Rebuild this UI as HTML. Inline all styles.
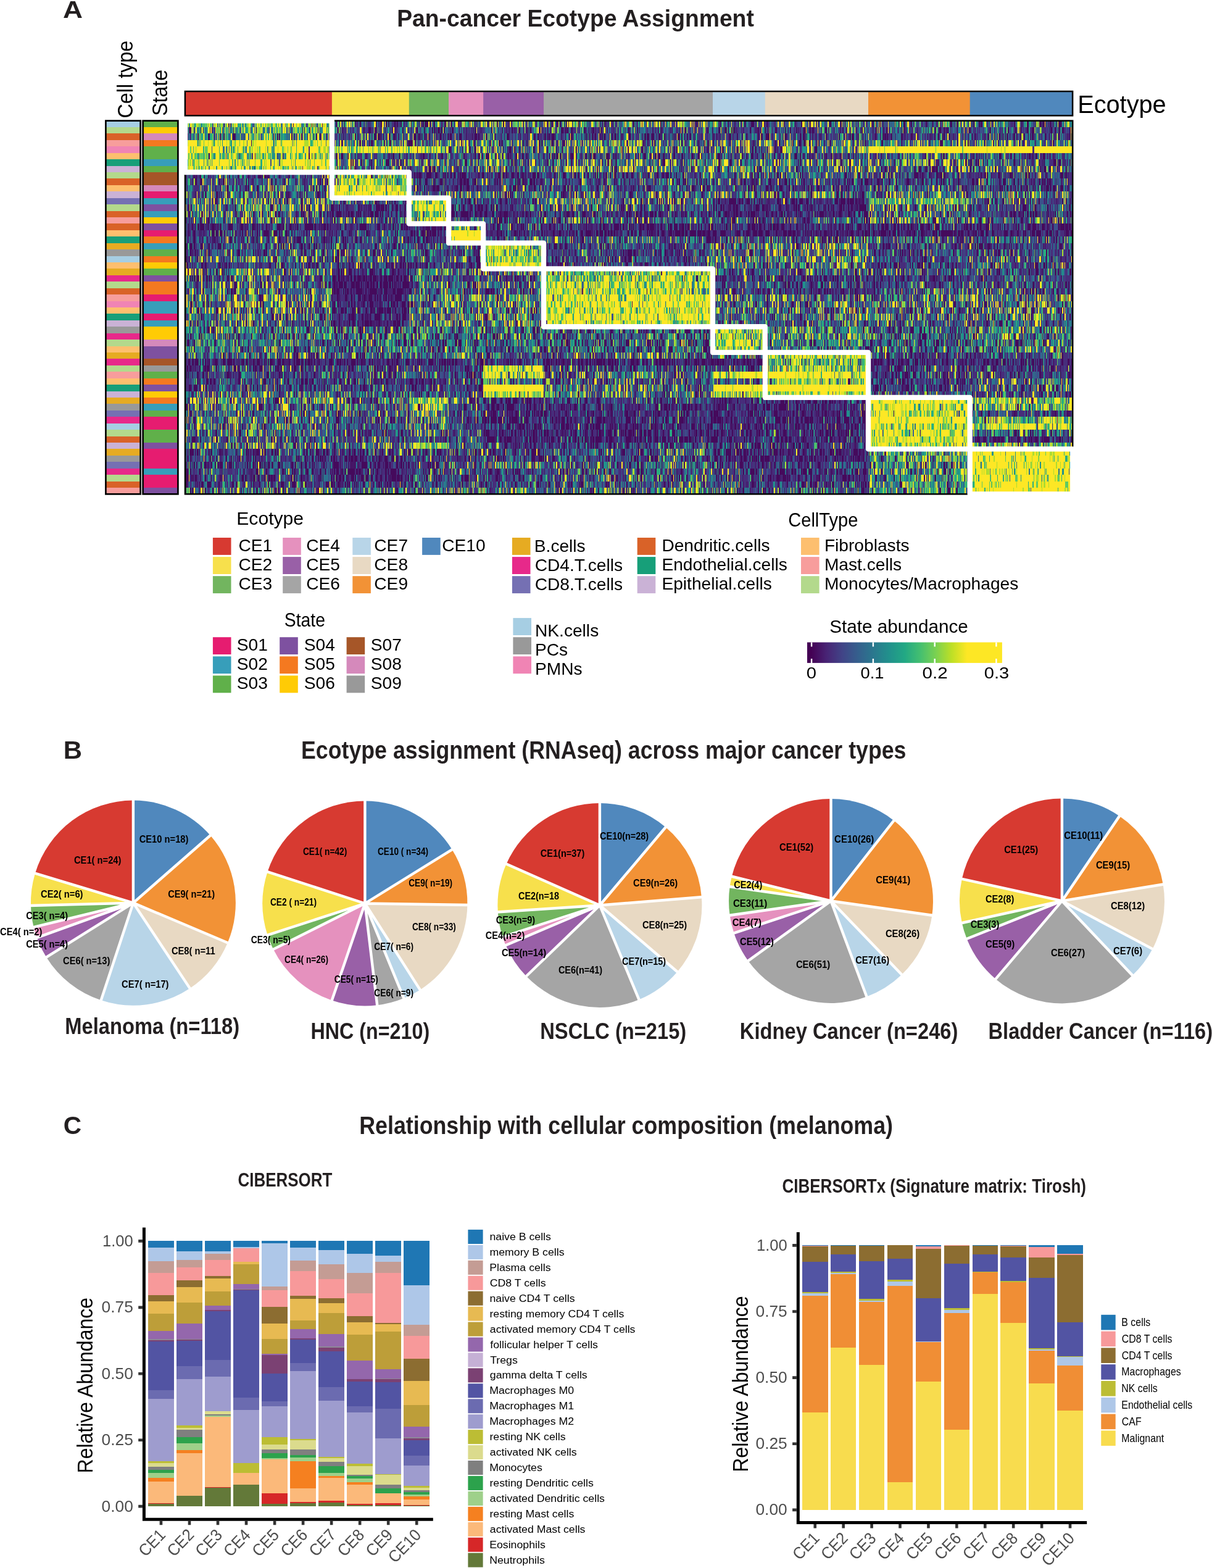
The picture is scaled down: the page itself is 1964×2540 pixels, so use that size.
<!DOCTYPE html>
<html lang="en"><head><meta charset="utf-8"><title>Pan-cancer Ecotype Assignment</title>
<style>html,body{margin:0;padding:0;background:#fff}svg{display:block}text{font-family:"Liberation Sans",sans-serif;white-space:pre}</style></head>
<body>
<svg width="1964" height="2540" viewBox="0 0 1964 2540">
<rect width="1964" height="2540" fill="#fff"/>
<defs><linearGradient id="vir" x1="0" x2="1" y1="0" y2="0"><stop offset="0.02" stop-color="#440154"/><stop offset="0.1" stop-color="#482475"/><stop offset="0.18" stop-color="#414487"/><stop offset="0.26" stop-color="#355F8D"/><stop offset="0.34" stop-color="#2A788E"/><stop offset="0.42" stop-color="#21918C"/><stop offset="0.5" stop-color="#22A884"/><stop offset="0.58" stop-color="#44BF70"/><stop offset="0.66" stop-color="#7AD151"/><stop offset="0.74" stop-color="#BDDF26"/><stop offset="0.82" stop-color="#FDE725"/></linearGradient></defs>
<text transform="translate(103.1 29) translate(-1.06 0) scale(1.1300 1)" font-size="39.24" font-weight="bold" fill="#231F20">A</text>
<text transform="translate(645.6 42.7) translate(-2.46 0) scale(0.9502 1)" font-size="39.24" font-weight="bold" fill="#231F20">Pan-cancer Ecotype Assignment</text>
<text transform="translate(215.4 190) rotate(-90) translate(-1.62 0) scale(0.9174 1)" font-size="35.32">Cell type</text>
<text transform="translate(271.3 186.4) rotate(-90) translate(-1.44 0) scale(0.9076 1)" font-size="35.32">State</text>
<text transform="translate(1749.4 182.7) translate(-3.26 0) scale(0.9595 1)" font-size="41.42">Ecotype</text>
<g shape-rendering="crispEdges">
<rect x="171.4" y="195.6" width="56.2" height="10.93" fill="#A6CEE3"/>
<rect x="171.4" y="206.03" width="56.2" height="10.93" fill="#B3D98C"/>
<rect x="171.4" y="216.45" width="56.2" height="10.93" fill="#D96228"/>
<rect x="171.4" y="226.88" width="56.2" height="10.93" fill="#F79D9C"/>
<rect x="171.4" y="237.31" width="56.2" height="10.93" fill="#F084B4"/>
<rect x="171.4" y="247.73" width="56.2" height="10.93" fill="#FDBF6F"/>
<rect x="171.4" y="258.16" width="56.2" height="10.93" fill="#179F79"/>
<rect x="171.4" y="268.59" width="56.2" height="10.93" fill="#CAB2D6"/>
<rect x="171.4" y="279.02" width="56.2" height="10.93" fill="#B3D98C"/>
<rect x="171.4" y="289.44" width="56.2" height="10.93" fill="#D96228"/>
<rect x="171.4" y="299.87" width="56.2" height="10.93" fill="#FDBF6F"/>
<rect x="171.4" y="310.3" width="56.2" height="10.93" fill="#CAB2D6"/>
<rect x="171.4" y="320.72" width="56.2" height="10.93" fill="#7570B3"/>
<rect x="171.4" y="331.15" width="56.2" height="10.93" fill="#B3D98C"/>
<rect x="171.4" y="341.58" width="56.2" height="10.93" fill="#D96228"/>
<rect x="171.4" y="352" width="56.2" height="10.93" fill="#F79D9C"/>
<rect x="171.4" y="362.43" width="56.2" height="10.93" fill="#D96228"/>
<rect x="171.4" y="372.86" width="56.2" height="10.93" fill="#FDBF6F"/>
<rect x="171.4" y="383.29" width="56.2" height="10.93" fill="#179F79"/>
<rect x="171.4" y="393.71" width="56.2" height="10.93" fill="#E6AB22"/>
<rect x="171.4" y="404.14" width="56.2" height="10.93" fill="#999999"/>
<rect x="171.4" y="414.57" width="56.2" height="10.93" fill="#A6CEE3"/>
<rect x="171.4" y="424.99" width="56.2" height="10.93" fill="#FDBF6F"/>
<rect x="171.4" y="435.42" width="56.2" height="10.93" fill="#E6AB22"/>
<rect x="171.4" y="445.85" width="56.2" height="10.93" fill="#E7298A"/>
<rect x="171.4" y="456.27" width="56.2" height="10.93" fill="#B3D98C"/>
<rect x="171.4" y="466.7" width="56.2" height="10.93" fill="#D96228"/>
<rect x="171.4" y="477.13" width="56.2" height="10.93" fill="#F79D9C"/>
<rect x="171.4" y="487.56" width="56.2" height="10.93" fill="#F084B4"/>
<rect x="171.4" y="497.98" width="56.2" height="10.93" fill="#FDBF6F"/>
<rect x="171.4" y="508.41" width="56.2" height="10.93" fill="#179F79"/>
<rect x="171.4" y="518.84" width="56.2" height="10.93" fill="#CAB2D6"/>
<rect x="171.4" y="529.26" width="56.2" height="10.93" fill="#999999"/>
<rect x="171.4" y="539.69" width="56.2" height="10.93" fill="#E7298A"/>
<rect x="171.4" y="550.12" width="56.2" height="10.93" fill="#B3D98C"/>
<rect x="171.4" y="560.54" width="56.2" height="10.93" fill="#FDBF6F"/>
<rect x="171.4" y="570.97" width="56.2" height="10.93" fill="#E6AB22"/>
<rect x="171.4" y="581.4" width="56.2" height="10.93" fill="#E7298A"/>
<rect x="171.4" y="591.83" width="56.2" height="10.93" fill="#B3D98C"/>
<rect x="171.4" y="602.25" width="56.2" height="10.93" fill="#F79D9C"/>
<rect x="171.4" y="612.68" width="56.2" height="10.93" fill="#FDBF6F"/>
<rect x="171.4" y="623.11" width="56.2" height="10.93" fill="#179F79"/>
<rect x="171.4" y="633.53" width="56.2" height="10.93" fill="#CAB2D6"/>
<rect x="171.4" y="643.96" width="56.2" height="10.93" fill="#E6AB22"/>
<rect x="171.4" y="654.39" width="56.2" height="10.93" fill="#999999"/>
<rect x="171.4" y="664.81" width="56.2" height="10.93" fill="#7570B3"/>
<rect x="171.4" y="675.24" width="56.2" height="10.93" fill="#E7298A"/>
<rect x="171.4" y="685.67" width="56.2" height="10.93" fill="#A6CEE3"/>
<rect x="171.4" y="696.1" width="56.2" height="10.93" fill="#B3D98C"/>
<rect x="171.4" y="706.52" width="56.2" height="10.93" fill="#D96228"/>
<rect x="171.4" y="716.95" width="56.2" height="10.93" fill="#CAB2D6"/>
<rect x="171.4" y="727.38" width="56.2" height="10.93" fill="#E6AB22"/>
<rect x="171.4" y="737.8" width="56.2" height="10.93" fill="#999999"/>
<rect x="171.4" y="748.23" width="56.2" height="10.93" fill="#7570B3"/>
<rect x="171.4" y="758.66" width="56.2" height="10.93" fill="#E7298A"/>
<rect x="171.4" y="769.09" width="56.2" height="10.93" fill="#B3D98C"/>
<rect x="171.4" y="779.51" width="56.2" height="10.93" fill="#D96228"/>
<rect x="171.4" y="789.94" width="56.2" height="10.93" fill="#F79D9C"/>
</g>
<rect x="171.4" y="195.6" width="56.2" height="604.77" fill="none" stroke="#000" stroke-width="2.7"/>
<g shape-rendering="crispEdges">
<rect x="231.6" y="195.6" width="56.8" height="10.93" fill="#60B04A"/>
<rect x="231.6" y="206.03" width="56.8" height="10.93" fill="#FFCB05"/>
<rect x="231.6" y="216.45" width="56.8" height="10.93" fill="#D589BB"/>
<rect x="231.6" y="226.88" width="56.8" height="10.93" fill="#F47920"/>
<rect x="231.6" y="237.31" width="56.8" height="21.35" fill="#60B04A"/>
<rect x="231.6" y="258.16" width="56.8" height="10.93" fill="#379EBA"/>
<rect x="231.6" y="268.59" width="56.8" height="10.93" fill="#60B04A"/>
<rect x="231.6" y="279.02" width="56.8" height="21.35" fill="#A65628"/>
<rect x="231.6" y="299.87" width="56.8" height="10.93" fill="#D589BB"/>
<rect x="231.6" y="310.3" width="56.8" height="10.93" fill="#E61C70"/>
<rect x="231.6" y="320.72" width="56.8" height="10.93" fill="#379EBA"/>
<rect x="231.6" y="331.15" width="56.8" height="10.93" fill="#7E51A0"/>
<rect x="231.6" y="341.58" width="56.8" height="10.93" fill="#379EBA"/>
<rect x="231.6" y="352" width="56.8" height="10.93" fill="#FFCB05"/>
<rect x="231.6" y="362.43" width="56.8" height="10.93" fill="#7E51A0"/>
<rect x="231.6" y="372.86" width="56.8" height="10.93" fill="#E61C70"/>
<rect x="231.6" y="383.29" width="56.8" height="10.93" fill="#F47920"/>
<rect x="231.6" y="393.71" width="56.8" height="10.93" fill="#379EBA"/>
<rect x="231.6" y="404.14" width="56.8" height="10.93" fill="#60B04A"/>
<rect x="231.6" y="414.57" width="56.8" height="10.93" fill="#F47920"/>
<rect x="231.6" y="424.99" width="56.8" height="10.93" fill="#FFCB05"/>
<rect x="231.6" y="435.42" width="56.8" height="10.93" fill="#60B04A"/>
<rect x="231.6" y="445.85" width="56.8" height="10.93" fill="#7E51A0"/>
<rect x="231.6" y="456.27" width="56.8" height="21.35" fill="#F47920"/>
<rect x="231.6" y="477.13" width="56.8" height="10.93" fill="#E61C70"/>
<rect x="231.6" y="487.56" width="56.8" height="21.35" fill="#379EBA"/>
<rect x="231.6" y="508.41" width="56.8" height="10.93" fill="#E61C70"/>
<rect x="231.6" y="518.84" width="56.8" height="10.93" fill="#379EBA"/>
<rect x="231.6" y="529.26" width="56.8" height="21.35" fill="#FFCB05"/>
<rect x="231.6" y="550.12" width="56.8" height="10.93" fill="#D589BB"/>
<rect x="231.6" y="560.54" width="56.8" height="21.35" fill="#7E51A0"/>
<rect x="231.6" y="581.4" width="56.8" height="10.93" fill="#A65628"/>
<rect x="231.6" y="591.83" width="56.8" height="10.93" fill="#999999"/>
<rect x="231.6" y="602.25" width="56.8" height="10.93" fill="#60B04A"/>
<rect x="231.6" y="612.68" width="56.8" height="10.93" fill="#F47920"/>
<rect x="231.6" y="623.11" width="56.8" height="10.93" fill="#7E51A0"/>
<rect x="231.6" y="633.53" width="56.8" height="10.93" fill="#FFCB05"/>
<rect x="231.6" y="643.96" width="56.8" height="10.93" fill="#F47920"/>
<rect x="231.6" y="654.39" width="56.8" height="10.93" fill="#379EBA"/>
<rect x="231.6" y="664.81" width="56.8" height="10.93" fill="#60B04A"/>
<rect x="231.6" y="675.24" width="56.8" height="21.35" fill="#E61C70"/>
<rect x="231.6" y="696.1" width="56.8" height="21.35" fill="#60B04A"/>
<rect x="231.6" y="716.95" width="56.8" height="10.93" fill="#7E51A0"/>
<rect x="231.6" y="727.38" width="56.8" height="31.78" fill="#E61C70"/>
<rect x="231.6" y="758.66" width="56.8" height="10.93" fill="#379EBA"/>
<rect x="231.6" y="769.09" width="56.8" height="21.35" fill="#E61C70"/>
<rect x="231.6" y="789.94" width="56.8" height="10.93" fill="#7E51A0"/>
</g>
<rect x="231.6" y="195.6" width="56.8" height="604.77" fill="none" stroke="#000" stroke-width="2.7"/>
<rect x="300" y="148" width="238.5" height="39.3" fill="#D73A31"/>
<rect x="537.9" y="148" width="125.5" height="39.3" fill="#F7E04C"/>
<rect x="662.8" y="148" width="64.8" height="39.3" fill="#72B55F"/>
<rect x="727" y="148" width="56.7" height="39.3" fill="#E591BE"/>
<rect x="783.1" y="148" width="98.5" height="39.3" fill="#9960A7"/>
<rect x="881" y="148" width="274.6" height="39.3" fill="#A5A5A5"/>
<rect x="1155" y="148" width="85.4" height="39.3" fill="#B8D5E8"/>
<rect x="1239.8" y="148" width="167.8" height="39.3" fill="#E8D9C3"/>
<rect x="1407" y="148" width="165.3" height="39.3" fill="#F29236"/>
<rect x="1571.7" y="148" width="167.1" height="39.3" fill="#5088BD"/>
<rect x="299.9" y="148" width="1438.2" height="39.3" fill="none" stroke="#000" stroke-width="2.5"/>
<g><g transform="translate(300 195.6) scale(1.20050 10.42700)" shape-rendering="crispEdges" fill="none" stroke-width="1">
<rect x="0" y="0" width="1198" height="58" fill="#450A5C" stroke="none"/>
<path stroke="#472D7B" d="M52 0.5h1m110 0h2m13 0h1m33 0h1m17 0h4m1 0h1m6 0h1m3 0h5m7 0h1m2 0h1m1 0h1m8 0h1m4 0h1m1 0h3m2 0h2m2 0h2m5 0h2m11 0h1m7 0h1m1 0h3m10 0h1m3 0h1m9 0h3m1 0h2m4 0h1m2 0h1m4 0h1m5 0h3m5 0h1m7 0h1m4 0h2m6 0h1m33 0h1m1 0h3m19 0h1m4 0h1m2 0h1m7 0h3m3 0h1m9 0h1m1 0h1m5 0h1m5 0h1m12 0h1m6 0h1m10 0h1m5 0h1m2 0h1m2 0h1m16 0h3m2 0h3m1 0h1m3 0h2m4 0h2m5 0h1m4 0h1m10 0h1m2 0h1m1 0h2m15 0h2m4 0h1m1 0h1m3 0h1m6 0h1m8 0h1m2 0h1m1 0h2m1 0h2m7 0h1m11 0h1m1 0h1m1 0h3m7 0h1m5 0h1m3 0h1m12 0h2m1 0h1m4 0h2m2 0h1m6 0h1m2 0h2m6 0h2m4 0h1m5 0h1m6 0h2m4 0h1m1 0h2m3 0h2m2 0h3m3 0h1m1 0h4m1 0h1m9 0h1m4 0h1m4 0h1m4 0h2m10 0h1m5 0h2m4 0h1m2 0h2m2 0h1m8 0h1m12 0h2m5 0h1m3 0h1m1 0h1m10 0h1m1 0h1m1 0h1m2 0h2m2 0h1m2 0h2m2 0h2m5 0h2m13 0h1m2 0h1m2 0h1m9 0h1m1 0h1m12 0h1m1 0h1m3 0h2m3 0h2m3 0h1m5 0h2m2 0h2m3 0h1m5 0h1m3 0h2m4 0h1m12 0h1m3 0h1m1 0h1m7 0h1m4 0h1m5 0h1m2 0h1m12 0h1m8 0h2m5 0h2m6 0h1m2 0h1m5 0h1m7 0h4m9 0h1m3 0h1m13 0h2m15 0h1m1 0h2m3 0h2m12 0h1m4 0h1M12 1.5h1m37 0h1m9 0h1m7 0h1m44 0h1m27 0h1m38 0h1m17 0h1m1 0h1m4 0h1m5 0h1m1 0h5m4 0h2m2 0h2m4 0h2m1 0h1m4 0h1m2 0h2m1 0h1m4 0h3m3 0h1m1 0h1m1 0h1m1 0h1m3 0h1m2 0h1m5 0h1m1 0h2m2 0h2m1 0h2m14 0h1m9 0h1m2 0h1m3 0h1m6 0h1m11 0h2m16 0h1m16 0h1m2 0h3m2 0h2m3 0h4m3 0h1m1 0h1m1 0h3m1 0h3m1 0h1m13 0h1m8 0h1m3 0h3m2 0h1m2 0h1m2 0h3m1 0h2m5 0h1m2 0h2m2 0h1m6 0h1m9 0h1m3 0h3m2 0h1m3 0h1m1 0h1m6 0h1m1 0h1m3 0h1m5 0h2m2 0h1m1 0h1m1 0h1m3 0h4m2 0h1m1 0h2m2 0h1m5 0h1m4 0h1m2 0h1m4 0h3m5 0h3m4 0h1m2 0h1m2 0h4m2 0h1m1 0h3m1 0h2m3 0h1m4 0h1m2 0h1m3 0h1m16 0h1m1 0h2m2 0h1m2 0h1m3 0h2m1 0h2m4 0h1m4 0h1m3 0h1m2 0h2m5 0h4m4 0h1m9 0h2m3 0h1m6 0h3m1 0h1m1 0h1m3 0h3m1 0h1m5 0h1m19 0h1m11 0h3m1 0h1m1 0h4m2 0h1m1 0h1m5 0h1m5 0h1m1 0h1m2 0h2m8 0h2m2 0h1m1 0h2m6 0h1m1 0h2m5 0h1m12 0h3m4 0h4m1 0h2m7 0h1m2 0h1m3 0h2m1 0h2m1 0h1m2 0h2m3 0h1m4 0h1m4 0h1m1 0h2m2 0h1m1 0h1m1 0h1m1 0h1m5 0h2m12 0h1m2 0h1m7 0h2m3 0h2m3 0h1m2 0h1m1 0h1m3 0h1m2 0h1m2 0h1m1 0h2m3 0h1m1 0h1m3 0h1m2 0h1m3 0h3m4 0h1m2 0h2m4 0h1m2 0h3m3 0h3m2 0h2m13 0h1m4 0h1m4 0h2m2 0h1m1 0h1m2 0h2m1 0h1m12 0h1m11 0h1m3 0h2m2 0h1m2 0h4m1 0h1m1 0h2m4 0h1m6 0h2m13 0h3m16 0h2m2 0h1m2 0h1m3 0h1m1 0h2m1 0h2m4 0h3m13 0h7m1 0h1m5 0h1m4 0h1m1 0h1m2 0h1m5 0h3m1 0h1m1 0h1m3 0h1M7 2.5h1m31 0h2m99 0h1m6 0h1m2 0h2m9 0h1m6 0h1m14 0h1m7 0h1m4 0h2m1 0h1m1 0h1m1 0h3m1 0h1m4 0h1m2 0h2m1 0h1m1 0h3m1 0h2m7 0h2m6 0h1m2 0h2m2 0h2m2 0h1m10 0h1m1 0h1m2 0h1m2 0h2m10 0h1m1 0h1m2 0h1m1 0h1m3 0h1m2 0h2m5 0h2m2 0h1m4 0h1m1 0h1m7 0h1m1 0h2m2 0h1m6 0h1m2 0h3m4 0h1m2 0h1m1 0h1m4 0h1m3 0h1m2 0h1m1 0h1m7 0h1m2 0h1m1 0h1m1 0h7m1 0h3m3 0h2m1 0h5m5 0h1m9 0h2m3 0h1m1 0h1m1 0h2m3 0h1m5 0h2m2 0h1m4 0h1m2 0h3m4 0h6m3 0h1m4 0h1m6 0h5m3 0h1m2 0h1m1 0h1m1 0h3m13 0h3m6 0h2m4 0h2m3 0h1m17 0h1m4 0h2m2 0h1m5 0h1m5 0h1m9 0h1m1 0h1m3 0h1m5 0h1m1 0h1m6 0h1m2 0h1m1 0h3m2 0h5m5 0h1m7 0h1m1 0h2m11 0h1m1 0h1m7 0h1m1 0h2m5 0h1m2 0h1m16 0h1m12 0h4m6 0h3m2 0h1m2 0h1m1 0h1m2 0h1m1 0h3m4 0h2m1 0h1m2 0h3m4 0h3m2 0h1m4 0h1m2 0h1m7 0h1m3 0h1m8 0h1m2 0h1m7 0h1m7 0h2m8 0h2m1 0h1m7 0h2m3 0h1m8 0h2m3 0h1m4 0h1m7 0h1m2 0h2m1 0h1m1 0h1m2 0h1m1 0h1m1 0h1m6 0h3m2 0h2m2 0h1m3 0h2m8 0h2m2 0h1m1 0h2m10 0h2m3 0h1m2 0h1m5 0h1m5 0h4m2 0h2m3 0h2m3 0h1m2 0h1m2 0h4m3 0h1m1 0h2m9 0h2m1 0h1m1 0h2m2 0h2m2 0h4m3 0h2m4 0h1m2 0h2m1 0h1m2 0h1m1 0h2m2 0h1m1 0h2m1 0h1m2 0h1m4 0h1m1 0h1m8 0h1m2 0h3m3 0h1m2 0h1m2 0h2m2 0h1m7 0h1m1 0h1m3 0h3m3 0h1m1 0h2m2 0h1m2 0h2m9 0h1m1 0h2m7 0h1m1 0h1m3 0h1m5 0h1m4 0h2m3 0h1m4 0h1m8 0h1m4 0h1m5 0h1m3 0h2m5 0h2m1 0h1m3 0h1m3 0h2m5 0h1m1 0h1m2 0h1m2 0h3m1 0h2M200 3.5h2m2 0h1m2 0h2m3 0h1m4 0h1m6 0h1m2 0h2m12 0h2m2 0h1m1 0h2m4 0h1m6 0h1m4 0h1m18 0h1m6 0h1m2 0h1m16 0h1m2 0h1m6 0h1m3 0h2m10 0h1m4 0h2m3 0h1m20 0h1m3 0h1m2 0h1m6 0h3m6 0h1m2 0h1m15 0h2m4 0h1m8 0h2m5 0h1m8 0h1m5 0h1m4 0h1m5 0h1m26 0h1m6 0h1m1 0h1m6 0h2m5 0h2m2 0h1m1 0h1m7 0h1m10 0h1m1 0h2m16 0h1m9 0h3m3 0h1m1 0h1m15 0h2m7 0h1m10 0h1m1 0h1m8 0h1m1 0h2m3 0h2m3 0h2m11 0h1m1 0h1m6 0h2m3 0h1m1 0h1m14 0h3m2 0h1m12 0h1m1 0h1m7 0h1m3 0h2m1 0h1m7 0h1m2 0h2m1 0h1m11 0h2m12 0h2m1 0h1m2 0h1m8 0h3m3 0h1m12 0h1m10 0h2m5 0h1m1 0h1m6 0h1m7 0h1m7 0h1m4 0h1m21 0h1m4 0h1m3 0h1m5 0h1m2 0h2m1 0h1m12 0h2m2 0h1m10 0h1m3 0h2m1 0h1m2 0h1m1 0h2m4 0h1m6 0h1m31 0h1m1 0h1m5 0h2m9 0h2m12 0h1m3 0h1m7 0h1m12 0h1m10 0h1m4 0h2m8 0h1m15 0h1m1 0h1m2 0h2m1 0h2m13 0h1m8 0h1m6 0h1m9 0h2m8 0h3m11 0h2m5 0h1m6 0h1m12 0h2m6 0h3m11 0h1m6 0h1m6 0h1M167 4.5h1m191 0h1m10 0h1m7 0h1m11 0h1m1 0h1m2 0h1m4 0h1m6 0h1m6 0h3m1 0h1m13 0h1m3 0h1m16 0h1m4 0h2m1 0h1m2 0h1m8 0h1m1 0h1m2 0h2m17 0h1m5 0h2m4 0h2m4 0h1m4 0h2m1 0h2m10 0h1m6 0h1m3 0h1m9 0h1m8 0h1m6 0h1m9 0h2m19 0h1m11 0h1m2 0h1m1 0h1m6 0h1m13 0h1m4 0h1m4 0h1m3 0h1m12 0h1m7 0h1m15 0h1m7 0h2m1 0h2m1 0h1m3 0h1m1 0h1m1 0h1m8 0h1m9 0h2m6 0h2m1 0h1m10 0h1m2 0h1m3 0h2m2 0h2m1 0h1m5 0h1m1 0h1m3 0h1m3 0h2m1 0h1m3 0h1m1 0h2m4 0h1m16 0h1m7 0h2m3 0h2m11 0h1m4 0h1m4 0h1m9 0h1m4 0h3m7 0h1m3 0h1m5 0h1m3 0h1m12 0h3m11 0h1m224 0h2M55 5.5h1m68 0h1m7 0h1m65 0h2m1 0h1m5 0h1m2 0h1m2 0h1m1 0h1m1 0h1m10 0h1m4 0h6m6 0h2m5 0h1m1 0h6m13 0h2m1 0h1m15 0h1m1 0h1m1 0h1m1 0h1m1 0h1m2 0h3m8 0h1m1 0h2m1 0h2m2 0h4m2 0h1m1 0h1m1 0h1m4 0h1m2 0h1m2 0h2m5 0h3m5 0h3m3 0h4m8 0h4m4 0h2m1 0h2m2 0h1m2 0h1m14 0h1m3 0h1m4 0h1m5 0h1m3 0h1m5 0h1m1 0h2m1 0h2m2 0h1m5 0h3m6 0h2m12 0h1m2 0h3m1 0h1m1 0h2m1 0h1m3 0h1m1 0h1m18 0h1m3 0h1m2 0h1m6 0h1m2 0h1m4 0h3m4 0h2m1 0h1m6 0h1m4 0h1m4 0h1m3 0h2m7 0h2m4 0h1m3 0h1m12 0h2m15 0h1m4 0h2m4 0h1m2 0h2m3 0h2m4 0h2m4 0h1m2 0h1m5 0h3m2 0h1m5 0h1m1 0h3m11 0h2m2 0h1m7 0h1m5 0h1m4 0h1m4 0h1m16 0h1m2 0h2m12 0h2m2 0h1m8 0h1m4 0h1m9 0h3m1 0h1m5 0h1m12 0h1m6 0h2m1 0h1m8 0h1m15 0h1m6 0h1m9 0h2m1 0h1m2 0h1m1 0h1m2 0h2m2 0h2m1 0h1m1 0h1m1 0h1m1 0h1m1 0h2m3 0h3m1 0h3m2 0h1m3 0h1m1 0h2m7 0h1m2 0h2m7 0h1m1 0h1m10 0h2m2 0h4m1 0h1m1 0h1m2 0h1m3 0h2m5 0h2m10 0h2m4 0h3m14 0h1m10 0h4m5 0h1m3 0h3m9 0h1m5 0h2m5 0h1m2 0h1m9 0h1m2 0h1m10 0h2m7 0h1m2 0h1m1 0h1m6 0h1m1 0h1m2 0h1m16 0h1m3 0h1m1 0h3m3 0h1m5 0h1m3 0h2m2 0h3m2 0h1m1 0h1m4 0h3m2 0h1m7 0h1m2 0h1m5 0h2m1 0h1m1 0h1m1 0h2m1 0h2m2 0h1m2 0h1m2 0h3m5 0h1m3 0h1m1 0h1M204 6.5h1m7 0h1m1 0h1m14 0h4m9 0h1m5 0h1m4 0h1m5 0h1m2 0h2m15 0h4m3 0h2m2 0h1m6 0h3m16 0h1m1 0h2m7 0h3m9 0h1m11 0h1m8 0h1m1 0h3m1 0h1m4 0h1m1 0h1m12 0h1m12 0h1m15 0h1m8 0h1m11 0h2m3 0h1m9 0h1m2 0h1m1 0h1m1 0h1m3 0h1m9 0h1m11 0h1m1 0h3m8 0h1m12 0h1m4 0h1m6 0h1m5 0h1m2 0h2m13 0h1m2 0h1m3 0h1m6 0h1m2 0h1m12 0h1m2 0h1m2 0h1m4 0h1m1 0h1m8 0h1m6 0h1m14 0h1m5 0h1m3 0h1m1 0h1m4 0h1m16 0h2m20 0h2m8 0h1m3 0h1m7 0h1m2 0h1m4 0h1m4 0h1m12 0h1m8 0h1m8 0h1m3 0h1m11 0h1m4 0h1m3 0h1m4 0h1m7 0h1m2 0h1m1 0h1m3 0h1m2 0h1m4 0h2m2 0h1m5 0h1m14 0h1m4 0h1m4 0h1m4 0h1m11 0h1m1 0h2m18 0h2m5 0h1m7 0h2m1 0h1m3 0h1m11 0h1m2 0h1m3 0h1m4 0h1m6 0h1m2 0h1m1 0h3m2 0h1m19 0h1m2 0h1m7 0h1m9 0h1m2 0h1m3 0h1m20 0h1m1 0h1m5 0h1m2 0h1m2 0h1m2 0h2m11 0h2m2 0h2m21 0h1m1 0h1m3 0h1m2 0h1m6 0h1m3 0h1m1 0h1m10 0h1m3 0h1m1 0h1m4 0h1m1 0h1m13 0h1m2 0h1m5 0h1m1 0h1m1 0h1m1 0h3m2 0h1m1 0h1m1 0h1m9 0h3m9 0h6m3 0h1m1 0h1m6 0h2m4 0h2m4 0h1M158 7.5h1m19 0h2m18 0h3m10 0h2m4 0h1m2 0h1m8 0h1m1 0h2m1 0h1m3 0h4m5 0h1m6 0h2m3 0h1m9 0h2m16 0h1m4 0h2m2 0h2m1 0h1m1 0h1m3 0h2m1 0h2m6 0h1m2 0h1m3 0h4m1 0h1m35 0h3m4 0h2m6 0h2m2 0h1m3 0h1m1 0h2m3 0h1m6 0h1m6 0h1m8 0h1m2 0h1m3 0h3m1 0h2m2 0h1m5 0h1m6 0h4m3 0h3m5 0h1m2 0h1m18 0h1m4 0h1m3 0h3m4 0h1m1 0h1m20 0h1m16 0h1m12 0h1m6 0h1m11 0h1m3 0h1m5 0h1m3 0h1m12 0h1m16 0h1m1 0h2m1 0h2m6 0h3m1 0h1m14 0h1m8 0h1m2 0h1m5 0h1m1 0h1m3 0h2m4 0h1m1 0h1m6 0h3m6 0h1m4 0h1m4 0h1m10 0h1m2 0h1m5 0h1m17 0h1m15 0h1m4 0h1m5 0h1m23 0h1m2 0h1m2 0h1m12 0h1m7 0h1m7 0h2m9 0h1m3 0h1m1 0h1m3 0h1m9 0h1m1 0h4m18 0h1m5 0h1m2 0h2m4 0h1m36 0h1m6 0h3m3 0h1m1 0h1m3 0h3m7 0h2m2 0h1m1 0h1m1 0h2m7 0h1m1 0h2m16 0h2m1 0h3m5 0h1m5 0h2m2 0h2m9 0h1m9 0h1m2 0h3m7 0h1m14 0h1m1 0h1m11 0h2m11 0h2m1 0h1m13 0h1m3 0h1m1 0h2m4 0h1m3 0h1m13 0h1m11 0h1m7 0h1m10 0h5m4 0h1m5 0h1m1 0h1m2 0h2M1 8.5h2m1 0h2m5 0h1m1 0h1m2 0h2m7 0h1m6 0h4m1 0h2m2 0h1m2 0h1m7 0h1m11 0h2m11 0h1m5 0h2m2 0h2m1 0h3m1 0h2m7 0h1m6 0h1m2 0h2m5 0h2m4 0h1m1 0h2m3 0h1m5 0h1m5 0h1m1 0h1m9 0h2m1 0h1m3 0h3m9 0h1m1 0h1m3 0h2m12 0h1m3 0h1m12 0h1m29 0h1m18 0h1m24 0h1m10 0h2m2 0h1m2 0h4m2 0h1m2 0h1m4 0h2m1 0h2m1 0h1m6 0h4m5 0h3m1 0h1m2 0h1m1 0h1m3 0h1m2 0h1m2 0h1m4 0h1m1 0h1m1 0h2m1 0h1m6 0h1m2 0h1m3 0h2m1 0h1m1 0h5m1 0h2m1 0h1m4 0h1m1 0h1m2 0h2m2 0h2m1 0h2m1 0h2m9 0h2m2 0h3m1 0h2m3 0h4m4 0h1m1 0h1m4 0h1m2 0h1m3 0h1m1 0h1m4 0h1m6 0h2m5 0h5m1 0h3m3 0h1m18 0h1m1 0h2m20 0h1m2 0h1m1 0h2m1 0h2m8 0h2m3 0h3m7 0h1m1 0h1m6 0h2m3 0h2m4 0h1m3 0h1m1 0h1m3 0h1m4 0h1m7 0h4m5 0h1m4 0h1m2 0h1m3 0h1m2 0h2m2 0h3m11 0h1m7 0h1m10 0h1m1 0h2m3 0h2m1 0h2m3 0h1m3 0h1m8 0h2m4 0h1m3 0h1m1 0h4m9 0h1m2 0h1m7 0h2m2 0h2m3 0h1m4 0h1m4 0h3m3 0h1m2 0h2m5 0h1m1 0h1m3 0h1m4 0h1m5 0h2m1 0h1m9 0h1m4 0h1m13 0h1m4 0h1m1 0h1m1 0h2m3 0h1m12 0h1m4 0h2m3 0h1m7 0h1m3 0h2m2 0h1m2 0h2m8 0h1m1 0h1m8 0h1m11 0h3m7 0h1m2 0h2m3 0h1m3 0h1m2 0h2m3 0h1m2 0h1m3 0h1m5 0h3m3 0h1m1 0h1m3 0h1m1 0h1m8 0h1m7 0h2m1 0h2m1 0h1m2 0h1m5 0h1m1 0h4m5 0h1m1 0h1m7 0h4m5 0h1m6 0h2m4 0h3m6 0h1m1 0h1m2 0h3m1 0h5m2 0h1m1 0h4m10 0h6m5 0h3m5 0h1m3 0h1m3 0h1m2 0h1m1 0h1m2 0h1m6 0h1m11 0h2m1 0h1m1 0h1m1 0h1m1 0h1m3 0h3m4 0h2m2 0h2m8 0h1m14 0h5M0 9.5h1m1 0h1m4 0h1m2 0h1m5 0h1m1 0h1m6 0h1m4 0h1m2 0h2m2 0h3m7 0h3m4 0h1m2 0h1m1 0h2m3 0h3m2 0h1m1 0h3m2 0h2m1 0h1m6 0h1m1 0h3m1 0h1m2 0h1m5 0h1m2 0h1m10 0h2m14 0h2m15 0h1m1 0h2m2 0h1m1 0h1m2 0h2m1 0h4m12 0h1m2 0h1m1 0h1m2 0h1m1 0h4m14 0h1m25 0h2m52 0h1m16 0h1m6 0h1m3 0h1m2 0h1m5 0h1m5 0h1m2 0h1m1 0h1m7 0h2m7 0h2m3 0h2m3 0h1m3 0h1m2 0h3m3 0h2m3 0h1m7 0h1m1 0h1m4 0h2m6 0h1m1 0h1m6 0h1m1 0h1m5 0h2m2 0h1m1 0h2m4 0h1m6 0h4m8 0h1m2 0h1m3 0h1m1 0h1m1 0h1m13 0h2m1 0h1m1 0h1m1 0h4m6 0h1m1 0h2m16 0h2m1 0h1m1 0h2m8 0h1m2 0h2m10 0h2m1 0h2m3 0h1m1 0h1m2 0h3m3 0h1m2 0h2m1 0h3m11 0h1m1 0h1m5 0h1m3 0h1m2 0h1m3 0h1m2 0h1m2 0h3m1 0h4m1 0h1m2 0h1m2 0h4m8 0h1m1 0h1m5 0h1m15 0h1m5 0h1m1 0h1m5 0h1m2 0h1m2 0h2m5 0h1m1 0h1m1 0h1m6 0h2m7 0h1m6 0h1m1 0h1m2 0h2m5 0h1m2 0h3m1 0h2m1 0h1m5 0h2m8 0h1m1 0h2m5 0h1m1 0h1m1 0h3m1 0h1m4 0h1m6 0h2m3 0h1m2 0h2m4 0h4m1 0h3m2 0h1m2 0h3m11 0h2m2 0h1m4 0h2m2 0h3m1 0h1m1 0h2m1 0h1m2 0h2m5 0h3m7 0h1m2 0h2m4 0h1m2 0h3m6 0h1m5 0h1m2 0h1m1 0h1m1 0h1m1 0h2m3 0h1m4 0h4m11 0h4m1 0h1m2 0h1m1 0h1m4 0h1m3 0h1m2 0h1m1 0h2m11 0h1m3 0h2m1 0h1m4 0h3m7 0h2m2 0h1m4 0h1m8 0h1m2 0h1m3 0h1m1 0h1m6 0h1m2 0h2m11 0h2m3 0h1m1 0h2m8 0h1m1 0h1m1 0h1m4 0h1m1 0h1m1 0h1m4 0h2m5 0h2m1 0h1m1 0h1m2 0h1m5 0h2m1 0h2m1 0h1m1 0h1m1 0h1m2 0h2m8 0h1m4 0h2m10 0h1m3 0h1m7 0h3m1 0h2m1 0h1m3 0h1m3 0h1m3 0h1m1 0h1m2 0h1m1 0h1m3 0h2m6 0h1m5 0h2m7 0h5M2 10.5h1m7 0h1m1 0h7m1 0h1m2 0h1m2 0h5m3 0h1m2 0h1m3 0h2m1 0h1m2 0h2m2 0h1m2 0h1m3 0h1m4 0h1m1 0h1m2 0h3m3 0h2m2 0h1m1 0h2m2 0h1m6 0h3m5 0h1m8 0h1m10 0h1m1 0h1m2 0h2m2 0h1m8 0h1m7 0h1m3 0h1m12 0h2m8 0h1m14 0h1m5 0h1m114 0h2m2 0h1m3 0h1m3 0h1m4 0h4m2 0h3m4 0h1m8 0h1m3 0h1m2 0h1m3 0h1m2 0h3m1 0h1m2 0h1m7 0h4m6 0h3m3 0h2m2 0h3m3 0h2m1 0h1m1 0h1m3 0h2m3 0h4m1 0h1m1 0h1m4 0h1m4 0h2m2 0h1m1 0h1m10 0h4m1 0h1m2 0h1m5 0h1m1 0h2m2 0h1m2 0h1m8 0h1m3 0h2m3 0h2m7 0h3m2 0h1m3 0h2m6 0h2m1 0h2m1 0h1m2 0h1m1 0h2m2 0h1m2 0h1m11 0h2m2 0h1m2 0h2m2 0h1m1 0h1m5 0h1m1 0h1m4 0h1m8 0h2m1 0h1m2 0h3m2 0h2m3 0h1m1 0h2m1 0h2m13 0h1m3 0h1m1 0h1m5 0h1m14 0h3m2 0h2m4 0h2m10 0h1m5 0h1m4 0h2m11 0h1m8 0h1m1 0h2m1 0h1m1 0h1m8 0h2m1 0h3m2 0h1m3 0h2m2 0h2m1 0h3m5 0h2m4 0h1m1 0h2m1 0h3m5 0h2m5 0h2m4 0h1m2 0h1m3 0h1m3 0h2m5 0h1m6 0h1m4 0h2m3 0h1m2 0h1m1 0h1m6 0h1m1 0h2m1 0h5m3 0h1m1 0h3m3 0h1m1 0h4m1 0h2m4 0h2m4 0h1m4 0h1m1 0h1m9 0h1m1 0h1m2 0h1m3 0h3m4 0h1m2 0h1m2 0h2m6 0h2m1 0h3m1 0h1m2 0h1m1 0h1m6 0h1m7 0h1m2 0h1m4 0h1m1 0h1m22 0h1m2 0h1m7 0h1m1 0h1m1 0h1m1 0h1m4 0h1m3 0h2m2 0h1m11 0h4m12 0h1m2 0h1m4 0h1m7 0h1m1 0h1m1 0h1m1 0h4m4 0h1m5 0h1m4 0h1m1 0h1m1 0h3m8 0h1m5 0h1m3 0h2m5 0h1m3 0h1m9 0h1m1 0h3m1 0h1m10 0h3m4 0h1m1 0h1m8 0h1m6 0h3m9 0h1m9 0h1m10 0h1m1 0h1M3 11.5h2m1 0h1m3 0h3m1 0h2m1 0h2m9 0h1m5 0h1m2 0h1m1 0h1m4 0h1m26 0h1m15 0h2m8 0h1m1 0h1m1 0h1m2 0h1m2 0h3m2 0h1m7 0h1m7 0h3m5 0h1m1 0h1m2 0h2m8 0h2m4 0h2m4 0h1m13 0h1m4 0h1m2 0h1m116 0h1m6 0h1m2 0h2m2 0h1m6 0h1m1 0h2m6 0h4m3 0h1m4 0h1m2 0h2m5 0h1m3 0h1m1 0h1m4 0h1m3 0h1m9 0h1m12 0h1m6 0h1m6 0h1m9 0h2m2 0h1m2 0h1m3 0h2m1 0h1m17 0h1m1 0h1m1 0h2m1 0h1m7 0h2m4 0h1m4 0h1m1 0h1m6 0h2m4 0h2m6 0h2m9 0h1m2 0h1m1 0h3m1 0h1m2 0h1m1 0h3m7 0h2m1 0h1m10 0h3m3 0h5m8 0h2m1 0h1m14 0h2m3 0h1m3 0h1m5 0h1m3 0h1m6 0h1m2 0h1m6 0h2m1 0h1m4 0h1m4 0h1m2 0h1m6 0h1m3 0h1m9 0h3m11 0h1m1 0h2m5 0h1m5 0h3m7 0h1m2 0h2m3 0h1m5 0h1m1 0h1m1 0h1m5 0h3m6 0h1m1 0h1m6 0h4m10 0h2m6 0h1m7 0h2m1 0h1m4 0h2m1 0h1m1 0h2m4 0h2m2 0h1m4 0h1m2 0h1m1 0h1m6 0h2m2 0h4m3 0h1m7 0h2m4 0h1m8 0h1m3 0h1m1 0h1m4 0h1m2 0h1m2 0h1m12 0h1m3 0h1m10 0h1m2 0h1m1 0h1m1 0h3m7 0h3m1 0h3m8 0h1m15 0h3m5 0h3m9 0h1m4 0h1m4 0h1m1 0h1m10 0h1m8 0h1m10 0h2m4 0h1m3 0h1m18 0h2m5 0h1m1 0h1m10 0h1m3 0h1m2 0h1m4 0h2m15 0h1m14 0h1m1 0h2m1 0h2m2 0h2m6 0h1m1 0h1m3 0h1m1 0h1m3 0h1m7 0h2m7 0h2m1 0h1m6 0h1m5 0h1m6 0h1m6 0h1m2 0h1m7 0h3m2 0h1m9 0h4M3 12.5h2m15 0h2m1 0h1m9 0h1m2 0h2m3 0h1m1 0h2m5 0h1m16 0h1m11 0h2m2 0h2m6 0h1m2 0h1m6 0h1m2 0h1m5 0h1m4 0h1m5 0h1m1 0h1m2 0h2m3 0h1m1 0h3m3 0h1m1 0h1m3 0h1m1 0h1m3 0h1m4 0h1m6 0h1m4 0h3m11 0h1m7 0h1m4 0h1m5 0h1m7 0h3m4 0h1m2 0h1m4 0h1m4 0h1m3 0h4m2 0h1m8 0h1m15 0h1m1 0h1m17 0h1m1 0h1m1 0h1m7 0h1m2 0h1m56 0h2m2 0h1m1 0h1m3 0h1m5 0h1m1 0h1m5 0h2m7 0h1m3 0h3m2 0h2m5 0h2m2 0h2m2 0h1m2 0h1m1 0h2m2 0h3m2 0h1m1 0h1m1 0h1m3 0h1m5 0h4m1 0h1m2 0h4m2 0h4m6 0h1m2 0h1m2 0h1m2 0h1m2 0h3m2 0h1m7 0h1m11 0h1m1 0h2m14 0h1m2 0h1m9 0h1m2 0h1m3 0h1m1 0h1m1 0h1m2 0h1m1 0h1m9 0h1m2 0h2m3 0h1m3 0h1m1 0h3m2 0h2m8 0h3m6 0h1m8 0h1m13 0h1m1 0h1m6 0h1m6 0h1m6 0h1m1 0h1m2 0h3m5 0h3m12 0h1m3 0h2m1 0h1m2 0h1m1 0h3m2 0h1m6 0h1m6 0h2m2 0h1m2 0h1m2 0h1m3 0h1m8 0h4m1 0h3m12 0h2m3 0h1m2 0h1m3 0h1m4 0h1m2 0h1m3 0h1m1 0h3m4 0h1m5 0h2m1 0h1m1 0h7m6 0h1m1 0h1m9 0h1m3 0h1m4 0h2m9 0h3m4 0h1m3 0h1m2 0h1m1 0h1m2 0h3m1 0h1m1 0h3m2 0h2m1 0h4m5 0h1m5 0h1m1 0h1m7 0h2m2 0h1m7 0h1m2 0h1m1 0h1m1 0h1m1 0h1m2 0h1m29 0h1m25 0h1m8 0h3m94 0h2m1 0h2m10 0h1m1 0h2m4 0h1m6 0h1m2 0h1m7 0h1m1 0h2m6 0h1m3 0h1m7 0h1m7 0h1m1 0h1m7 0h1m3 0h1m2 0h1m1 0h3m1 0h4m1 0h3m1 0h1m14 0h1M3 13.5h1m3 0h1m6 0h1m10 0h1m3 0h1m2 0h1m3 0h1m4 0h1m2 0h1m7 0h1m2 0h1m1 0h1m2 0h1m3 0h2m9 0h2m11 0h1m14 0h1m14 0h1m4 0h2m25 0h2m4 0h1m17 0h1m6 0h4m3 0h1m3 0h1m2 0h1m5 0h4m6 0h1m2 0h1m1 0h1m1 0h1m1 0h8m1 0h1m6 0h1m1 0h4m3 0h2m1 0h1m2 0h1m2 0h2m7 0h1m9 0h2m2 0h1m3 0h1m1 0h1m5 0h1m1 0h1m1 0h2m6 0h1m54 0h4m5 0h1m6 0h3m3 0h1m2 0h4m2 0h2m3 0h3m3 0h1m4 0h3m3 0h1m14 0h1m3 0h2m1 0h3m4 0h1m1 0h1m1 0h2m1 0h2m4 0h1m1 0h5m7 0h1m6 0h1m1 0h1m7 0h2m12 0h1m2 0h2m3 0h1m1 0h2m4 0h3m5 0h2m1 0h1m1 0h1m5 0h1m7 0h2m19 0h1m2 0h2m7 0h3m2 0h2m7 0h1m3 0h1m1 0h3m2 0h3m4 0h1m9 0h1m4 0h1m2 0h2m9 0h1m1 0h3m10 0h1m1 0h1m9 0h1m1 0h4m1 0h1m2 0h2m2 0h2m6 0h1m3 0h3m2 0h1m8 0h1m3 0h1m5 0h1m1 0h1m7 0h1m4 0h1m3 0h4m1 0h1m1 0h4m2 0h1m3 0h4m7 0h1m1 0h2m5 0h2m7 0h1m2 0h1m3 0h1m1 0h1m1 0h2m1 0h2m3 0h1m5 0h1m4 0h4m1 0h1m2 0h1m1 0h1m1 0h4m2 0h1m9 0h3m1 0h3m2 0h1m1 0h1m1 0h1m3 0h1m6 0h2m3 0h1m2 0h1m1 0h1m4 0h1m1 0h1m3 0h1m1 0h3m7 0h1m3 0h1m1 0h3m2 0h2m3 0h1m20 0h1m10 0h2m6 0h1m1 0h1m5 0h1m9 0h2m8 0h1m28 0h1m2 0h2m5 0h1m6 0h1m4 0h1m6 0h1m3 0h1m12 0h1m3 0h1m2 0h2m2 0h1m7 0h3m1 0h1m1 0h1m3 0h1m3 0h1m4 0h1m3 0h1m2 0h1m1 0h1m2 0h2m1 0h1m3 0h1m2 0h1m1 0h2m1 0h1m1 0h1m2 0h1m2 0h3m2 0h2m6 0h3m2 0h2m2 0h1m4 0h1m3 0h1m7 0h1m1 0h1m1 0h1m2 0h1m1 0h1m3 0h1m1 0h1m9 0h1m5 0h2M1 14.5h1m1 0h2m5 0h1m8 0h1m12 0h1m3 0h1m4 0h1m1 0h1m9 0h1m1 0h1m3 0h1m7 0h1m5 0h5m15 0h2m5 0h2m2 0h2m9 0h1m5 0h1m1 0h1m1 0h1m11 0h1m3 0h1m6 0h2m2 0h2m2 0h1m1 0h1m2 0h2m1 0h1m3 0h4m2 0h2m5 0h1m12 0h2m1 0h1m4 0h2m7 0h1m2 0h3m1 0h2m7 0h1m1 0h1m2 0h1m2 0h1m1 0h1m6 0h3m1 0h2m4 0h1m6 0h1m8 0h4m1 0h1m1 0h1m1 0h1m6 0h1m2 0h2m4 0h1m1 0h3m21 0h1m22 0h1m11 0h1m1 0h1m8 0h1m1 0h1m1 0h1m10 0h2m2 0h3m5 0h1m1 0h1m4 0h1m1 0h1m5 0h4m8 0h2m1 0h1m2 0h1m1 0h1m6 0h2m5 0h1m1 0h3m1 0h1m1 0h2m5 0h2m2 0h1m5 0h3m1 0h2m2 0h2m1 0h1m1 0h1m1 0h2m2 0h1m7 0h1m7 0h1m1 0h1m3 0h1m4 0h1m4 0h3m5 0h1m2 0h1m10 0h3m2 0h2m1 0h1m4 0h1m3 0h1m3 0h5m4 0h3m1 0h1m4 0h2m3 0h1m2 0h2m1 0h1m3 0h1m5 0h1m3 0h2m4 0h3m2 0h1m4 0h1m1 0h1m9 0h1m4 0h2m3 0h1m1 0h1m1 0h5m2 0h1m2 0h1m2 0h1m2 0h1m3 0h1m1 0h1m1 0h1m1 0h2m1 0h1m5 0h1m2 0h1m3 0h1m1 0h2m5 0h5m1 0h1m4 0h2m5 0h2m1 0h1m7 0h1m4 0h1m2 0h3m4 0h1m3 0h3m2 0h2m1 0h3m1 0h1m11 0h1m1 0h2m2 0h1m1 0h3m2 0h1m2 0h1m1 0h1m1 0h1m3 0h3m2 0h1m1 0h1m1 0h1m8 0h1m2 0h1m3 0h1m2 0h3m3 0h2m1 0h1m1 0h1m4 0h3m4 0h2m5 0h1m1 0h2m6 0h2m1 0h1m2 0h1m1 0h1m1 0h1m3 0h2m2 0h2m4 0h3m1 0h4m4 0h1m1 0h1m20 0h1m3 0h1m1 0h1m6 0h1m5 0h2m7 0h1m2 0h3m11 0h4m3 0h1m2 0h1m12 0h1m4 0h2m3 0h2m10 0h1m9 0h1m1 0h1m4 0h1m1 0h1m3 0h1m5 0h1m1 0h1m3 0h1m13 0h2m2 0h1m1 0h1m2 0h1m3 0h6m1 0h1m5 0h1m1 0h3m3 0h1m1 0h2m1 0h3m1 0h2m2 0h1m1 0h2m1 0h2m2 0h2m3 0h2m1 0h1m2 0h1m1 0h1m2 0h1m1 0h1m19 0h1m3 0h2m5 0h2m2 0h3m5 0h1m2 0h1m1 0h1m4 0h1m1 0h1m2 0h1m2 0h2M0 15.5h3m1 0h3m7 0h1m7 0h1m6 0h2m14 0h1m7 0h1m1 0h1m2 0h1m11 0h1m1 0h2m10 0h1m1 0h1m4 0h5m11 0h1m6 0h1m5 0h1m2 0h1m8 0h2m4 0h1m2 0h1m18 0h4m3 0h1m1 0h3m3 0h1m2 0h1m2 0h2m4 0h1m2 0h1m1 0h1m2 0h3m4 0h1m2 0h2m1 0h1m7 0h1m12 0h1m1 0h1m1 0h1m1 0h1m1 0h1m3 0h1m9 0h1m4 0h1m7 0h1m1 0h1m8 0h2m3 0h2m4 0h1m9 0h1m3 0h1m11 0h1m43 0h2m2 0h2m1 0h1m1 0h1m1 0h2m2 0h1m2 0h3m1 0h3m1 0h1m2 0h1m11 0h1m1 0h1m4 0h1m6 0h1m7 0h1m13 0h2m3 0h1m1 0h1m6 0h2m6 0h1m4 0h1m2 0h2m1 0h1m3 0h1m3 0h3m7 0h1m7 0h1m8 0h3m11 0h1m25 0h1m2 0h2m2 0h1m15 0h2m6 0h2m4 0h2m5 0h2m5 0h2m3 0h1m2 0h1m5 0h1m6 0h1m1 0h1m7 0h1m2 0h1m2 0h2m2 0h2m12 0h1m2 0h1m3 0h1m12 0h1m2 0h2m2 0h1m1 0h2m6 0h1m1 0h1m4 0h1m7 0h1m2 0h2m1 0h1m5 0h2m3 0h1m2 0h1m12 0h2m14 0h1m2 0h1m1 0h1m2 0h1m2 0h2m1 0h4m5 0h1m2 0h1m6 0h1m1 0h1m5 0h2m1 0h1m3 0h2m2 0h1m9 0h1m3 0h3m1 0h1m2 0h1m8 0h1m3 0h1m2 0h3m2 0h1m2 0h2m7 0h1m2 0h1m1 0h1m1 0h1m2 0h1m1 0h2m2 0h3m10 0h2m1 0h1m2 0h1m2 0h1m11 0h1m9 0h1m23 0h1m5 0h1m8 0h2m7 0h2m17 0h1m1 0h1m34 0h1m4 0h1m5 0h1m2 0h1m2 0h1m11 0h1m8 0h1m3 0h2m3 0h2m3 0h2m8 0h1m6 0h1m2 0h1m10 0h1m8 0h1m4 0h2m4 0h2m3 0h1m5 0h1m1 0h2m2 0h1m3 0h1m1 0h1m10 0h1m1 0h1m1 0h1m1 0h4m2 0h2m3 0h2m16 0h3m1 0h1m1 0h1M0 16.5h1m1 0h1m4 0h2m2 0h3m13 0h1m4 0h1m2 0h1m4 0h1m1 0h1m1 0h1m6 0h1m1 0h1m1 0h1m1 0h1m6 0h1m4 0h1m4 0h1m3 0h3m1 0h1m1 0h2m8 0h1m4 0h1m3 0h1m1 0h2m1 0h1m2 0h2m2 0h3m5 0h1m5 0h1m1 0h1m1 0h1m3 0h1m1 0h2m5 0h3m5 0h3m4 0h1m15 0h4m1 0h1m1 0h1m1 0h1m3 0h2m1 0h3m1 0h8m1 0h1m5 0h1m2 0h1m1 0h2m1 0h3m1 0h1m1 0h3m1 0h2m3 0h1m10 0h3m7 0h2m5 0h1m1 0h3m2 0h3m1 0h1m1 0h1m7 0h1m1 0h3m5 0h2m1 0h1m3 0h1m1 0h5m1 0h2m4 0h1m2 0h3m1 0h1m1 0h1m14 0h2m1 0h1m10 0h1m31 0h1m16 0h1m5 0h2m1 0h5m1 0h2m5 0h1m5 0h1m2 0h1m8 0h4m1 0h1m1 0h4m2 0h1m1 0h1m7 0h1m3 0h1m4 0h1m1 0h1m5 0h6m6 0h3m2 0h2m4 0h2m3 0h1m1 0h2m5 0h1m2 0h1m6 0h1m4 0h4m1 0h2m1 0h3m1 0h1m1 0h1m1 0h5m1 0h2m5 0h1m3 0h1m1 0h1m1 0h2m3 0h1m1 0h1m7 0h1m3 0h1m3 0h1m1 0h1m10 0h1m3 0h2m3 0h1m3 0h3m3 0h1m6 0h1m1 0h1m2 0h1m5 0h3m10 0h1m8 0h1m2 0h1m6 0h2m9 0h4m3 0h1m5 0h2m1 0h1m1 0h1m9 0h1m2 0h1m3 0h1m1 0h2m1 0h1m8 0h1m3 0h1m2 0h3m3 0h2m1 0h1m4 0h1m5 0h2m5 0h1m3 0h1m3 0h3m3 0h1m1 0h1m1 0h2m7 0h1m3 0h4m4 0h4m1 0h2m2 0h1m1 0h2m5 0h4m5 0h1m3 0h1m1 0h1m1 0h2m1 0h1m1 0h1m10 0h5m1 0h2m1 0h2m3 0h2m1 0h1m1 0h1m5 0h2m2 0h1m2 0h1m1 0h1m1 0h2m9 0h1m5 0h1m1 0h1m4 0h2m8 0h1m5 0h2m16 0h2m8 0h1m4 0h1m1 0h3m8 0h1m1 0h2m11 0h3m1 0h1m3 0h1m2 0h1m9 0h1m3 0h1m3 0h1m13 0h1m3 0h1m4 0h2m2 0h1m3 0h1m7 0h1m13 0h1m10 0h7m1 0h2m9 0h1m1 0h1m3 0h2m2 0h2m4 0h2m1 0h4m2 0h3m4 0h3m5 0h2m1 0h1m1 0h1m5 0h4m1 0h1m2 0h1m3 0h1m5 0h1m1 0h1m6 0h1m4 0h1m2 0h2M2 17.5h2m2 0h2m1 0h2m5 0h1m2 0h2m1 0h3m1 0h3m3 0h2m7 0h1m2 0h1m5 0h1m1 0h1m8 0h1m1 0h1m3 0h1m1 0h2m1 0h2m6 0h2m12 0h2m2 0h1m2 0h1m2 0h2m18 0h1m4 0h2m9 0h1m6 0h2m2 0h1m2 0h1m2 0h1m1 0h1m1 0h1m3 0h1m1 0h2m2 0h1m6 0h1m2 0h1m5 0h1m3 0h4m1 0h2m1 0h1m1 0h3m1 0h1m7 0h1m4 0h2m2 0h1m3 0h1m3 0h2m3 0h1m5 0h1m5 0h1m1 0h2m1 0h1m1 0h3m3 0h2m1 0h1m1 0h1m6 0h2m3 0h4m9 0h1m3 0h1m2 0h4m1 0h1m4 0h2m5 0h2m1 0h2m4 0h1m5 0h1m2 0h1m9 0h3m1 0h1m1 0h2m5 0h1m48 0h1m1 0h1m1 0h4m1 0h1m1 0h6m2 0h1m1 0h1m3 0h1m8 0h1m2 0h3m3 0h1m1 0h1m2 0h2m2 0h1m3 0h2m3 0h1m2 0h2m1 0h2m2 0h2m7 0h1m1 0h2m1 0h5m5 0h3m7 0h1m1 0h1m1 0h2m1 0h1m3 0h2m1 0h1m8 0h2m4 0h3m7 0h1m1 0h2m2 0h1m9 0h1m4 0h2m10 0h1m1 0h1m2 0h1m1 0h1m1 0h1m1 0h1m1 0h1m1 0h1m11 0h1m9 0h1m1 0h2m3 0h1m2 0h1m2 0h1m1 0h1m1 0h1m5 0h2m4 0h3m2 0h1m4 0h2m1 0h1m8 0h1m8 0h1m1 0h1m16 0h1m4 0h1m1 0h1m4 0h3m5 0h2m1 0h1m9 0h6m5 0h1m1 0h1m11 0h2m5 0h1m2 0h1m6 0h2m6 0h2m7 0h4m2 0h2m3 0h1m1 0h2m1 0h2m5 0h2m5 0h1m4 0h2m2 0h1m1 0h1m2 0h1m1 0h2m4 0h2m1 0h1m2 0h1m1 0h2m2 0h1m1 0h2m2 0h3m4 0h1m1 0h1m1 0h1m2 0h3m7 0h1m1 0h1m1 0h1m1 0h2m1 0h1m2 0h1m1 0h1m4 0h2m1 0h1m1 0h1m2 0h4m7 0h1m11 0h3m2 0h1m7 0h2m4 0h2m13 0h1m2 0h3m1 0h1m1 0h1m3 0h1m1 0h1m14 0h1m1 0h1m1 0h4m2 0h1m4 0h1m6 0h1m16 0h2m2 0h1m5 0h1m3 0h2m2 0h2m3 0h3m1 0h1m1 0h1m5 0h3m4 0h1m5 0h1m2 0h1m8 0h5m2 0h2m5 0h1m1 0h1m4 0h1m1 0h4m2 0h4m1 0h1m2 0h1m1 0h1m5 0h2m4 0h1m8 0h3m1 0h2m10 0h1m1 0h2m2 0h1m2 0h6m1 0h1m4 0h2M2 18.5h4m1 0h1m1 0h1m8 0h2m2 0h1m1 0h1m3 0h2m3 0h3m2 0h1m2 0h2m2 0h2m2 0h1m4 0h1m1 0h1m1 0h1m12 0h3m3 0h1m1 0h1m3 0h1m1 0h1m3 0h1m1 0h1m9 0h1m2 0h2m3 0h3m2 0h1m2 0h1m2 0h1m8 0h5m8 0h1m2 0h1m13 0h1m3 0h3m1 0h1m9 0h2m7 0h1m2 0h2m1 0h2m4 0h1m6 0h1m5 0h1m6 0h1m5 0h3m1 0h2m2 0h1m5 0h1m2 0h1m7 0h1m6 0h1m1 0h2m2 0h1m1 0h1m2 0h1m2 0h1m4 0h1m5 0h1m1 0h1m6 0h1m3 0h2m8 0h3m9 0h1m6 0h1m4 0h1m1 0h2m2 0h1m1 0h2m3 0h1m1 0h2m1 0h2m2 0h1m1 0h2m53 0h1m3 0h1m3 0h2m7 0h1m1 0h2m1 0h1m8 0h1m1 0h1m6 0h1m1 0h1m1 0h1m5 0h1m19 0h3m2 0h1m4 0h1m6 0h1m1 0h2m6 0h1m4 0h1m13 0h4m2 0h1m10 0h1m2 0h2m2 0h1m13 0h3m3 0h2m3 0h1m4 0h1m6 0h1m9 0h1m1 0h1m17 0h1m13 0h1m3 0h1m5 0h1m4 0h4m3 0h3m1 0h1m1 0h4m3 0h1m3 0h1m2 0h2m3 0h1m17 0h1m1 0h2m5 0h2m6 0h1m1 0h1m4 0h5m3 0h1m1 0h1m7 0h3m2 0h1m14 0h1m2 0h2m1 0h1m2 0h2m9 0h4m2 0h2m4 0h1m6 0h1m5 0h1m5 0h2m6 0h1m6 0h1m2 0h1m2 0h1m3 0h2m1 0h3m1 0h3m4 0h1m10 0h1m4 0h1m1 0h1m1 0h1m2 0h1m3 0h1m10 0h1m1 0h1m2 0h1m2 0h3m2 0h1m5 0h1m7 0h1m12 0h1m5 0h1m17 0h1m2 0h1m2 0h1m3 0h4m1 0h2m4 0h1m2 0h2m16 0h1m3 0h2m1 0h1m9 0h1m5 0h2m1 0h1m5 0h1m2 0h1m1 0h3m1 0h1m1 0h1m1 0h2m5 0h1m2 0h1m3 0h1m2 0h1m1 0h1m13 0h1m5 0h1m3 0h4m4 0h1m6 0h2m2 0h1m3 0h1m4 0h1m1 0h1m4 0h1m3 0h2m5 0h1m1 0h2m9 0h3m7 0h2m1 0h1m1 0h1m2 0h3m7 0h1m4 0h2m6 0h1m1 0h2m3 0h1m3 0h1M1 19.5h1m9 0h1m1 0h3m4 0h1m7 0h1m2 0h1m5 0h1m5 0h1m8 0h3m6 0h1m6 0h1m2 0h3m3 0h2m4 0h1m1 0h3m4 0h1m1 0h2m1 0h3m13 0h1m6 0h1m1 0h1m13 0h1m6 0h1m3 0h2m4 0h3m4 0h1m1 0h1m1 0h3m3 0h1m7 0h1m2 0h1m3 0h3m2 0h2m1 0h2m20 0h1m1 0h1m3 0h3m2 0h1m1 0h1m3 0h1m4 0h2m1 0h2m1 0h2m1 0h2m1 0h1m1 0h1m9 0h1m3 0h1m3 0h1m1 0h2m11 0h1m2 0h1m2 0h1m9 0h2m3 0h1m2 0h2m5 0h4m5 0h2m5 0h1m2 0h1m5 0h1m6 0h2m4 0h1m1 0h3m3 0h1m2 0h2m2 0h1m1 0h1m11 0h1m1 0h1m2 0h3m9 0h1m66 0h1m19 0h1m5 0h2m1 0h1m11 0h1m1 0h1m6 0h1m1 0h2m1 0h2m4 0h1m4 0h1m6 0h2m2 0h3m3 0h1m2 0h3m7 0h1m1 0h1m3 0h1m4 0h2m2 0h2m7 0h2m2 0h1m3 0h1m4 0h1m1 0h2m3 0h1m2 0h4m1 0h1m7 0h3m2 0h2m3 0h1m7 0h1m7 0h1m2 0h2m2 0h1m1 0h1m4 0h4m2 0h1m1 0h1m2 0h2m11 0h4m1 0h2m10 0h1m2 0h2m6 0h2m4 0h2m1 0h2m5 0h1m3 0h1m4 0h1m16 0h1m5 0h1m6 0h3m8 0h2m5 0h1m2 0h1m22 0h2m5 0h3m5 0h3m19 0h1m2 0h1m4 0h3m13 0h1m6 0h1m12 0h1m2 0h1m2 0h1m8 0h1m4 0h1m4 0h1m2 0h1m1 0h4m2 0h1m1 0h1m5 0h1m5 0h2m2 0h1m6 0h1m1 0h3m3 0h3m2 0h1m1 0h2m6 0h1m4 0h4m1 0h2m1 0h2m1 0h1m3 0h1m6 0h4m6 0h1m1 0h1m2 0h1m6 0h2m4 0h2m1 0h3m2 0h2m2 0h2m2 0h1m2 0h4m8 0h1m13 0h2m1 0h2m4 0h1m4 0h1m4 0h1m1 0h3m2 0h1m9 0h1m2 0h2m1 0h2m6 0h2m7 0h1m3 0h1m7 0h2m4 0h1m3 0h1m1 0h5m4 0h2m2 0h1m4 0h1m4 0h1m4 0h4m2 0h2M2 20.5h2m2 0h1m1 0h1m1 0h3m4 0h1m4 0h1m3 0h2m5 0h3m7 0h2m2 0h1m1 0h2m1 0h1m7 0h1m4 0h1m3 0h2m5 0h2m2 0h1m3 0h1m9 0h1m2 0h1m1 0h4m1 0h1m3 0h1m4 0h1m1 0h1m1 0h1m1 0h1m5 0h2m7 0h1m1 0h4m6 0h1m8 0h1m2 0h1m2 0h1m1 0h1m7 0h2m12 0h1m5 0h2m7 0h1m9 0h1m1 0h1m2 0h1m1 0h2m2 0h1m4 0h1m12 0h1m5 0h1m5 0h1m7 0h3m4 0h1m1 0h1m4 0h1m14 0h1m1 0h1m5 0h1m3 0h1m3 0h1m10 0h1m2 0h2m3 0h1m3 0h3m4 0h2m1 0h1m1 0h2m1 0h3m7 0h2m5 0h3m2 0h2m1 0h3m1 0h1m1 0h1m1 0h1m9 0h1m1 0h1m3 0h1m1 0h2m4 0h1m84 0h5m7 0h1m1 0h2m1 0h1m4 0h1m4 0h3m4 0h1m2 0h3m3 0h2m3 0h3m7 0h1m1 0h1m1 0h2m2 0h2m2 0h1m1 0h1m5 0h1m1 0h2m1 0h1m1 0h2m8 0h4m2 0h1m1 0h1m1 0h1m2 0h3m1 0h1m6 0h1m4 0h3m4 0h1m1 0h1m1 0h1m1 0h1m3 0h2m2 0h1m2 0h1m7 0h1m9 0h1m4 0h1m2 0h1m3 0h2m1 0h1m3 0h2m3 0h1m3 0h5m2 0h1m12 0h2m5 0h1m1 0h1m3 0h1m3 0h1m8 0h1m3 0h1m2 0h1m3 0h1m1 0h4m2 0h1m1 0h1m2 0h2m3 0h3m2 0h1m2 0h1m7 0h1m10 0h1m8 0h1m1 0h1m6 0h1m5 0h1m1 0h5m2 0h1m1 0h1m8 0h1m4 0h1m13 0h1m1 0h1m1 0h2m1 0h1m1 0h1m5 0h1m1 0h2m4 0h1m11 0h1m2 0h1m3 0h2m3 0h1m10 0h1m1 0h1m8 0h1m19 0h1m5 0h1m6 0h1m2 0h1m2 0h3m5 0h2m8 0h2m1 0h2m1 0h2m3 0h3m16 0h1m5 0h1m9 0h1m4 0h1m1 0h1m7 0h1m2 0h1m4 0h3m5 0h2m1 0h1m1 0h1m1 0h3m2 0h1m1 0h2m2 0h2m1 0h2m1 0h1m3 0h2m1 0h2m8 0h2m2 0h3m1 0h1m8 0h1m4 0h3m4 0h2m3 0h3m2 0h2m1 0h1m1 0h1m3 0h1m4 0h4m1 0h1m5 0h2m12 0h3m1 0h2m3 0h1m4 0h1m3 0h1m2 0h4M0 21.5h2m3 0h1m2 0h2m5 0h1m1 0h1m1 0h2m6 0h2m21 0h1m4 0h1m9 0h1m4 0h2m1 0h1m1 0h1m2 0h1m7 0h1m9 0h1m2 0h1m12 0h2m4 0h2m1 0h1m7 0h1m2 0h1m2 0h1m9 0h3m7 0h1m11 0h1m2 0h2m2 0h1m3 0h1m9 0h3m3 0h1m1 0h1m1 0h1m6 0h1m1 0h1m3 0h1m9 0h1m3 0h1m8 0h1m4 0h1m3 0h1m1 0h2m7 0h2m1 0h2m3 0h1m8 0h2m4 0h1m5 0h1m5 0h2m1 0h3m13 0h1m2 0h2m2 0h1m4 0h1m13 0h3m1 0h1m1 0h2m1 0h1m5 0h1m3 0h1m2 0h1m2 0h1m6 0h3m20 0h2m95 0h1m1 0h2m13 0h1m1 0h1m5 0h1m1 0h1m2 0h1m3 0h1m3 0h2m1 0h1m2 0h1m1 0h2m1 0h2m1 0h2m3 0h4m7 0h1m1 0h1m3 0h1m2 0h2m8 0h2m5 0h1m7 0h2m1 0h2m3 0h2m8 0h1m5 0h1m4 0h2m8 0h2m3 0h3m3 0h2m6 0h1m1 0h1m2 0h1m8 0h2m1 0h2m1 0h3m2 0h2m2 0h1m6 0h1m1 0h2m1 0h2m1 0h1m2 0h2m3 0h2m9 0h1m5 0h1m8 0h2m7 0h1m1 0h1m5 0h1m1 0h1m19 0h1m11 0h2m3 0h1m1 0h1m2 0h1m8 0h1m2 0h1m13 0h1m17 0h1m6 0h3m3 0h1m2 0h1m10 0h2m10 0h1m5 0h1m4 0h1m9 0h1m4 0h1m1 0h1m2 0h1m16 0h1m3 0h1m1 0h2m8 0h2m3 0h1m4 0h3m1 0h3m2 0h1m2 0h5m2 0h1m3 0h1m1 0h3m1 0h1m2 0h3m2 0h1m1 0h1m2 0h2m1 0h1m3 0h4m8 0h1m2 0h2m4 0h5m2 0h1m1 0h1m2 0h1m1 0h2m1 0h2m3 0h1m1 0h1m1 0h1m1 0h2m7 0h1m2 0h1m3 0h1m7 0h2m2 0h1m4 0h1m2 0h1m2 0h3m4 0h1m2 0h1m1 0h1m1 0h2m2 0h2m11 0h1m2 0h2m1 0h1m1 0h1m8 0h6m6 0h1m1 0h1m5 0h2m2 0h1m6 0h1m2 0h1m1 0h1m2 0h2m5 0h1m5 0h1m3 0h5m1 0h1m2 0h4m1 0h1M6 22.5h2m2 0h1m1 0h2m1 0h1m2 0h1m5 0h3m3 0h2m1 0h1m2 0h1m1 0h1m1 0h2m3 0h1m4 0h3m1 0h1m3 0h1m3 0h1m5 0h1m3 0h1m1 0h6m1 0h1m1 0h1m4 0h1m1 0h1m1 0h1m3 0h2m1 0h2m1 0h1m3 0h1m1 0h2m1 0h2m3 0h1m1 0h1m10 0h1m7 0h2m4 0h1m13 0h1m2 0h1m3 0h1m5 0h1m2 0h2m8 0h1m1 0h1m1 0h2m5 0h2m8 0h2m13 0h1m2 0h3m2 0h1m2 0h1m3 0h1m3 0h1m3 0h1m2 0h1m6 0h1m12 0h1m1 0h1m5 0h2m1 0h2m3 0h1m1 0h2m1 0h1m1 0h2m2 0h2m2 0h1m1 0h1m3 0h2m2 0h2m1 0h1m3 0h2m1 0h1m1 0h1m2 0h1m2 0h1m2 0h1m3 0h2m1 0h2m1 0h1m1 0h1m3 0h1m6 0h3m3 0h1m1 0h2m1 0h1m3 0h1m5 0h2m1 0h2m4 0h1m1 0h1m1 0h1m2 0h3m3 0h1m5 0h1m91 0h3m1 0h1m2 0h1m2 0h2m2 0h1m3 0h2m1 0h1m4 0h1m8 0h3m2 0h3m2 0h3m2 0h1m8 0h1m14 0h1m5 0h3m4 0h1m1 0h1m3 0h2m1 0h3m3 0h2m10 0h2m2 0h3m2 0h1m1 0h3m6 0h1m1 0h1m1 0h1m9 0h1m3 0h2m2 0h1m5 0h1m4 0h1m1 0h2m4 0h4m3 0h1m2 0h2m7 0h1m2 0h1m2 0h1m2 0h1m2 0h2m1 0h1m3 0h1m6 0h1m3 0h1m1 0h3m1 0h1m11 0h1m5 0h1m1 0h1m9 0h1m1 0h1m4 0h1m7 0h2m1 0h1m5 0h1m7 0h1m13 0h2m1 0h1m13 0h2m5 0h1m1 0h2m3 0h2m8 0h1m2 0h2m2 0h1m3 0h2m10 0h1m1 0h1m11 0h3m1 0h1m4 0h1m11 0h1m5 0h1m7 0h1m13 0h1m4 0h2m10 0h2m3 0h1m2 0h1m11 0h1m3 0h8m1 0h1m1 0h1m1 0h1m7 0h1m5 0h2m12 0h1m8 0h1m4 0h2m11 0h2m2 0h1m1 0h1m3 0h4m2 0h2m1 0h2m1 0h1m7 0h1m2 0h1m9 0h1m3 0h1m10 0h1m1 0h1m11 0h3m7 0h5m1 0h4m2 0h3m5 0h3m3 0h5m5 0h1m2 0h1m3 0h1m6 0h1m2 0h1m4 0h2m3 0h1m2 0h1m1 0h1m2 0h1m2 0h1m1 0h1m3 0h1M8 23.5h2m6 0h2m3 0h1m5 0h2m5 0h1m38 0h1m5 0h1m1 0h1m1 0h2m3 0h2m3 0h1m1 0h2m3 0h2m4 0h1m6 0h1m2 0h1m4 0h1m2 0h1m4 0h1m6 0h1m4 0h2m1 0h1m3 0h1m6 0h3m8 0h1m9 0h1m4 0h1m8 0h2m1 0h1m1 0h1m3 0h4m15 0h1m1 0h1m4 0h1m1 0h1m1 0h2m1 0h1m1 0h1m1 0h1m2 0h1m1 0h3m1 0h1m8 0h1m1 0h1m7 0h1m11 0h3m3 0h1m1 0h1m1 0h1m2 0h6m1 0h1m14 0h1m1 0h1m47 0h5m14 0h1m5 0h1m5 0h2m3 0h1m5 0h1m10 0h4m1 0h2m25 0h1m8 0h2m4 0h2m6 0h1m1 0h1m25 0h1m8 0h1m18 0h1m60 0h1m24 0h1m10 0h1m74 0h1m16 0h1m3 0h1m8 0h1m1 0h1m3 0h2m5 0h2m6 0h1m1 0h1m11 0h3m6 0h1m9 0h2m2 0h1m12 0h1m2 0h1m1 0h5m2 0h3m2 0h1m2 0h4m1 0h1m3 0h1m1 0h1m2 0h3m1 0h2m5 0h1m6 0h1m1 0h1m9 0h2m3 0h2m3 0h2m6 0h1m4 0h2m6 0h2m3 0h2m1 0h1m9 0h1m4 0h1m2 0h1m5 0h1m6 0h1m2 0h1m3 0h2m6 0h1m13 0h2m1 0h1m5 0h1m2 0h1m3 0h1m4 0h2m8 0h1m3 0h2m1 0h2m7 0h1m3 0h2m4 0h2m10 0h1m9 0h1m4 0h2m1 0h2m11 0h1m2 0h1m5 0h1m2 0h1m3 0h3m2 0h1m3 0h1m3 0h3m4 0h1m4 0h1m4 0h1m2 0h1m1 0h2m6 0h1m4 0h2m1 0h2m3 0h2m5 0h1m2 0h3m8 0h2m1 0h1m2 0h3m3 0h1m3 0h1m1 0h1m4 0h2m9 0h2m7 0h1M18 24.5h1m4 0h2m8 0h4m1 0h2m1 0h1m3 0h1m1 0h1m2 0h3m7 0h1m3 0h1m1 0h1m9 0h1m1 0h2m3 0h1m8 0h1m1 0h1m7 0h1m5 0h1m1 0h2m2 0h1m3 0h1m4 0h2m6 0h1m2 0h2m1 0h1m1 0h1m1 0h1m3 0h7m10 0h1m1 0h2m1 0h1m1 0h1m6 0h6m3 0h1m3 0h1m5 0h2m1 0h1m4 0h1m5 0h2m1 0h1m2 0h2m1 0h1m2 0h2m8 0h1m5 0h1m1 0h1m3 0h1m2 0h1m1 0h1m9 0h1m1 0h3m3 0h2m13 0h1m1 0h2m3 0h3m3 0h1m4 0h1m1 0h1m13 0h1m3 0h1m14 0h2m8 0h2m2 0h2m6 0h2m2 0h2m5 0h1m3 0h1m3 0h1m3 0h5m1 0h6m7 0h1m3 0h5m1 0h1m10 0h1m1 0h1m4 0h1m3 0h3m2 0h6m9 0h2m2 0h1m2 0h4m2 0h1m5 0h2m2 0h1m1 0h1m5 0h1m1 0h1m32 0h1m13 0h1m71 0h1m4 0h1m5 0h1m98 0h1m5 0h3m6 0h1m2 0h1m3 0h2m5 0h1m3 0h1m1 0h1m2 0h1m1 0h1m7 0h1m1 0h1m3 0h2m13 0h2m5 0h1m10 0h2m2 0h1m5 0h3m1 0h1m1 0h1m13 0h1m1 0h1m1 0h1m2 0h1m2 0h1m1 0h1m3 0h1m8 0h1m1 0h1m2 0h1m1 0h1m4 0h1m2 0h2m2 0h1m10 0h2m2 0h2m3 0h4m11 0h1m1 0h1m4 0h2m6 0h1m1 0h1m1 0h1m4 0h2m3 0h3m5 0h1m2 0h2m2 0h1m1 0h2m4 0h1m2 0h1m1 0h1m1 0h1m5 0h1m3 0h4m4 0h1m1 0h1m2 0h2m2 0h2m8 0h1m1 0h1m1 0h1m14 0h2m2 0h1m1 0h1m3 0h1m4 0h1m1 0h3m6 0h2m2 0h1m2 0h1m1 0h2m1 0h1m4 0h2m2 0h2m14 0h1m3 0h1m1 0h1m1 0h1m2 0h2m1 0h1m2 0h2m5 0h1m2 0h1m10 0h1m4 0h3m2 0h1m1 0h1m2 0h2m7 0h2m3 0h1m3 0h1m3 0h2m1 0h2m8 0h2m4 0h3m2 0h2m1 0h7M11 25.5h1m5 0h1m3 0h1m2 0h2m3 0h1m2 0h1m5 0h1m4 0h1m1 0h1m4 0h1m5 0h1m1 0h2m5 0h2m6 0h2m2 0h3m5 0h2m9 0h1m4 0h1m1 0h1m8 0h3m1 0h1m1 0h1m10 0h1m1 0h1m5 0h1m1 0h1m15 0h1m5 0h3m1 0h1m6 0h2m2 0h1m1 0h3m1 0h1m2 0h2m2 0h1m1 0h1m1 0h1m4 0h2m3 0h1m2 0h1m12 0h5m5 0h1m6 0h1m4 0h2m1 0h1m3 0h2m2 0h1m3 0h2m8 0h1m14 0h1m2 0h1m1 0h1m1 0h2m1 0h1m10 0h4m4 0h2m12 0h2m2 0h1m8 0h1m6 0h1m3 0h1m2 0h1m7 0h2m3 0h1m7 0h1m11 0h1m5 0h1m13 0h1m17 0h1m2 0h2m4 0h1m3 0h1m5 0h1m1 0h1m1 0h2m1 0h1m4 0h2m2 0h2m2 0h1m1 0h1m4 0h3m7 0h1m2 0h3m229 0h3m3 0h1m1 0h1m4 0h1m2 0h1m2 0h4m1 0h1m2 0h1m3 0h2m2 0h1m3 0h1m2 0h1m10 0h1m2 0h1m1 0h1m9 0h2m13 0h2m6 0h1m1 0h1m4 0h1m4 0h1m2 0h1m7 0h1m1 0h2m13 0h1m5 0h1m1 0h2m10 0h1m7 0h1m1 0h1m3 0h1m2 0h2m2 0h1m11 0h1m4 0h1m2 0h2m3 0h1m2 0h1m1 0h2m3 0h1m2 0h2m10 0h1m5 0h2m6 0h1m3 0h2m6 0h2m3 0h2m4 0h3m7 0h1m1 0h1m3 0h3m13 0h1m1 0h5m1 0h1m2 0h1m5 0h1m1 0h1m3 0h1m10 0h1m1 0h1m1 0h1m3 0h1m4 0h2m1 0h2m1 0h2m5 0h2m3 0h1m1 0h2m2 0h1m7 0h6m3 0h3m4 0h1m3 0h3m2 0h1m2 0h3m1 0h2m5 0h1m3 0h1m1 0h2m3 0h1m4 0h1m2 0h1m4 0h1m1 0h5m4 0h1m1 0h2m6 0h1m4 0h3m3 0h3m2 0h3m2 0h1m1 0h1M2 26.5h3m7 0h1m2 0h1m1 0h1m2 0h2m3 0h1m38 0h2m2 0h1m9 0h1m5 0h1m15 0h1m2 0h2m7 0h1m6 0h1m5 0h2m1 0h1m8 0h1m7 0h1m9 0h1m2 0h1m5 0h1m9 0h1m13 0h1m11 0h1m2 0h1m4 0h4m5 0h1m3 0h2m2 0h2m1 0h3m8 0h1m1 0h2m2 0h2m1 0h1m12 0h1m1 0h1m2 0h1m6 0h2m1 0h1m1 0h2m4 0h2m8 0h1m1 0h1m1 0h1m2 0h1m6 0h2m3 0h3m8 0h2m3 0h1m10 0h1m1 0h2m4 0h1m8 0h1m7 0h1m2 0h2m1 0h1m2 0h1m6 0h1m1 0h1m1 0h1m3 0h3m3 0h1m4 0h2m2 0h2m5 0h1m3 0h1m1 0h1m6 0h1m2 0h1m1 0h2m3 0h1m7 0h6m6 0h1m2 0h2m3 0h1m2 0h1m2 0h1m2 0h2m2 0h1m6 0h1m62 0h1m122 0h1m45 0h6m6 0h1m7 0h1m3 0h1m4 0h2m4 0h2m3 0h2m8 0h3m2 0h4m2 0h1m3 0h1m1 0h1m1 0h1m1 0h1m5 0h1m2 0h3m14 0h5m2 0h1m4 0h3m3 0h1m1 0h1m2 0h2m5 0h1m7 0h2m1 0h3m2 0h1m1 0h1m5 0h1m2 0h1m2 0h3m1 0h1m1 0h1m1 0h2m3 0h1m1 0h1m3 0h5m11 0h1m1 0h4m1 0h3m1 0h1m2 0h1m1 0h8m1 0h1m5 0h1m4 0h1m10 0h3m2 0h1m3 0h2m1 0h1m3 0h1m2 0h2m6 0h2m3 0h2m3 0h2m6 0h1m6 0h1m2 0h2m8 0h2m2 0h1m4 0h3m7 0h1m1 0h1m7 0h2m4 0h1m2 0h3m5 0h1m1 0h3m3 0h1m7 0h1m8 0h1m3 0h1m7 0h1m7 0h1m6 0h1m1 0h1m5 0h1m4 0h2m3 0h1m1 0h3m4 0h1m1 0h1m10 0h2m8 0h2m1 0h2m5 0h1m2 0h1m1 0h1m2 0h4m2 0h2M1 27.5h1m1 0h1m2 0h1m7 0h1m13 0h1m6 0h1m5 0h1m8 0h2m3 0h2m13 0h3m4 0h1m2 0h1m1 0h2m1 0h1m13 0h1m3 0h1m1 0h1m9 0h1m12 0h3m11 0h1m2 0h1m1 0h2m2 0h1m6 0h2m8 0h1m2 0h1m4 0h1m1 0h2m1 0h2m1 0h1m5 0h1m6 0h1m1 0h6m2 0h1m1 0h7m3 0h3m4 0h2m1 0h1m8 0h1m1 0h1m3 0h1m1 0h1m5 0h4m1 0h2m2 0h1m2 0h2m3 0h1m2 0h1m3 0h1m2 0h1m1 0h2m12 0h2m26 0h1m1 0h2m8 0h1m1 0h1m5 0h1m4 0h1m13 0h1m1 0h1m12 0h2m2 0h1m3 0h1m19 0h2m26 0h4m19 0h1m5 0h1m7 0h1m244 0h1m2 0h1m4 0h1m1 0h2m12 0h3m9 0h1m8 0h2m5 0h1m2 0h1m10 0h2m3 0h1m15 0h2m8 0h3m1 0h1m8 0h1m1 0h1m1 0h2m1 0h1m3 0h1m2 0h1m1 0h2m1 0h1m3 0h2m7 0h5m11 0h1m1 0h1m3 0h1m5 0h1m3 0h1m2 0h1m5 0h3m3 0h2m11 0h1m1 0h1m13 0h3m4 0h4m3 0h1m13 0h2m3 0h1m2 0h3m1 0h1m3 0h1m1 0h2m2 0h2m21 0h1m12 0h1m3 0h2m1 0h2m6 0h2m3 0h1m6 0h1m11 0h1m11 0h1m7 0h2m5 0h1m5 0h1m2 0h1m2 0h1m9 0h1m12 0h1m5 0h1m4 0h1m2 0h2m1 0h1m8 0h1m8 0h1m1 0h1m6 0h1m4 0h1m2 0h2m3 0h1m17 0h3M1 28.5h1m11 0h2m8 0h1m2 0h1m8 0h2m1 0h1m1 0h3m4 0h1m4 0h1m9 0h1m30 0h1m7 0h1m17 0h1m4 0h1m16 0h2m9 0h3m1 0h2m18 0h3m2 0h1m17 0h1m2 0h1m2 0h1m1 0h2m1 0h1m1 0h1m3 0h1m3 0h1m2 0h1m2 0h2m5 0h1m1 0h3m1 0h1m2 0h1m5 0h1m5 0h3m3 0h2m2 0h1m1 0h1m1 0h2m2 0h2m6 0h1m2 0h3m1 0h1m1 0h3m5 0h2m8 0h1m2 0h1m1 0h1m1 0h1m3 0h1m1 0h1m1 0h1m5 0h2m3 0h1m9 0h3m4 0h1m15 0h1m3 0h1m2 0h1m2 0h1m2 0h1m2 0h1m11 0h2m3 0h1m2 0h2m9 0h1m11 0h1m2 0h1m5 0h1m3 0h1m7 0h1m25 0h3m1 0h2m236 0h2m4 0h1m3 0h2m3 0h1m3 0h1m1 0h4m8 0h2m2 0h1m14 0h2m6 0h1m13 0h1m5 0h2m3 0h1m1 0h1m3 0h1m6 0h1m4 0h2m2 0h1m1 0h1m8 0h1m3 0h1m7 0h2m3 0h1m4 0h2m27 0h1m2 0h1m14 0h1m8 0h1m3 0h2m2 0h1m7 0h2m1 0h1m4 0h1m2 0h2m3 0h1m2 0h1m3 0h1m2 0h1m1 0h1m3 0h2m1 0h1m1 0h1m10 0h3m3 0h1m5 0h1m4 0h3m5 0h1m6 0h1m3 0h2m17 0h1m14 0h1m2 0h1m2 0h1m12 0h1m6 0h1m4 0h2m14 0h1m1 0h1m1 0h1m2 0h4m3 0h2m9 0h1m11 0h1m3 0h1m2 0h1m5 0h1m1 0h1m1 0h1m6 0h1m2 0h1m5 0h1m5 0h1m1 0h2m1 0h2m2 0h1m1 0h1m10 0h2M0 29.5h1m5 0h2m12 0h2m4 0h1m1 0h1m10 0h1m1 0h1m6 0h1m13 0h1m6 0h1m3 0h1m1 0h1m3 0h1m2 0h2m1 0h1m3 0h1m15 0h1m2 0h1m6 0h2m12 0h1m7 0h1m6 0h1m1 0h2m6 0h1m7 0h1m4 0h1m1 0h1m5 0h5m2 0h1m2 0h1m6 0h1m10 0h1m2 0h3m5 0h2m4 0h1m1 0h2m5 0h2m5 0h1m3 0h2m4 0h2m1 0h1m3 0h1m2 0h1m1 0h1m1 0h1m6 0h2m2 0h1m7 0h1m1 0h2m2 0h1m4 0h1m3 0h1m5 0h1m10 0h1m9 0h1m9 0h2m1 0h1m2 0h1m10 0h1m1 0h1m8 0h2m3 0h1m1 0h1m3 0h1m4 0h1m16 0h4m4 0h3m5 0h2m10 0h1m3 0h1m1 0h1m10 0h1m3 0h2m1 0h2m2 0h1m14 0h1m2 0h1m8 0h1m1 0h1m1 0h1m1 0h1m127 0h1m111 0h1m1 0h3m7 0h1m2 0h1m6 0h1m8 0h1m4 0h2m2 0h1m2 0h2m7 0h1m5 0h1m6 0h2m15 0h1m5 0h1m7 0h1m4 0h1m7 0h2m4 0h3m1 0h1m2 0h1m21 0h2m6 0h1m6 0h1m14 0h1m2 0h1m3 0h1m8 0h1m2 0h1m2 0h1m1 0h1m10 0h1m2 0h1m2 0h3m2 0h1m1 0h3m6 0h1m1 0h1m5 0h2m11 0h1m1 0h1m5 0h1m4 0h1m6 0h1m13 0h1m1 0h1m1 0h3m4 0h1m8 0h2m2 0h3m3 0h1m4 0h1m6 0h4m17 0h2m3 0h1m2 0h1m2 0h1m7 0h1m2 0h1m1 0h1m1 0h2m5 0h2m2 0h1m9 0h1m2 0h1m21 0h1m4 0h1m2 0h1m7 0h5m5 0h1m7 0h1m3 0h1m4 0h2m1 0h1m1 0h2m1 0h1m1 0h1M2 30.5h2m9 0h1m3 0h1m3 0h1m2 0h1m6 0h1m3 0h2m1 0h1m3 0h2m3 0h2m21 0h1m2 0h3m1 0h1m4 0h1m12 0h1m2 0h1m11 0h2m11 0h3m1 0h1m1 0h1m2 0h1m6 0h1m1 0h1m15 0h1m10 0h2m2 0h1m14 0h1m3 0h1m1 0h1m2 0h1m2 0h1m1 0h2m1 0h3m2 0h4m2 0h2m2 0h2m2 0h1m5 0h1m5 0h3m3 0h2m2 0h1m1 0h2m2 0h1m1 0h1m1 0h1m15 0h2m1 0h2m1 0h1m1 0h6m2 0h2m3 0h1m5 0h4m2 0h2m6 0h1m1 0h1m4 0h1m5 0h1m2 0h3m10 0h1m3 0h1m9 0h3m3 0h1m1 0h1m9 0h1m2 0h1m2 0h1m2 0h1m14 0h1m2 0h1m2 0h2m3 0h1m6 0h2m11 0h2m8 0h1m1 0h1m11 0h1m1 0h1m7 0h1m10 0h1m6 0h2m156 0h1m86 0h2m5 0h1m1 0h2m5 0h3m1 0h1m2 0h1m14 0h1m2 0h1m3 0h1m2 0h1m7 0h1m2 0h1m4 0h2m11 0h1m9 0h3m4 0h1m1 0h1m1 0h1m8 0h2m2 0h1m7 0h1m1 0h1m5 0h1m2 0h1m1 0h2m1 0h1m3 0h2m7 0h3m6 0h1m6 0h1m2 0h4m6 0h1m1 0h1m16 0h1m16 0h1m2 0h1m12 0h1m2 0h1m1 0h1m9 0h1m2 0h1m4 0h1m7 0h4m2 0h1m5 0h1m6 0h3m1 0h1m13 0h1m2 0h2m3 0h1m2 0h1m3 0h1m1 0h1m1 0h1m1 0h1m14 0h3m4 0h1m2 0h1m3 0h1m1 0h1m16 0h1m1 0h1m2 0h1m1 0h1m6 0h1m1 0h1m2 0h1m14 0h3m2 0h1m8 0h1m4 0h1m10 0h1m7 0h2m2 0h2m6 0h1m4 0h1m5 0h1m3 0h1M1 31.5h1m10 0h1m1 0h1m1 0h1m3 0h1m4 0h1m4 0h1m2 0h2m6 0h4m3 0h1m2 0h1m2 0h2m2 0h1m8 0h1m15 0h1m10 0h1m1 0h1m2 0h3m3 0h1m1 0h1m4 0h1m1 0h1m16 0h1m5 0h1m2 0h1m1 0h1m3 0h2m1 0h1m1 0h1m2 0h1m1 0h5m2 0h2m5 0h1m2 0h2m10 0h1m8 0h1m3 0h2m6 0h1m2 0h3m1 0h1m1 0h4m5 0h2m3 0h2m3 0h5m2 0h1m6 0h1m3 0h1m1 0h1m1 0h1m1 0h1m1 0h1m2 0h1m1 0h3m1 0h3m2 0h3m1 0h3m4 0h1m9 0h1m1 0h2m1 0h1m1 0h1m1 0h2m5 0h2m2 0h1m4 0h1m4 0h1m2 0h1m1 0h1m3 0h1m2 0h2m3 0h1m4 0h1m4 0h1m1 0h1m11 0h1m7 0h1m2 0h1m9 0h1m3 0h3m3 0h2m3 0h1m9 0h1m19 0h1m1 0h2m3 0h1m6 0h1m8 0h1m16 0h2m3 0h1m243 0h3m2 0h1m7 0h1m1 0h1m7 0h1m2 0h2m2 0h2m1 0h1m2 0h1m4 0h2m6 0h4m7 0h1m5 0h3m1 0h1m5 0h1m6 0h1m5 0h1m1 0h2m1 0h2m6 0h1m2 0h1m2 0h4m10 0h1m5 0h1m2 0h2m8 0h2m3 0h2m3 0h1m3 0h2m1 0h1m9 0h1m17 0h1m1 0h1m10 0h1m10 0h1m14 0h1m4 0h1m3 0h1m5 0h4m11 0h1m1 0h1m3 0h2m15 0h1m3 0h2m5 0h3m2 0h1m3 0h1m4 0h1m12 0h1m10 0h1m1 0h1m5 0h3m2 0h1m1 0h1m5 0h1m4 0h1m2 0h3m4 0h2m8 0h2m7 0h1m4 0h1m6 0h2m9 0h1m15 0h2m1 0h1m5 0h1m1 0h1m1 0h1m8 0h2m11 0h1M11 32.5h1m7 0h2m26 0h1m10 0h1m5 0h1m6 0h1m3 0h1m28 0h1m3 0h1m7 0h1m2 0h1m6 0h1m19 0h1m7 0h2m3 0h1m3 0h1m18 0h1m5 0h2m2 0h2m12 0h1m3 0h1m1 0h1m12 0h1m20 0h1m9 0h1m13 0h1m4 0h2m4 0h1m5 0h1m5 0h1m1 0h1m28 0h2m18 0h1m15 0h1m10 0h1m10 0h1m2 0h1m23 0h3m34 0h1m7 0h1m4 0h2m13 0h1m6 0h1m6 0h1m4 0h1m4 0h1m5 0h1m4 0h1m6 0h2m9 0h1m7 0h2m5 0h1m4 0h1m5 0h2m6 0h2m4 0h1m5 0h1m3 0h2m1 0h1m19 0h2m16 0h1m1 0h2m2 0h2m27 0h1m4 0h1m2 0h1m6 0h1m5 0h1m12 0h1m2 0h1m18 0h1m96 0h1m5 0h1m14 0h1m9 0h1m11 0h1m1 0h1m1 0h1m21 0h1m1 0h1m2 0h1m2 0h1m11 0h1m28 0h1m10 0h2m5 0h1m4 0h3m3 0h1m5 0h1m10 0h1m1 0h1m34 0h1m3 0h1m4 0h1m1 0h1m5 0h1m11 0h1m2 0h1m11 0h1m3 0h2m4 0h1m20 0h2m13 0h1m3 0h1m6 0h1m4 0h1m4 0h1m15 0h1m45 0h1m15 0h1M8 33.5h1m1 0h2m31 0h1m13 0h1m8 0h1m6 0h2m5 0h2m20 0h2m8 0h1m1 0h1m19 0h2m8 0h1m7 0h1m6 0h1m9 0h1m2 0h1m12 0h2m15 0h1m4 0h1m3 0h1m2 0h1m1 0h1m2 0h2m11 0h1m10 0h1m6 0h3m6 0h1m19 0h1m30 0h2m27 0h2m1 0h1m6 0h1m15 0h1m4 0h1m2 0h1m11 0h2m5 0h1m11 0h2m16 0h1m2 0h1m6 0h1m4 0h2m8 0h1m16 0h1m19 0h3m4 0h2m4 0h2m10 0h1m2 0h1m3 0h1m24 0h1m13 0h1m3 0h1m7 0h1m1 0h1m1 0h1m11 0h1m4 0h1m4 0h1m22 0h1m2 0h1m16 0h1m7 0h1m5 0h1m8 0h1m12 0h2m14 0h1m21 0h2m3 0h1m48 0h1m25 0h1m20 0h1m1 0h1m15 0h2m14 0h1m2 0h1m5 0h1m10 0h1m4 0h1m2 0h1m3 0h1m7 0h2m6 0h1m17 0h1m2 0h1m19 0h1m11 0h1m4 0h1m8 0h1m20 0h2m5 0h1m1 0h1m13 0h1m35 0h1m11 0h1m4 0h1m13 0h1m2 0h1m26 0h1m16 0h1m8 0h1m1 0h2m5 0h1m3 0h3m1 0h2m16 0h2m14 0h1m9 0h1M2 34.5h1m60 0h1m3 0h1m18 0h1m7 0h1m3 0h1m10 0h1m7 0h1m25 0h1m2 0h1m20 0h1m6 0h1m1 0h2m4 0h1m6 0h1m5 0h1m7 0h1m14 0h1m13 0h1m10 0h1m4 0h1m1 0h1m1 0h2m5 0h1m41 0h1m25 0h2m66 0h1m6 0h1m27 0h1m4 0h1m1 0h1m17 0h1m5 0h2m15 0h1m4 0h1m3 0h1m13 0h1m7 0h2m6 0h2m19 0h1m2 0h2m5 0h1m1 0h2m7 0h1m3 0h1m4 0h2m9 0h1m3 0h1m2 0h1m2 0h1m17 0h1m5 0h1m1 0h1m5 0h1m1 0h1m2 0h1m3 0h2m6 0h1m15 0h1m1 0h1m36 0h1m2 0h1m3 0h2m9 0h1m93 0h1m10 0h1m5 0h1m2 0h2m7 0h1m8 0h1m46 0h1m4 0h1m10 0h1m23 0h1m4 0h1m3 0h1m20 0h1m14 0h1m1 0h1m1 0h1m10 0h1m16 0h1m20 0h2m1 0h1m2 0h2m9 0h2m2 0h2m22 0h1m9 0h1m6 0h1m13 0h1m5 0h1m2 0h2m12 0h1m5 0h1m7 0h2m23 0h3m7 0h1m10 0h1M6 35.5h1m13 0h1m6 0h3m2 0h1m34 0h1m3 0h1m6 0h1m5 0h1m3 0h2m6 0h3m3 0h1m2 0h1m6 0h1m1 0h1m8 0h1m6 0h1m5 0h2m1 0h1m12 0h2m4 0h1m9 0h1m12 0h1m1 0h1m6 0h1m3 0h1m3 0h1m2 0h2m2 0h1m2 0h1m15 0h1m9 0h1m1 0h1m10 0h1m3 0h1m9 0h2m5 0h1m6 0h1m8 0h1m16 0h1m29 0h1m11 0h1m3 0h1m2 0h1m6 0h1m31 0h1m21 0h1m7 0h1m1 0h1m2 0h1m16 0h1m6 0h1m4 0h1m2 0h1m23 0h1m6 0h1m14 0h1m3 0h1m1 0h1m18 0h1m7 0h1m4 0h1m20 0h1m7 0h1m1 0h1m2 0h1m9 0h1m5 0h1m2 0h1m4 0h1m14 0h1m5 0h1m7 0h1m15 0h1m2 0h1m28 0h1m1 0h1m1 0h1m6 0h1m1 0h1m7 0h1m2 0h1m7 0h1m67 0h1m15 0h1m5 0h1m5 0h1m14 0h1m9 0h1m19 0h1m9 0h1m38 0h1m12 0h1m1 0h1m2 0h1m36 0h1m2 0h1m10 0h2m6 0h1m11 0h1m1 0h3m2 0h1m13 0h1m8 0h1m22 0h1m5 0h1m4 0h1m13 0h1m6 0h1m12 0h1m18 0h1m15 0h1m26 0h1m1 0h1m12 0h1m10 0h2m9 0h2m5 0h1M9 36.5h1m4 0h1m9 0h1m2 0h1m2 0h2m6 0h4m19 0h2m3 0h1m5 0h1m6 0h1m3 0h1m2 0h1m1 0h1m6 0h1m4 0h2m2 0h1m2 0h1m13 0h1m3 0h1m1 0h2m1 0h1m7 0h3m5 0h1m1 0h2m14 0h1m1 0h1m2 0h1m1 0h2m1 0h1m10 0h1m6 0h1m5 0h4m2 0h2m5 0h1m8 0h4m14 0h1m1 0h1m15 0h1m10 0h1m9 0h3m1 0h1m1 0h2m6 0h1m2 0h1m5 0h1m6 0h4m5 0h1m1 0h2m6 0h2m2 0h1m2 0h2m5 0h2m1 0h1m1 0h3m6 0h1m2 0h1m4 0h1m5 0h1m10 0h2m3 0h2m12 0h1m12 0h1m2 0h2m10 0h1m2 0h1m4 0h1m4 0h5m2 0h1m2 0h1m5 0h2m3 0h2m1 0h1m12 0h2m3 0h1m1 0h1m1 0h2m3 0h1m2 0h1m4 0h2m3 0h1m3 0h4m3 0h1m2 0h2m4 0h1m2 0h1m6 0h2m12 0h1m3 0h1m2 0h3m1 0h2m1 0h1m4 0h1m4 0h2m3 0h1m1 0h2m7 0h1m7 0h1m3 0h1m9 0h1m2 0h1m3 0h1m14 0h2m2 0h1m6 0h2m5 0h1m5 0h1m2 0h1m1 0h1m4 0h1m5 0h1m6 0h1m4 0h1m2 0h1m5 0h1m2 0h1m1 0h1m1 0h1m3 0h2m1 0h2m4 0h1m5 0h1m14 0h1m14 0h1m3 0h4m3 0h1m1 0h1m1 0h1m1 0h1m4 0h1m4 0h1m30 0h1m5 0h1m70 0h1m44 0h1m12 0h1m1 0h1m2 0h1m5 0h1m1 0h1m6 0h3m3 0h3m7 0h1m3 0h1m1 0h1m2 0h5m2 0h1m3 0h5m7 0h5m4 0h3m2 0h2m6 0h2m6 0h1m1 0h1m2 0h2m2 0h2m1 0h2m3 0h2m4 0h1m1 0h1m2 0h1m1 0h1m6 0h1m3 0h2m3 0h1m1 0h1m2 0h1m1 0h1m8 0h1m7 0h2m3 0h4m2 0h1m2 0h4m1 0h1m1 0h3m5 0h1m1 0h4m2 0h1m2 0h1m3 0h1m3 0h1m6 0h1m2 0h2m8 0h1m3 0h1m1 0h1m1 0h7m1 0h2m1 0h1M0 37.5h1m1 0h2m3 0h1m4 0h1m15 0h2m1 0h1m4 0h2m1 0h1m5 0h1m4 0h1m3 0h2m7 0h2m2 0h1m4 0h1m3 0h1m10 0h1m1 0h3m9 0h2m2 0h1m2 0h2m8 0h1m1 0h2m1 0h2m4 0h1m4 0h2m1 0h1m1 0h1m2 0h1m1 0h3m1 0h2m5 0h1m3 0h2m8 0h1m2 0h2m3 0h1m1 0h1m2 0h4m1 0h1m4 0h1m6 0h1m3 0h2m2 0h1m3 0h1m4 0h1m3 0h4m6 0h2m4 0h1m3 0h1m1 0h1m4 0h1m2 0h2m4 0h4m1 0h1m1 0h1m2 0h1m1 0h2m1 0h1m4 0h3m2 0h1m1 0h2m6 0h2m9 0h2m1 0h2m1 0h1m1 0h2m3 0h1m4 0h3m12 0h2m1 0h1m3 0h1m5 0h1m6 0h1m1 0h1m9 0h6m1 0h1m5 0h2m1 0h3m9 0h2m10 0h1m3 0h2m2 0h3m5 0h5m1 0h1m1 0h2m1 0h1m5 0h1m2 0h2m2 0h2m1 0h1m3 0h2m2 0h1m4 0h1m4 0h1m7 0h2m1 0h1m6 0h1m5 0h2m2 0h1m1 0h1m3 0h2m2 0h1m1 0h1m3 0h2m3 0h1m1 0h1m4 0h1m1 0h2m9 0h4m4 0h1m3 0h1m1 0h1m11 0h1m6 0h1m4 0h1m2 0h2m5 0h1m2 0h1m2 0h1m6 0h3m5 0h1m1 0h1m3 0h2m2 0h1m3 0h2m5 0h2m4 0h2m3 0h2m3 0h1m4 0h2m1 0h2m2 0h2m6 0h1m1 0h4m1 0h1m12 0h4m4 0h1m2 0h3m5 0h1m1 0h2m1 0h1m1 0h1m4 0h1m1 0h1m4 0h1m2 0h1m5 0h4m2 0h1m5 0h3m1 0h1m1 0h3m1 0h1m3 0h2m3 0h1m2 0h3m3 0h2m38 0h1m3 0h1m82 0h2m9 0h1m13 0h4m2 0h2m4 0h1m2 0h1m3 0h3m2 0h2m4 0h1m6 0h2m4 0h1m4 0h3m1 0h1m2 0h1m13 0h1m2 0h1m5 0h1m2 0h4m2 0h1m2 0h4m2 0h1m5 0h3m4 0h3m1 0h1m4 0h1m3 0h1m1 0h1m1 0h1m1 0h3m3 0h1m2 0h1m2 0h2m1 0h3m3 0h2m1 0h2m4 0h2m4 0h1m1 0h1m1 0h1m1 0h1m6 0h3m7 0h1m3 0h2m1 0h1m7 0h1m2 0h1m2 0h1m17 0h2m1 0h1m3 0h1m5 0h1m1 0h1m1 0h1m2 0h2m1 0h1m1 0h4m4 0h2m2 0h6m3 0h2M4 38.5h2m2 0h1m3 0h1m1 0h4m7 0h1m2 0h1m5 0h1m1 0h1m1 0h1m10 0h1m5 0h1m9 0h1m4 0h2m1 0h1m3 0h1m1 0h1m9 0h1m3 0h1m3 0h2m5 0h1m2 0h2m1 0h1m1 0h1m1 0h3m1 0h1m4 0h1m3 0h2m8 0h4m4 0h1m4 0h3m7 0h1m3 0h1m1 0h2m1 0h1m1 0h2m3 0h2m1 0h1m2 0h2m2 0h1m7 0h1m1 0h2m5 0h3m1 0h1m6 0h2m6 0h3m2 0h1m1 0h2m7 0h1m6 0h1m7 0h1m7 0h3m9 0h2m3 0h1m1 0h2m1 0h1m1 0h1m1 0h1m3 0h1m1 0h3m1 0h1m2 0h1m1 0h1m1 0h4m5 0h2m2 0h2m2 0h2m1 0h1m1 0h1m4 0h2m3 0h1m12 0h2m3 0h1m3 0h4m3 0h1m2 0h1m2 0h5m4 0h1m2 0h4m3 0h2m1 0h1m5 0h2m66 0h1m16 0h2m3 0h1m8 0h3m3 0h1m3 0h1m3 0h4m6 0h3m1 0h1m6 0h1m1 0h1m1 0h3m2 0h1m10 0h1m1 0h1m1 0h1m13 0h2m5 0h1m1 0h2m2 0h1m3 0h1m3 0h1m3 0h1m11 0h3m11 0h1m1 0h1m2 0h1m4 0h1m5 0h1m1 0h1m1 0h1m2 0h2m1 0h2m2 0h3m6 0h2m3 0h1m1 0h1m3 0h3m4 0h1m3 0h2m1 0h1m5 0h2m15 0h1m3 0h3m3 0h3m3 0h1m1 0h4m11 0h1m5 0h2m2 0h2m3 0h2m11 0h2m21 0h1m19 0h1m110 0h2m2 0h1m1 0h1m2 0h1m1 0h1m1 0h1m2 0h7m1 0h1m5 0h1m2 0h1m2 0h1m5 0h1m1 0h1m10 0h1m5 0h1m1 0h3m1 0h1m2 0h1m1 0h1m19 0h1m2 0h1m1 0h2m1 0h8m1 0h1m2 0h3m2 0h1m3 0h1m1 0h1m3 0h1m2 0h1m3 0h1m2 0h2m5 0h4m1 0h2m3 0h2m7 0h3m3 0h1m4 0h5m1 0h1m1 0h1m2 0h2m1 0h4m1 0h2m3 0h1m1 0h2m8 0h1m6 0h1m3 0h1m2 0h1m1 0h1m1 0h1m3 0h1m7 0h3m1 0h1m4 0h2m3 0h3m1 0h5m1 0h2m1 0h1m2 0h1m1 0h2M0 39.5h1m6 0h1m2 0h1m7 0h3m6 0h2m3 0h1m1 0h2m1 0h2m2 0h5m1 0h1m12 0h1m1 0h1m1 0h1m2 0h4m4 0h1m14 0h1m3 0h1m2 0h1m6 0h1m1 0h1m1 0h1m6 0h4m2 0h2m1 0h3m6 0h1m1 0h3m7 0h2m4 0h3m3 0h1m1 0h1m2 0h2m1 0h1m3 0h3m4 0h4m2 0h2m12 0h2m3 0h2m1 0h1m1 0h1m5 0h1m8 0h3m4 0h3m2 0h2m1 0h1m7 0h1m3 0h1m2 0h2m4 0h3m8 0h1m4 0h2m2 0h1m3 0h1m8 0h2m3 0h1m4 0h1m9 0h1m11 0h1m4 0h2m1 0h1m2 0h3m4 0h2m1 0h1m4 0h1m4 0h1m1 0h1m3 0h1m1 0h1m1 0h1m2 0h1m6 0h1m3 0h1m1 0h1m5 0h1m7 0h1m1 0h3m38 0h2m48 0h5m8 0h1m13 0h3m5 0h2m1 0h1m1 0h1m4 0h1m11 0h3m2 0h1m10 0h2m1 0h1m2 0h1m3 0h1m4 0h1m4 0h1m4 0h5m6 0h1m3 0h1m12 0h1m14 0h1m1 0h1m6 0h1m1 0h1m7 0h1m5 0h2m1 0h1m5 0h1m3 0h2m4 0h1m4 0h2m8 0h1m8 0h1m2 0h1m10 0h1m23 0h2m195 0h2m7 0h3m2 0h1m5 0h1m2 0h1m8 0h1m7 0h1m7 0h1m7 0h1m4 0h1m4 0h1m3 0h3m1 0h1m3 0h1m3 0h2m1 0h1m5 0h1m3 0h1m1 0h2m2 0h5m4 0h4m3 0h4m1 0h1m2 0h1m4 0h1m2 0h5m4 0h1m4 0h1m2 0h1m4 0h2m7 0h1m4 0h1m1 0h5m7 0h1m1 0h3m12 0h3m2 0h1m3 0h3m13 0h1m1 0h2m1 0h7m1 0h1m9 0h1m5 0h2m1 0h2m1 0h2m3 0h1M0 40.5h6m1 0h1m3 0h1m4 0h1m19 0h2m3 0h1m3 0h1m2 0h2m1 0h1m5 0h1m2 0h1m2 0h1m1 0h1m1 0h5m2 0h1m2 0h1m5 0h1m1 0h4m1 0h1m3 0h5m10 0h1m1 0h1m2 0h2m9 0h1m8 0h1m2 0h1m11 0h2m5 0h1m10 0h1m1 0h2m2 0h1m10 0h1m5 0h2m1 0h1m2 0h3m1 0h1m1 0h2m3 0h1m3 0h1m1 0h2m3 0h1m6 0h2m11 0h1m6 0h1m1 0h1m1 0h1m7 0h1m5 0h1m2 0h1m2 0h1m8 0h4m1 0h1m2 0h2m3 0h1m2 0h1m4 0h4m4 0h3m3 0h2m2 0h2m6 0h4m1 0h1m2 0h1m3 0h2m3 0h2m1 0h4m1 0h1m4 0h1m8 0h1m1 0h1m3 0h3m4 0h1m3 0h1m5 0h1m1 0h3m5 0h1m13 0h1m14 0h1m4 0h1m12 0h1m2 0h2m3 0h1m2 0h1m4 0h1m4 0h1m1 0h1m1 0h2m8 0h1m3 0h1m2 0h1m5 0h6m4 0h2m2 0h1m4 0h1m1 0h1m2 0h1m1 0h1m3 0h2m2 0h1m8 0h2m6 0h1m1 0h2m2 0h2m5 0h1m1 0h1m3 0h2m1 0h2m5 0h1m2 0h1m12 0h1m6 0h1m3 0h1m8 0h2m3 0h3m1 0h1m2 0h1m4 0h1m3 0h3m5 0h2m5 0h1m7 0h1m1 0h4m2 0h1m3 0h2m16 0h1m6 0h6m3 0h1m6 0h1m1 0h1m12 0h1m9 0h1m1 0h1m11 0h1m1 0h1m5 0h1m6 0h2m3 0h1m3 0h1m1 0h2m8 0h1m78 0h1m9 0h1m32 0h1m19 0h1m10 0h1m4 0h2m2 0h2m3 0h1m2 0h3m4 0h1m2 0h1m6 0h1m3 0h2m3 0h1m6 0h1m2 0h3m2 0h1m3 0h2m4 0h1m1 0h2m1 0h1m2 0h1m4 0h1m2 0h1m1 0h2m1 0h2m2 0h3m1 0h1m4 0h3m6 0h1m5 0h1m2 0h1m1 0h2m1 0h2m5 0h1m10 0h1m2 0h3m4 0h3m12 0h2m8 0h1m2 0h1m13 0h1m2 0h2m3 0h1m1 0h1m6 0h1m1 0h3m2 0h1m8 0h1m9 0h1m9 0h1m2 0h1m7 0h1m3 0h1M0 41.5h5m3 0h2m1 0h1m13 0h1m1 0h1m4 0h3m2 0h5m3 0h1m9 0h1m1 0h3m7 0h2m5 0h1m2 0h3m5 0h1m1 0h3m4 0h1m3 0h1m5 0h1m2 0h2m3 0h1m8 0h1m1 0h1m4 0h2m1 0h2m3 0h2m1 0h2m2 0h1m3 0h1m1 0h3m4 0h1m1 0h1m3 0h2m2 0h3m4 0h1m5 0h2m2 0h3m2 0h2m5 0h1m5 0h1m11 0h1m2 0h1m1 0h2m1 0h1m1 0h1m5 0h2m1 0h1m4 0h2m4 0h1m1 0h2m5 0h2m3 0h1m3 0h2m1 0h1m6 0h2m6 0h1m7 0h1m2 0h1m2 0h1m9 0h1m8 0h1m1 0h2m2 0h1m1 0h1m2 0h2m9 0h2m4 0h1m3 0h2m1 0h2m1 0h2m1 0h1m3 0h1m1 0h6m2 0h2m2 0h2m2 0h3m4 0h5m7 0h1m6 0h1m82 0h1m3 0h1m8 0h1m11 0h2m7 0h1m3 0h2m9 0h1m9 0h1m5 0h1m3 0h1m5 0h4m2 0h1m17 0h2m5 0h2m2 0h1m10 0h2m16 0h1m8 0h1m4 0h1m11 0h1m5 0h1m22 0h1m1 0h1m2 0h1m3 0h4m8 0h2m1 0h1m1 0h2m217 0h1m2 0h1m1 0h1m1 0h1m11 0h2m5 0h1m2 0h1m13 0h2m2 0h1m1 0h1m4 0h1m3 0h1m6 0h2m1 0h4m9 0h3m1 0h1m4 0h2m2 0h1m5 0h2m2 0h1m2 0h1m1 0h1m5 0h1m1 0h1m2 0h3m1 0h1m3 0h2m6 0h1m4 0h2m4 0h2m10 0h1m1 0h1m2 0h1m2 0h2m2 0h1m2 0h1m9 0h1m2 0h2m5 0h1m1 0h3m4 0h1m1 0h1m3 0h2m5 0h1m4 0h1m1 0h1m2 0h1m7 0h1m2 0h1m5 0h1m16 0h2m6 0h1m5 0h1M8 42.5h1m1 0h1m3 0h1m3 0h1m1 0h3m5 0h1m3 0h5m1 0h2m2 0h3m7 0h1m1 0h1m8 0h1m2 0h1m1 0h1m1 0h2m6 0h4m8 0h1m4 0h1m2 0h1m2 0h1m9 0h2m10 0h1m1 0h1m2 0h6m2 0h1m2 0h1m9 0h1m6 0h3m7 0h1m2 0h1m2 0h1m1 0h1m1 0h1m1 0h1m1 0h1m4 0h1m2 0h1m1 0h2m10 0h1m3 0h1m5 0h2m5 0h1m6 0h1m1 0h3m15 0h2m1 0h1m6 0h1m3 0h1m5 0h3m6 0h1m1 0h1m1 0h1m1 0h1m3 0h3m2 0h1m1 0h2m11 0h1m1 0h1m1 0h6m10 0h2m6 0h2m2 0h1m4 0h1m1 0h4m3 0h1m2 0h1m3 0h1m5 0h1m3 0h1m2 0h1m3 0h1m3 0h2m1 0h1m4 0h1m6 0h1m1 0h5m50 0h1m33 0h1m18 0h1m1 0h1m2 0h1m15 0h1m16 0h1m2 0h1m6 0h2m2 0h1m9 0h1m5 0h1m5 0h3m3 0h1m6 0h1m1 0h2m12 0h1m9 0h1m5 0h1m1 0h1m2 0h1m2 0h1m3 0h3m4 0h1m2 0h1m11 0h2m4 0h1m1 0h1m2 0h2m3 0h1m5 0h1m11 0h2m3 0h4m6 0h3m3 0h1m214 0h2m3 0h1m7 0h1m2 0h1m3 0h1m4 0h1m1 0h2m1 0h1m7 0h2m1 0h2m3 0h1m2 0h1m3 0h1m2 0h1m1 0h4m2 0h1m3 0h3m8 0h1m6 0h1m7 0h3m2 0h5m1 0h2m11 0h2m6 0h1m17 0h5m1 0h3m8 0h1m7 0h2m5 0h1m5 0h1m1 0h2m1 0h2m6 0h1m3 0h3m2 0h1m2 0h2m3 0h1m3 0h1m3 0h1m1 0h1m4 0h1m5 0h2m1 0h1m5 0h1m3 0h1m3 0h1m3 0h1m6 0h1m3 0h2M1 43.5h1m20 0h2m4 0h2m3 0h1m2 0h1m2 0h1m20 0h1m1 0h1m11 0h2m8 0h2m3 0h1m5 0h1m3 0h2m1 0h1m1 0h2m6 0h2m4 0h1m9 0h1m7 0h2m11 0h1m3 0h2m2 0h1m6 0h2m2 0h1m33 0h1m2 0h1m2 0h3m2 0h1m3 0h3m5 0h1m3 0h3m2 0h2m4 0h3m4 0h1m1 0h1m4 0h1m1 0h1m2 0h1m7 0h1m16 0h2m3 0h1m1 0h1m3 0h2m4 0h1m54 0h1m2 0h1m10 0h2m1 0h1m2 0h1m6 0h1m3 0h1m1 0h1m1 0h1m4 0h1m9 0h1m2 0h2m9 0h1m3 0h2m2 0h1m6 0h1m19 0h1m2 0h3m2 0h1m3 0h1m2 0h1m1 0h6m2 0h2m4 0h1m1 0h5m6 0h3m8 0h2m12 0h1m1 0h1m5 0h1m1 0h1m3 0h2m7 0h3m1 0h2m2 0h1m4 0h2m1 0h1m4 0h3m3 0h2m1 0h1m5 0h6m2 0h2m1 0h1m1 0h3m1 0h1m1 0h1m3 0h1m4 0h1m6 0h2m6 0h3m6 0h1m4 0h1m4 0h1m2 0h1m10 0h1m1 0h1m5 0h1m1 0h3m8 0h2m1 0h1m3 0h1m12 0h5m3 0h1m1 0h1m4 0h3m1 0h2m2 0h2m1 0h2m8 0h1m1 0h6m4 0h8m1 0h5m4 0h1m1 0h1m1 0h2m9 0h1m5 0h1m5 0h1m3 0h2m1 0h1m1 0h2m9 0h1m1 0h3m2 0h1m5 0h1m1 0h1m2 0h2m1 0h1m11 0h2m7 0h1m10 0h1m5 0h1m2 0h1m2 0h1m1 0h3m2 0h3m1 0h1m2 0h1m4 0h1m15 0h1m4 0h1m154 0h1m55 0h1m14 0h1m5 0h1M6 44.5h1m3 0h2m10 0h1m1 0h1m9 0h1m2 0h2m3 0h1m4 0h1m3 0h1m9 0h1m8 0h1m6 0h1m4 0h1m2 0h2m5 0h2m10 0h3m3 0h1m1 0h1m1 0h1m1 0h1m3 0h1m5 0h2m11 0h1m3 0h3m1 0h1m1 0h2m3 0h1m5 0h1m1 0h1m3 0h1m14 0h3m2 0h1m6 0h1m5 0h1m3 0h1m3 0h1m4 0h2m7 0h1m4 0h1m6 0h3m11 0h1m1 0h2m8 0h2m2 0h4m1 0h1m2 0h2m5 0h1m2 0h2m3 0h2m3 0h1m2 0h1m5 0h2m54 0h1m1 0h1m3 0h1m1 0h1m6 0h1m8 0h1m4 0h1m9 0h1m3 0h2m3 0h1m1 0h2m12 0h1m3 0h5m15 0h3m1 0h3m5 0h1m7 0h1m3 0h3m2 0h1m2 0h2m2 0h1m1 0h1m10 0h1m2 0h1m3 0h4m1 0h2m3 0h1m1 0h3m1 0h1m4 0h4m10 0h2m6 0h1m2 0h1m1 0h1m3 0h1m2 0h2m4 0h1m3 0h1m1 0h1m3 0h1m1 0h1m6 0h1m6 0h1m1 0h1m3 0h1m2 0h1m1 0h1m1 0h3m1 0h4m1 0h2m3 0h4m2 0h1m3 0h1m2 0h2m2 0h1m1 0h2m6 0h1m2 0h2m12 0h1m1 0h3m4 0h1m2 0h1m10 0h2m2 0h3m3 0h4m1 0h3m1 0h1m3 0h2m1 0h1m1 0h1m1 0h1m3 0h2m1 0h1m3 0h1m1 0h1m1 0h1m1 0h1m4 0h3m3 0h1m2 0h1m1 0h4m1 0h2m3 0h1m1 0h1m1 0h1m3 0h3m3 0h1m5 0h3m1 0h1m5 0h1m7 0h1m3 0h1m2 0h2m10 0h2m2 0h4m1 0h3m8 0h4m1 0h2m4 0h1m2 0h1m1 0h1m10 0h2m2 0h1m1 0h1m3 0h2m2 0h1m1 0h3m2 0h2m2 0h1m1 0h1m5 0h1m1 0h1m1 0h1m4 0h2m2 0h2m1 0h1m4 0h2m4 0h1m103 0h1m38 0h1m7 0h1m32 0h1m18 0h1m5 0h2m37 0h2m20 0h1M6 45.5h1m1 0h2m1 0h1m1 0h1m5 0h2m2 0h2m7 0h1m2 0h1m2 0h1m3 0h2m9 0h2m6 0h1m3 0h1m2 0h1m4 0h2m7 0h2m1 0h1m1 0h1m8 0h1m2 0h1m9 0h1m2 0h1m3 0h3m5 0h1m2 0h1m2 0h1m1 0h1m10 0h1m13 0h1m29 0h1m10 0h2m8 0h1m1 0h1m7 0h1m2 0h1m3 0h1m14 0h2m2 0h2m4 0h1m3 0h1m11 0h1m3 0h1m3 0h2m1 0h3m3 0h1m3 0h4m5 0h1m9 0h1m18 0h1m1 0h1m1 0h1m10 0h2m1 0h2m2 0h1m3 0h2m6 0h1m1 0h1m7 0h1m2 0h1m3 0h1m6 0h1m1 0h2m4 0h1m2 0h2m3 0h1m11 0h1m2 0h1m5 0h2m2 0h4m3 0h2m3 0h1m1 0h1m1 0h1m1 0h4m3 0h1m2 0h1m1 0h3m5 0h1m9 0h2m1 0h1m1 0h3m8 0h3m1 0h1m1 0h4m1 0h5m2 0h1m4 0h2m3 0h1m2 0h2m2 0h8m2 0h1m1 0h2m8 0h3m1 0h1m5 0h4m1 0h1m1 0h1m4 0h2m5 0h1m7 0h3m1 0h4m2 0h2m4 0h1m9 0h1m1 0h2m2 0h2m1 0h1m2 0h1m2 0h1m1 0h2m1 0h1m4 0h2m6 0h2m2 0h3m1 0h1m2 0h2m1 0h2m2 0h1m1 0h2m4 0h1m12 0h1m2 0h1m3 0h2m1 0h1m4 0h1m3 0h2m1 0h2m2 0h2m12 0h1m1 0h3m2 0h1m2 0h2m3 0h2m2 0h4m2 0h1m1 0h2m1 0h1m1 0h4m3 0h1m1 0h1m4 0h1m3 0h1m15 0h1m5 0h3m5 0h2m1 0h1m1 0h3m1 0h2m1 0h2m1 0h1m1 0h2m3 0h2m2 0h1m2 0h3m4 0h1m1 0h1m1 0h3m1 0h1m3 0h3m1 0h1m1 0h1m2 0h3m1 0h2m3 0h2m1 0h4m1 0h1m1 0h4m1 0h1m10 0h1m4 0h1m1 0h1m1 0h2m2 0h3m1 0h1m1 0h1m9 0h1m122 0h1m15 0h1m1 0h1m7 0h3m10 0h1m2 0h1m1 0h1m2 0h1m2 0h3m9 0h1m1 0h1m3 0h2m1 0h2m1 0h1m2 0h1m1 0h1m1 0h8m1 0h1m1 0h1m2 0h2m4 0h1m1 0h1m1 0h3m1 0h1m3 0h2m10 0h1m1 0h1m1 0h1m2 0h3m8 0h3m3 0h1m2 0h2M0 46.5h1m1 0h1m7 0h2m2 0h1m8 0h1m10 0h1m2 0h2m1 0h1m1 0h3m7 0h1m4 0h1m15 0h2m6 0h1m2 0h2m3 0h1m1 0h1m6 0h3m4 0h2m6 0h1m2 0h5m2 0h1m10 0h1m8 0h1m8 0h1m8 0h1m3 0h1m2 0h1m6 0h1m2 0h2m4 0h1m1 0h3m5 0h1m5 0h1m8 0h2m3 0h1m7 0h2m4 0h1m4 0h1m4 0h1m1 0h1m2 0h2m1 0h1m2 0h3m1 0h1m10 0h5m7 0h1m5 0h1m5 0h2m2 0h1m1 0h3m3 0h1m8 0h1m1 0h2m1 0h3m13 0h2m1 0h1m5 0h1m7 0h1m8 0h1m4 0h1m3 0h1m3 0h3m3 0h3m1 0h2m2 0h2m1 0h1m2 0h1m13 0h1m23 0h1m1 0h1m1 0h1m8 0h1m8 0h1m2 0h1m2 0h1m2 0h1m4 0h2m3 0h1m1 0h5m5 0h1m2 0h1m8 0h1m5 0h1m1 0h1m1 0h2m2 0h2m4 0h1m4 0h3m3 0h3m1 0h1m4 0h1m8 0h2m3 0h1m1 0h1m6 0h1m6 0h2m3 0h2m1 0h2m3 0h1m4 0h2m1 0h1m2 0h1m2 0h2m12 0h1m1 0h1m2 0h1m1 0h1m3 0h2m5 0h2m2 0h1m2 0h2m6 0h2m5 0h2m6 0h1m5 0h1m3 0h1m4 0h1m6 0h1m1 0h1m4 0h1m9 0h2m1 0h1m2 0h1m1 0h1m2 0h3m2 0h2m1 0h1m2 0h1m4 0h1m6 0h1m2 0h3m1 0h1m1 0h3m4 0h1m2 0h1m1 0h1m4 0h3m2 0h1m1 0h1m1 0h1m3 0h3m1 0h2m3 0h1m1 0h1m4 0h1m6 0h1m2 0h1m1 0h2m1 0h1m10 0h1m9 0h1m2 0h1m4 0h2m3 0h1m1 0h1m4 0h1m6 0h1m6 0h4m1 0h2m2 0h1m4 0h1m1 0h1m4 0h2m1 0h1m1 0h1m1 0h1m1 0h1m6 0h2m1 0h1m7 0h2m4 0h1m2 0h2m6 0h1m4 0h2m147 0h1m7 0h1m10 0h1m6 0h1m17 0h1M3 47.5h3m3 0h1m13 0h2m3 0h1m12 0h1m1 0h2m16 0h1m10 0h1m6 0h3m2 0h1m12 0h2m1 0h1m7 0h2m5 0h1m20 0h1m8 0h2m4 0h1m1 0h1m4 0h2m1 0h3m4 0h1m3 0h1m4 0h2m2 0h4m3 0h1m3 0h1m5 0h2m2 0h2m2 0h2m1 0h2m7 0h3m7 0h1m4 0h2m1 0h1m3 0h1m3 0h3m4 0h2m2 0h1m1 0h1m6 0h1m4 0h1m5 0h1m11 0h2m4 0h1m7 0h1m5 0h1m10 0h1m1 0h2m4 0h1m2 0h2m5 0h1m16 0h1m4 0h3m2 0h2m5 0h1m9 0h3m5 0h1m4 0h2m1 0h1m3 0h2m1 0h1m4 0h2m7 0h1m1 0h2m5 0h1m2 0h1m9 0h1m1 0h1m1 0h1m1 0h3m1 0h1m4 0h1m3 0h1m3 0h3m3 0h1m8 0h1m3 0h1m5 0h1m5 0h1m2 0h2m2 0h3m9 0h2m4 0h2m1 0h1m1 0h2m1 0h1m1 0h1m7 0h1m3 0h1m5 0h1m5 0h2m10 0h1m2 0h2m2 0h2m2 0h1m1 0h2m1 0h1m6 0h1m1 0h5m3 0h1m1 0h2m1 0h2m2 0h1m2 0h1m4 0h1m4 0h3m2 0h1m6 0h1m1 0h1m2 0h1m1 0h4m8 0h4m1 0h2m4 0h1m4 0h2m2 0h6m1 0h4m7 0h3m2 0h2m3 0h2m3 0h1m3 0h2m9 0h1m3 0h1m1 0h1m4 0h1m1 0h2m2 0h1m2 0h1m1 0h1m3 0h2m1 0h3m1 0h2m1 0h1m1 0h1m5 0h2m1 0h2m2 0h1m2 0h2m1 0h1m7 0h1m2 0h1m3 0h2m2 0h1m3 0h3m3 0h4m3 0h2m4 0h2m1 0h1m5 0h1m3 0h3m1 0h1m2 0h1m1 0h1m6 0h1m4 0h1m1 0h5m1 0h1m2 0h3m6 0h1m2 0h1m1 0h1m4 0h1m2 0h1m3 0h2m4 0h1m1 0h1m4 0h3m2 0h1m2 0h1m3 0h1m1 0h2m148 0h1m104 0h1M0 48.5h1m2 0h1m9 0h2m11 0h1m6 0h1m3 0h1m1 0h1m6 0h1m4 0h1m9 0h2m1 0h1m5 0h1m1 0h1m24 0h3m6 0h3m1 0h2m1 0h1m2 0h1m3 0h1m4 0h1m4 0h1m3 0h2m1 0h1m2 0h1m2 0h1m1 0h1m12 0h1m5 0h1m6 0h1m4 0h1m2 0h1m4 0h1m17 0h1m1 0h1m1 0h1m1 0h3m1 0h3m3 0h2m3 0h2m4 0h2m5 0h1m3 0h1m2 0h1m1 0h2m1 0h1m2 0h1m6 0h2m13 0h6m1 0h1m1 0h2m4 0h2m9 0h1m1 0h2m3 0h3m12 0h1m3 0h1m4 0h1m14 0h1m2 0h1m2 0h1m1 0h2m1 0h1m4 0h1m1 0h1m2 0h1m3 0h1m1 0h1m3 0h1m1 0h1m5 0h1m1 0h1m2 0h5m7 0h2m2 0h1m5 0h6m6 0h1m2 0h1m3 0h2m3 0h1m6 0h1m1 0h1m5 0h2m2 0h2m3 0h1m2 0h1m2 0h2m5 0h1m2 0h1m1 0h1m2 0h1m6 0h1m3 0h1m1 0h1m4 0h2m3 0h2m1 0h1m1 0h1m2 0h1m4 0h2m1 0h2m2 0h1m1 0h1m6 0h1m1 0h1m3 0h2m2 0h1m3 0h1m4 0h5m6 0h1m2 0h1m1 0h2m1 0h1m5 0h1m1 0h1m7 0h2m2 0h1m5 0h2m5 0h1m2 0h3m3 0h2m8 0h1m1 0h1m4 0h1m3 0h1m2 0h1m4 0h4m1 0h3m1 0h2m10 0h1m7 0h1m3 0h1m2 0h1m1 0h1m1 0h1m1 0h4m1 0h1m3 0h3m5 0h1m1 0h1m1 0h1m2 0h1m2 0h2m1 0h1m6 0h2m4 0h1m1 0h3m4 0h3m2 0h3m7 0h1m2 0h1m2 0h1m3 0h2m3 0h1m1 0h2m1 0h1m2 0h1m2 0h1m3 0h1m6 0h1m3 0h1m6 0h1m5 0h3m4 0h1m3 0h2m3 0h1m1 0h2m1 0h2m1 0h1m2 0h4m3 0h1m1 0h2m1 0h1m1 0h1m4 0h1m4 0h1m3 0h1m1 0h1m2 0h1m11 0h1m1 0h1m1 0h1m5 0h1m1 0h1m1 0h1m3 0h1m8 0h2m3 0h2m2 0h1m3 0h1m1 0h1m22 0h1m127 0h1m1 0h1m4 0h1m1 0h1m8 0h1m19 0h1m2 0h1m1 0h1m4 0h1m14 0h1m17 0h2m5 0h1m1 0h1m14 0h1m11 0h1M5 49.5h2m1 0h1m5 0h2m9 0h1m1 0h1m9 0h1m10 0h2m1 0h5m15 0h2m4 0h6m4 0h2m2 0h1m6 0h1m2 0h1m1 0h2m1 0h2m12 0h1m5 0h1m3 0h2m3 0h2m3 0h1m7 0h1m3 0h1m6 0h1m1 0h2m26 0h1m3 0h2m2 0h1m3 0h3m7 0h1m2 0h3m2 0h3m1 0h2m1 0h4m2 0h2m1 0h1m2 0h2m3 0h1m1 0h1m12 0h1m1 0h2m6 0h1m4 0h2m6 0h3m1 0h2m6 0h1m9 0h2m1 0h1m1 0h1m1 0h1m7 0h1m1 0h2m16 0h5m2 0h2m2 0h2m1 0h2m3 0h1m2 0h1m6 0h1m2 0h1m2 0h2m2 0h3m5 0h1m12 0h3m1 0h3m13 0h1m8 0h4m2 0h1m7 0h5m5 0h2m2 0h1m3 0h1m2 0h1m1 0h1m2 0h1m4 0h1m2 0h2m5 0h3m1 0h2m5 0h1m4 0h3m1 0h1m3 0h1m2 0h2m3 0h2m6 0h2m1 0h1m2 0h1m6 0h1m6 0h1m3 0h1m2 0h1m2 0h2m8 0h4m1 0h1m3 0h1m5 0h1m1 0h4m4 0h1m1 0h1m2 0h3m7 0h1m1 0h2m5 0h1m4 0h1m7 0h1m1 0h1m6 0h1m6 0h1m2 0h1m5 0h1m3 0h1m1 0h2m1 0h1m2 0h2m3 0h1m5 0h2m13 0h1m2 0h2m1 0h1m1 0h2m2 0h1m2 0h2m21 0h1m1 0h3m8 0h1m1 0h1m4 0h8m11 0h4m3 0h1m1 0h4m1 0h2m4 0h2m6 0h1m3 0h1m1 0h1m2 0h2m4 0h3m3 0h1m6 0h2m3 0h1m2 0h2m2 0h1m3 0h1m3 0h6m3 0h1m8 0h1m1 0h3m1 0h1m2 0h1m6 0h2m1 0h5m3 0h3m1 0h1m3 0h1m1 0h1m1 0h1m9 0h1m2 0h2m3 0h3m141 0h3m6 0h1m4 0h4m4 0h2m2 0h1m1 0h3m5 0h1m4 0h1m4 0h2m6 0h2m4 0h3m5 0h2m6 0h1m2 0h1m1 0h1m3 0h1m1 0h1m4 0h2m1 0h2m2 0h1m11 0h1m4 0h1m13 0h1M9 50.5h1m10 0h1m2 0h1m12 0h1m4 0h1m4 0h1m1 0h1m3 0h1m14 0h1m6 0h1m1 0h1m2 0h1m2 0h1m7 0h1m4 0h1m2 0h3m1 0h1m2 0h1m1 0h2m7 0h1m3 0h1m2 0h2m4 0h3m4 0h1m12 0h1m1 0h2m10 0h1m1 0h3m2 0h1m2 0h2m16 0h1m6 0h1m1 0h1m4 0h1m19 0h2m9 0h3m6 0h1m7 0h1m5 0h1m2 0h2m17 0h1m1 0h3m1 0h2m2 0h1m1 0h1m7 0h1m55 0h2m13 0h2m7 0h1m1 0h1m1 0h1m1 0h1m2 0h1m2 0h1m9 0h3m8 0h1m1 0h1m1 0h2m4 0h1m2 0h3m5 0h1m1 0h1m2 0h3m1 0h2m1 0h2m7 0h3m2 0h1m3 0h1m1 0h1m2 0h1m2 0h2m1 0h2m4 0h2m1 0h1m2 0h2m3 0h2m1 0h1m3 0h3m6 0h2m4 0h1m1 0h1m2 0h2m1 0h1m1 0h2m2 0h1m7 0h1m8 0h1m2 0h2m3 0h1m2 0h2m1 0h1m3 0h2m2 0h1m1 0h2m9 0h1m4 0h2m5 0h3m3 0h1m8 0h1m1 0h1m2 0h1m1 0h1m2 0h1m1 0h2m9 0h4m1 0h2m8 0h2m1 0h1m1 0h1m5 0h1m4 0h3m5 0h3m4 0h1m5 0h1m4 0h1m1 0h1m1 0h1m10 0h1m4 0h1m4 0h1m1 0h1m20 0h3m1 0h1m1 0h1m4 0h2m2 0h1m5 0h1m6 0h1m3 0h1m2 0h1m12 0h1m2 0h3m2 0h1m7 0h1m2 0h2m3 0h1m1 0h1m4 0h3m9 0h1m7 0h1m1 0h2m4 0h4m1 0h1m4 0h1m2 0h1m2 0h4m2 0h2m3 0h1m7 0h2m2 0h3m3 0h1m4 0h1m3 0h1m2 0h3m1 0h1m13 0h1m108 0h1m9 0h1m89 0h1m13 0h1m7 0h2m11 0h1M0 51.5h2m2 0h1m9 0h1m5 0h1m6 0h2m2 0h1m8 0h1m2 0h2m3 0h1m3 0h1m3 0h2m6 0h1m8 0h1m4 0h1m4 0h1m2 0h2m1 0h1m1 0h1m1 0h1m1 0h1m4 0h2m2 0h1m6 0h3m2 0h1m9 0h1m3 0h5m8 0h1m9 0h1m4 0h2m12 0h2m7 0h4m5 0h1m2 0h2m3 0h1m3 0h3m1 0h1m1 0h4m5 0h3m3 0h1m2 0h1m3 0h1m1 0h2m3 0h3m17 0h1m1 0h1m1 0h1m2 0h2m1 0h1m1 0h1m4 0h1m2 0h2m2 0h1m2 0h3m6 0h1m1 0h1m11 0h1m2 0h2m1 0h1m2 0h2m6 0h1m5 0h1m4 0h1m6 0h1m3 0h1m4 0h2m1 0h3m2 0h1m1 0h1m2 0h1m7 0h1m1 0h3m2 0h1m2 0h1m1 0h1m1 0h1m2 0h1m5 0h2m7 0h1m8 0h1m4 0h1m5 0h1m3 0h2m5 0h1m1 0h1m3 0h2m1 0h1m3 0h3m3 0h4m3 0h1m2 0h1m15 0h1m3 0h1m1 0h1m2 0h1m2 0h1m1 0h1m4 0h1m6 0h1m1 0h1m11 0h1m7 0h1m2 0h2m2 0h2m3 0h1m3 0h2m1 0h1m6 0h1m7 0h1m4 0h2m3 0h1m7 0h1m3 0h1m4 0h1m6 0h1m1 0h1m2 0h2m1 0h1m3 0h2m4 0h1m3 0h2m5 0h1m5 0h1m5 0h2m4 0h1m2 0h2m18 0h1m1 0h1m6 0h1m4 0h1m1 0h2m1 0h2m6 0h1m10 0h1m7 0h2m4 0h1m19 0h3m12 0h1m3 0h1m2 0h1m1 0h1m2 0h1m3 0h3m3 0h4m4 0h2m2 0h3m10 0h1m4 0h1m2 0h6m2 0h1m1 0h2m2 0h1m5 0h1m3 0h2m2 0h1m1 0h2m6 0h1m1 0h1m1 0h1m1 0h1m1 0h1m5 0h1m2 0h1m1 0h1m8 0h1m3 0h1m2 0h1m6 0h1m1 0h3m1 0h2m2 0h4m6 0h2m2 0h1m1 0h1m1 0h2m3 0h1m12 0h1m31 0h1m8 0h1m11 0h1m3 0h1m1 0h1m8 0h1m24 0h1m1 0h1m17 0h1M0 52.5h1m1 0h1m1 0h1m3 0h2m3 0h2m1 0h2m1 0h2m5 0h2m4 0h1m3 0h4m7 0h1m2 0h2m2 0h1m9 0h2m1 0h2m1 0h1m1 0h1m4 0h2m3 0h1m1 0h1m1 0h2m8 0h4m2 0h1m1 0h5m2 0h4m7 0h1m7 0h6m2 0h2m2 0h3m8 0h2m2 0h1m3 0h1m1 0h2m2 0h1m5 0h1m3 0h1m6 0h1m2 0h1m3 0h1m1 0h2m3 0h2m2 0h2m1 0h1m1 0h2m1 0h3m1 0h2m4 0h1m1 0h1m4 0h1m4 0h3m3 0h1m2 0h3m1 0h1m1 0h1m6 0h1m3 0h1m5 0h1m1 0h3m4 0h2m12 0h2m1 0h1m2 0h1m3 0h1m1 0h1m1 0h2m4 0h1m3 0h1m3 0h2m2 0h2m1 0h3m2 0h2m3 0h2m1 0h2m3 0h1m5 0h1m4 0h1m4 0h1m3 0h7m4 0h1m4 0h1m2 0h1m6 0h1m1 0h2m2 0h2m2 0h2m4 0h1m6 0h1m2 0h1m1 0h2m1 0h2m9 0h1m2 0h1m5 0h1m5 0h1m1 0h1m2 0h2m3 0h1m18 0h5m5 0h1m7 0h4m1 0h1m3 0h3m1 0h1m14 0h1m5 0h1m1 0h1m1 0h2m8 0h1m2 0h1m3 0h1m2 0h2m3 0h1m1 0h2m5 0h3m2 0h1m1 0h1m2 0h2m2 0h1m6 0h1m7 0h1m1 0h1m1 0h1m6 0h1m2 0h1m5 0h1m3 0h6m2 0h1m9 0h1m3 0h1m11 0h1m1 0h1m3 0h2m1 0h1m2 0h1m7 0h1m1 0h1m2 0h1m1 0h1m2 0h1m2 0h1m1 0h1m5 0h1m6 0h2m1 0h4m2 0h2m5 0h2m4 0h1m1 0h1m2 0h2m5 0h1m4 0h3m1 0h1m2 0h1m1 0h2m2 0h1m2 0h2m4 0h2m2 0h1m3 0h1m2 0h1m11 0h1m7 0h4m1 0h1m3 0h3m1 0h1m1 0h2m2 0h1m3 0h1m2 0h1m1 0h1m6 0h2m1 0h2m6 0h1m2 0h1m1 0h1m3 0h1m2 0h1m3 0h3m1 0h3m1 0h2m1 0h1m5 0h1m6 0h1m9 0h1m3 0h2m1 0h1m2 0h1m4 0h1m2 0h2m1 0h1m4 0h2m1 0h1m1 0h2m2 0h1m20 0h3m16 0h1m12 0h1m20 0h1m7 0h1m2 0h2m4 0h2m42 0h2M1 53.5h2m3 0h2m3 0h1m4 0h1m5 0h1m9 0h3m8 0h1m2 0h1m9 0h3m5 0h1m4 0h4m2 0h1m1 0h1m1 0h1m5 0h1m5 0h1m1 0h2m10 0h1m2 0h1m5 0h1m13 0h1m7 0h1m1 0h1m3 0h1m3 0h1m4 0h1m1 0h1m5 0h1m4 0h1m2 0h1m2 0h1m4 0h1m1 0h1m1 0h1m3 0h4m1 0h1m6 0h2m1 0h2m7 0h2m1 0h3m8 0h2m2 0h1m1 0h1m2 0h1m2 0h1m1 0h3m13 0h1m3 0h1m1 0h1m1 0h1m3 0h4m1 0h2m4 0h2m1 0h4m3 0h1m2 0h1m2 0h1m6 0h1m1 0h1m5 0h2m1 0h1m2 0h1m1 0h2m5 0h7m3 0h1m5 0h1m1 0h1m3 0h1m5 0h1m2 0h1m1 0h2m3 0h1m5 0h1m5 0h3m3 0h2m8 0h1m1 0h1m3 0h1m5 0h1m6 0h4m2 0h1m1 0h2m12 0h1m6 0h1m4 0h1m7 0h1m1 0h1m2 0h3m8 0h1m3 0h3m16 0h4m2 0h1m6 0h1m3 0h3m2 0h2m7 0h1m10 0h1m1 0h2m6 0h2m6 0h1m3 0h1m10 0h1m8 0h1m1 0h1m3 0h2m4 0h1m2 0h4m2 0h1m4 0h2m5 0h1m2 0h1m5 0h1m3 0h1m1 0h1m13 0h1m2 0h1m10 0h1m10 0h2m1 0h1m1 0h1m3 0h1m2 0h1m8 0h2m10 0h1m1 0h1m4 0h1m7 0h1m3 0h1m13 0h2m3 0h1m1 0h1m1 0h1m1 0h2m2 0h2m5 0h2m1 0h1m4 0h2m6 0h1m1 0h5m2 0h2m3 0h2m4 0h4m2 0h2m2 0h3m2 0h1m14 0h1m1 0h1m6 0h3m7 0h1m1 0h2m1 0h1m1 0h3m7 0h1m2 0h4m5 0h3m1 0h3m1 0h2m4 0h3m3 0h1m2 0h1m3 0h1m5 0h2m3 0h2m3 0h1m6 0h1m9 0h1m1 0h1m34 0h2m4 0h1m10 0h2m10 0h1m8 0h1m5 0h1m12 0h1M4 54.5h1m5 0h4m1 0h2m3 0h1m5 0h1m1 0h1m5 0h1m3 0h1m2 0h1m4 0h4m2 0h1m1 0h2m1 0h7m1 0h1m1 0h2m4 0h3m3 0h1m5 0h1m1 0h1m1 0h1m1 0h3m4 0h1m7 0h1m4 0h2m8 0h2m1 0h3m6 0h2m6 0h1m6 0h1m2 0h2m6 0h1m2 0h1m10 0h1m1 0h5m13 0h1m3 0h1m1 0h2m1 0h2m3 0h1m2 0h1m8 0h1m9 0h2m2 0h1m3 0h1m1 0h2m1 0h3m5 0h2m4 0h2m3 0h3m2 0h4m5 0h2m8 0h2m4 0h2m1 0h5m2 0h2m3 0h1m1 0h2m5 0h1m2 0h1m5 0h3m7 0h2m14 0h6m2 0h2m1 0h3m4 0h1m1 0h1m6 0h1m4 0h1m7 0h1m4 0h1m1 0h1m3 0h1m2 0h1m1 0h1m3 0h1m3 0h2m1 0h2m1 0h1m3 0h1m5 0h1m5 0h1m4 0h1m3 0h1m1 0h1m2 0h1m1 0h1m5 0h1m1 0h3m1 0h3m3 0h1m1 0h1m1 0h1m2 0h1m3 0h3m6 0h2m3 0h3m1 0h1m7 0h1m5 0h3m4 0h1m1 0h1m2 0h2m1 0h1m6 0h1m1 0h1m2 0h1m1 0h2m1 0h1m12 0h1m1 0h2m13 0h1m3 0h2m4 0h4m1 0h2m7 0h2m7 0h1m4 0h1m7 0h1m8 0h1m1 0h1m14 0h4m1 0h1m4 0h1m2 0h1m4 0h4m2 0h2m4 0h2m3 0h3m3 0h2m3 0h5m4 0h3m1 0h1m4 0h2m5 0h1m2 0h1m2 0h1m1 0h5m3 0h1m3 0h3m1 0h1m1 0h1m3 0h1m1 0h1m1 0h1m3 0h1m1 0h1m3 0h1m18 0h4m2 0h1m1 0h2m1 0h4m16 0h1m1 0h3m10 0h2m4 0h1m5 0h1m10 0h1m4 0h1m4 0h1m2 0h1m4 0h3m2 0h1m1 0h2m4 0h1m2 0h1m1 0h2m8 0h1m4 0h1m2 0h1m5 0h4m6 0h2m2 0h1m5 0h1m23 0h2m9 0h1m25 0h1m2 0h1m7 0h1m3 0h1m26 0h1M6 55.5h2m2 0h1m1 0h1m3 0h2m1 0h2m5 0h1m1 0h1m1 0h1m2 0h1m2 0h1m6 0h4m1 0h1m1 0h1m1 0h2m1 0h2m6 0h1m3 0h1m1 0h1m4 0h1m4 0h1m6 0h2m1 0h1m6 0h2m10 0h1m6 0h1m2 0h1m3 0h1m2 0h2m12 0h4m5 0h1m2 0h1m2 0h1m3 0h2m1 0h2m2 0h1m5 0h1m1 0h3m1 0h3m1 0h1m16 0h2m1 0h1m4 0h1m4 0h1m7 0h1m1 0h3m8 0h1m3 0h1m4 0h1m6 0h1m1 0h1m2 0h1m2 0h1m3 0h3m3 0h2m1 0h1m3 0h1m1 0h1m1 0h1m7 0h1m4 0h1m2 0h2m1 0h1m1 0h3m4 0h1m3 0h1m3 0h1m2 0h1m2 0h2m2 0h1m3 0h1m2 0h1m1 0h1m1 0h1m6 0h1m4 0h1m2 0h1m3 0h1m2 0h1m1 0h1m5 0h1m2 0h2m3 0h1m2 0h2m9 0h2m1 0h3m7 0h1m3 0h1m2 0h1m3 0h2m1 0h6m3 0h2m1 0h3m4 0h2m2 0h3m3 0h1m2 0h1m1 0h1m1 0h2m9 0h1m1 0h1m6 0h3m1 0h1m4 0h2m9 0h3m8 0h3m2 0h1m3 0h3m4 0h1m2 0h1m1 0h2m8 0h1m3 0h2m7 0h1m14 0h1m15 0h1m3 0h1m2 0h1m3 0h3m1 0h2m6 0h1m6 0h1m8 0h1m5 0h1m11 0h2m1 0h2m8 0h2m3 0h2m3 0h1m4 0h2m9 0h3m4 0h1m10 0h1m2 0h1m2 0h2m2 0h1m9 0h1m3 0h1m6 0h1m6 0h1m7 0h1m1 0h1m2 0h1m3 0h2m3 0h2m2 0h7m1 0h1m2 0h1m1 0h1m2 0h3m2 0h1m3 0h2m1 0h1m1 0h2m3 0h1m2 0h3m1 0h3m5 0h1m1 0h1m5 0h1m2 0h1m1 0h2m2 0h4m2 0h1m3 0h5m2 0h1m9 0h5m2 0h1m2 0h1m1 0h5m2 0h1m3 0h1m4 0h1m4 0h2m1 0h4m6 0h2m4 0h2m3 0h2m1 0h2m3 0h4m2 0h4m14 0h1m4 0h3m35 0h1m9 0h1m21 0h1m11 0h1m10 0h1M3 56.5h2m2 0h1m3 0h1m2 0h2m1 0h2m1 0h1m8 0h1m9 0h1m3 0h2m2 0h3m6 0h2m3 0h2m11 0h1m2 0h2m1 0h1m5 0h1m2 0h2m2 0h7m7 0h2m6 0h2m2 0h2m5 0h2m5 0h1m3 0h1m4 0h1m6 0h2m4 0h1m2 0h1m6 0h6m3 0h1m2 0h4m6 0h1m1 0h1m3 0h1m6 0h1m2 0h3m3 0h1m1 0h1m1 0h1m1 0h1m4 0h1m1 0h1m2 0h2m9 0h1m5 0h1m9 0h2m1 0h1m3 0h2m6 0h3m1 0h1m2 0h2m3 0h1m1 0h1m1 0h1m1 0h2m1 0h1m12 0h3m1 0h1m6 0h2m4 0h1m2 0h1m2 0h1m3 0h1m5 0h1m8 0h1m11 0h2m8 0h1m1 0h3m1 0h1m3 0h1m1 0h1m2 0h3m8 0h2m1 0h1m2 0h2m2 0h1m3 0h1m7 0h1m1 0h5m7 0h1m5 0h1m2 0h1m4 0h2m4 0h2m5 0h2m3 0h3m6 0h1m5 0h1m4 0h1m2 0h2m2 0h1m12 0h1m2 0h2m4 0h1m1 0h1m5 0h1m2 0h2m8 0h1m1 0h1m1 0h1m9 0h1m7 0h2m3 0h1m1 0h1m3 0h2m6 0h1m10 0h1m8 0h1m1 0h1m7 0h2m10 0h2m1 0h2m1 0h4m10 0h1m3 0h2m4 0h1m1 0h2m2 0h2m3 0h1m11 0h1m3 0h1m6 0h1m6 0h2m2 0h1m10 0h2m4 0h2m1 0h2m2 0h1m1 0h1m3 0h1m2 0h3m4 0h1m3 0h1m1 0h1m2 0h1m2 0h1m3 0h2m3 0h1m1 0h1m3 0h4m1 0h2m1 0h3m3 0h1m1 0h1m11 0h4m3 0h4m3 0h1m1 0h1m2 0h2m5 0h1m1 0h2m7 0h1m2 0h2m2 0h2m8 0h2m9 0h1m1 0h1m2 0h1m5 0h2m3 0h2m1 0h2m10 0h1m2 0h1m1 0h1m3 0h1m2 0h2m1 0h1m5 0h1m5 0h1m2 0h3m3 0h1m5 0h1m11 0h1m57 0h1m6 0h1m30 0h1m3 0h1m8 0h2m13 0h1M1 57.5h1m9 0h1m1 0h1m16 0h3m12 0h1m3 0h1m1 0h1m7 0h1m2 0h1m4 0h2m6 0h1m2 0h2m8 0h1m3 0h2m8 0h2m2 0h1m1 0h1m14 0h1m3 0h1m7 0h1m11 0h1m4 0h1m1 0h3m2 0h1m5 0h1m4 0h2m1 0h2m1 0h2m5 0h1m2 0h2m13 0h2m1 0h2m2 0h1m16 0h3m3 0h1m1 0h1m2 0h1m14 0h1m7 0h1m5 0h2m3 0h2m2 0h2m2 0h1m5 0h1m2 0h1m8 0h1m3 0h2m12 0h6m1 0h2m5 0h1m5 0h1m5 0h1m2 0h1m9 0h2m3 0h1m3 0h1m2 0h2m2 0h1m10 0h1m5 0h2m3 0h4m8 0h1m8 0h2m2 0h2m3 0h1m5 0h2m1 0h1m6 0h1m4 0h2m13 0h1m10 0h1m8 0h1m7 0h2m14 0h2m10 0h2m4 0h2m1 0h2m4 0h1m9 0h1m3 0h2m2 0h1m16 0h1m1 0h1m6 0h1m1 0h1m5 0h1m1 0h1m3 0h1m1 0h1m1 0h1m4 0h2m9 0h1m3 0h1m1 0h1m10 0h3m1 0h1m6 0h2m6 0h1m9 0h1m9 0h1m8 0h2m4 0h1m4 0h1m4 0h2m7 0h1m3 0h3m4 0h1m1 0h2m1 0h1m5 0h1m1 0h2m6 0h1m10 0h1m1 0h2m5 0h3m12 0h4m1 0h1m2 0h1m4 0h1m5 0h1m8 0h1m1 0h1m2 0h1m2 0h1m1 0h1m1 0h1m7 0h2m1 0h1m3 0h1m5 0h1m1 0h1m23 0h2m3 0h3m17 0h1m1 0h1m3 0h2m1 0h4m1 0h1m9 0h4m2 0h1m6 0h1m5 0h1m3 0h1m24 0h1m4 0h2m7 0h1m1 0h1m16 0h1m9 0h2"/>
<path stroke="#3B528B" d="M37 0.5h1m21 0h1m31 0h2m50 0h1m21 0h1m7 0h1m1 0h1m23 0h2m4 0h1m5 0h1m8 0h1m4 0h1m11 0h1m2 0h2m9 0h2m9 0h1m5 0h2m17 0h1m2 0h1m3 0h1m2 0h2m44 0h1m12 0h1m5 0h1m24 0h1m4 0h2m2 0h1m8 0h1m3 0h1m3 0h1m2 0h1m6 0h2m8 0h1m7 0h1m8 0h1m8 0h2m7 0h1m6 0h1m5 0h3m23 0h2m37 0h2m5 0h3m1 0h1m1 0h1m10 0h1m7 0h1m1 0h1m2 0h1m1 0h1m1 0h1m25 0h1m14 0h1m15 0h1m1 0h2m8 0h1m1 0h1m5 0h1m15 0h1m10 0h1m2 0h2m9 0h1m20 0h1m7 0h3m1 0h1m1 0h1m3 0h2m14 0h2m1 0h1m4 0h1m5 0h1m9 0h1m6 0h1m9 0h3m6 0h3m9 0h1m3 0h5m8 0h2m13 0h1m4 0h1m2 0h1m2 0h1m3 0h1m2 0h1m14 0h1m3 0h1m8 0h1m6 0h1m16 0h1m8 0h1m1 0h1m4 0h1m4 0h2m1 0h1m1 0h1m1 0h1m1 0h1m9 0h1m12 0h1m9 0h1m1 0h2m2 0h1m2 0h1m9 0h1m3 0h1m9 0h2m4 0h1m12 0h1m7 0h1m4 0h1m3 0h1m13 0h1m5 0h1m7 0h1m3 0h1m4 0h1m18 0h2m4 0h1m1 0h2m6 0h1m1 0h1m11 0h1m1 0h1m11 0h1m9 0h1m4 0h1M3 1.5h1m33 0h3m18 0h1m14 0h2m13 0h2m3 0h1m11 0h1m31 0h1m40 0h1m40 0h2m3 0h2m5 0h1m2 0h1m3 0h2m2 0h1m2 0h1m8 0h1m10 0h1m5 0h2m14 0h3m6 0h1m3 0h1m2 0h2m1 0h3m7 0h2m11 0h1m1 0h2m19 0h1m3 0h1m1 0h2m2 0h2m1 0h1m2 0h2m3 0h1m4 0h1m3 0h1m12 0h1m7 0h1m5 0h1m14 0h3m8 0h1m2 0h1m1 0h1m21 0h1m6 0h2m2 0h1m10 0h2m2 0h1m5 0h1m5 0h1m26 0h1m2 0h1m11 0h1m2 0h1m6 0h1m4 0h1m15 0h1m29 0h1m9 0h2m1 0h1m5 0h1m2 0h1m2 0h1m3 0h2m11 0h1m3 0h1m21 0h1m6 0h2m2 0h2m5 0h2m4 0h1m1 0h1m18 0h3m23 0h1m4 0h1m7 0h1m1 0h1m1 0h3m4 0h3m24 0h1m1 0h1m4 0h1m3 0h4m4 0h2m5 0h2m3 0h1m1 0h1m24 0h1m14 0h1m4 0h1m2 0h1m7 0h1m3 0h1m2 0h1m6 0h2m4 0h1m9 0h1m7 0h1m3 0h2m1 0h1m2 0h1m6 0h1m1 0h1m5 0h1m9 0h2m17 0h1m10 0h1m4 0h1m3 0h1m3 0h1m1 0h1m20 0h1m1 0h1m6 0h1m3 0h3m1 0h3m2 0h1m5 0h2m3 0h1m5 0h1m2 0h1m6 0h1m2 0h4m1 0h1m10 0h1m3 0h3m6 0h1m3 0h1m1 0h1m3 0h3m15 0h1m16 0h1m1 0h1m1 0h3m9 0h1m3 0h1m3 0h3m7 0h1m7 0h1m1 0h1m1 0h1M6 2.5h1m4 0h1m26 0h1m3 0h1m6 0h1m5 0h1m3 0h1m9 0h1m6 0h2m3 0h1m3 0h1m16 0h2m17 0h1m16 0h1m63 0h1m8 0h1m2 0h1m20 0h2m14 0h1m14 0h1m3 0h1m21 0h1m6 0h2m2 0h1m2 0h1m10 0h1m13 0h3m16 0h1m1 0h1m8 0h2m3 0h1m2 0h1m4 0h1m2 0h1m31 0h1m2 0h1m8 0h1m3 0h1m3 0h1m9 0h2m1 0h4m7 0h2m8 0h2m8 0h2m7 0h2m15 0h1m3 0h4m4 0h2m1 0h1m12 0h1m3 0h1m15 0h1m8 0h2m10 0h4m3 0h1m2 0h1m6 0h1m1 0h1m19 0h1m9 0h1m15 0h3m2 0h1m9 0h1m3 0h1m9 0h1m10 0h1m1 0h2m6 0h1m1 0h1m1 0h1m4 0h1m5 0h2m1 0h2m3 0h2m7 0h1m6 0h1m7 0h1m10 0h2m1 0h1m1 0h2m2 0h1m5 0h1m3 0h3m1 0h1m2 0h2m2 0h1m9 0h1m8 0h1m3 0h2m7 0h1m3 0h1m1 0h1m4 0h2m2 0h3m1 0h1m1 0h1m3 0h2m2 0h1m12 0h1m3 0h1m3 0h1m6 0h4m6 0h1m2 0h2m1 0h1m28 0h1m11 0h1m7 0h1m35 0h1m11 0h1m2 0h2m14 0h1m3 0h2m5 0h1m5 0h1m16 0h1m3 0h1m2 0h1m1 0h1m4 0h2m6 0h1m5 0h3m1 0h1m5 0h1m5 0h3m4 0h1m11 0h2m7 0h1m1 0h1m10 0h1m2 0h1m2 0h1m6 0h2m11 0h1m8 0h1m7 0h1m2 0h1m6 0h1m2 0h1m18 0h2M219 3.5h1m20 0h1m13 0h2m8 0h1m16 0h1m3 0h3m7 0h1m4 0h1m12 0h1m1 0h2m6 0h1m3 0h1m2 0h2m4 0h1m13 0h2m9 0h1m2 0h1m5 0h1m7 0h2m15 0h2m8 0h1m24 0h1m7 0h2m2 0h1m8 0h1m3 0h1m3 0h2m4 0h1m1 0h2m2 0h1m1 0h1m8 0h1m14 0h2m16 0h1m1 0h1m2 0h2m2 0h2m13 0h1m2 0h1m27 0h1m3 0h1m7 0h2m1 0h1m3 0h1m13 0h1m8 0h1m10 0h1m14 0h2m6 0h3m5 0h1m5 0h1m2 0h2m6 0h1m5 0h2m8 0h2m6 0h4m12 0h1m4 0h1m8 0h1m5 0h3m4 0h2m1 0h1m35 0h1m1 0h2m17 0h1m6 0h3m15 0h1m8 0h2m5 0h1m4 0h1m5 0h2m9 0h1m3 0h2m12 0h1m1 0h2m2 0h1m12 0h1m1 0h1m7 0h1m2 0h1m7 0h1m1 0h2m2 0h1m19 0h1m4 0h1m6 0h1m4 0h3m4 0h3m8 0h3m3 0h2m5 0h1m1 0h1m2 0h1m1 0h1m10 0h1m34 0h2m14 0h2m6 0h1m23 0h1m5 0h1m2 0h2m5 0h1m14 0h1m1 0h1m8 0h3m8 0h1m13 0h1m2 0h1m1 0h1m6 0h2m7 0h3M36 4.5h1m22 0h1m59 0h1m74 0h1m156 0h1m8 0h1m1 0h1m5 0h1m2 0h1m1 0h1m1 0h1m11 0h2m19 0h1m1 0h1m2 0h1m9 0h1m1 0h2m3 0h1m10 0h2m3 0h2m2 0h1m12 0h1m1 0h1m6 0h1m7 0h4m6 0h1m2 0h1m19 0h1m5 0h1m10 0h1m3 0h1m10 0h1m7 0h1m1 0h1m14 0h2m1 0h3m5 0h1m9 0h1m2 0h1m9 0h1m5 0h1m13 0h1m8 0h1m3 0h3m7 0h1m4 0h2m5 0h1m1 0h2m9 0h1m5 0h2m3 0h2m4 0h1m5 0h1m6 0h1m4 0h1m1 0h1m1 0h1m1 0h1m2 0h1m12 0h1m6 0h1m13 0h1m2 0h1m18 0h3m4 0h2m17 0h1m2 0h2m17 0h1m11 0h1m9 0h1m12 0h1m1 0h1m3 0h2m27 0h1m7 0h1m1 0h1m20 0h1M0 5.5h1m17 0h1m52 0h1m13 0h1m5 0h1m33 0h1m45 0h1m19 0h1m16 0h1m16 0h2m2 0h1m12 0h1m5 0h2m11 0h1m1 0h1m8 0h1m4 0h1m4 0h5m8 0h1m1 0h1m4 0h1m5 0h2m1 0h3m1 0h1m11 0h1m6 0h1m7 0h1m5 0h3m4 0h1m8 0h1m10 0h1m5 0h2m7 0h1m9 0h1m23 0h1m2 0h1m4 0h1m12 0h1m7 0h2m3 0h1m3 0h1m7 0h1m16 0h1m7 0h1m1 0h1m11 0h1m1 0h1m1 0h1m1 0h1m3 0h1m16 0h2m17 0h2m9 0h1m13 0h1m4 0h2m1 0h1m2 0h2m1 0h1m2 0h1m2 0h1m1 0h1m6 0h2m31 0h1m7 0h2m6 0h1m2 0h1m2 0h1m3 0h1m3 0h2m2 0h2m4 0h1m3 0h1m2 0h2m8 0h1m1 0h1m3 0h1m4 0h1m2 0h1m8 0h1m8 0h1m2 0h2m1 0h1m2 0h1m3 0h1m3 0h1m4 0h1m1 0h1m4 0h1m2 0h1m3 0h2m6 0h1m5 0h1m2 0h1m8 0h2m1 0h1m9 0h1m13 0h1m11 0h2m15 0h1m17 0h1m1 0h1m12 0h1m4 0h1m12 0h1m8 0h1m6 0h2m2 0h1m15 0h1m2 0h1m13 0h1m1 0h1m2 0h2m11 0h1m2 0h2m2 0h1m3 0h2m7 0h3m9 0h1m1 0h1m13 0h1m15 0h1m3 0h1m8 0h1m8 0h1m1 0h1m3 0h1m3 0h1m7 0h2m7 0h2m6 0h1m3 0h1m1 0h1m9 0h1m9 0h1m4 0h1m8 0h1m5 0h1m6 0h1m1 0h1m8 0h1m19 0h1m10 0h1m2 0h1M115 6.5h2m10 0h1m82 0h2m1 0h1m2 0h1m2 0h1m16 0h1m13 0h1m1 0h1m13 0h1m16 0h1m4 0h1m11 0h1m20 0h1m11 0h1m10 0h1m8 0h1m2 0h2m10 0h1m3 0h1m14 0h1m8 0h1m4 0h1m3 0h1m10 0h1m9 0h1m1 0h3m14 0h1m1 0h2m8 0h1m3 0h1m2 0h1m1 0h2m8 0h2m2 0h1m2 0h1m1 0h1m6 0h3m6 0h1m6 0h1m2 0h1m1 0h1m5 0h1m3 0h1m9 0h1m2 0h1m1 0h2m4 0h2m8 0h1m42 0h1m2 0h1m10 0h1m10 0h1m15 0h1m18 0h1m7 0h1m3 0h1m4 0h1m19 0h1m5 0h1m7 0h2m4 0h1m24 0h1m4 0h2m3 0h1m5 0h1m3 0h1m4 0h1m3 0h2m23 0h1m11 0h1m8 0h1m10 0h2m4 0h1m4 0h1m1 0h1m9 0h1m1 0h1m10 0h1m3 0h1m16 0h1m1 0h1m6 0h1m10 0h1m3 0h1m2 0h1m4 0h1m11 0h1m1 0h1m10 0h1m6 0h1m6 0h1m7 0h1m23 0h2m5 0h1m2 0h1m4 0h1m17 0h1m9 0h1m3 0h1m3 0h1m13 0h1m13 0h1m24 0h1m4 0h3m3 0h1m8 0h2m3 0h1m1 0h1m4 0h2m3 0h2m11 0h1m7 0h1m4 0h1m5 0h1m23 0h1m4 0h1m1 0h1m7 0h1M203 7.5h1m11 0h2m7 0h1m10 0h1m6 0h1m3 0h1m5 0h2m3 0h2m2 0h1m2 0h2m2 0h1m3 0h3m5 0h1m13 0h1m5 0h1m10 0h3m20 0h1m5 0h2m3 0h1m6 0h2m1 0h2m11 0h1m7 0h2m6 0h2m9 0h1m2 0h2m5 0h1m10 0h1m1 0h1m18 0h1m1 0h1m1 0h1m16 0h1m2 0h2m1 0h1m2 0h1m4 0h1m2 0h1m1 0h3m6 0h1m16 0h1m1 0h2m10 0h1m6 0h1m3 0h1m6 0h1m6 0h1m16 0h1m5 0h2m1 0h2m17 0h1m2 0h1m8 0h1m1 0h1m5 0h1m13 0h3m8 0h1m8 0h1m12 0h1m4 0h1m12 0h1m2 0h1m1 0h1m25 0h1m19 0h1m5 0h1m4 0h1m11 0h1m4 0h1m12 0h1m2 0h1m4 0h1m5 0h1m4 0h1m5 0h1m4 0h1m5 0h2m5 0h1m2 0h1m2 0h2m2 0h3m7 0h1m14 0h1m3 0h2m2 0h2m19 0h2m1 0h2m8 0h1m1 0h1m13 0h1m1 0h1m17 0h1m7 0h1m3 0h3m4 0h1m26 0h1m4 0h1m2 0h3m9 0h1m7 0h1m22 0h1m2 0h2m5 0h1m12 0h1m14 0h1m5 0h1m1 0h1m4 0h1m6 0h3m1 0h1m3 0h1m16 0h1m16 0h1m16 0h2m10 0h1m8 0h1m6 0h1m11 0h1m9 0h1m3 0h1m5 0h1M6 8.5h2m10 0h1m9 0h1m1 0h1m8 0h2m7 0h2m6 0h2m5 0h1m3 0h2m1 0h1m11 0h1m14 0h1m20 0h2m3 0h1m1 0h1m4 0h3m2 0h1m1 0h1m21 0h1m1 0h1m5 0h1m1 0h1m3 0h3m3 0h1m4 0h1m4 0h1m1 0h1m53 0h1m10 0h4m43 0h2m16 0h1m2 0h1m11 0h1m19 0h1m4 0h1m18 0h1m3 0h2m2 0h1m1 0h1m8 0h1m6 0h1m2 0h1m16 0h1m30 0h1m3 0h1m2 0h1m2 0h1m10 0h2m4 0h2m15 0h1m5 0h3m4 0h2m6 0h1m2 0h1m3 0h1m2 0h1m2 0h1m4 0h2m10 0h1m18 0h1m11 0h1m2 0h2m6 0h1m3 0h1m1 0h1m7 0h1m17 0h1m13 0h1m15 0h1m2 0h1m5 0h3m7 0h1m1 0h2m1 0h1m2 0h1m1 0h1m5 0h1m1 0h1m8 0h2m2 0h1m8 0h2m1 0h1m4 0h1m2 0h1m10 0h1m2 0h1m29 0h1m8 0h1m1 0h1m8 0h1m2 0h1m7 0h1m5 0h1m6 0h1m6 0h1m4 0h1m1 0h1m6 0h1m2 0h1m1 0h1m5 0h1m4 0h3m7 0h3m4 0h1m5 0h2m3 0h1m1 0h1m6 0h1m7 0h2m1 0h2m13 0h2m8 0h2m1 0h1m4 0h1m2 0h2m2 0h1m15 0h1m7 0h1m4 0h1m7 0h1m1 0h1m1 0h2m16 0h1m1 0h2m9 0h1m18 0h2m5 0h1m3 0h1m4 0h2m3 0h1m2 0h1m1 0h1m4 0h1m3 0h1m6 0h1m14 0h1m7 0h2m7 0h1m4 0h1m1 0h1m8 0h1m5 0h1m2 0h1m11 0h2m6 0h1m5 0h1m3 0h2m5 0h1m3 0h2m1 0h3m3 0h2m6 0h1m2 0h1M1 9.5h1m9 0h1m5 0h1m1 0h1m8 0h2m1 0h2m8 0h1m8 0h1m10 0h3m10 0h2m11 0h1m10 0h3m1 0h1m4 0h1m1 0h2m2 0h1m5 0h1m4 0h1m2 0h3m6 0h1m1 0h1m4 0h1m2 0h1m20 0h1m3 0h1m8 0h1m15 0h1m5 0h1m68 0h1m16 0h1m13 0h1m5 0h1m11 0h2m5 0h2m6 0h1m1 0h1m2 0h2m5 0h1m5 0h2m3 0h3m2 0h2m1 0h1m16 0h3m10 0h3m16 0h2m5 0h1m6 0h1m2 0h1m1 0h1m2 0h1m4 0h1m26 0h1m2 0h2m3 0h1m9 0h1m1 0h1m7 0h1m1 0h3m7 0h1m1 0h1m4 0h1m4 0h1m2 0h3m1 0h2m14 0h1m3 0h2m10 0h1m2 0h1m9 0h1m1 0h4m8 0h1m3 0h1m6 0h1m3 0h1m1 0h2m13 0h1m5 0h2m1 0h3m6 0h1m4 0h2m2 0h2m5 0h1m25 0h1m5 0h1m5 0h2m31 0h2m3 0h1m6 0h2m5 0h3m13 0h1m13 0h2m5 0h3m1 0h1m6 0h1m16 0h1m9 0h1m7 0h1m10 0h1m2 0h1m16 0h3m6 0h1m11 0h1m1 0h1m3 0h3m2 0h1m9 0h1m11 0h1m17 0h1m1 0h1m1 0h1m5 0h1m5 0h1m2 0h2m2 0h1m2 0h1m9 0h1m4 0h1m7 0h1m1 0h1m3 0h1m3 0h1m12 0h1m1 0h1m9 0h1m3 0h1m9 0h1m12 0h1m4 0h1m3 0h1m3 0h2m3 0h1m1 0h1m4 0h1m14 0h1m13 0h1m1 0h1m1 0h1m3 0h1m9 0h2m3 0h1m3 0h2m2 0h2m1 0h2m3 0h1m1 0h1m2 0h1m10 0h1m23 0h2m3 0h2m8 0h2M3 10.5h1m2 0h1m4 0h1m10 0h1m15 0h1m6 0h2m6 0h1m23 0h1m5 0h1m25 0h1m10 0h1m5 0h1m3 0h2m1 0h1m4 0h3m5 0h1m3 0h1m9 0h1m3 0h1m1 0h1m13 0h1m9 0h1m3 0h3m74 0h1m7 0h1m26 0h2m7 0h1m2 0h2m23 0h4m5 0h1m3 0h2m1 0h1m9 0h1m14 0h2m4 0h2m8 0h1m9 0h1m2 0h1m1 0h1m4 0h1m1 0h1m2 0h1m3 0h1m24 0h1m7 0h2m10 0h1m6 0h1m2 0h1m14 0h1m6 0h1m1 0h1m25 0h1m2 0h1m1 0h2m2 0h1m2 0h1m3 0h1m2 0h1m9 0h1m3 0h1m6 0h2m10 0h1m9 0h2m1 0h1m6 0h1m1 0h2m3 0h3m4 0h1m8 0h1m1 0h2m4 0h2m1 0h1m3 0h1m4 0h1m10 0h1m1 0h1m6 0h2m7 0h1m4 0h1m4 0h1m1 0h2m6 0h1m12 0h1m2 0h1m1 0h1m2 0h1m4 0h1m7 0h1m2 0h1m18 0h1m18 0h3m4 0h3m6 0h1m5 0h1m12 0h3m2 0h1m4 0h1m3 0h1m4 0h1m6 0h1m21 0h1m7 0h2m3 0h1m6 0h3m4 0h1m4 0h1m8 0h2m2 0h1m4 0h1m1 0h1m12 0h1m4 0h3m7 0h1m4 0h2m11 0h1m4 0h1m3 0h1m4 0h1m6 0h2m5 0h1m5 0h1m1 0h1m2 0h1m10 0h2m1 0h1m3 0h1m12 0h2m7 0h3m3 0h1m3 0h1m13 0h1m1 0h2m16 0h1m10 0h2m3 0h1m2 0h1m7 0h1m7 0h1m10 0h1m2 0h2m14 0h1m2 0h1m1 0h1m4 0h1m8 0h1m13 0h2m12 0h1M1 11.5h1m6 0h2m11 0h2m22 0h1m1 0h1m1 0h4m5 0h1m1 0h1m6 0h1m17 0h1m3 0h1m3 0h3m7 0h1m7 0h1m1 0h1m18 0h1m11 0h1m4 0h1m6 0h1m3 0h1m4 0h1m4 0h1m2 0h1m2 0h1m13 0h1m5 0h2m89 0h1m17 0h1m1 0h2m2 0h1m3 0h1m5 0h1m9 0h1m9 0h2m7 0h1m11 0h2m11 0h3m9 0h1m3 0h1m3 0h1m2 0h1m2 0h1m2 0h2m28 0h1m5 0h1m1 0h2m4 0h1m10 0h1m1 0h1m11 0h1m12 0h1m2 0h1m7 0h1m2 0h1m40 0h1m17 0h1m10 0h2m7 0h1m2 0h1m7 0h2m2 0h1m11 0h1m4 0h2m2 0h2m1 0h1m5 0h1m7 0h1m5 0h2m22 0h1m2 0h2m9 0h1m1 0h1m3 0h1m34 0h2m5 0h1m9 0h2m6 0h1m3 0h1m26 0h1m36 0h1m11 0h1m8 0h1m6 0h2m26 0h3m2 0h1m10 0h1m15 0h1m13 0h1m13 0h1m2 0h2m8 0h1m13 0h1m8 0h2m6 0h3m1 0h1m4 0h1m8 0h1m23 0h1m8 0h3m18 0h1m1 0h1m7 0h1m4 0h2m13 0h1m9 0h1m3 0h2m4 0h1m32 0h1m16 0h1m13 0h2m1 0h1m6 0h1m1 0h1m12 0h1m9 0h1M7 12.5h2m1 0h1m4 0h1m1 0h2m6 0h1m4 0h1m1 0h1m13 0h1m8 0h1m1 0h1m4 0h1m8 0h1m13 0h1m6 0h1m3 0h2m1 0h1m9 0h1m6 0h1m1 0h1m29 0h1m13 0h1m11 0h1m2 0h1m8 0h1m2 0h1m1 0h1m7 0h2m3 0h1m3 0h1m14 0h1m1 0h1m1 0h1m3 0h1m6 0h1m3 0h3m15 0h1m2 0h1m3 0h4m9 0h2m3 0h1m7 0h1m1 0h1m36 0h1m26 0h1m5 0h1m9 0h1m3 0h1m16 0h2m9 0h1m4 0h1m2 0h1m12 0h1m1 0h1m30 0h1m21 0h2m3 0h2m8 0h1m7 0h1m1 0h1m3 0h1m3 0h1m4 0h1m5 0h1m9 0h1m1 0h1m13 0h1m3 0h1m8 0h1m16 0h1m2 0h2m4 0h1m2 0h1m2 0h1m12 0h1m9 0h1m2 0h1m3 0h1m4 0h1m4 0h1m33 0h1m18 0h1m8 0h2m5 0h2m6 0h1m6 0h2m9 0h1m20 0h2m18 0h1m5 0h1m15 0h3m6 0h1m7 0h1m12 0h3m8 0h1m4 0h1m4 0h1m14 0h2m8 0h1m8 0h1m9 0h1m11 0h1m13 0h1m2 0h1m1 0h1m31 0h1m7 0h1m4 0h1m22 0h1m33 0h1m6 0h1m12 0h1m2 0h1m10 0h1m3 0h3m1 0h1m2 0h1m1 0h5m12 0h1m10 0h2m6 0h1m15 0h1m3 0h1m4 0h1m3 0h2m8 0h2m6 0h5m6 0h1m5 0h1m8 0h1m1 0h2m3 0h1m3 0h2m2 0h1m1 0h1M2 13.5h1m16 0h3m4 0h1m3 0h1m2 0h2m2 0h1m10 0h1m12 0h3m14 0h1m4 0h1m15 0h1m7 0h1m13 0h1m9 0h1m1 0h1m9 0h1m9 0h2m5 0h2m2 0h1m15 0h1m8 0h1m4 0h1m11 0h1m2 0h2m4 0h1m16 0h1m10 0h1m12 0h1m15 0h1m9 0h1m4 0h1m4 0h1m2 0h1m4 0h1m76 0h1m24 0h1m5 0h1m1 0h1m8 0h1m5 0h1m1 0h1m6 0h1m1 0h2m6 0h1m2 0h1m12 0h3m8 0h1m3 0h1m1 0h2m6 0h1m1 0h1m20 0h1m18 0h1m1 0h1m2 0h1m1 0h3m4 0h2m18 0h1m4 0h1m2 0h2m8 0h1m2 0h1m2 0h1m1 0h1m15 0h1m6 0h1m1 0h1m5 0h1m5 0h1m5 0h2m2 0h1m3 0h1m7 0h1m2 0h1m26 0h1m1 0h3m9 0h1m1 0h1m1 0h1m1 0h1m6 0h1m4 0h2m5 0h1m3 0h1m8 0h1m22 0h3m2 0h1m1 0h1m3 0h1m2 0h1m3 0h1m6 0h1m15 0h2m2 0h1m1 0h2m9 0h1m6 0h1m9 0h1m3 0h1m10 0h1m9 0h4m4 0h2m5 0h1m3 0h1m5 0h2m1 0h1m7 0h1m3 0h1m1 0h1m10 0h1m4 0h1m12 0h1m7 0h2m12 0h1m11 0h1m5 0h1m5 0h1m11 0h3m1 0h1m2 0h1m7 0h3m6 0h1m11 0h1m6 0h1m2 0h1m4 0h1m3 0h1m9 0h2m28 0h2m2 0h1m6 0h1m2 0h2m10 0h1m2 0h2m9 0h1m1 0h1m8 0h1m2 0h1m20 0h3m1 0h2m13 0h1m1 0h1m7 0h1m2 0h1m5 0h2m7 0h1M25 14.5h2m1 0h1m1 0h1m13 0h1m9 0h1m9 0h3m20 0h1m8 0h1m31 0h3m1 0h1m1 0h1m10 0h1m1 0h1m36 0h1m3 0h2m1 0h1m1 0h1m7 0h1m10 0h1m9 0h1m5 0h1m9 0h3m1 0h1m19 0h1m4 0h1m12 0h3m11 0h1m70 0h1m2 0h1m1 0h1m31 0h1m5 0h1m4 0h1m25 0h1m1 0h1m8 0h1m3 0h1m2 0h1m9 0h1m3 0h1m25 0h2m2 0h1m2 0h1m7 0h1m15 0h1m3 0h1m15 0h1m19 0h1m5 0h1m9 0h1m1 0h1m7 0h1m3 0h1m4 0h2m13 0h2m5 0h2m5 0h1m3 0h1m9 0h1m12 0h1m5 0h2m13 0h2m13 0h1m15 0h2m11 0h1m14 0h1m13 0h1m5 0h1m2 0h1m12 0h1m1 0h1m11 0h1m10 0h1m9 0h2m5 0h1m2 0h2m13 0h3m5 0h2m4 0h1m1 0h1m21 0h1m4 0h1m15 0h1m6 0h1m6 0h1m2 0h1m3 0h1m12 0h2m12 0h1m1 0h1m1 0h1m3 0h1m5 0h1m8 0h1m6 0h1m4 0h2m11 0h1m13 0h1m3 0h3m2 0h5m2 0h1m6 0h1m9 0h3m7 0h2m2 0h3m8 0h2m6 0h1m8 0h1m1 0h1m2 0h2m9 0h1m9 0h2m43 0h1m10 0h1m1 0h1m3 0h1m18 0h1m1 0h1M7 15.5h1m1 0h2m7 0h2m5 0h1m8 0h2m3 0h1m11 0h1m17 0h1m4 0h1m12 0h1m9 0h1m5 0h1m4 0h1m27 0h2m1 0h2m9 0h1m1 0h1m31 0h1m4 0h1m1 0h1m20 0h2m7 0h1m1 0h1m19 0h2m8 0h1m3 0h1m1 0h3m1 0h1m3 0h1m4 0h1m10 0h2m4 0h1m3 0h1m5 0h1m9 0h1m1 0h1m17 0h1m43 0h1m22 0h1m3 0h1m2 0h1m2 0h2m1 0h1m6 0h1m13 0h1m10 0h1m1 0h1m1 0h1m11 0h1m3 0h1m3 0h1m1 0h1m21 0h3m2 0h1m4 0h1m9 0h2m3 0h1m1 0h1m3 0h2m16 0h2m12 0h1m1 0h4m2 0h1m10 0h1m2 0h1m7 0h3m14 0h1m1 0h2m1 0h1m9 0h1m1 0h1m7 0h1m15 0h1m2 0h1m7 0h1m4 0h1m5 0h1m2 0h1m6 0h1m10 0h1m1 0h1m7 0h2m11 0h1m11 0h1m1 0h1m2 0h1m2 0h1m1 0h1m6 0h1m8 0h1m10 0h1m12 0h1m7 0h1m10 0h2m6 0h1m11 0h2m10 0h2m4 0h1m3 0h1m1 0h2m19 0h1m7 0h1m18 0h1m5 0h1m16 0h1m2 0h1m5 0h1m9 0h2m4 0h1m1 0h1m10 0h2m4 0h1m10 0h1m1 0h1m9 0h2m9 0h1m1 0h1m2 0h1m17 0h2m16 0h2m15 0h2m1 0h1m12 0h2m3 0h1m28 0h1m5 0h1m3 0h3m2 0h1m2 0h1m4 0h1m15 0h1m3 0h1m5 0h1m8 0h2m6 0h1m23 0h1m6 0h3m5 0h1M3 16.5h1m2 0h1m12 0h1m6 0h1m2 0h1m3 0h1m18 0h1m1 0h1m11 0h2m2 0h1m1 0h1m23 0h1m1 0h1m3 0h1m4 0h1m6 0h1m23 0h1m5 0h1m5 0h1m6 0h4m47 0h1m5 0h1m4 0h1m13 0h2m10 0h1m5 0h5m2 0h1m20 0h1m28 0h1m7 0h1m14 0h1m16 0h1m5 0h1m5 0h3m21 0h1m1 0h3m8 0h1m6 0h1m2 0h1m11 0h1m11 0h2m1 0h2m10 0h1m11 0h1m1 0h2m8 0h1m4 0h1m13 0h2m10 0h1m1 0h1m3 0h1m7 0h1m2 0h1m4 0h2m52 0h1m15 0h1m3 0h1m3 0h1m2 0h1m4 0h2m25 0h1m3 0h1m12 0h1m11 0h1m16 0h1m1 0h1m1 0h1m8 0h1m3 0h1m4 0h1m8 0h2m5 0h1m2 0h1m2 0h1m5 0h1m6 0h1m1 0h1m5 0h1m5 0h1m1 0h2m16 0h1m9 0h1m1 0h1m27 0h1m5 0h1m2 0h3m10 0h1m3 0h1m12 0h1m1 0h1m4 0h1m5 0h1m7 0h1m6 0h2m17 0h1m1 0h4m9 0h1m1 0h1m2 0h1m7 0h1m10 0h2m4 0h1m5 0h3m7 0h1m4 0h1m2 0h1m5 0h1m12 0h1m36 0h2m3 0h1m1 0h1m2 0h1m1 0h1m6 0h1m1 0h3m10 0h1m3 0h2m2 0h3m2 0h1m3 0h1m1 0h1m8 0h2m13 0h1m5 0h2m3 0h3m2 0h1m35 0h1m1 0h1m11 0h1m1 0h1m3 0h5M1 17.5h1m12 0h2m1 0h1m11 0h2m14 0h1m8 0h1m2 0h1m1 0h2m10 0h1m3 0h2m1 0h2m5 0h3m4 0h2m2 0h1m16 0h1m12 0h1m1 0h1m9 0h1m13 0h2m1 0h2m1 0h1m3 0h1m3 0h1m8 0h1m1 0h1m4 0h2m1 0h2m3 0h1m9 0h1m5 0h1m7 0h4m2 0h1m4 0h1m14 0h1m1 0h1m8 0h1m1 0h1m5 0h1m10 0h2m9 0h1m9 0h2m2 0h2m4 0h1m1 0h1m7 0h1m27 0h2m10 0h1m1 0h1m48 0h2m24 0h1m2 0h1m5 0h1m12 0h1m4 0h1m3 0h1m18 0h3m2 0h1m11 0h1m7 0h1m4 0h1m3 0h1m13 0h1m10 0h1m35 0h1m3 0h1m7 0h1m19 0h1m10 0h2m1 0h1m2 0h1m13 0h1m3 0h1m9 0h1m28 0h1m10 0h1m28 0h1m1 0h1m18 0h1m9 0h3m11 0h1m17 0h1m10 0h1m37 0h1m7 0h1m6 0h1m30 0h2m3 0h1m21 0h1m26 0h1m17 0h1m4 0h1m10 0h1m3 0h1m21 0h2m15 0h1m43 0h1m16 0h1m15 0h2m5 0h1m1 0h1m7 0h1m8 0h1m1 0h1m15 0h1m8 0h2m8 0h1m6 0h1m3 0h1m13 0h1m5 0h2M10 18.5h1m3 0h3m4 0h1m9 0h2m3 0h1m7 0h1m5 0h3m6 0h1m4 0h1m1 0h1m7 0h2m4 0h1m7 0h1m24 0h1m4 0h1m5 0h1m11 0h1m2 0h1m6 0h1m1 0h1m1 0h1m15 0h1m7 0h3m2 0h3m2 0h1m10 0h2m3 0h1m9 0h1m4 0h1m1 0h1m2 0h4m9 0h3m3 0h1m2 0h2m4 0h1m1 0h2m2 0h1m17 0h1m4 0h1m2 0h1m5 0h1m2 0h1m9 0h1m8 0h1m8 0h1m20 0h2m8 0h1m54 0h2m3 0h3m3 0h1m3 0h2m8 0h1m12 0h2m5 0h1m5 0h1m3 0h1m3 0h2m2 0h1m1 0h1m5 0h1m5 0h1m2 0h1m1 0h1m2 0h1m1 0h1m4 0h1m10 0h1m11 0h2m8 0h1m3 0h1m1 0h1m3 0h1m6 0h1m5 0h1m6 0h1m6 0h1m4 0h1m8 0h1m12 0h1m6 0h2m4 0h2m1 0h1m6 0h1m2 0h1m2 0h2m1 0h1m2 0h1m7 0h1m4 0h1m1 0h1m10 0h1m6 0h2m7 0h1m2 0h1m6 0h1m4 0h1m4 0h1m7 0h1m2 0h1m13 0h1m13 0h1m13 0h1m8 0h1m1 0h1m8 0h1m4 0h4m1 0h1m6 0h1m28 0h1m1 0h1m4 0h1m2 0h2m6 0h1m3 0h1m11 0h1m3 0h1m42 0h2m4 0h1m15 0h1m2 0h1m7 0h1m1 0h1m2 0h1m15 0h4m7 0h2m8 0h1m1 0h1m2 0h1m7 0h2m2 0h1m4 0h1m5 0h1m24 0h1m1 0h2m4 0h1m7 0h1m4 0h3m4 0h1m4 0h1m3 0h1m3 0h1m3 0h1m3 0h1m3 0h1m3 0h2m8 0h1m2 0h1m14 0h1m24 0h1m2 0h1m3 0h1m7 0h3m13 0h1m12 0h1m2 0h1m6 0h1m7 0h1m1 0h2M16 19.5h3m6 0h3m5 0h1m1 0h1m2 0h3m1 0h1m14 0h1m1 0h2m2 0h2m14 0h1m2 0h1m6 0h3m9 0h2m8 0h2m1 0h2m2 0h2m3 0h1m11 0h1m2 0h1m6 0h1m4 0h1m31 0h2m8 0h1m2 0h1m7 0h1m7 0h1m12 0h2m9 0h2m2 0h1m8 0h1m3 0h1m6 0h1m8 0h1m7 0h1m1 0h1m1 0h1m13 0h1m1 0h2m8 0h2m13 0h2m4 0h1m1 0h1m3 0h1m16 0h1m12 0h1m7 0h1m1 0h1m3 0h1m5 0h1m1 0h1m8 0h1m6 0h1m68 0h2m16 0h1m5 0h1m15 0h2m14 0h1m2 0h1m6 0h2m12 0h2m3 0h2m1 0h1m10 0h1m6 0h1m23 0h1m2 0h2m2 0h2m6 0h1m3 0h1m5 0h1m4 0h2m1 0h1m3 0h1m4 0h2m5 0h2m28 0h3m2 0h1m5 0h1m2 0h4m2 0h1m4 0h2m22 0h2m3 0h1m2 0h1m7 0h1m2 0h2m6 0h1m8 0h1m7 0h1m2 0h1m16 0h1m6 0h2m9 0h1m4 0h2m19 0h1m7 0h1m4 0h1m6 0h1m5 0h2m3 0h1m1 0h1m15 0h1m13 0h1m12 0h1m3 0h1m4 0h1m9 0h1m2 0h1m1 0h1m3 0h1m11 0h1m1 0h1m1 0h1m9 0h1m6 0h2m5 0h1m1 0h1m7 0h1m11 0h1m6 0h3m6 0h1m7 0h1m2 0h3m19 0h1m37 0h2m11 0h2m9 0h1m5 0h1m4 0h1m6 0h1m1 0h1m1 0h1m2 0h3m3 0h1m1 0h2m6 0h1m1 0h2m8 0h1m1 0h2m5 0h1m9 0h1M15 20.5h1m2 0h2m16 0h1m1 0h1m7 0h1m11 0h1m19 0h1m6 0h4m7 0h1m8 0h1m21 0h1m16 0h1m6 0h3m2 0h1m9 0h2m11 0h1m9 0h1m4 0h3m1 0h1m21 0h1m4 0h1m1 0h2m2 0h2m9 0h1m15 0h1m4 0h1m3 0h1m1 0h1m7 0h1m2 0h1m4 0h3m1 0h1m1 0h2m9 0h2m7 0h2m7 0h1m20 0h1m5 0h3m1 0h1m4 0h1m9 0h1m15 0h1m17 0h1m30 0h1m44 0h1m13 0h5m2 0h1m2 0h1m1 0h2m1 0h1m8 0h1m9 0h2m3 0h1m13 0h1m5 0h1m7 0h2m7 0h1m4 0h1m1 0h1m3 0h1m8 0h1m29 0h1m6 0h2m5 0h1m5 0h3m7 0h1m5 0h2m5 0h1m8 0h1m2 0h1m12 0h1m5 0h1m2 0h1m8 0h3m5 0h1m14 0h1m3 0h2m13 0h1m1 0h1m3 0h1m5 0h1m13 0h1m1 0h1m5 0h1m4 0h1m1 0h1m4 0h1m1 0h1m7 0h2m28 0h1m5 0h1m1 0h2m4 0h1m1 0h1m9 0h1m10 0h1m2 0h1m6 0h1m2 0h1m14 0h1m3 0h1m2 0h1m3 0h1m6 0h1m4 0h1m3 0h4m2 0h2m4 0h2m3 0h2m2 0h2m9 0h1m8 0h2m9 0h1m15 0h2m3 0h1m6 0h1m1 0h1m4 0h5m3 0h1m1 0h1m1 0h1m2 0h1m2 0h3m20 0h1m1 0h1m6 0h1m6 0h1m18 0h1m3 0h1m6 0h1m4 0h1m10 0h1m6 0h1m10 0h1m6 0h2m10 0h1m8 0h1m9 0h1m2 0h3m2 0h2m2 0h3m2 0h1m4 0h2m2 0h1M10 21.5h1m19 0h3m4 0h4m4 0h3m1 0h1m1 0h1m4 0h3m2 0h1m27 0h1m7 0h1m2 0h1m32 0h2m8 0h1m4 0h1m7 0h1m3 0h1m5 0h1m8 0h1m3 0h3m4 0h1m29 0h1m6 0h1m5 0h2m1 0h1m5 0h1m5 0h1m11 0h1m2 0h1m4 0h2m4 0h1m8 0h2m3 0h1m3 0h1m10 0h1m2 0h4m3 0h1m15 0h1m1 0h1m4 0h1m12 0h3m3 0h1m2 0h2m4 0h2m8 0h1m1 0h1m8 0h1m4 0h2m82 0h1m10 0h1m8 0h1m7 0h2m2 0h1m3 0h1m7 0h1m6 0h1m4 0h1m4 0h1m2 0h1m15 0h2m9 0h2m3 0h1m1 0h1m10 0h1m2 0h2m1 0h1m1 0h1m21 0h1m3 0h1m1 0h1m4 0h2m2 0h1m1 0h1m4 0h1m3 0h1m4 0h1m2 0h1m1 0h1m7 0h1m1 0h1m1 0h3m9 0h2m10 0h1m9 0h1m3 0h1m7 0h2m14 0h1m3 0h1m6 0h1m1 0h1m1 0h1m3 0h1m14 0h1m4 0h2m11 0h1m5 0h1m3 0h1m4 0h1m20 0h1m5 0h3m6 0h1m9 0h1m2 0h1m15 0h1m1 0h3m8 0h2m12 0h1m2 0h1m3 0h1m17 0h1m30 0h1m3 0h1m2 0h1m17 0h1m10 0h1m11 0h1m6 0h1m12 0h1m5 0h1m2 0h1m5 0h2m9 0h1m8 0h1m1 0h1m2 0h2m4 0h1m1 0h2m1 0h1m6 0h2m1 0h1m5 0h1m1 0h1m6 0h1m5 0h2m1 0h1m20 0h1m6 0h1m1 0h1m4 0h1m12 0h1m1 0h1m6 0h1m4 0h2m1 0h1m15 0h1m1 0h1m4 0h1m1 0h1m12 0h2M4 22.5h2m5 0h1m2 0h1m4 0h3m7 0h1m2 0h1m1 0h2m1 0h1m1 0h1m3 0h1m13 0h1m3 0h1m1 0h1m2 0h2m1 0h2m2 0h1m8 0h1m2 0h1m8 0h1m3 0h1m5 0h2m1 0h1m2 0h1m6 0h1m1 0h3m3 0h1m7 0h1m5 0h1m2 0h1m3 0h1m6 0h1m7 0h2m2 0h1m3 0h1m1 0h1m8 0h2m9 0h1m4 0h1m1 0h1m1 0h4m7 0h1m6 0h1m1 0h1m4 0h1m2 0h2m11 0h1m2 0h1m1 0h1m2 0h1m3 0h1m2 0h2m1 0h1m1 0h1m1 0h1m23 0h1m27 0h1m3 0h1m2 0h1m10 0h1m7 0h1m2 0h1m1 0h1m6 0h1m10 0h1m3 0h1m10 0h1m1 0h1m112 0h1m2 0h1m2 0h1m14 0h1m4 0h1m21 0h2m2 0h2m1 0h1m4 0h2m11 0h1m13 0h1m4 0h1m12 0h2m1 0h1m4 0h1m18 0h1m5 0h2m8 0h1m6 0h3m3 0h3m1 0h1m2 0h2m1 0h1m5 0h2m5 0h2m1 0h4m1 0h1m3 0h1m4 0h1m3 0h1m20 0h1m4 0h1m17 0h1m2 0h1m2 0h1m4 0h2m4 0h1m2 0h2m17 0h1m11 0h1m6 0h1m3 0h1m6 0h1m13 0h1m17 0h1m10 0h2m1 0h1m7 0h1m6 0h1m21 0h1m23 0h2m1 0h2m3 0h1m3 0h1m1 0h2m4 0h1m3 0h1m3 0h1m5 0h1m19 0h1m11 0h1m13 0h3m6 0h1m7 0h1m5 0h1m3 0h1m1 0h1m18 0h2m2 0h1m5 0h1m2 0h1m6 0h1m1 0h1m8 0h1m6 0h2m13 0h1m7 0h5m19 0h1m6 0h1m16 0h1m9 0h1m8 0h1m20 0h2M12 23.5h1m48 0h1m6 0h1m23 0h1m22 0h1m1 0h1m5 0h1m1 0h4m8 0h3m5 0h1m5 0h1m6 0h1m2 0h1m8 0h1m6 0h1m2 0h1m5 0h1m1 0h1m14 0h1m1 0h1m6 0h1m6 0h1m6 0h1m4 0h1m5 0h1m10 0h1m10 0h3m6 0h1m2 0h1m13 0h1m17 0h1m2 0h3m9 0h1m22 0h2m1 0h1m3 0h1m22 0h4m3 0h2m9 0h1m9 0h1m7 0h1m5 0h1m15 0h1m5 0h1m4 0h1m4 0h1m17 0h1m3 0h1m2 0h1m1 0h3m9 0h1m3 0h1m15 0h1m50 0h1m3 0h1m6 0h1m5 0h1m3 0h1m4 0h1m18 0h1m95 0h1m7 0h1m10 0h1m10 0h1m9 0h2m4 0h2m7 0h2m3 0h4m8 0h2m2 0h1m3 0h2m1 0h2m3 0h1m1 0h1m1 0h2m2 0h1m15 0h2m4 0h1m2 0h1m6 0h1m10 0h1m6 0h1m12 0h4m10 0h2m6 0h1m11 0h3m4 0h1m3 0h1m8 0h1m5 0h1m13 0h1m16 0h1m2 0h1m2 0h1m5 0h1m8 0h2m5 0h2m3 0h3m8 0h1m3 0h1m8 0h4m2 0h1m4 0h1m5 0h1m3 0h1m1 0h1m17 0h1m11 0h2m4 0h2m1 0h2m8 0h1m4 0h2m7 0h1m4 0h1m6 0h1m3 0h1m2 0h1m9 0h1m4 0h1m8 0h1m13 0h2m4 0h1m10 0h1m3 0h1m18 0h2m2 0h2m4 0h1M26 24.5h2m14 0h1m1 0h1m9 0h3m2 0h1m5 0h1m4 0h1m4 0h1m5 0h1m9 0h1m3 0h1m8 0h4m7 0h1m1 0h1m18 0h1m15 0h3m13 0h1m2 0h1m54 0h1m25 0h1m20 0h1m19 0h1m9 0h1m14 0h1m4 0h1m7 0h2m4 0h2m7 0h1m3 0h5m4 0h1m6 0h1m5 0h3m2 0h1m14 0h1m7 0h2m8 0h1m4 0h2m12 0h1m13 0h2m2 0h1m14 0h1m5 0h1m3 0h1m5 0h1m84 0h1m20 0h1m41 0h1m3 0h1m2 0h1m80 0h1m6 0h1m9 0h1m1 0h1m5 0h1m4 0h1m4 0h1m3 0h2m4 0h1m1 0h1m7 0h6m2 0h1m2 0h1m17 0h1m18 0h1m1 0h2m5 0h1m15 0h1m4 0h3m5 0h1m11 0h2m3 0h1m6 0h1m2 0h1m3 0h1m10 0h1m2 0h1m17 0h2m2 0h1m1 0h1m1 0h1m1 0h1m15 0h1m1 0h2m5 0h1m10 0h1m16 0h1m4 0h1m9 0h1m2 0h3m11 0h1m1 0h1m1 0h1m1 0h1m19 0h1m5 0h1m5 0h2m1 0h1m8 0h2m3 0h2m3 0h1m5 0h1m2 0h4m1 0h1m1 0h1m1 0h1m4 0h1m2 0h1m8 0h1m2 0h1m6 0h1m1 0h1m4 0h1m11 0h1m3 0h3m2 0h1m8 0h1m12 0h6m2 0h1m2 0h1m7 0h1m7 0h2M1 25.5h1m4 0h3m3 0h1m1 0h1m3 0h3m2 0h1m3 0h1m6 0h1m1 0h1m17 0h1m2 0h1m17 0h1m8 0h1m3 0h1m6 0h1m1 0h1m17 0h1m5 0h3m4 0h1m1 0h1m2 0h1m12 0h1m3 0h1m3 0h1m16 0h1m5 0h1m35 0h1m4 0h1m20 0h1m34 0h1m17 0h1m14 0h3m4 0h1m5 0h1m1 0h2m9 0h3m6 0h2m5 0h1m15 0h2m4 0h1m3 0h2m8 0h1m8 0h1m5 0h3m3 0h1m3 0h1m5 0h1m3 0h1m45 0h1m6 0h1m2 0h2m36 0h1m21 0h1m35 0h1m89 0h1m21 0h1m7 0h1m19 0h1m4 0h2m4 0h2m6 0h1m7 0h1m1 0h1m12 0h1m5 0h4m1 0h1m2 0h1m3 0h1m2 0h1m1 0h3m7 0h1m5 0h1m8 0h1m2 0h1m2 0h1m12 0h4m8 0h1m4 0h1m1 0h3m4 0h1m1 0h1m15 0h2m6 0h1m5 0h1m12 0h3m5 0h1m17 0h2m2 0h1m3 0h1m1 0h1m2 0h2m3 0h2m2 0h1m2 0h5m3 0h2m3 0h1m13 0h1m4 0h1m1 0h3m5 0h1m7 0h1m7 0h2m2 0h1m8 0h1m5 0h1m3 0h2m4 0h1m4 0h1m5 0h1m2 0h2m7 0h1m6 0h1m5 0h1m6 0h2m3 0h1m16 0h1m4 0h1m17 0h1m5 0h1m6 0h1m10 0h1m18 0h2m19 0h1m8 0h1m2 0h1M0 26.5h1m27 0h1m2 0h1m1 0h2m1 0h1m2 0h1m3 0h2m1 0h1m9 0h1m16 0h1m2 0h1m6 0h1m1 0h1m9 0h1m10 0h3m12 0h2m8 0h3m1 0h1m3 0h1m1 0h2m1 0h1m2 0h6m3 0h1m4 0h1m5 0h1m11 0h1m2 0h1m2 0h1m1 0h1m24 0h1m2 0h1m43 0h1m39 0h1m6 0h1m13 0h1m10 0h2m1 0h1m1 0h1m1 0h1m6 0h1m12 0h3m9 0h1m7 0h2m12 0h1m5 0h1m3 0h1m17 0h1m12 0h1m1 0h2m4 0h1m7 0h1m11 0h1m11 0h2m4 0h1m49 0h1m4 0h1m13 0h1m121 0h1m28 0h2m8 0h1m17 0h2m2 0h2m12 0h2m4 0h1m4 0h2m1 0h1m1 0h2m14 0h1m27 0h2m9 0h1m2 0h1m1 0h1m11 0h1m12 0h2m12 0h2m7 0h1m6 0h1m4 0h1m13 0h1m3 0h1m33 0h2m1 0h1m1 0h2m3 0h1m6 0h2m7 0h1m11 0h1m3 0h1m3 0h1m8 0h2m2 0h1m14 0h1m8 0h1m7 0h2m4 0h1m1 0h2m6 0h2m4 0h1m24 0h1m5 0h2m3 0h1m7 0h3m11 0h1m1 0h2m3 0h2m6 0h1m8 0h1m10 0h1m13 0h1m9 0h3m9 0h1m6 0h1m11 0h3M4 27.5h1m8 0h1m11 0h2m2 0h1m8 0h1m1 0h1m1 0h1m5 0h1m4 0h2m3 0h1m6 0h1m8 0h1m11 0h1m4 0h1m5 0h1m14 0h1m1 0h1m4 0h2m5 0h1m10 0h1m1 0h1m6 0h1m5 0h1m2 0h1m6 0h1m2 0h1m3 0h1m10 0h1m5 0h2m43 0h2m4 0h1m28 0h1m6 0h1m18 0h3m10 0h1m3 0h3m3 0h2m4 0h1m16 0h2m4 0h1m5 0h1m4 0h1m20 0h1m2 0h2m1 0h1m9 0h1m1 0h1m6 0h1m2 0h1m3 0h1m17 0h1m2 0h1m15 0h1m12 0h1m4 0h1m1 0h1m1 0h1m6 0h1m3 0h3m15 0h2m90 0h1m65 0h1m58 0h1m18 0h1m2 0h1m7 0h1m4 0h1m6 0h1m19 0h1m3 0h2m10 0h1m6 0h1m24 0h1m16 0h1m4 0h1m7 0h1m8 0h4m10 0h1m3 0h1m7 0h1m5 0h1m7 0h1m21 0h1m6 0h1m4 0h2m13 0h1m2 0h1m17 0h1m2 0h2m13 0h1m2 0h3m22 0h1m9 0h1m7 0h1m5 0h1m5 0h1m1 0h1m1 0h1m2 0h1m1 0h1m1 0h1m12 0h3m9 0h1m2 0h2m3 0h1m5 0h2m4 0h1m3 0h1m2 0h1m2 0h1m2 0h1m1 0h1m5 0h1m3 0h1m19 0h1m11 0h2m3 0h3m1 0h2m3 0h1m14 0h1M0 28.5h1m2 0h1m7 0h1m5 0h1m14 0h1m10 0h1m1 0h1m2 0h1m1 0h2m8 0h1m2 0h1m7 0h1m13 0h1m32 0h1m19 0h1m4 0h1m4 0h1m11 0h1m13 0h2m20 0h1m14 0h1m1 0h1m1 0h1m14 0h2m11 0h3m1 0h1m10 0h1m11 0h2m39 0h1m7 0h1m5 0h1m6 0h1m5 0h1m2 0h1m12 0h1m20 0h1m2 0h1m1 0h1m4 0h6m15 0h2m12 0h1m3 0h1m7 0h1m6 0h1m8 0h2m17 0h2m6 0h1m4 0h1m48 0h1m57 0h1m29 0h1m94 0h1m3 0h1m13 0h1m19 0h1m10 0h1m7 0h1m3 0h1m7 0h1m1 0h2m2 0h1m1 0h3m5 0h2m3 0h3m3 0h1m1 0h1m11 0h1m1 0h1m1 0h1m6 0h1m8 0h1m16 0h2m2 0h3m4 0h1m2 0h1m7 0h2m11 0h1m2 0h1m2 0h1m1 0h1m2 0h1m7 0h1m3 0h1m2 0h4m16 0h2m2 0h1m20 0h1m19 0h1m3 0h2m3 0h2m9 0h1m6 0h1m3 0h1m4 0h1m3 0h1m4 0h1m9 0h1m1 0h2m1 0h1m9 0h1m5 0h2m3 0h2m3 0h1m1 0h1m8 0h1m1 0h1m3 0h2m2 0h1m19 0h1m2 0h1m3 0h1m2 0h1m2 0h1m18 0h1m3 0h1m1 0h1m23 0h1M11 29.5h1m10 0h1m26 0h1m36 0h1m4 0h1m21 0h1m9 0h1m2 0h1m1 0h1m7 0h1m1 0h1m1 0h1m4 0h1m4 0h1m4 0h1m12 0h1m3 0h1m10 0h2m8 0h1m15 0h1m11 0h1m2 0h1m13 0h2m2 0h1m43 0h1m4 0h1m7 0h1m8 0h1m1 0h1m2 0h1m10 0h1m16 0h1m10 0h1m8 0h1m1 0h1m5 0h1m8 0h1m9 0h4m6 0h1m8 0h1m7 0h2m5 0h1m2 0h1m2 0h1m6 0h1m15 0h1m1 0h1m5 0h1m20 0h1m36 0h2m135 0h1m4 0h1m4 0h1m28 0h1m12 0h1m5 0h2m1 0h1m6 0h1m7 0h1m7 0h1m6 0h1m3 0h2m15 0h3m8 0h2m2 0h1m6 0h1m5 0h2m5 0h2m1 0h1m6 0h1m21 0h2m4 0h1m1 0h1m3 0h1m6 0h1m3 0h1m3 0h1m1 0h1m6 0h1m4 0h1m2 0h1m4 0h2m23 0h1m14 0h2m2 0h3m11 0h1m6 0h1m2 0h2m1 0h1m8 0h1m6 0h2m11 0h1m4 0h1m2 0h1m14 0h2m7 0h2m25 0h1m11 0h1m8 0h1m16 0h2m10 0h1m9 0h1m3 0h1m3 0h1m19 0h2m2 0h1m3 0h1m11 0h1m4 0h1m8 0h1m3 0h1m7 0h1m1 0h1m3 0h1m10 0h1m3 0h2M1 30.5h1m3 0h1m3 0h1m13 0h1m13 0h1m7 0h1m5 0h1m5 0h1m1 0h1m5 0h1m14 0h1m2 0h1m10 0h1m6 0h1m6 0h1m5 0h3m5 0h1m15 0h1m3 0h1m11 0h1m11 0h2m32 0h1m2 0h1m13 0h2m13 0h2m18 0h1m1 0h1m9 0h1m26 0h1m10 0h1m8 0h1m3 0h2m9 0h2m9 0h2m8 0h1m2 0h2m1 0h2m26 0h1m3 0h1m32 0h1m48 0h1m8 0h3m74 0h1m22 0h2m141 0h2m1 0h2m6 0h1m8 0h2m5 0h2m1 0h1m3 0h1m3 0h1m2 0h3m2 0h1m1 0h2m3 0h1m4 0h1m4 0h1m2 0h1m5 0h1m7 0h1m5 0h2m3 0h1m7 0h1m3 0h1m1 0h3m2 0h1m5 0h1m1 0h1m2 0h1m12 0h1m9 0h1m13 0h1m22 0h1m5 0h1m18 0h2m9 0h1m11 0h1m7 0h1m6 0h3m4 0h1m4 0h1m24 0h2m9 0h3m3 0h1m18 0h1m5 0h1m4 0h2m2 0h1m4 0h2m8 0h1m10 0h3m40 0h1m1 0h1m36 0h1m6 0h1m6 0h1m10 0h1m4 0h1m1 0h2m2 0h2M13 31.5h1m5 0h1m3 0h2m4 0h1m16 0h2m8 0h2m6 0h2m7 0h1m5 0h1m5 0h1m7 0h1m14 0h1m4 0h1m3 0h1m1 0h3m4 0h1m23 0h1m24 0h2m2 0h1m2 0h3m7 0h1m2 0h1m7 0h1m1 0h1m6 0h1m7 0h1m75 0h1m2 0h1m8 0h1m9 0h2m6 0h1m2 0h1m18 0h1m14 0h2m7 0h1m5 0h1m11 0h1m16 0h2m1 0h2m1 0h1m11 0h2m9 0h1m8 0h1m13 0h1m21 0h1m6 0h1m52 0h1m87 0h1m32 0h1m14 0h1m19 0h1m18 0h1m2 0h1m13 0h1m6 0h1m1 0h1m10 0h1m5 0h1m7 0h1m8 0h2m14 0h1m3 0h1m1 0h2m3 0h1m10 0h1m6 0h1m11 0h1m4 0h1m5 0h1m5 0h2m2 0h1m9 0h1m8 0h3m2 0h1m4 0h2m13 0h3m3 0h1m3 0h1m2 0h2m1 0h2m3 0h1m4 0h1m2 0h1m5 0h1m4 0h3m2 0h2m15 0h1m5 0h1m2 0h1m3 0h1m11 0h1m2 0h3m9 0h1m7 0h1m5 0h1m2 0h2m7 0h1m1 0h2m2 0h1m1 0h1m6 0h3m1 0h1m3 0h1m12 0h1m2 0h2m1 0h1m4 0h1m6 0h1m7 0h1m8 0h1m27 0h1m2 0h1m3 0h1m1 0h1m2 0h1m1 0h1m16 0h1m1 0h2m6 0h2m1 0h2m2 0h2m1 0h1m6 0h2m1 0h1m1 0h1m7 0h1M10 32.5h1m2 0h1m14 0h2m6 0h1m2 0h1m28 0h2m29 0h1m6 0h2m4 0h1m2 0h1m5 0h1m7 0h1m21 0h1m21 0h1m3 0h1m39 0h1m11 0h1m4 0h1m3 0h1m4 0h2m2 0h1m18 0h1m23 0h1m11 0h1m2 0h1m8 0h1m1 0h1m5 0h1m8 0h4m3 0h1m1 0h1m16 0h3m6 0h1m1 0h1m4 0h1m17 0h2m21 0h1m5 0h2m4 0h1m3 0h1m6 0h1m14 0h1m19 0h1m46 0h1m3 0h1m15 0h1m9 0h1m22 0h1m11 0h1m4 0h1m26 0h2m11 0h1m17 0h1m7 0h1m4 0h1m25 0h1m2 0h1m12 0h1m41 0h1m10 0h1m9 0h1m23 0h1m5 0h1m9 0h1m1 0h3m3 0h3m17 0h1m1 0h2m11 0h1m5 0h2m18 0h1m13 0h1m5 0h1m12 0h2m4 0h1m14 0h1m2 0h2m1 0h1m2 0h3m1 0h1m3 0h1m6 0h1m10 0h1m3 0h1m7 0h1m1 0h2m26 0h1m6 0h1m4 0h1m3 0h1m3 0h2m3 0h1m3 0h1m15 0h1m1 0h1m4 0h1m4 0h1m13 0h1m1 0h2m1 0h1m4 0h2m3 0h1m31 0h1m4 0h1m4 0h1m6 0h1m6 0h2m4 0h1m8 0h2m12 0h1m7 0h1M0 33.5h1m3 0h1m28 0h1m6 0h1m3 0h1m6 0h2m15 0h1m7 0h1m5 0h1m1 0h1m23 0h3m9 0h1m9 0h1m14 0h1m4 0h1m13 0h1m5 0h1m12 0h1m17 0h1m6 0h1m13 0h3m5 0h2m10 0h1m13 0h2m36 0h1m7 0h2m8 0h1m6 0h1m11 0h1m3 0h1m35 0h1m7 0h1m31 0h2m26 0h1m2 0h1m12 0h1m1 0h1m7 0h1m6 0h1m3 0h2m28 0h1m16 0h3m10 0h1m16 0h1m4 0h1m19 0h3m1 0h1m11 0h1m2 0h4m4 0h1m4 0h4m3 0h2m21 0h1m4 0h1m2 0h1m19 0h2m8 0h1m1 0h1m3 0h1m1 0h1m4 0h1m6 0h1m59 0h1m1 0h1m2 0h1m40 0h3m1 0h2m22 0h1m1 0h1m8 0h1m5 0h1m12 0h1m9 0h1m1 0h1m3 0h2m4 0h1m14 0h1m4 0h1m2 0h1m12 0h1m11 0h1m2 0h2m5 0h3m26 0h3m9 0h1m1 0h1m1 0h1m12 0h2m15 0h1m1 0h1m15 0h3m15 0h1m9 0h1m13 0h3m5 0h3m1 0h1m9 0h2m54 0h1m3 0h2m8 0h2m8 0h1m2 0h1m6 0h1m6 0h1M7 34.5h1m3 0h1m4 0h1m1 0h1m10 0h1m3 0h1m8 0h1m8 0h1m4 0h3m14 0h1m13 0h2m2 0h2m2 0h3m2 0h1m7 0h1m6 0h2m30 0h2m4 0h1m2 0h4m9 0h2m1 0h1m5 0h1m1 0h1m2 0h1m9 0h2m2 0h2m8 0h1m1 0h1m3 0h3m3 0h1m10 0h1m9 0h1m1 0h1m24 0h2m13 0h1m7 0h2m12 0h1m5 0h2m9 0h2m2 0h2m3 0h1m15 0h1m14 0h1m6 0h1m13 0h1m9 0h1m3 0h1m17 0h2m3 0h1m27 0h1m6 0h1m5 0h1m2 0h1m8 0h1m6 0h1m18 0h1m6 0h1m50 0h1m14 0h2m12 0h1m1 0h1m6 0h1m7 0h1m15 0h1m1 0h1m14 0h1m22 0h2m5 0h1m5 0h1m15 0h2m20 0h1m54 0h2m16 0h1m25 0h3m4 0h1m5 0h1m6 0h1m3 0h1m2 0h1m2 0h1m3 0h1m14 0h1m4 0h1m3 0h1m5 0h1m12 0h2m9 0h1m4 0h1m14 0h1m1 0h2m2 0h1m5 0h1m5 0h1m1 0h1m3 0h1m1 0h1m6 0h1m33 0h1m2 0h2m21 0h1m3 0h1m8 0h1m4 0h1m4 0h2m7 0h1m27 0h1m5 0h1m9 0h3m20 0h1m7 0h1m27 0h1m3 0h1m11 0h1m12 0h1m6 0h1m4 0h1m2 0h2M0 35.5h1m22 0h1m2 0h1m8 0h1m13 0h1m8 0h2m3 0h1m1 0h1m9 0h1m4 0h1m2 0h1m8 0h1m1 0h1m4 0h1m16 0h1m10 0h2m6 0h1m14 0h1m4 0h1m5 0h1m3 0h1m13 0h1m4 0h2m7 0h1m9 0h1m18 0h2m2 0h1m4 0h1m3 0h1m3 0h1m5 0h1m8 0h2m4 0h1m2 0h1m3 0h1m2 0h1m17 0h1m4 0h2m11 0h1m11 0h1m1 0h1m4 0h1m2 0h1m1 0h1m5 0h3m7 0h1m13 0h1m1 0h1m1 0h1m4 0h2m1 0h1m1 0h1m23 0h1m1 0h1m7 0h3m3 0h1m1 0h1m5 0h2m3 0h1m2 0h2m17 0h1m10 0h1m5 0h2m15 0h1m4 0h1m6 0h1m8 0h2m3 0h3m1 0h2m1 0h1m20 0h2m3 0h1m38 0h1m12 0h1m2 0h1m7 0h1m1 0h1m1 0h1m6 0h2m3 0h1m1 0h2m9 0h1m1 0h1m8 0h1m1 0h1m4 0h1m14 0h1m2 0h1m13 0h1m20 0h1m4 0h1m7 0h2m30 0h1m23 0h1m8 0h1m6 0h1m2 0h1m1 0h1m4 0h1m12 0h1m7 0h1m5 0h1m24 0h2m16 0h1m4 0h2m5 0h2m1 0h1m22 0h1m4 0h1m3 0h1m8 0h1m10 0h2m14 0h1m2 0h1m3 0h2m8 0h1m4 0h1m16 0h1m2 0h1m5 0h1m15 0h1m4 0h2m4 0h1m3 0h1m3 0h2m6 0h1m6 0h1m4 0h1m2 0h1m6 0h1m3 0h1m24 0h1m30 0h1m3 0h4m9 0h1m8 0h3m8 0h3m21 0h1m5 0h1M2 36.5h3m1 0h1m10 0h1m1 0h1m5 0h1m6 0h1m10 0h3m1 0h1m9 0h2m8 0h1m3 0h1m2 0h1m15 0h1m6 0h1m12 0h1m4 0h1m13 0h1m15 0h1m17 0h1m4 0h1m6 0h1m4 0h2m13 0h1m7 0h1m6 0h1m4 0h5m25 0h1m3 0h3m2 0h2m12 0h1m6 0h1m14 0h1m8 0h1m6 0h1m6 0h2m8 0h1m1 0h1m3 0h1m5 0h2m18 0h1m3 0h2m4 0h1m12 0h1m8 0h1m1 0h1m1 0h1m5 0h1m4 0h2m2 0h1m6 0h1m3 0h2m5 0h1m2 0h1m4 0h1m2 0h3m6 0h2m6 0h1m4 0h2m3 0h1m4 0h3m2 0h1m5 0h1m3 0h1m1 0h1m6 0h1m8 0h2m9 0h1m1 0h1m6 0h3m13 0h2m2 0h2m22 0h2m2 0h1m4 0h2m11 0h1m3 0h2m2 0h1m3 0h1m4 0h2m8 0h1m4 0h1m1 0h2m6 0h1m16 0h1m22 0h2m15 0h1m3 0h2m23 0h4m20 0h1m2 0h1m2 0h1m27 0h1m5 0h2m27 0h1m25 0h1m55 0h1m37 0h1m1 0h3m4 0h1m23 0h1m4 0h1m5 0h1m2 0h1m3 0h1m5 0h1m17 0h1m22 0h2m6 0h1m3 0h1m2 0h1m20 0h1m1 0h1m4 0h1m2 0h1m2 0h1m2 0h3m17 0h2m8 0h2m3 0h1m6 0h1m7 0h1m22 0h2m2 0h1m4 0h2m4 0h1m4 0h1m21 0h1m2 0h1m1 0h1M8 37.5h1m10 0h1m1 0h1m11 0h1m10 0h1m1 0h2m1 0h1m18 0h1m1 0h1m9 0h1m13 0h1m1 0h1m7 0h1m25 0h1m12 0h1m12 0h1m7 0h1m11 0h1m9 0h1m1 0h1m4 0h1m8 0h1m10 0h1m3 0h1m27 0h2m17 0h2m4 0h1m17 0h1m6 0h1m13 0h1m2 0h1m4 0h1m23 0h1m3 0h1m6 0h1m6 0h1m15 0h2m12 0h1m7 0h1m11 0h1m18 0h1m13 0h1m3 0h1m12 0h2m1 0h1m2 0h2m15 0h1m16 0h1m15 0h1m12 0h2m3 0h1m10 0h1m3 0h1m5 0h1m12 0h1m1 0h1m12 0h1m11 0h2m18 0h1m10 0h2m32 0h1m1 0h2m6 0h1m3 0h1m4 0h1m49 0h1m6 0h1m2 0h2m29 0h1m17 0h1m18 0h2m9 0h1m21 0h1m1 0h2m9 0h1m9 0h1m5 0h1m44 0h1m30 0h2m5 0h1m1 0h1m3 0h1m23 0h1m11 0h1m2 0h1m2 0h1m7 0h1m11 0h1m10 0h1m3 0h1m7 0h1m25 0h2m3 0h1m11 0h1m1 0h1m5 0h1m4 0h1m20 0h1m1 0h1m1 0h1m1 0h2m10 0h2m3 0h1m9 0h1m6 0h2m3 0h1m5 0h1m7 0h3M0 38.5h2m8 0h1m7 0h1m25 0h1m9 0h1m2 0h1m2 0h4m19 0h1m4 0h1m2 0h1m7 0h1m6 0h1m12 0h1m1 0h1m21 0h1m2 0h1m12 0h1m10 0h1m2 0h1m6 0h1m3 0h2m4 0h1m1 0h1m18 0h3m2 0h2m10 0h1m10 0h3m1 0h1m13 0h2m6 0h1m6 0h1m19 0h1m8 0h1m1 0h1m8 0h1m2 0h1m4 0h1m6 0h1m1 0h2m2 0h1m3 0h1m1 0h1m22 0h1m3 0h2m19 0h1m102 0h1m5 0h2m4 0h2m13 0h1m9 0h1m2 0h1m12 0h1m3 0h1m1 0h1m4 0h1m4 0h1m3 0h2m9 0h1m16 0h1m5 0h1m18 0h1m1 0h1m6 0h1m3 0h1m3 0h1m5 0h1m15 0h1m1 0h3m20 0h2m7 0h1m4 0h1m10 0h3m4 0h1m5 0h1m4 0h1m2 0h1m4 0h1m6 0h1m4 0h3m1 0h1m8 0h1m5 0h1m24 0h1m10 0h1m4 0h2m103 0h1m1 0h1m21 0h1m19 0h1m16 0h2m4 0h1m5 0h1m2 0h1m10 0h1m10 0h1m3 0h1m3 0h2m1 0h1m2 0h1m21 0h1m5 0h1m3 0h1m14 0h1m12 0h1m1 0h1m13 0h2m9 0h2m10 0h2m6 0h1m2 0h1m4 0h1m7 0h1m2 0h1m2 0h1m9 0h1m17 0h1m9 0h1M1 39.5h1m9 0h3m1 0h1m6 0h1m13 0h1m2 0h1m10 0h1m1 0h2m1 0h1m7 0h1m2 0h1m4 0h1m9 0h1m1 0h2m2 0h1m1 0h1m2 0h2m4 0h1m2 0h3m3 0h1m1 0h1m10 0h1m2 0h1m5 0h1m8 0h1m1 0h4m12 0h1m3 0h1m5 0h2m4 0h1m7 0h1m9 0h1m7 0h1m6 0h1m2 0h1m15 0h3m4 0h2m2 0h1m4 0h2m11 0h1m17 0h1m8 0h1m4 0h1m6 0h1m1 0h1m7 0h2m2 0h1m9 0h1m2 0h1m1 0h1m22 0h4m1 0h1m1 0h2m1 0h1m3 0h1m10 0h1m1 0h1m28 0h1m47 0h1m35 0h1m9 0h1m2 0h1m11 0h1m1 0h1m11 0h1m3 0h1m7 0h1m10 0h2m4 0h1m10 0h1m2 0h2m2 0h1m25 0h1m6 0h1m5 0h1m3 0h1m4 0h1m6 0h1m14 0h1m3 0h2m3 0h2m5 0h1m1 0h1m10 0h1m4 0h2m3 0h3m10 0h1m1 0h1m4 0h1m200 0h1m22 0h1m1 0h1m2 0h1m6 0h1m7 0h1m3 0h1m1 0h1m6 0h3m17 0h1m12 0h1m4 0h2m2 0h1m10 0h1m10 0h1m1 0h1m33 0h3m11 0h1m8 0h1m2 0h1m12 0h2m9 0h2m2 0h1m1 0h1m7 0h3m15 0h1m4 0h2m1 0h2m1 0h3m18 0h1m2 0h1m1 0h1m7 0h1m2 0h1M6 40.5h1m1 0h2m8 0h1m4 0h2m1 0h2m4 0h1m9 0h2m8 0h1m9 0h1m16 0h1m12 0h2m6 0h2m15 0h1m1 0h1m2 0h1m3 0h3m14 0h1m2 0h2m4 0h2m6 0h2m15 0h1m1 0h2m1 0h2m4 0h1m5 0h2m3 0h1m24 0h1m11 0h1m2 0h1m20 0h1m13 0h1m1 0h1m13 0h1m2 0h1m3 0h1m17 0h1m6 0h2m17 0h1m11 0h2m2 0h2m2 0h2m10 0h2m5 0h1m27 0h1m6 0h1m5 0h1m24 0h1m9 0h1m4 0h2m13 0h1m22 0h1m14 0h1m15 0h1m26 0h1m1 0h2m6 0h1m8 0h2m4 0h2m3 0h1m6 0h1m3 0h1m2 0h2m3 0h1m5 0h1m23 0h1m3 0h1m5 0h1m1 0h2m8 0h1m3 0h1m5 0h1m2 0h3m5 0h3m2 0h1m16 0h1m1 0h1m10 0h2m10 0h2m6 0h2m6 0h2m4 0h4m5 0h1m3 0h1m13 0h1m2 0h1m12 0h1m65 0h1m22 0h1m3 0h1m2 0h1m43 0h1m31 0h1m9 0h2m2 0h3m2 0h1m2 0h1m4 0h1m1 0h1m1 0h1m2 0h3m15 0h1m5 0h1m12 0h1m3 0h1m1 0h1m4 0h1m2 0h1m13 0h1m4 0h2m1 0h1m1 0h1m11 0h2m5 0h1m1 0h3m9 0h2m1 0h3m1 0h1m4 0h1m4 0h1m1 0h3m2 0h1m21 0h1m2 0h2m7 0h2m4 0h1m16 0h1m6 0h1m1 0h1M17 41.5h2m2 0h1m9 0h1m3 0h1m6 0h2m9 0h1m2 0h1m6 0h1m1 0h1m3 0h2m2 0h1m2 0h1m18 0h1m4 0h1m9 0h1m2 0h5m16 0h1m3 0h1m43 0h1m8 0h1m4 0h1m17 0h1m5 0h1m5 0h1m4 0h1m2 0h1m4 0h1m7 0h1m8 0h1m17 0h3m1 0h1m2 0h2m3 0h1m1 0h1m3 0h1m2 0h1m3 0h3m3 0h1m3 0h1m6 0h2m4 0h1m2 0h1m1 0h1m2 0h1m8 0h1m14 0h1m3 0h1m7 0h1m6 0h2m12 0h4m1 0h1m92 0h1m5 0h1m4 0h1m1 0h2m6 0h1m17 0h3m8 0h1m2 0h1m3 0h1m1 0h1m2 0h1m3 0h1m4 0h2m15 0h1m1 0h1m1 0h1m11 0h1m7 0h2m1 0h1m6 0h1m1 0h1m3 0h1m3 0h3m13 0h2m6 0h2m3 0h1m6 0h1m2 0h1m3 0h1m4 0h1m1 0h1m5 0h2m10 0h1m5 0h1m9 0h1m4 0h1m2 0h1m1 0h1m225 0h1m3 0h1m5 0h2m1 0h2m2 0h2m2 0h1m1 0h1m4 0h1m13 0h1m2 0h1m7 0h1m5 0h2m11 0h1m5 0h1m12 0h1m2 0h1m3 0h1m1 0h1m3 0h1m6 0h1m4 0h2m1 0h3m2 0h3m3 0h3m4 0h1m1 0h1m1 0h1m9 0h2m5 0h1m5 0h3m2 0h1m7 0h1m3 0h1m19 0h1m3 0h1m9 0h1m8 0h1m3 0h1m7 0h1m5 0h1m8 0h1M26 42.5h2m13 0h1m18 0h1m14 0h1m6 0h2m13 0h1m5 0h1m37 0h1m9 0h1m2 0h1m4 0h1m4 0h2m21 0h1m12 0h2m1 0h1m3 0h1m6 0h1m1 0h2m2 0h1m4 0h1m31 0h1m20 0h1m5 0h1m15 0h1m14 0h1m19 0h2m18 0h1m1 0h1m1 0h1m1 0h1m5 0h1m18 0h1m4 0h1m108 0h1m12 0h1m4 0h1m3 0h2m17 0h1m1 0h1m11 0h1m1 0h1m2 0h1m16 0h1m5 0h1m4 0h1m8 0h1m1 0h1m5 0h1m4 0h2m2 0h1m1 0h1m4 0h1m17 0h3m28 0h1m6 0h1m3 0h1m4 0h1m6 0h1m11 0h1m3 0h1m34 0h1m4 0h1m7 0h1m5 0h1m110 0h1m58 0h1m4 0h1m9 0h1m1 0h2m7 0h2m20 0h1m22 0h1m2 0h2m3 0h1m5 0h2m11 0h1m3 0h1m2 0h1m4 0h1m3 0h1m1 0h2m6 0h1m6 0h1m2 0h2m1 0h1m10 0h1m5 0h1m4 0h1m15 0h1m1 0h1m7 0h1m2 0h1m11 0h1m2 0h3m1 0h1m5 0h1m3 0h3m13 0h2m11 0h1m4 0h2m1 0h1m3 0h1M0 43.5h1m3 0h1m1 0h1m2 0h1m5 0h1m2 0h1m19 0h1m33 0h2m5 0h2m6 0h2m17 0h1m9 0h1m12 0h1m13 0h2m41 0h1m16 0h2m38 0h1m2 0h1m1 0h1m3 0h1m9 0h1m1 0h1m13 0h3m12 0h1m3 0h1m63 0h1m6 0h1m3 0h1m5 0h1m14 0h1m27 0h3m5 0h3m9 0h1m7 0h1m1 0h3m14 0h2m13 0h2m9 0h2m6 0h1m1 0h1m1 0h1m1 0h1m6 0h1m4 0h2m14 0h1m6 0h2m1 0h1m6 0h2m10 0h1m5 0h2m3 0h1m1 0h1m1 0h2m11 0h1m7 0h1m2 0h1m3 0h1m4 0h2m16 0h2m11 0h1m10 0h1m8 0h1m8 0h1m11 0h2m2 0h4m13 0h1m2 0h1m23 0h1m10 0h1m17 0h2m5 0h1m10 0h1m1 0h1m7 0h1m10 0h1m7 0h1m8 0h2m3 0h1m6 0h1m4 0h2m2 0h1m5 0h1m10 0h1m1 0h1m3 0h1m4 0h1m11 0h1m8 0h1m14 0h3m4 0h1m157 0h1m15 0h1m72 0h1m1 0h1m29 0h1M3 44.5h1m3 0h1m4 0h1m3 0h1m11 0h1m1 0h2m1 0h1m7 0h1m1 0h2m3 0h1m15 0h1m9 0h1m9 0h1m23 0h2m5 0h1m2 0h2m2 0h2m6 0h2m16 0h1m7 0h1m8 0h1m8 0h2m11 0h2m3 0h1m2 0h1m18 0h2m8 0h2m3 0h1m6 0h1m1 0h1m3 0h1m1 0h3m1 0h1m6 0h2m10 0h1m5 0h1m2 0h1m3 0h1m4 0h1m16 0h1m15 0h3m13 0h1m16 0h3m3 0h1m1 0h3m3 0h2m2 0h1m2 0h1m8 0h4m2 0h1m6 0h1m2 0h2m4 0h1m1 0h1m5 0h2m5 0h1m28 0h1m5 0h1m1 0h1m2 0h3m2 0h1m3 0h1m17 0h1m3 0h2m7 0h1m30 0h1m2 0h1m1 0h1m6 0h2m2 0h1m20 0h1m2 0h1m14 0h1m5 0h1m28 0h1m1 0h1m7 0h2m1 0h1m18 0h1m3 0h1m50 0h1m3 0h1m1 0h1m24 0h1m15 0h1m1 0h1m5 0h1m4 0h1m5 0h2m3 0h1m1 0h1m10 0h1m2 0h2m28 0h2m3 0h1m10 0h2m11 0h2m2 0h2m13 0h1m1 0h1m3 0h1m3 0h2m4 0h2m7 0h2m10 0h3m108 0h1m55 0h2m12 0h1m1 0h1m17 0h1m59 0h2M0 45.5h2m3 0h1m8 0h2m1 0h1m4 0h1m6 0h1m7 0h1m8 0h1m1 0h1m1 0h1m7 0h1m3 0h1m21 0h1m3 0h1m1 0h1m6 0h1m5 0h1m9 0h1m14 0h1m5 0h2m3 0h1m10 0h1m14 0h1m3 0h1m4 0h1m7 0h1m17 0h3m8 0h1m12 0h1m3 0h1m14 0h1m2 0h1m5 0h2m1 0h1m13 0h1m3 0h1m2 0h1m4 0h2m9 0h1m1 0h1m2 0h2m1 0h1m1 0h2m5 0h2m1 0h1m9 0h1m19 0h1m2 0h1m3 0h1m4 0h1m1 0h1m1 0h1m1 0h1m3 0h1m5 0h1m2 0h1m7 0h1m2 0h1m3 0h1m12 0h1m27 0h1m3 0h1m24 0h2m10 0h1m36 0h2m1 0h1m7 0h1m13 0h1m5 0h1m13 0h2m10 0h1m4 0h1m2 0h1m4 0h3m1 0h1m17 0h1m1 0h1m2 0h1m11 0h1m1 0h2m16 0h1m7 0h1m13 0h1m1 0h1m2 0h1m11 0h1m5 0h1m4 0h1m4 0h1m5 0h1m3 0h1m2 0h1m3 0h1m3 0h1m15 0h1m14 0h1m2 0h1m2 0h1m7 0h2m13 0h1m7 0h1m2 0h2m2 0h3m29 0h1m4 0h1m14 0h1m3 0h1m3 0h1m8 0h1m30 0h2m21 0h1m91 0h1m39 0h1m22 0h2m6 0h1m15 0h2m9 0h1m1 0h3m5 0h2m2 0h1m26 0h1m1 0h1m2 0h1m15 0h2m4 0h1m12 0h1m13 0h1M5 46.5h3m16 0h1m1 0h2m1 0h1m1 0h1m4 0h1m4 0h1m6 0h2m16 0h1m11 0h1m15 0h1m7 0h1m6 0h1m1 0h1m16 0h1m1 0h1m7 0h2m4 0h1m1 0h1m11 0h1m1 0h1m9 0h1m2 0h2m2 0h1m17 0h1m5 0h1m6 0h1m4 0h1m5 0h3m8 0h2m2 0h1m1 0h2m3 0h1m5 0h1m8 0h1m2 0h1m2 0h1m17 0h1m12 0h1m12 0h1m1 0h1m13 0h1m11 0h1m8 0h2m7 0h1m4 0h3m6 0h1m1 0h1m18 0h1m2 0h1m5 0h1m2 0h1m7 0h1m13 0h1m14 0h1m29 0h2m7 0h2m4 0h1m6 0h1m5 0h1m2 0h1m15 0h1m8 0h1m6 0h1m1 0h1m4 0h1m1 0h2m12 0h2m19 0h1m3 0h1m13 0h4m6 0h2m10 0h1m5 0h1m6 0h1m12 0h3m20 0h2m17 0h2m3 0h1m2 0h1m4 0h1m2 0h1m1 0h1m4 0h2m20 0h1m12 0h1m7 0h1m8 0h1m4 0h1m8 0h1m7 0h1m5 0h2m18 0h1m14 0h1m1 0h2m6 0h1m4 0h1m13 0h1m36 0h1m10 0h1m8 0h1m2 0h1m4 0h1m145 0h2m4 0h1m18 0h1m6 0h1m34 0h1m5 0h1m15 0h2m38 0h1m1 0h1m4 0h1M13 47.5h1m1 0h1m4 0h1m1 0h1m6 0h1m6 0h2m1 0h1m6 0h1m2 0h1m3 0h1m2 0h2m4 0h2m14 0h1m3 0h1m27 0h3m6 0h1m1 0h1m12 0h1m2 0h1m5 0h1m3 0h1m16 0h1m5 0h1m15 0h1m3 0h1m2 0h3m8 0h1m9 0h2m7 0h2m1 0h2m2 0h1m4 0h1m11 0h1m6 0h1m1 0h1m1 0h1m1 0h2m6 0h1m4 0h1m11 0h2m2 0h1m1 0h1m2 0h1m4 0h1m3 0h1m2 0h1m3 0h1m8 0h1m5 0h1m1 0h1m4 0h1m2 0h1m3 0h1m3 0h1m6 0h1m14 0h2m1 0h1m2 0h1m1 0h2m14 0h2m4 0h1m2 0h1m3 0h1m3 0h1m3 0h1m3 0h3m4 0h1m1 0h1m6 0h1m28 0h2m5 0h2m7 0h1m10 0h1m1 0h1m3 0h1m1 0h2m7 0h1m30 0h1m2 0h2m10 0h1m11 0h2m6 0h1m12 0h1m15 0h1m17 0h3m6 0h2m33 0h1m20 0h1m18 0h2m2 0h1m9 0h2m1 0h1m1 0h2m6 0h1m5 0h1m24 0h1m8 0h1m19 0h1m7 0h1m14 0h1m4 0h1m20 0h1m1 0h1m9 0h1m1 0h1m10 0h1m6 0h1m3 0h1m4 0h1m12 0h2m5 0h2m13 0h1m6 0h1m33 0h2m95 0h1m111 0h1m13 0h2M1 48.5h1m3 0h1m1 0h3m1 0h1m4 0h1m4 0h1m16 0h1m1 0h1m3 0h2m4 0h1m1 0h3m5 0h1m2 0h1m4 0h2m7 0h1m2 0h1m20 0h1m3 0h1m18 0h1m6 0h1m14 0h3m3 0h1m6 0h1m2 0h2m1 0h2m1 0h1m4 0h1m8 0h2m1 0h1m1 0h2m3 0h1m1 0h2m1 0h1m24 0h1m9 0h2m7 0h1m12 0h1m5 0h6m15 0h1m12 0h1m1 0h1m1 0h1m12 0h2m3 0h1m5 0h2m3 0h1m14 0h3m15 0h1m4 0h1m1 0h1m9 0h1m1 0h3m1 0h1m4 0h1m7 0h1m3 0h1m17 0h1m2 0h1m14 0h1m1 0h2m3 0h1m3 0h2m7 0h1m6 0h1m4 0h1m7 0h1m2 0h1m12 0h1m2 0h1m4 0h1m4 0h1m8 0h1m7 0h1m13 0h1m7 0h1m2 0h1m34 0h2m8 0h1m25 0h1m4 0h1m6 0h2m8 0h1m8 0h1m13 0h1m8 0h2m1 0h2m1 0h1m3 0h1m8 0h1m6 0h1m13 0h1m3 0h1m5 0h1m20 0h1m1 0h2m1 0h1m17 0h1m2 0h1m7 0h1m3 0h2m9 0h1m8 0h2m34 0h1m14 0h2m8 0h2m5 0h1m14 0h1m20 0h1m9 0h1m5 0h1m2 0h1m52 0h2m3 0h1m76 0h1m3 0h1m1 0h1m7 0h1m5 0h1m2 0h1m8 0h1m6 0h1m5 0h2m2 0h1m33 0h2m17 0h2m9 0h1m9 0h1m4 0h4M0 49.5h1m1 0h3m12 0h2m13 0h1m1 0h1m4 0h1m10 0h1m9 0h2m5 0h1m2 0h1m3 0h2m26 0h1m2 0h1m2 0h1m3 0h3m6 0h1m1 0h1m3 0h1m11 0h1m4 0h1m2 0h1m3 0h1m1 0h1m12 0h2m2 0h1m1 0h2m2 0h5m4 0h1m6 0h1m5 0h1m7 0h2m10 0h1m3 0h1m2 0h1m4 0h1m6 0h1m10 0h4m24 0h1m1 0h2m9 0h1m11 0h1m5 0h1m1 0h1m1 0h4m8 0h1m1 0h1m3 0h2m4 0h1m11 0h1m13 0h1m1 0h1m11 0h1m4 0h1m9 0h1m3 0h1m6 0h1m4 0h1m15 0h2m23 0h1m1 0h1m3 0h1m14 0h1m8 0h1m12 0h1m1 0h1m8 0h1m9 0h1m25 0h1m28 0h1m19 0h1m3 0h2m17 0h1m2 0h1m4 0h1m1 0h1m10 0h2m18 0h1m28 0h1m4 0h1m15 0h2m2 0h1m2 0h1m1 0h1m9 0h2m1 0h1m3 0h1m3 0h1m2 0h1m9 0h1m9 0h1m5 0h2m8 0h1m17 0h1m1 0h1m5 0h1m18 0h1m4 0h1m2 0h2m6 0h1m8 0h1m7 0h2m8 0h1m34 0h1m6 0h1m14 0h1m5 0h1m143 0h2m51 0h1m4 0h1m9 0h1m35 0h2m4 0h1m3 0h1m6 0h1m4 0h1m2 0h2M0 50.5h1m3 0h1m2 0h1m6 0h3m4 0h1m2 0h1m6 0h1m3 0h1m8 0h2m1 0h1m9 0h1m22 0h1m6 0h1m15 0h1m2 0h1m15 0h1m4 0h1m4 0h1m4 0h1m3 0h1m12 0h1m2 0h1m2 0h1m10 0h1m11 0h2m5 0h1m1 0h2m1 0h1m3 0h1m3 0h1m3 0h2m6 0h1m1 0h2m3 0h2m3 0h4m2 0h1m10 0h1m1 0h1m2 0h1m5 0h3m2 0h1m4 0h2m6 0h1m2 0h1m2 0h1m6 0h1m10 0h4m5 0h1m52 0h4m6 0h1m9 0h1m9 0h1m4 0h1m4 0h1m8 0h3m14 0h2m9 0h1m13 0h1m1 0h2m9 0h2m3 0h2m8 0h1m5 0h1m2 0h1m10 0h2m3 0h1m9 0h1m5 0h1m4 0h1m2 0h1m4 0h1m2 0h2m1 0h1m3 0h1m2 0h1m13 0h1m16 0h1m5 0h1m17 0h1m1 0h1m1 0h1m4 0h1m14 0h2m2 0h2m8 0h1m26 0h1m8 0h1m5 0h1m6 0h1m1 0h1m4 0h3m1 0h1m1 0h1m9 0h1m1 0h1m4 0h4m4 0h1m7 0h1m5 0h1m13 0h1m1 0h1m2 0h1m2 0h2m15 0h1m6 0h2m10 0h2m15 0h1m4 0h1m14 0h1m7 0h1m4 0h1m9 0h1m5 0h2m2 0h2m2 0h3m6 0h2m10 0h1m2 0h1m3 0h1m6 0h1m1 0h2m4 0h2m4 0h2m52 0h1m114 0h3m3 0h2m13 0h1m2 0h1m15 0h1m10 0h1m3 0h1m2 0h1m24 0h1m21 0h1M2 51.5h1m9 0h1m2 0h1m8 0h1m4 0h1m15 0h1m5 0h1m1 0h1m5 0h2m1 0h1m4 0h1m6 0h1m15 0h1m12 0h1m6 0h1m4 0h1m4 0h1m2 0h1m12 0h2m2 0h1m4 0h2m1 0h1m5 0h1m7 0h1m13 0h1m18 0h1m4 0h1m13 0h1m5 0h1m23 0h1m5 0h2m6 0h1m3 0h1m7 0h1m2 0h1m13 0h1m6 0h1m4 0h1m20 0h1m11 0h1m6 0h1m7 0h3m8 0h1m6 0h1m12 0h1m6 0h1m13 0h1m5 0h1m4 0h1m10 0h1m1 0h1m15 0h1m13 0h1m4 0h1m20 0h1m1 0h2m4 0h1m2 0h2m10 0h1m7 0h1m1 0h1m8 0h2m2 0h1m12 0h1m11 0h1m9 0h1m3 0h1m9 0h1m3 0h1m4 0h1m3 0h1m7 0h1m4 0h1m4 0h2m3 0h1m19 0h1m4 0h1m3 0h2m11 0h1m2 0h1m6 0h1m34 0h1m7 0h1m2 0h1m19 0h2m12 0h1m5 0h1m2 0h2m28 0h2m8 0h1m9 0h1m19 0h1m8 0h2m9 0h1m13 0h1m8 0h1m1 0h2m18 0h1m31 0h2m6 0h1m1 0h1m6 0h1m4 0h1m24 0h1m10 0h1m2 0h1m3 0h1m5 0h1m15 0h1m8 0h1m11 0h1m7 0h1m4 0h1m1 0h1M5 52.5h1m4 0h3m5 0h1m3 0h1m5 0h1m17 0h1m2 0h1m9 0h1m1 0h1m7 0h1m6 0h1m2 0h1m9 0h1m11 0h1m13 0h2m2 0h1m3 0h1m4 0h1m8 0h1m2 0h1m10 0h1m16 0h2m8 0h1m2 0h1m8 0h1m1 0h1m3 0h1m9 0h1m12 0h1m15 0h1m12 0h1m1 0h1m5 0h1m18 0h2m7 0h1m9 0h2m9 0h2m11 0h1m10 0h1m9 0h1m1 0h1m3 0h1m12 0h2m9 0h1m5 0h1m4 0h2m13 0h1m15 0h1m1 0h1m21 0h2m2 0h1m2 0h1m3 0h1m8 0h2m2 0h1m1 0h1m3 0h1m21 0h1m14 0h1m5 0h1m5 0h2m7 0h1m6 0h2m1 0h1m16 0h3m4 0h2m7 0h1m3 0h1m6 0h2m5 0h4m2 0h1m1 0h1m3 0h1m2 0h1m12 0h1m9 0h1m5 0h1m3 0h1m20 0h1m8 0h1m3 0h1m10 0h1m10 0h1m3 0h3m25 0h1m8 0h1m2 0h1m11 0h1m15 0h1m11 0h1m22 0h1m5 0h1m18 0h3m11 0h1m13 0h1m14 0h1m6 0h4m5 0h1m1 0h1m1 0h1m9 0h2m2 0h1m23 0h2m3 0h1m1 0h1m16 0h1m4 0h1m30 0h1m19 0h1m1 0h1m28 0h1m10 0h1m1 0h1m1 0h1m4 0h1M14 53.5h1m2 0h1m1 0h1m5 0h1m3 0h1m23 0h1m20 0h1m7 0h1m37 0h1m14 0h1m11 0h1m6 0h1m5 0h2m9 0h1m1 0h1m4 0h1m1 0h2m9 0h3m19 0h1m2 0h1m1 0h2m26 0h1m5 0h2m4 0h1m22 0h3m4 0h1m4 0h1m2 0h1m3 0h1m2 0h2m14 0h1m24 0h1m17 0h1m10 0h2m3 0h2m3 0h1m1 0h1m7 0h1m6 0h1m2 0h1m12 0h1m3 0h1m22 0h1m4 0h1m7 0h1m16 0h1m7 0h1m2 0h2m5 0h1m2 0h1m1 0h1m3 0h1m9 0h1m5 0h1m5 0h2m8 0h4m4 0h1m2 0h1m31 0h1m3 0h2m11 0h1m12 0h1m13 0h1m3 0h2m1 0h2m12 0h1m10 0h1m1 0h2m8 0h1m3 0h1m2 0h1m15 0h1m15 0h1m14 0h1m11 0h1m1 0h1m5 0h1m2 0h1m6 0h1m7 0h1m1 0h3m8 0h1m3 0h1m21 0h1m4 0h2m3 0h1m2 0h1m6 0h1m9 0h1m1 0h1m7 0h1m10 0h1m3 0h1m8 0h1m7 0h1m11 0h1m9 0h1m2 0h1m3 0h1m8 0h2m7 0h3m4 0h1m15 0h1m2 0h1m15 0h1m7 0h1m12 0h1m14 0h1m10 0h1m15 0h1m4 0h1m7 0h1m3 0h1m18 0h1M8 54.5h2m4 0h1m7 0h2m3 0h1m5 0h1m6 0h1m3 0h1m19 0h1m1 0h1m2 0h1m1 0h1m5 0h1m4 0h1m1 0h1m22 0h1m5 0h1m5 0h2m2 0h1m4 0h3m12 0h1m2 0h1m3 0h1m4 0h2m17 0h1m5 0h2m2 0h1m5 0h2m3 0h1m12 0h1m6 0h1m29 0h1m6 0h1m11 0h1m7 0h1m16 0h1m13 0h1m7 0h2m4 0h1m1 0h1m18 0h1m17 0h1m9 0h1m12 0h1m5 0h2m1 0h1m10 0h1m2 0h2m1 0h1m10 0h1m14 0h1m7 0h2m13 0h2m1 0h1m13 0h1m1 0h1m10 0h1m1 0h4m13 0h1m4 0h2m9 0h1m3 0h1m5 0h1m3 0h1m13 0h1m7 0h1m14 0h1m10 0h4m4 0h1m3 0h3m2 0h1m2 0h2m6 0h1m8 0h1m12 0h1m10 0h1m1 0h1m18 0h1m9 0h1m5 0h1m18 0h1m6 0h1m3 0h1m3 0h2m8 0h1m7 0h1m3 0h1m15 0h1m20 0h1m1 0h1m1 0h1m3 0h1m4 0h2m1 0h1m8 0h2m22 0h1m3 0h1m3 0h1m16 0h3m9 0h1m7 0h1m15 0h1m5 0h2m13 0h1m10 0h1m12 0h1m13 0h1m14 0h1m27 0h1m7 0h1m6 0h1m3 0h1m3 0h1m3 0h1m1 0h1m9 0h1m5 0h1m21 0h1m5 0h1m135 0h1M18 55.5h1m3 0h2m5 0h1m9 0h1m14 0h1m2 0h1m2 0h1m3 0h1m1 0h1m1 0h1m2 0h1m19 0h1m10 0h1m1 0h1m1 0h1m16 0h2m6 0h3m1 0h1m1 0h1m8 0h1m8 0h1m7 0h1m3 0h2m7 0h1m6 0h1m9 0h2m33 0h1m5 0h1m12 0h1m20 0h1m3 0h1m22 0h1m7 0h1m13 0h2m21 0h1m3 0h1m3 0h1m1 0h1m15 0h1m3 0h1m14 0h1m12 0h1m1 0h2m33 0h1m3 0h3m13 0h1m12 0h1m16 0h1m9 0h1m7 0h2m25 0h1m8 0h1m7 0h2m3 0h3m11 0h3m1 0h1m3 0h1m3 0h1m18 0h1m21 0h1m4 0h4m1 0h1m23 0h1m25 0h2m12 0h2m10 0h2m4 0h1m6 0h1m6 0h2m15 0h2m7 0h1m8 0h1m7 0h1m3 0h1m9 0h1m2 0h1m32 0h2m5 0h1m14 0h2m1 0h1m38 0h1m15 0h1m10 0h1m1 0h1m12 0h1m13 0h1m15 0h1m19 0h1m40 0h1m9 0h1m3 0h1m16 0h1m66 0h1m82 0h1M6 56.5h1m1 0h2m2 0h1m8 0h1m4 0h1m8 0h2m1 0h1m1 0h1m1 0h1m16 0h2m5 0h1m8 0h2m4 0h1m2 0h1m17 0h3m1 0h1m11 0h1m2 0h2m5 0h1m5 0h1m8 0h1m20 0h1m8 0h1m2 0h1m5 0h3m1 0h1m40 0h1m4 0h1m1 0h1m3 0h2m7 0h1m3 0h1m5 0h1m5 0h1m14 0h1m3 0h1m4 0h1m6 0h2m3 0h1m4 0h1m2 0h1m7 0h1m7 0h1m1 0h2m9 0h2m3 0h1m5 0h2m9 0h2m6 0h1m18 0h2m9 0h1m7 0h1m6 0h1m8 0h1m8 0h1m7 0h1m13 0h1m13 0h1m1 0h1m5 0h1m11 0h1m1 0h1m7 0h1m4 0h1m5 0h2m7 0h1m12 0h1m1 0h1m8 0h1m8 0h2m10 0h1m4 0h2m5 0h2m2 0h1m5 0h2m3 0h2m4 0h1m1 0h1m1 0h2m3 0h1m2 0h1m4 0h2m11 0h5m1 0h1m5 0h1m2 0h1m1 0h1m2 0h1m6 0h1m3 0h2m3 0h2m2 0h2m2 0h1m5 0h1m1 0h1m2 0h2m2 0h1m5 0h2m3 0h1m7 0h1m1 0h1m2 0h1m8 0h1m7 0h1m1 0h1m9 0h1m16 0h1m25 0h1m1 0h1m7 0h1m4 0h1m3 0h1m1 0h1m7 0h1m1 0h1m4 0h4m2 0h2m2 0h1m6 0h1m8 0h2m4 0h1m8 0h2m3 0h1m8 0h1m1 0h1m7 0h1m2 0h1m3 0h1m29 0h1m4 0h1m6 0h1m1 0h2m7 0h3m7 0h1m3 0h1m6 0h1m3 0h1m11 0h1m7 0h1m11 0h1m18 0h1m14 0h2m11 0h2m5 0h1m6 0h1M15 57.5h1m3 0h1m4 0h1m13 0h1m8 0h1m6 0h1m2 0h2m4 0h2m4 0h1m13 0h1m2 0h2m13 0h1m3 0h1m4 0h1m3 0h1m24 0h1m1 0h2m1 0h1m1 0h1m1 0h1m1 0h1m6 0h2m5 0h1m1 0h4m20 0h1m7 0h3m8 0h2m6 0h1m3 0h1m6 0h3m1 0h1m4 0h4m3 0h1m1 0h1m3 0h1m2 0h2m6 0h1m40 0h1m2 0h4m16 0h3m9 0h1m9 0h1m1 0h1m1 0h1m3 0h2m10 0h1m3 0h2m11 0h1m5 0h1m4 0h1m2 0h1m9 0h2m5 0h1m2 0h1m12 0h2m14 0h1m19 0h1m1 0h2m4 0h2m1 0h2m1 0h1m5 0h1m2 0h1m8 0h1m4 0h1m3 0h1m7 0h1m1 0h1m7 0h1m17 0h1m4 0h1m19 0h2m33 0h1m2 0h2m4 0h4m2 0h3m6 0h1m25 0h1m2 0h1m1 0h1m7 0h1m13 0h1m31 0h1m21 0h1m23 0h1m7 0h1m1 0h2m1 0h1m4 0h1m9 0h1m2 0h1m6 0h2m6 0h3m2 0h1m9 0h1m6 0h1m14 0h1m2 0h1m17 0h1m4 0h1m1 0h1m12 0h1m4 0h1m5 0h2m7 0h1m13 0h1m2 0h1m12 0h1m1 0h2m11 0h2m5 0h1m6 0h1m10 0h2m10 0h1m3 0h1m7 0h1m18 0h1m8 0h1m10 0h1m8 0h1m95 0h1"/>
<path stroke="#2C728E" d="M0 0.5h1m5 0h1m36 0h2m1 0h1m6 0h1m8 0h1m15 0h1m2 0h1m8 0h1m2 0h1m35 0h3m3 0h1m21 0h2m18 0h1m14 0h1m8 0h2m11 0h1m8 0h1m14 0h1m15 0h1m4 0h2m15 0h1m1 0h1m30 0h1m2 0h2m19 0h2m3 0h2m24 0h1m17 0h1m14 0h1m9 0h1m6 0h1m11 0h1m39 0h2m9 0h1m65 0h2m16 0h1m24 0h1m2 0h2m5 0h1m6 0h1m10 0h1m5 0h2m8 0h2m45 0h3m26 0h1m20 0h1m3 0h1m15 0h1m9 0h2m12 0h1m4 0h1m12 0h2m2 0h1m10 0h1m1 0h1m6 0h1m3 0h2m19 0h1m24 0h1m2 0h1m8 0h1m3 0h2m12 0h2m18 0h2m6 0h3m27 0h1m1 0h1m1 0h2m12 0h1m11 0h2m3 0h1m10 0h1m4 0h1m1 0h2m5 0h1m38 0h1m10 0h1m1 0h1m1 0h1m3 0h1m26 0h1m5 0h1m6 0h1m12 0h1m9 0h1m10 0h1m3 0h1m26 0h2m9 0h2m7 0h1M17 1.5h1m9 0h2m23 0h1m9 0h1m12 0h1m30 0h1m5 0h1m4 0h1m12 0h2m7 0h1m4 0h2m21 0h1m14 0h1m2 0h1m17 0h1m17 0h1m6 0h3m31 0h1m10 0h1m3 0h1m14 0h1m2 0h1m6 0h1m17 0h2m18 0h1m3 0h1m6 0h1m1 0h2m9 0h1m2 0h1m3 0h1m12 0h1m5 0h1m14 0h4m1 0h3m3 0h1m6 0h1m6 0h1m17 0h1m3 0h1m2 0h1m3 0h1m8 0h1m18 0h1m3 0h1m5 0h1m8 0h1m40 0h1m20 0h1m2 0h1m2 0h1m5 0h1m10 0h1m4 0h1m4 0h1m6 0h2m5 0h1m1 0h3m6 0h1m2 0h1m6 0h1m9 0h1m3 0h2m1 0h1m4 0h1m1 0h2m10 0h1m3 0h1m31 0h1m1 0h1m2 0h2m4 0h1m2 0h1m2 0h1m1 0h1m21 0h1m15 0h1m18 0h1m9 0h1m20 0h1m2 0h1m38 0h1m19 0h1m12 0h1m10 0h1m5 0h1m1 0h1m9 0h1m31 0h1m6 0h2m5 0h1m13 0h1m19 0h1m1 0h1m5 0h1m23 0h1m15 0h1m31 0h1m2 0h2m13 0h1m7 0h1m10 0h1m6 0h1m9 0h1m16 0h1m14 0h1m10 0h1m6 0h1M4 2.5h2m4 0h1m1 0h1m2 0h1m11 0h2m16 0h1m12 0h1m1 0h2m1 0h1m6 0h1m1 0h2m1 0h1m10 0h1m7 0h1m4 0h1m5 0h1m12 0h1m11 0h1m5 0h2m8 0h1m1 0h1m4 0h1m4 0h1m22 0h1m5 0h1m4 0h1m13 0h1m10 0h1m1 0h1m3 0h1m16 0h1m6 0h1m10 0h1m19 0h2m6 0h1m2 0h1m6 0h1m22 0h1m14 0h1m7 0h1m4 0h1m20 0h1m6 0h1m27 0h1m7 0h1m3 0h1m7 0h1m6 0h1m17 0h1m6 0h1m19 0h1m11 0h1m45 0h1m2 0h2m2 0h1m1 0h1m5 0h1m43 0h2m20 0h2m6 0h1m14 0h1m6 0h1m5 0h1m4 0h2m22 0h1m30 0h1m16 0h1m41 0h1m10 0h1m1 0h1m15 0h3m32 0h1m20 0h1m14 0h1m8 0h1m9 0h1m5 0h1m8 0h1m15 0h2m5 0h1m8 0h1m1 0h1m17 0h1m4 0h1m1 0h4m25 0h1m1 0h1m6 0h1m20 0h1m5 0h1m19 0h1m64 0h1m2 0h1m18 0h3m5 0h1m9 0h1m5 0h2m8 0h1m9 0h1m4 0h2M83 3.5h1m35 0h2m24 0h1m44 0h1m24 0h2m4 0h2m23 0h1m11 0h2m1 0h3m7 0h1m16 0h2m42 0h2m12 0h1m1 0h1m3 0h2m5 0h2m2 0h1m3 0h1m29 0h2m4 0h2m2 0h1m23 0h1m5 0h1m5 0h1m18 0h1m23 0h1m2 0h2m9 0h1m5 0h1m21 0h1m12 0h1m14 0h2m17 0h1m24 0h1m3 0h1m3 0h1m26 0h1m6 0h1m12 0h1m5 0h2m4 0h1m16 0h1m5 0h1m23 0h2m3 0h1m20 0h1m28 0h1m4 0h1m16 0h3m21 0h1m1 0h1m9 0h1m36 0h1m11 0h1m1 0h1m1 0h1m2 0h1m19 0h1m25 0h3m10 0h1m1 0h1m58 0h1m3 0h3m2 0h2m11 0h1m1 0h1m4 0h1m4 0h3m1 0h1m6 0h2m25 0h1m2 0h1m2 0h1m2 0h1m3 0h1m10 0h1m23 0h1m5 0h1m20 0h1m2 0h1m4 0h1m16 0h1m11 0h1m8 0h1M51 4.5h2m2 0h2m25 0h1m28 0h1m107 0h1m43 0h1m67 0h1m54 0h1m24 0h1m9 0h1m6 0h1m2 0h1m17 0h1m37 0h1m14 0h1m3 0h1m10 0h2m12 0h1m1 0h1m2 0h1m1 0h2m20 0h1m19 0h1m40 0h1m10 0h1m1 0h1m7 0h3m37 0h1m14 0h2m18 0h1m10 0h1m3 0h1m5 0h1m1 0h1m11 0h1m18 0h1m39 0h1m7 0h1m3 0h1m3 0h1m1 0h1m8 0h2m9 0h1m6 0h1m1 0h1m6 0h3m3 0h1m3 0h2m7 0h1m6 0h1m1 0h1m7 0h1m7 0h1m2 0h1M38 5.5h1m44 0h1m4 0h1m30 0h1m6 0h3m5 0h2m105 0h1m5 0h1m2 0h1m13 0h1m3 0h1m1 0h2m7 0h1m21 0h1m4 0h1m21 0h1m3 0h1m2 0h2m26 0h1m5 0h2m12 0h2m2 0h1m5 0h2m28 0h1m9 0h1m8 0h1m14 0h1m6 0h2m1 0h2m2 0h2m1 0h1m6 0h1m4 0h1m7 0h1m23 0h1m38 0h2m1 0h1m14 0h2m6 0h1m19 0h2m28 0h1m7 0h1m2 0h1m17 0h1m6 0h1m5 0h1m2 0h1m19 0h1m1 0h1m3 0h1m20 0h1m6 0h1m13 0h1m27 0h1m1 0h1m12 0h1m1 0h1m12 0h2m2 0h1m1 0h1m2 0h2m3 0h1m9 0h2m6 0h3m14 0h2m2 0h1m31 0h1m4 0h1m2 0h1m8 0h2m4 0h1m6 0h1m1 0h1m4 0h2m9 0h1m6 0h2m1 0h1m3 0h2m3 0h2m2 0h1m11 0h1m4 0h1m16 0h1m21 0h1m17 0h1m2 0h1m27 0h2m3 0h1m2 0h1m5 0h1m10 0h2m10 0h1m9 0h2m2 0h1m18 0h1m14 0h3m8 0h2m2 0h1m3 0h1m11 0h1m7 0h1m3 0h1m2 0h1M10 6.5h1m19 0h1m164 0h1m7 0h1m11 0h1m1 0h1m23 0h1m5 0h1m12 0h1m16 0h1m16 0h1m12 0h2m26 0h3m7 0h2m12 0h1m1 0h1m26 0h1m1 0h2m11 0h1m5 0h2m23 0h2m13 0h1m10 0h1m13 0h1m6 0h1m24 0h1m2 0h1m7 0h1m6 0h1m31 0h2m1 0h1m4 0h3m10 0h2m7 0h1m3 0h2m20 0h1m4 0h1m6 0h2m2 0h1m6 0h2m6 0h1m19 0h1m2 0h2m3 0h1m3 0h1m4 0h2m14 0h1m8 0h1m10 0h1m17 0h1m3 0h1m12 0h1m5 0h1m8 0h1m3 0h1m4 0h1m12 0h1m28 0h1m5 0h2m21 0h2m15 0h1m11 0h1m16 0h1m18 0h1m4 0h1m1 0h3m12 0h1m6 0h2m7 0h1m5 0h1m8 0h1m9 0h1m4 0h1m14 0h1m48 0h1m14 0h1m20 0h1m8 0h1m1 0h1m7 0h1m13 0h2m1 0h1m8 0h1m5 0h1m7 0h1m2 0h1m4 0h1m13 0h3m1 0h1m13 0h1m13 0h1M32 7.5h1m28 0h2m24 0h1m3 0h1m52 0h1m4 0h1m83 0h1m11 0h1m14 0h1m1 0h2m11 0h1m1 0h1m8 0h1m15 0h1m4 0h1m9 0h2m38 0h1m5 0h1m9 0h1m4 0h1m3 0h1m3 0h1m5 0h2m42 0h1m5 0h1m25 0h1m1 0h2m1 0h2m5 0h1m7 0h3m6 0h1m9 0h1m3 0h1m19 0h1m8 0h1m5 0h1m6 0h2m7 0h1m1 0h1m2 0h1m17 0h1m24 0h3m2 0h1m23 0h2m3 0h2m4 0h3m7 0h2m6 0h1m11 0h1m10 0h1m1 0h1m2 0h1m1 0h1m6 0h1m8 0h1m1 0h1m18 0h2m2 0h1m1 0h1m3 0h1m38 0h2m1 0h2m13 0h1m1 0h2m5 0h1m9 0h2m7 0h3m4 0h2m13 0h1m12 0h1m1 0h1m1 0h2m2 0h1m4 0h1m2 0h1m8 0h1m16 0h1m4 0h1m16 0h1m6 0h2m3 0h1m5 0h1m14 0h2m15 0h1m15 0h2m1 0h1m38 0h1m1 0h1m14 0h1m15 0h1m3 0h1m14 0h2m6 0h1m6 0h4m8 0h1m1 0h1m1 0h1m19 0h1m3 0h1m13 0h1m13 0h1M8 8.5h1m27 0h1m21 0h1m10 0h1m9 0h1m9 0h1m27 0h1m6 0h1m17 0h2m7 0h1m4 0h1m20 0h1m3 0h1m15 0h1m18 0h2m3 0h1m2 0h1m39 0h1m19 0h1m61 0h1m19 0h1m14 0h1m22 0h1m7 0h1m38 0h1m34 0h1m9 0h1m22 0h1m42 0h2m29 0h1m12 0h2m1 0h1m20 0h1m2 0h1m7 0h1m11 0h1m3 0h1m6 0h1m5 0h1m21 0h1m3 0h2m3 0h1m10 0h1m11 0h2m1 0h1m6 0h1m1 0h1m24 0h1m14 0h1m25 0h1m3 0h1m2 0h1m5 0h2m7 0h1m18 0h3m1 0h1m7 0h2m13 0h2m10 0h1m19 0h1m16 0h2m37 0h1m3 0h1m7 0h1m3 0h1m8 0h1m28 0h2m18 0h3m17 0h2m52 0h1m15 0h2m8 0h1m7 0h1m35 0h1M8 9.5h1m18 0h1m8 0h1m7 0h1m25 0h1m22 0h2m1 0h1m11 0h1m11 0h2m1 0h1m2 0h1m8 0h1m8 0h2m1 0h1m4 0h1m4 0h1m8 0h1m17 0h1m13 0h2m9 0h1m10 0h1m47 0h1m7 0h1m30 0h1m3 0h1m10 0h1m7 0h2m23 0h1m30 0h1m12 0h1m3 0h1m8 0h1m23 0h1m15 0h1m35 0h1m1 0h2m12 0h3m1 0h1m14 0h1m11 0h1m2 0h1m14 0h1m30 0h2m15 0h1m7 0h1m7 0h1m9 0h1m8 0h1m1 0h1m9 0h1m12 0h2m6 0h2m9 0h2m23 0h2m3 0h1m10 0h1m10 0h1m20 0h1m7 0h1m7 0h1m6 0h1m19 0h1m7 0h1m9 0h1m6 0h1m25 0h1m1 0h1m10 0h1m2 0h1m4 0h1m7 0h1m38 0h2m11 0h1m40 0h1m17 0h1m3 0h1m1 0h1m10 0h1m4 0h4m12 0h1m8 0h2m6 0h1m4 0h1m7 0h1m14 0h1m37 0h2m13 0h1m27 0h1m3 0h1m6 0h1m9 0h1m7 0h2m3 0h2m10 0h1M1 10.5h1m34 0h1m6 0h1m17 0h1m9 0h1m4 0h1m2 0h1m14 0h3m14 0h1m29 0h4m2 0h1m9 0h2m19 0h1m3 0h1m3 0h1m44 0h1m98 0h1m19 0h1m19 0h1m30 0h1m2 0h1m1 0h1m29 0h1m32 0h1m5 0h3m10 0h2m6 0h2m5 0h1m3 0h1m6 0h1m10 0h1m19 0h1m15 0h1m18 0h2m9 0h1m18 0h1m23 0h3m4 0h2m15 0h2m12 0h1m8 0h1m11 0h1m15 0h1m13 0h1m22 0h1m1 0h2m12 0h1m29 0h1m3 0h1m3 0h1m59 0h1m5 0h2m26 0h1m21 0h1m6 0h2m8 0h1m10 0h1m5 0h1m7 0h1m3 0h1m4 0h1m1 0h1m2 0h1m16 0h1m5 0h1m5 0h1m6 0h1m12 0h1m4 0h1m2 0h1m25 0h1m6 0h1m5 0h1m11 0h3m9 0h1m18 0h1m4 0h1m23 0h1m25 0h1m3 0h1m7 0h1m1 0h1m4 0h2m7 0h4M32 11.5h1m7 0h2m12 0h1m13 0h2m2 0h1m13 0h1m4 0h1m8 0h1m1 0h1m21 0h1m10 0h1m7 0h1m6 0h1m15 0h4m2 0h1m10 0h2m2 0h1m5 0h1m78 0h1m30 0h2m13 0h1m5 0h1m2 0h1m4 0h1m5 0h1m19 0h1m14 0h1m8 0h1m3 0h1m2 0h2m8 0h1m2 0h1m6 0h1m1 0h2m1 0h2m10 0h1m33 0h1m1 0h1m3 0h2m11 0h1m1 0h1m1 0h1m20 0h2m25 0h2m10 0h2m5 0h1m13 0h1m8 0h1m2 0h1m3 0h2m1 0h1m2 0h1m8 0h1m1 0h2m6 0h1m39 0h1m15 0h1m1 0h2m3 0h1m16 0h1m5 0h5m5 0h3m7 0h1m25 0h1m6 0h2m8 0h1m2 0h1m4 0h1m12 0h1m7 0h1m5 0h1m15 0h1m12 0h1m10 0h1m47 0h1m40 0h1m2 0h1m5 0h1m64 0h3m1 0h2m2 0h1m6 0h1m1 0h1m1 0h1m14 0h1m2 0h3m8 0h1m22 0h2m5 0h1m13 0h1m14 0h1m2 0h1m1 0h1m22 0h1m8 0h1m9 0h1m8 0h1m8 0h1m4 0h1m1 0h1m2 0h1m7 0h1m2 0h1m1 0h1m1 0h1M1 12.5h2m2 0h1m28 0h1m13 0h2m8 0h1m13 0h3m31 0h1m15 0h1m1 0h1m4 0h1m13 0h1m2 0h1m2 0h1m11 0h1m4 0h1m4 0h3m6 0h1m16 0h1m5 0h1m13 0h1m8 0h1m10 0h1m12 0h2m2 0h1m7 0h1m11 0h2m24 0h1m25 0h1m2 0h2m30 0h1m1 0h2m3 0h4m4 0h1m9 0h1m13 0h1m3 0h1m31 0h1m1 0h2m8 0h1m5 0h1m5 0h1m19 0h2m3 0h2m16 0h1m11 0h1m22 0h1m37 0h1m3 0h3m2 0h1m10 0h1m3 0h1m1 0h1m9 0h1m1 0h1m20 0h1m17 0h1m12 0h1m10 0h1m1 0h2m30 0h1m6 0h1m25 0h1m25 0h1m5 0h1m38 0h2m26 0h1m7 0h1m22 0h2m48 0h1m12 0h1m2 0h1m1 0h3m39 0h2m28 0h1m2 0h1m5 0h1m1 0h1m19 0h1m13 0h2m6 0h1m24 0h1m4 0h1m4 0h1m2 0h1m4 0h1m9 0h1m18 0h1m10 0h1m10 0h1m2 0h1m2 0h1m17 0h1m7 0h1M9 13.5h1m5 0h2m11 0h1m20 0h3m1 0h1m16 0h2m32 0h1m9 0h1m4 0h1m16 0h5m6 0h1m18 0h1m5 0h2m1 0h1m36 0h1m15 0h1m1 0h2m37 0h1m8 0h1m9 0h1m13 0h1m3 0h1m60 0h1m3 0h1m7 0h2m9 0h1m20 0h1m3 0h1m6 0h2m6 0h1m53 0h1m10 0h1m14 0h2m16 0h1m9 0h1m7 0h1m5 0h1m9 0h1m4 0h1m12 0h1m21 0h1m4 0h1m1 0h1m3 0h1m3 0h1m3 0h1m7 0h1m9 0h1m3 0h2m21 0h1m16 0h3m15 0h1m5 0h1m10 0h1m2 0h1m28 0h1m3 0h1m22 0h1m17 0h1m52 0h1m7 0h1m63 0h1m14 0h3m2 0h1m6 0h1m5 0h1m9 0h1m6 0h1m8 0h1m38 0h1m3 0h1m4 0h1m30 0h1m4 0h1m2 0h2m9 0h1m3 0h1m6 0h1m3 0h1m14 0h1m2 0h1m2 0h1m7 0h1m20 0h1m14 0h4m5 0h1m5 0h2m1 0h1m7 0h1m11 0h2M12 14.5h1m2 0h2m1 0h1m19 0h2m5 0h3m9 0h1m21 0h1m4 0h1m10 0h1m3 0h1m7 0h1m2 0h1m3 0h1m18 0h1m2 0h1m6 0h2m1 0h1m19 0h1m10 0h1m2 0h1m5 0h1m3 0h1m39 0h1m34 0h1m2 0h2m6 0h1m6 0h1m8 0h1m16 0h3m10 0h1m2 0h1m19 0h1m5 0h2m11 0h1m24 0h1m29 0h1m44 0h1m9 0h2m12 0h1m1 0h2m2 0h1m1 0h1m5 0h1m30 0h1m1 0h1m9 0h1m21 0h1m25 0h1m23 0h1m35 0h1m14 0h1m25 0h1m10 0h1m12 0h1m6 0h1m100 0h1m7 0h1m32 0h1m21 0h1m15 0h1m16 0h1m7 0h1m1 0h1m3 0h4m22 0h1m18 0h1m5 0h1m3 0h1m26 0h1m30 0h1m17 0h2m2 0h1m10 0h1m15 0h1m24 0h1m15 0h1m3 0h1m2 0h1m5 0h1m4 0h1m2 0h1m12 0h1m1 0h1m8 0h1M26 15.5h1m10 0h2m1 0h1m6 0h2m8 0h1m2 0h2m26 0h1m15 0h1m5 0h1m4 0h1m18 0h1m16 0h1m20 0h1m3 0h2m10 0h1m4 0h2m4 0h1m14 0h2m3 0h1m4 0h2m6 0h1m19 0h1m2 0h1m23 0h1m8 0h1m1 0h1m4 0h1m6 0h1m4 0h1m13 0h1m40 0h1m21 0h1m6 0h4m3 0h1m6 0h1m2 0h1m3 0h1m1 0h1m5 0h1m7 0h2m9 0h1m13 0h2m1 0h1m1 0h1m10 0h1m37 0h1m10 0h1m4 0h1m10 0h1m12 0h1m19 0h1m13 0h1m23 0h1m22 0h1m3 0h1m4 0h2m2 0h1m6 0h1m15 0h1m3 0h2m9 0h2m15 0h2m9 0h1m5 0h1m1 0h1m6 0h1m6 0h2m15 0h2m25 0h1m10 0h2m12 0h1m3 0h1m44 0h2m1 0h1m5 0h1m1 0h1m4 0h1m5 0h1m4 0h2m20 0h3m8 0h3m26 0h1m12 0h2m15 0h1m23 0h1m5 0h1m20 0h1m7 0h3m9 0h1m14 0h1m39 0h1m2 0h1m1 0h1m4 0h1m15 0h1m1 0h1m2 0h3m7 0h1m43 0h1m19 0h1M16 16.5h1m29 0h1m18 0h1m2 0h1m17 0h2m13 0h1m19 0h2m50 0h1m37 0h1m17 0h1m43 0h1m11 0h1m28 0h1m32 0h1m10 0h1m6 0h1m10 0h1m2 0h1m9 0h1m3 0h1m6 0h1m28 0h1m81 0h1m5 0h1m8 0h1m1 0h1m3 0h1m25 0h1m47 0h1m51 0h2m14 0h1m54 0h1m16 0h1m7 0h1m3 0h1m73 0h1m10 0h1m6 0h1m6 0h1m32 0h1m34 0h1m5 0h1m2 0h1m71 0h1m21 0h1m4 0h1m4 0h1m3 0h1m59 0h1m1 0h1M58 17.5h1m40 0h1m3 0h1m21 0h1m15 0h1m3 0h2m61 0h3m16 0h2m7 0h2m1 0h1m18 0h1m10 0h1m19 0h1m3 0h1m53 0h1m84 0h1m37 0h1m46 0h1m12 0h2m21 0h1m4 0h1m32 0h1m1 0h1m1 0h1m4 0h1m9 0h1m63 0h1m62 0h2m93 0h1m83 0h1m8 0h1m1 0h1m58 0h1m19 0h1m8 0h1m26 0h1m36 0h1m8 0h1m47 0h1m28 0h1M63 18.5h1m4 0h3m16 0h1m5 0h1m12 0h2m11 0h1m5 0h1m8 0h1m9 0h1m12 0h2m40 0h1m1 0h2m3 0h2m1 0h1m43 0h1m1 0h1m13 0h1m1 0h1m19 0h1m5 0h1m4 0h1m4 0h1m3 0h2m11 0h1m8 0h1m8 0h1m63 0h1m18 0h1m10 0h1m6 0h1m8 0h2m1 0h1m5 0h1m8 0h1m43 0h1m12 0h1m3 0h1m9 0h1m4 0h1m2 0h1m3 0h1m1 0h1m8 0h1m4 0h1m5 0h1m4 0h1m2 0h1m4 0h1m13 0h1m4 0h1m8 0h1m2 0h1m5 0h1m5 0h1m4 0h1m12 0h1m27 0h2m2 0h1m4 0h2m35 0h2m7 0h1m12 0h1m25 0h1m14 0h1m6 0h1m3 0h2m6 0h1m6 0h1m15 0h2m7 0h1m11 0h1m17 0h1m3 0h1m1 0h1m8 0h1m3 0h1m18 0h1m2 0h1m3 0h1m17 0h2m8 0h1m7 0h1m26 0h1m3 0h1m17 0h1m3 0h2m54 0h1m10 0h1m14 0h1m2 0h1m21 0h2m3 0h1m10 0h1m4 0h1m15 0h1m20 0h3m13 0h2m2 0h1M29 19.5h1m4 0h1m21 0h1m36 0h1m13 0h1m19 0h2m8 0h1m11 0h1m1 0h1m11 0h1m7 0h2m3 0h1m7 0h1m11 0h1m2 0h1m10 0h1m7 0h2m9 0h1m3 0h1m8 0h1m2 0h1m4 0h1m3 0h2m4 0h1m5 0h2m2 0h1m2 0h1m17 0h2m2 0h1m8 0h1m8 0h1m12 0h1m3 0h1m4 0h1m15 0h2m1 0h1m4 0h1m12 0h1m3 0h1m15 0h2m11 0h1m24 0h1m44 0h2m6 0h2m11 0h1m20 0h1m2 0h1m2 0h1m9 0h1m7 0h1m6 0h1m23 0h1m6 0h1m3 0h1m7 0h1m29 0h1m22 0h1m1 0h1m12 0h1m7 0h1m3 0h1m4 0h1m8 0h1m45 0h1m3 0h1m4 0h1m2 0h1m9 0h2m3 0h1m7 0h1m12 0h1m2 0h1m10 0h1m9 0h2m1 0h3m24 0h1m23 0h1m10 0h1m20 0h1m6 0h1m1 0h1m7 0h1m8 0h1m12 0h1m8 0h1m15 0h1m7 0h1m7 0h1m17 0h1m15 0h1m8 0h1m3 0h1m6 0h1m26 0h1m12 0h1m1 0h1m28 0h1m13 0h1m16 0h1m8 0h1m17 0h1m19 0h2m3 0h1m9 0h2M4 20.5h1m16 0h1m2 0h2m5 0h1m5 0h1m1 0h4m18 0h1m4 0h3m10 0h1m10 0h1m21 0h1m5 0h1m2 0h1m6 0h5m2 0h1m18 0h1m9 0h2m2 0h1m6 0h1m2 0h1m1 0h1m12 0h1m8 0h1m1 0h1m4 0h1m13 0h2m11 0h1m1 0h1m11 0h1m1 0h1m21 0h1m22 0h1m3 0h1m8 0h1m3 0h1m1 0h1m13 0h1m32 0h1m17 0h1m15 0h1m39 0h1m8 0h2m22 0h1m8 0h1m3 0h1m23 0h1m8 0h1m3 0h1m16 0h1m1 0h1m8 0h1m3 0h1m21 0h1m1 0h1m6 0h2m5 0h1m13 0h1m15 0h1m6 0h1m32 0h1m15 0h2m18 0h1m9 0h1m6 0h1m7 0h2m24 0h1m4 0h1m14 0h1m3 0h1m1 0h3m27 0h1m8 0h1m9 0h2m3 0h2m33 0h1m2 0h1m5 0h1m4 0h1m10 0h1m1 0h1m8 0h1m5 0h1m4 0h1m6 0h2m15 0h1m16 0h1m15 0h1m18 0h1m17 0h1m14 0h1m6 0h2m5 0h1m8 0h1m6 0h1m13 0h2m17 0h1m18 0h1m31 0h1m11 0h1m3 0h1m1 0h1m2 0h2m2 0h1M3 21.5h1m7 0h1m2 0h1m18 0h1m7 0h1m12 0h1m4 0h1m4 0h1m7 0h1m3 0h1m11 0h1m13 0h1m1 0h1m10 0h1m14 0h2m5 0h3m1 0h2m16 0h1m4 0h1m8 0h1m21 0h1m1 0h1m11 0h2m3 0h1m2 0h1m4 0h1m24 0h4m1 0h1m16 0h1m6 0h1m8 0h1m1 0h1m10 0h1m2 0h1m14 0h1m5 0h1m10 0h1m5 0h1m2 0h1m26 0h1m1 0h1m2 0h1m16 0h1m9 0h1m60 0h1m2 0h1m25 0h2m1 0h1m2 0h1m10 0h1m13 0h1m14 0h1m19 0h1m20 0h1m32 0h1m7 0h1m3 0h1m1 0h1m4 0h1m6 0h1m11 0h1m4 0h1m7 0h1m20 0h1m8 0h1m7 0h1m10 0h3m7 0h1m4 0h1m42 0h1m2 0h1m20 0h1m1 0h1m2 0h1m25 0h2m4 0h1m2 0h2m32 0h1m1 0h1m23 0h1m19 0h2m6 0h1m3 0h2m2 0h2m8 0h2m12 0h1m6 0h1m1 0h2m8 0h1m7 0h1m5 0h1m3 0h1m34 0h1m9 0h1m9 0h1m8 0h1m11 0h1m8 0h1m16 0h1m3 0h1m14 0h1m9 0h1m11 0h1m4 0h1m3 0h2m2 0h1m9 0h2m16 0h1m3 0h1m1 0h1M80 22.5h1m59 0h1m3 0h1m2 0h1m2 0h3m31 0h1m4 0h2m1 0h2m5 0h1m10 0h1m3 0h1m1 0h1m23 0h1m9 0h1m15 0h1m1 0h2m40 0h1m27 0h1m1 0h1m16 0h1m18 0h1m14 0h1m8 0h1m117 0h1m11 0h1m4 0h1m3 0h2m4 0h1m13 0h2m15 0h1m5 0h1m8 0h2m5 0h1m13 0h1m32 0h1m47 0h1m12 0h1m1 0h1m22 0h2m1 0h2m23 0h1m1 0h1m9 0h1m1 0h2m9 0h1m4 0h2m1 0h1m2 0h1m7 0h2m12 0h1m7 0h1m27 0h1m3 0h1m2 0h1m1 0h1m2 0h1m1 0h2m3 0h1m12 0h1m15 0h1m7 0h1m1 0h1m1 0h1m11 0h1m22 0h1m1 0h1m3 0h2m19 0h1m1 0h1m2 0h1m26 0h1m1 0h1m4 0h1m8 0h1m7 0h2m5 0h1m3 0h1m21 0h2m8 0h2m5 0h1m2 0h1m10 0h1m30 0h1m4 0h1m20 0h2m1 0h1m5 0h1m7 0h1m9 0h1m13 0h1M0 23.5h1m24 0h1m5 0h2m2 0h1m1 0h1m3 0h1m9 0h1m4 0h2m2 0h1m5 0h1m8 0h1m18 0h1m23 0h1m50 0h1m5 0h1m6 0h2m1 0h1m8 0h1m40 0h1m11 0h1m9 0h1m14 0h1m25 0h2m5 0h1m3 0h1m11 0h2m6 0h1m13 0h1m12 0h1m9 0h1m9 0h1m7 0h1m33 0h1m3 0h1m2 0h3m9 0h3m4 0h1m33 0h3m4 0h1m17 0h1m7 0h1m11 0h1m13 0h1m13 0h1m38 0h2m9 0h1m1 0h1m5 0h1m4 0h1m19 0h1m1 0h1m12 0h1m25 0h2m6 0h1m14 0h1m24 0h1m21 0h1m1 0h1m5 0h1m16 0h1m2 0h1m16 0h2m1 0h5m50 0h2m31 0h1m15 0h1m4 0h1m4 0h2m11 0h1m10 0h1m16 0h1m5 0h2m1 0h1m14 0h1m3 0h1m9 0h3m12 0h1m5 0h1m3 0h1m16 0h2m11 0h2m17 0h1m10 0h1m16 0h1m4 0h1m6 0h1m5 0h1m17 0h1m5 0h1m4 0h1m5 0h1m11 0h1m5 0h1m11 0h1m10 0h2m8 0h2M0 24.5h1m4 0h1m2 0h1m31 0h1m8 0h1m30 0h1m16 0h4m12 0h1m14 0h1m1 0h1m2 0h1m4 0h1m3 0h1m15 0h1m15 0h1m17 0h3m10 0h1m106 0h1m1 0h1m9 0h1m1 0h1m31 0h1m6 0h1m27 0h2m12 0h1m47 0h1m9 0h1m8 0h1m2 0h1m2 0h1m19 0h1m3 0h1m6 0h1m9 0h2m1 0h1m17 0h1m92 0h1m1 0h1m23 0h1m4 0h1m19 0h1m19 0h1m17 0h1m12 0h1m5 0h1m19 0h1m60 0h2m4 0h1m20 0h1m8 0h1m15 0h1m6 0h1m28 0h2m3 0h1m16 0h1m16 0h1m9 0h1m9 0h2m1 0h1m7 0h3m4 0h1m13 0h1m24 0h1m6 0h1m8 0h1m15 0h1m1 0h1m39 0h1m9 0h1m13 0h1m11 0h1m5 0h2m12 0h2m17 0h2m5 0h1M2 25.5h1m30 0h1m5 0h1m4 0h1m15 0h1m21 0h2m7 0h2m1 0h1m4 0h2m5 0h1m1 0h1m15 0h3m22 0h1m3 0h1m3 0h1m8 0h1m2 0h2m26 0h1m63 0h1m16 0h1m39 0h1m10 0h1m8 0h2m1 0h1m16 0h1m3 0h1m4 0h1m1 0h2m15 0h1m12 0h1m11 0h4m2 0h1m9 0h2m9 0h1m3 0h1m4 0h1m8 0h1m3 0h1m6 0h1m4 0h1m2 0h1m34 0h1m16 0h1m9 0h1m5 0h2m8 0h1m3 0h1m49 0h1m2 0h1m60 0h1m14 0h1m29 0h1m3 0h1m1 0h1m13 0h1m14 0h1m5 0h3m4 0h1m5 0h1m9 0h1m2 0h1m8 0h1m1 0h1m3 0h1m4 0h1m13 0h1m19 0h1m16 0h1m13 0h1m2 0h1m3 0h1m1 0h1m5 0h1m4 0h2m6 0h1m24 0h1m3 0h1m29 0h1m1 0h2m6 0h1m17 0h1m7 0h1m24 0h1m9 0h1m1 0h2m9 0h1m16 0h1m6 0h1m12 0h1m5 0h1m23 0h2m9 0h1m1 0h1m3 0h1m15 0h2m2 0h1m3 0h1m10 0h1m5 0h2m9 0h1m1 0h1M18 26.5h2m9 0h2m1 0h1m16 0h1m3 0h2m3 0h1m1 0h2m12 0h2m1 0h1m2 0h1m12 0h1m2 0h1m4 0h2m8 0h1m1 0h1m15 0h2m22 0h2m2 0h1m1 0h1m10 0h1m5 0h3m1 0h1m3 0h1m1 0h1m3 0h1m3 0h1m72 0h1m58 0h2m9 0h1m6 0h1m2 0h1m1 0h1m12 0h1m19 0h1m16 0h1m3 0h1m14 0h1m3 0h2m1 0h1m2 0h1m9 0h1m25 0h1m15 0h2m1 0h1m40 0h1m55 0h1m47 0h1m48 0h1m2 0h1m4 0h2m6 0h2m6 0h2m9 0h2m8 0h1m14 0h1m9 0h1m10 0h1m1 0h1m2 0h1m14 0h1m5 0h1m5 0h1m18 0h1m10 0h1m16 0h1m2 0h1m2 0h1m39 0h1m17 0h1m1 0h1m8 0h1m33 0h2m13 0h1m8 0h1m11 0h2m10 0h1m26 0h1m4 0h1m7 0h1m1 0h1m13 0h2m2 0h1m5 0h1m13 0h1m19 0h1m10 0h1m11 0h1m2 0h1m5 0h1m19 0h1m4 0h1m3 0h1m6 0h1M0 27.5h1m10 0h1m5 0h2m3 0h1m20 0h2m4 0h1m23 0h1m10 0h1m13 0h1m11 0h1m14 0h1m30 0h1m28 0h1m9 0h1m26 0h1m7 0h1m68 0h1m1 0h1m4 0h1m7 0h1m4 0h1m11 0h4m5 0h2m3 0h1m13 0h1m37 0h1m11 0h1m13 0h1m4 0h1m24 0h1m12 0h1m2 0h1m1 0h1m3 0h2m29 0h1m47 0h2m12 0h1m3 0h1m20 0h2m25 0h1m101 0h1m11 0h1m11 0h1m3 0h1m5 0h1m5 0h1m5 0h2m8 0h1m8 0h1m4 0h1m8 0h1m33 0h1m10 0h1m19 0h1m5 0h1m4 0h1m5 0h2m1 0h1m35 0h2m15 0h1m4 0h1m23 0h1m16 0h1m1 0h1m17 0h1m2 0h3m18 0h2m12 0h1m9 0h1m7 0h1m19 0h2m7 0h1m10 0h1m3 0h2m32 0h3m2 0h1m11 0h1m2 0h1M5 28.5h1m31 0h1m1 0h1m4 0h1m1 0h1m6 0h1m19 0h2m12 0h1m8 0h1m11 0h3m1 0h3m31 0h1m2 0h1m9 0h1m13 0h1m17 0h1m1 0h1m3 0h1m24 0h1m65 0h1m10 0h1m16 0h1m6 0h1m2 0h1m4 0h1m14 0h2m10 0h1m34 0h1m17 0h2m18 0h1m3 0h1m16 0h2m1 0h1m1 0h2m10 0h1m11 0h1m65 0h1m64 0h1m26 0h1m8 0h1m49 0h1m19 0h1m2 0h1m9 0h1m11 0h3m7 0h1m4 0h2m2 0h1m5 0h1m9 0h1m1 0h1m26 0h1m7 0h2m14 0h1m2 0h2m30 0h2m16 0h1m10 0h2m9 0h1m4 0h2m6 0h1m28 0h1m15 0h1m7 0h2m3 0h1m22 0h1m6 0h1m6 0h1m12 0h2m7 0h1m4 0h1m14 0h1m21 0h1m30 0h1m7 0h2m46 0h1m13 0h1m7 0h1m4 0h1m1 0h2m1 0h1M4 29.5h1m20 0h1m3 0h2m2 0h1m22 0h1m13 0h1m6 0h1m2 0h2m11 0h3m2 0h1m2 0h1m5 0h1m12 0h1m20 0h1m17 0h1m3 0h1m25 0h2m27 0h2m28 0h1m39 0h1m15 0h4m1 0h1m5 0h1m4 0h1m1 0h1m5 0h1m1 0h1m2 0h1m1 0h1m4 0h1m1 0h1m1 0h2m1 0h1m14 0h1m19 0h1m14 0h1m20 0h2m26 0h1m11 0h1m3 0h1m1 0h1m67 0h1m6 0h1m10 0h1m5 0h1m170 0h2m6 0h1m38 0h2m6 0h1m8 0h1m16 0h1m1 0h1m8 0h1m7 0h1m18 0h1m11 0h1m11 0h1m7 0h1m6 0h1m22 0h1m3 0h1m5 0h1m10 0h1m9 0h1m9 0h1m6 0h2m1 0h1m31 0h1m4 0h2m26 0h1m4 0h1m13 0h1m3 0h1m9 0h1m24 0h2m16 0h1m11 0h1m5 0h1m2 0h2m2 0h2m19 0h1m6 0h1M14 30.5h2m13 0h2m19 0h1m2 0h1m4 0h1m19 0h2m5 0h1m4 0h2m4 0h2m1 0h1m5 0h3m4 0h2m19 0h1m1 0h1m9 0h1m5 0h2m2 0h2m1 0h1m18 0h1m2 0h2m31 0h2m16 0h1m34 0h3m4 0h1m36 0h1m7 0h1m3 0h1m1 0h1m7 0h1m10 0h1m22 0h3m11 0h1m7 0h2m29 0h1m5 0h1m1 0h1m5 0h1m2 0h1m2 0h1m1 0h1m3 0h1m5 0h1m13 0h2m4 0h2m1 0h2m57 0h1m13 0h1m20 0h1m18 0h1m127 0h1m12 0h1m15 0h1m5 0h1m7 0h1m12 0h1m3 0h1m3 0h1m6 0h1m1 0h1m5 0h1m3 0h1m29 0h1m18 0h1m2 0h2m16 0h1m10 0h1m8 0h1m1 0h1m6 0h2m8 0h1m6 0h1m2 0h1m15 0h1m3 0h1m4 0h1m1 0h2m5 0h1m10 0h1m10 0h1m10 0h1m14 0h1m3 0h1m6 0h1m8 0h1m1 0h1m2 0h1m2 0h1m4 0h1m5 0h1m7 0h1m16 0h1m9 0h1m2 0h1m8 0h1m11 0h1m8 0h1m9 0h1m7 0h1m16 0h1m16 0h1m1 0h1m1 0h1m2 0h1m10 0h4m13 0h1m3 0h1M8 31.5h1m30 0h1m19 0h1m6 0h1m5 0h1m2 0h1m19 0h1m6 0h1m3 0h1m2 0h1m6 0h1m1 0h1m4 0h1m8 0h1m19 0h1m15 0h1m2 0h1m5 0h2m8 0h1m35 0h1m67 0h1m9 0h1m8 0h1m5 0h1m6 0h1m12 0h1m21 0h2m2 0h1m18 0h1m4 0h1m1 0h2m4 0h2m7 0h1m5 0h1m12 0h2m3 0h1m33 0h1m4 0h1m3 0h2m3 0h2m37 0h1m32 0h1m11 0h1m31 0h1m117 0h2m1 0h3m16 0h2m8 0h1m4 0h1m17 0h3m8 0h1m2 0h3m1 0h1m7 0h1m4 0h1m4 0h2m3 0h2m17 0h2m2 0h1m10 0h1m8 0h1m7 0h1m1 0h2m9 0h1m10 0h1m5 0h1m7 0h1m18 0h1m8 0h1m7 0h1m3 0h1m32 0h1m9 0h1m1 0h1m7 0h1m6 0h2m24 0h3m10 0h1m1 0h1m3 0h1m4 0h1m6 0h1m3 0h1m14 0h1m1 0h1m13 0h1m2 0h1m6 0h1m1 0h1m6 0h1m8 0h1m3 0h3m2 0h1m3 0h1m2 0h1m4 0h1m4 0h1m3 0h1m15 0h1m7 0h1m6 0h1m4 0h1m4 0h1m4 0h1m1 0h3M0 32.5h1m11 0h1m47 0h2m20 0h1m7 0h2m1 0h1m4 0h1m11 0h2m10 0h1m7 0h1m2 0h2m2 0h1m6 0h1m8 0h1m4 0h1m13 0h1m26 0h1m48 0h1m2 0h2m4 0h1m2 0h1m6 0h1m5 0h1m9 0h1m13 0h2m2 0h1m5 0h1m13 0h1m6 0h2m7 0h1m5 0h1m11 0h1m18 0h1m9 0h1m1 0h1m1 0h1m1 0h1m31 0h1m4 0h2m13 0h1m4 0h1m1 0h2m15 0h3m8 0h1m7 0h1m1 0h1m2 0h1m1 0h1m4 0h1m1 0h1m3 0h1m1 0h1m8 0h1m22 0h1m10 0h1m1 0h1m7 0h1m5 0h1m4 0h3m22 0h3m2 0h1m3 0h1m23 0h1m9 0h2m9 0h4m15 0h1m23 0h2m6 0h1m20 0h2m16 0h1m12 0h1m4 0h1m3 0h1m23 0h1m5 0h2m24 0h1m26 0h2m19 0h1m1 0h2m16 0h2m5 0h1m10 0h1m6 0h2m1 0h1m9 0h2m3 0h1m18 0h1m7 0h1m6 0h1m7 0h1m1 0h1m15 0h2m31 0h1m2 0h1m4 0h2m7 0h1m10 0h2m14 0h2m5 0h1m5 0h1m10 0h1m7 0h1m17 0h1m21 0h1m6 0h1m5 0h2m16 0h1m26 0h1M5 33.5h1m3 0h1m5 0h1m14 0h1m1 0h1m2 0h1m1 0h1m9 0h1m13 0h2m14 0h2m6 0h3m8 0h2m1 0h1m4 0h2m18 0h3m2 0h1m2 0h1m3 0h1m20 0h2m4 0h1m14 0h1m3 0h1m1 0h1m14 0h1m12 0h1m12 0h2m8 0h1m32 0h1m3 0h2m4 0h1m4 0h1m46 0h1m20 0h1m1 0h1m1 0h1m1 0h1m1 0h3m10 0h1m2 0h1m1 0h2m2 0h1m15 0h2m2 0h1m26 0h1m1 0h1m4 0h1m33 0h1m8 0h2m7 0h1m15 0h1m13 0h1m1 0h1m1 0h1m12 0h2m7 0h1m2 0h1m7 0h1m6 0h1m2 0h1m3 0h1m1 0h1m10 0h1m5 0h1m2 0h3m3 0h1m7 0h1m1 0h1m13 0h1m10 0h1m6 0h1m18 0h1m4 0h1m8 0h1m7 0h1m16 0h1m46 0h1m27 0h1m1 0h1m15 0h1m10 0h1m6 0h1m14 0h1m2 0h1m1 0h1m24 0h1m5 0h1m4 0h1m7 0h1m9 0h1m18 0h2m11 0h1m1 0h1m33 0h2m10 0h1m7 0h1m23 0h1m12 0h4m2 0h1m2 0h1m5 0h2m4 0h1m4 0h2m26 0h1m29 0h1m3 0h1m1 0h1m29 0h1m7 0h2m25 0h1m4 0h3m4 0h1m2 0h1m4 0h1m1 0h1m6 0h1M6 34.5h1m2 0h1m3 0h1m8 0h1m4 0h2m14 0h1m3 0h1m6 0h2m5 0h1m4 0h1m7 0h3m3 0h1m3 0h1m8 0h1m10 0h1m2 0h1m4 0h2m19 0h1m6 0h1m4 0h1m5 0h1m10 0h4m2 0h1m15 0h1m6 0h1m10 0h1m8 0h2m3 0h1m8 0h1m28 0h1m2 0h1m7 0h1m20 0h1m22 0h1m4 0h1m9 0h1m6 0h1m3 0h2m2 0h1m1 0h2m11 0h1m26 0h1m4 0h2m13 0h1m1 0h3m4 0h1m10 0h5m12 0h1m1 0h1m9 0h2m14 0h2m3 0h1m3 0h1m8 0h1m1 0h1m1 0h3m37 0h1m6 0h1m8 0h3m33 0h1m10 0h1m9 0h1m3 0h1m8 0h1m1 0h1m2 0h1m26 0h1m8 0h1m1 0h1m5 0h1m17 0h1m4 0h1m11 0h1m76 0h2m21 0h2m2 0h2m13 0h1m5 0h1m13 0h1m13 0h3m1 0h1m4 0h1m4 0h1m9 0h1m4 0h1m18 0h1m2 0h1m2 0h1m15 0h1m2 0h1m4 0h1m2 0h1m10 0h1m2 0h2m5 0h1m3 0h2m5 0h1m15 0h1m1 0h1m12 0h3m8 0h1m12 0h1m44 0h4m10 0h1m12 0h1m8 0h1m6 0h1m11 0h1m18 0h2m16 0h1m13 0h1m3 0h1m19 0h1M16 35.5h3m11 0h1m9 0h2m1 0h2m1 0h2m8 0h2m24 0h1m10 0h1m1 0h1m5 0h1m1 0h1m5 0h1m16 0h1m14 0h1m12 0h1m8 0h2m9 0h1m13 0h1m2 0h1m4 0h1m7 0h1m8 0h2m17 0h2m6 0h1m30 0h3m11 0h2m2 0h1m5 0h3m1 0h1m16 0h1m22 0h1m19 0h1m3 0h1m11 0h1m5 0h1m1 0h3m1 0h1m2 0h1m8 0h1m2 0h1m10 0h1m6 0h1m4 0h1m3 0h1m16 0h2m3 0h2m2 0h1m2 0h2m4 0h1m7 0h1m5 0h1m54 0h1m19 0h1m2 0h1m15 0h1m2 0h2m2 0h1m2 0h1m39 0h1m3 0h1m4 0h1m16 0h1m15 0h1m9 0h1m1 0h1m12 0h1m7 0h1m36 0h1m5 0h1m45 0h3m10 0h1m1 0h2m11 0h1m2 0h1m2 0h1m2 0h3m10 0h1m8 0h1m4 0h1m5 0h1m6 0h2m21 0h1m3 0h1m1 0h1m5 0h1m1 0h1m23 0h1m43 0h1m7 0h1m10 0h1m8 0h3m3 0h3m15 0h2m4 0h1m4 0h1m6 0h1m9 0h1m11 0h2m21 0h1m1 0h1m6 0h1m1 0h1m9 0h1m4 0h1m2 0h1m16 0h1m7 0h1m18 0h3m3 0h1m17 0h1m4 0h1m8 0h1M7 36.5h1m2 0h2m4 0h1m3 0h2m20 0h1m10 0h2m10 0h1m2 0h1m6 0h1m8 0h1m14 0h1m3 0h1m10 0h1m1 0h1m6 0h1m7 0h1m4 0h1m7 0h1m12 0h2m34 0h2m12 0h1m1 0h1m3 0h2m19 0h2m1 0h1m10 0h1m4 0h1m3 0h2m2 0h1m18 0h1m14 0h1m2 0h1m2 0h1m3 0h1m14 0h1m7 0h1m15 0h1m3 0h3m5 0h1m1 0h1m11 0h1m17 0h1m44 0h1m13 0h1m6 0h1m9 0h1m10 0h1m16 0h1m1 0h1m10 0h1m29 0h1m24 0h1m24 0h1m2 0h1m7 0h1m13 0h1m8 0h1m14 0h1m13 0h1m3 0h1m1 0h1m20 0h2m4 0h1m6 0h1m20 0h1m3 0h1m17 0h2m7 0h1m16 0h1m44 0h1m2 0h1m2 0h1m13 0h1m23 0h1m5 0h1m7 0h1m5 0h1m14 0h1m41 0h1m70 0h1m12 0h1m13 0h1m12 0h2m10 0h1m6 0h1m29 0h2m28 0h1m19 0h2m2 0h1m6 0h2m9 0h2m14 0h1M25 37.5h2m7 0h2m20 0h1m17 0h1m6 0h1m24 0h1m15 0h1m68 0h1m42 0h1m9 0h1m9 0h1m35 0h1m5 0h1m27 0h1m1 0h2m35 0h1m22 0h1m18 0h1m4 0h1m11 0h1m14 0h1m18 0h1m14 0h1m1 0h2m5 0h2m107 0h1m6 0h1m74 0h1m119 0h2m2 0h1m5 0h1m35 0h1m10 0h1m6 0h1m23 0h2m7 0h2m19 0h2m47 0h1m19 0h3m9 0h1m29 0h1m17 0h1m16 0h1m1 0h1m18 0h1m26 0h1m11 0h1m17 0h1m12 0h1M23 38.5h1m9 0h1m1 0h1m7 0h1m3 0h2m7 0h1m19 0h1m1 0h1m1 0h1m5 0h1m22 0h1m1 0h1m22 0h3m16 0h2m34 0h1m10 0h2m4 0h1m3 0h1m23 0h1m7 0h1m1 0h1m2 0h2m3 0h1m14 0h2m19 0h1m20 0h1m15 0h1m15 0h1m5 0h2m14 0h1m5 0h2m5 0h1m18 0h1m54 0h1m5 0h2m24 0h1m18 0h1m3 0h1m23 0h1m20 0h2m34 0h1m3 0h1m2 0h3m7 0h1m8 0h4m1 0h1m3 0h1m6 0h1m5 0h1m21 0h1m21 0h1m31 0h1m61 0h1m2 0h1m19 0h1m46 0h1m4 0h2m28 0h2m6 0h1m9 0h1m3 0h2m22 0h1m7 0h1m4 0h1m1 0h2m16 0h1m33 0h1m12 0h1m42 0h1m18 0h2m28 0h1m7 0h1m17 0h1m33 0h1m4 0h1m2 0h1m29 0h1M3 39.5h1m10 0h1m6 0h1m4 0h1m6 0h1m12 0h1m35 0h1m2 0h2m12 0h1m44 0h1m3 0h1m12 0h1m6 0h1m12 0h1m2 0h1m4 0h1m25 0h2m26 0h1m2 0h1m15 0h1m25 0h2m9 0h1m5 0h1m1 0h2m2 0h1m1 0h2m17 0h1m24 0h1m10 0h1m3 0h1m2 0h1m2 0h1m3 0h1m9 0h1m33 0h1m6 0h1m15 0h1m43 0h1m4 0h1m1 0h1m1 0h3m35 0h1m9 0h1m2 0h1m1 0h1m20 0h1m5 0h2m16 0h2m6 0h1m17 0h1m7 0h1m2 0h1m9 0h1m6 0h1m4 0h1m18 0h1m3 0h2m20 0h2m2 0h1m12 0h1m154 0h1m5 0h1m53 0h1m14 0h2m8 0h1m25 0h1m74 0h1m12 0h1m11 0h1m10 0h1m10 0h1m1 0h1m17 0h1m18 0h1m3 0h1m19 0h1m1 0h1m2 0h1m1 0h1M10 40.5h1m33 0h1m67 0h1m3 0h1m25 0h1m32 0h2m35 0h1m30 0h2m9 0h1m7 0h1m7 0h1m14 0h1m2 0h1m7 0h1m13 0h1m41 0h1m35 0h1m9 0h1m18 0h1m20 0h1m2 0h1m8 0h1m3 0h1m4 0h1m3 0h2m7 0h1m35 0h2m5 0h1m12 0h2m9 0h2m6 0h2m22 0h1m12 0h1m5 0h2m11 0h1m17 0h1m12 0h1m15 0h2m11 0h1m2 0h1m7 0h1m8 0h1m2 0h1m9 0h1m2 0h1m8 0h4m5 0h1m19 0h1m1 0h3m5 0h1m38 0h1m8 0h1m6 0h1m19 0h1m47 0h1m10 0h1m17 0h1m20 0h1m4 0h1m3 0h1m5 0h2m4 0h1m3 0h2m9 0h1m45 0h1m8 0h1m1 0h1m2 0h1m1 0h1m45 0h1m13 0h1m10 0h1m17 0h1m5 0h1m16 0h1m6 0h1m2 0h1m2 0h1m23 0h1m5 0h1m4 0h2m17 0h1M61 41.5h2m8 0h2m7 0h1m10 0h1m4 0h1m2 0h1m22 0h1m10 0h1m19 0h1m7 0h1m9 0h2m4 0h2m7 0h1m10 0h2m5 0h3m3 0h1m1 0h1m9 0h1m10 0h1m31 0h1m11 0h1m5 0h2m4 0h1m6 0h1m7 0h1m8 0h1m14 0h1m8 0h1m11 0h1m6 0h1m22 0h1m106 0h1m14 0h2m9 0h1m4 0h1m13 0h1m8 0h2m12 0h2m7 0h1m2 0h1m4 0h1m31 0h1m22 0h3m6 0h2m15 0h1m13 0h1m17 0h1m1 0h1m21 0h1m1 0h1m1 0h1m214 0h1m12 0h1m12 0h1m3 0h1m5 0h1m39 0h1m8 0h1m3 0h1m5 0h1m27 0h1m32 0h1m9 0h1m14 0h1m15 0h1m2 0h1m8 0h2m9 0h1m32 0h2m8 0h1m2 0h3M3 42.5h1m3 0h1m5 0h1m9 0h1m6 0h1m22 0h1m4 0h1m3 0h1m2 0h1m33 0h1m4 0h1m12 0h1m2 0h3m3 0h1m11 0h1m7 0h1m5 0h1m15 0h1m4 0h1m22 0h2m1 0h1m23 0h1m3 0h1m3 0h2m1 0h1m8 0h2m10 0h1m2 0h1m5 0h1m6 0h1m1 0h1m6 0h1m7 0h1m17 0h1m13 0h3m9 0h1m5 0h1m2 0h1m20 0h1m10 0h2m1 0h1m4 0h1m13 0h1m95 0h1m19 0h2m6 0h1m16 0h1m9 0h1m2 0h1m1 0h1m7 0h1m13 0h1m13 0h1m12 0h1m2 0h2m4 0h1m5 0h1m8 0h1m13 0h1m4 0h1m10 0h1m7 0h1m8 0h2m108 0h1m11 0h1m60 0h1m66 0h1m13 0h1m25 0h1m2 0h1m5 0h1m1 0h1m11 0h1m18 0h1m16 0h1m13 0h1m1 0h1m3 0h2m13 0h1m3 0h2m24 0h1m37 0h2m5 0h1m11 0h1m29 0h1m2 0h1m10 0h1M19 43.5h1m11 0h1m25 0h1m19 0h2m29 0h1m6 0h1m4 0h1m19 0h1m4 0h1m14 0h1m5 0h1m4 0h2m20 0h2m5 0h2m22 0h1m38 0h1m1 0h1m2 0h1m31 0h1m5 0h1m19 0h1m14 0h1m4 0h1m8 0h1m2 0h1m18 0h1m1 0h2m17 0h4m10 0h1m27 0h1m71 0h2m8 0h1m5 0h1m6 0h1m1 0h1m7 0h1m18 0h1m17 0h1m7 0h1m4 0h1m14 0h1m4 0h2m3 0h1m15 0h1m9 0h1m2 0h1m1 0h2m3 0h1m9 0h1m5 0h1m1 0h2m3 0h1m13 0h1m1 0h1m1 0h1m9 0h1m4 0h1m18 0h1m15 0h1m35 0h1m2 0h1m1 0h1m6 0h1m26 0h1m36 0h1m8 0h1m25 0h2m15 0h2m46 0h1m104 0h1m6 0h1m9 0h1m34 0h1m14 0h1m28 0h1m7 0h1m12 0h1m9 0h3M0 44.5h1m17 0h1m4 0h1m22 0h1m10 0h3m8 0h1m2 0h1m8 0h1m10 0h1m19 0h1m13 0h1m26 0h1m6 0h1m7 0h1m9 0h1m2 0h1m16 0h1m12 0h1m29 0h1m11 0h1m35 0h1m6 0h2m8 0h1m25 0h1m69 0h1m29 0h1m1 0h1m41 0h1m3 0h1m6 0h1m8 0h1m3 0h1m18 0h1m30 0h3m25 0h1m3 0h2m3 0h1m5 0h1m30 0h1m1 0h1m42 0h2m7 0h1m65 0h1m7 0h1m31 0h1m45 0h1m48 0h1m49 0h1m17 0h1m44 0h1m64 0h1m36 0h1m3 0h1m48 0h2m2 0h1m3 0h1m3 0h1m17 0h1M12 45.5h1m13 0h1m3 0h1m2 0h1m5 0h1m1 0h1m5 0h1m1 0h1m6 0h2m5 0h1m2 0h2m7 0h1m4 0h2m11 0h3m8 0h2m1 0h1m3 0h1m17 0h1m10 0h1m3 0h1m2 0h1m18 0h1m1 0h1m1 0h1m1 0h2m1 0h1m38 0h1m11 0h1m3 0h2m7 0h1m8 0h2m1 0h1m13 0h1m19 0h1m9 0h1m8 0h1m11 0h3m4 0h1m6 0h3m33 0h1m11 0h1m1 0h1m12 0h1m2 0h1m11 0h1m57 0h2m23 0h1m39 0h1m31 0h1m21 0h1m5 0h1m17 0h1m20 0h1m17 0h1m5 0h1m29 0h1m20 0h1m19 0h2m17 0h1m30 0h1m1 0h1m7 0h1m4 0h1m113 0h1m20 0h1m5 0h1m106 0h1m2 0h1m10 0h1m8 0h1m14 0h2m1 0h1m1 0h2m4 0h1m4 0h2m5 0h1m1 0h1m5 0h1m16 0h1m8 0h1m20 0h1M28 46.5h1m16 0h1m13 0h1m12 0h1m2 0h1m4 0h1m1 0h2m13 0h1m5 0h2m10 0h1m11 0h1m3 0h2m20 0h1m2 0h1m6 0h1m2 0h1m14 0h1m3 0h1m10 0h2m4 0h1m12 0h2m12 0h1m2 0h1m36 0h1m4 0h1m10 0h2m10 0h1m4 0h3m12 0h1m2 0h1m5 0h2m8 0h1m4 0h2m2 0h1m18 0h1m23 0h1m9 0h1m12 0h1m20 0h2m17 0h1m13 0h1m19 0h1m3 0h3m22 0h1m19 0h1m16 0h1m30 0h1m4 0h1m23 0h2m10 0h1m6 0h1m11 0h1m4 0h1m7 0h1m22 0h2m4 0h1m23 0h1m37 0h1m6 0h1m15 0h1m12 0h1m5 0h1m4 0h1m17 0h1m56 0h1m3 0h1m27 0h1m11 0h1m144 0h1m3 0h1m2 0h1m1 0h1m29 0h1m4 0h1m12 0h1m3 0h1m2 0h1m9 0h1m9 0h1m5 0h1m4 0h1M2 47.5h1m5 0h1m1 0h1m23 0h1m7 0h1m17 0h1m12 0h1m1 0h2m13 0h1m10 0h2m10 0h1m6 0h1m9 0h1m11 0h1m1 0h1m3 0h3m4 0h2m10 0h1m3 0h1m17 0h1m21 0h3m17 0h2m6 0h1m8 0h3m15 0h2m10 0h1m4 0h2m7 0h1m12 0h1m16 0h1m10 0h2m2 0h2m5 0h1m7 0h1m3 0h1m5 0h1m6 0h1m14 0h1m7 0h1m4 0h1m9 0h1m20 0h1m4 0h1m48 0h1m1 0h1m5 0h2m14 0h1m18 0h1m9 0h1m48 0h1m27 0h1m34 0h2m33 0h1m29 0h2m20 0h1m29 0h1m17 0h1m18 0h1m40 0h3m13 0h1m27 0h1m76 0h1m10 0h1m7 0h1m2 0h1m10 0h1m25 0h1m51 0h1m4 0h2m68 0h1M12 48.5h1m6 0h1m2 0h1m2 0h1m1 0h1m2 0h1m50 0h1m10 0h1m2 0h1m8 0h1m7 0h1m6 0h1m6 0h1m1 0h1m7 0h1m2 0h1m14 0h2m5 0h1m5 0h1m2 0h1m6 0h2m7 0h1m2 0h1m13 0h1m1 0h1m11 0h1m8 0h1m29 0h1m10 0h1m11 0h1m15 0h1m13 0h1m5 0h1m3 0h2m12 0h1m4 0h4m15 0h1m1 0h1m9 0h1m3 0h3m11 0h1m6 0h1m4 0h1m22 0h1m10 0h1m48 0h2m45 0h2m4 0h1m9 0h1m11 0h1m53 0h1m49 0h1m46 0h1m22 0h2m22 0h1m33 0h1m4 0h1m18 0h2m3 0h1m10 0h1m12 0h1m5 0h1m28 0h1m1 0h1m22 0h1m10 0h1m69 0h1m49 0h1m15 0h1m16 0h1m10 0h1m6 0h2m15 0h1m1 0h1m5 0h1m15 0h2m10 0h1m11 0h1m2 0h1m18 0h1m12 0h1M7 49.5h1m14 0h3m5 0h2m14 0h2m14 0h3m1 0h1m19 0h1m5 0h1m17 0h1m14 0h1m8 0h1m7 0h1m14 0h1m7 0h1m29 0h2m44 0h2m4 0h1m9 0h1m7 0h2m3 0h3m11 0h1m6 0h1m7 0h1m15 0h1m11 0h1m5 0h1m9 0h1m15 0h1m2 0h1m1 0h2m15 0h1m5 0h3m1 0h1m4 0h2m58 0h2m21 0h2m27 0h1m20 0h1m54 0h2m53 0h1m2 0h1m16 0h1m26 0h1m5 0h1m46 0h1m16 0h1m20 0h1m3 0h1m4 0h1m16 0h1m46 0h1m3 0h1m45 0h1m1 0h1m3 0h1m54 0h1m74 0h1m46 0h2m25 0h1m18 0h2m5 0h1m30 0h1m5 0h1m9 0h1m2 0h1m1 0h1M2 50.5h2m9 0h1m28 0h1m8 0h1m7 0h1m12 0h2m15 0h1m1 0h1m42 0h1m3 0h2m13 0h1m2 0h1m4 0h1m16 0h1m18 0h1m13 0h2m37 0h2m18 0h1m21 0h1m1 0h2m7 0h1m13 0h1m10 0h1m5 0h2m17 0h1m2 0h1m6 0h2m2 0h2m9 0h1m1 0h1m1 0h1m1 0h1m6 0h1m4 0h2m2 0h2m10 0h2m16 0h1m59 0h1m6 0h1m8 0h2m14 0h1m10 0h1m27 0h3m13 0h1m6 0h1m4 0h1m15 0h1m24 0h1m4 0h1m6 0h1m33 0h1m1 0h1m2 0h1m2 0h1m12 0h1m11 0h1m46 0h1m10 0h1m11 0h1m1 0h2m23 0h1m2 0h1m13 0h1m2 0h1m60 0h1m22 0h1m45 0h1m83 0h1m8 0h1m9 0h1m7 0h1m2 0h1m12 0h2m43 0h1m13 0h1m9 0h1m8 0h1m12 0h1m8 0h2m5 0h2M18 51.5h1m4 0h1m6 0h1m2 0h1m4 0h2m2 0h1m15 0h1m2 0h1m1 0h1m1 0h1m4 0h1m1 0h1m36 0h1m4 0h1m4 0h1m8 0h1m9 0h1m3 0h1m6 0h1m1 0h2m14 0h1m2 0h1m3 0h1m14 0h1m7 0h1m33 0h1m3 0h1m7 0h1m4 0h1m5 0h1m13 0h1m14 0h1m4 0h1m8 0h1m14 0h1m9 0h1m4 0h1m43 0h1m1 0h1m32 0h1m7 0h1m5 0h1m5 0h2m24 0h1m12 0h2m21 0h1m6 0h1m5 0h1m3 0h1m3 0h1m3 0h2m1 0h2m8 0h1m7 0h1m2 0h1m1 0h1m1 0h2m9 0h1m4 0h1m5 0h1m7 0h1m5 0h1m3 0h2m2 0h2m7 0h1m2 0h1m1 0h1m22 0h1m19 0h1m2 0h1m7 0h1m4 0h2m1 0h1m5 0h1m2 0h1m3 0h1m2 0h1m3 0h1m2 0h1m7 0h1m10 0h1m3 0h1m2 0h2m5 0h1m19 0h1m23 0h1m10 0h1m12 0h2m37 0h1m15 0h1m2 0h2m24 0h1m59 0h1m7 0h3m19 0h2m29 0h1m1 0h1m27 0h1m10 0h1m17 0h1m5 0h1m51 0h1M15 52.5h1m7 0h1m7 0h1m8 0h1m2 0h2m7 0h2m4 0h1m7 0h1m13 0h2m8 0h1m30 0h1m23 0h1m1 0h1m12 0h1m5 0h1m3 0h1m4 0h1m70 0h1m4 0h1m8 0h1m16 0h1m11 0h1m8 0h1m4 0h1m5 0h2m6 0h1m19 0h1m9 0h1m2 0h1m3 0h1m18 0h1m13 0h1m10 0h2m1 0h1m4 0h1m18 0h1m1 0h1m5 0h2m15 0h2m10 0h1m1 0h1m1 0h1m27 0h1m15 0h3m14 0h1m7 0h2m5 0h1m11 0h1m10 0h1m9 0h1m5 0h1m6 0h1m5 0h1m2 0h1m11 0h1m3 0h1m26 0h2m10 0h1m14 0h2m3 0h2m6 0h1m29 0h1m15 0h1m20 0h1m27 0h1m33 0h2m30 0h1m25 0h1m65 0h1m1 0h1m31 0h1m11 0h1m2 0h1m8 0h1m18 0h1m7 0h1m9 0h1m5 0h2m6 0h1m7 0h2m18 0h1m47 0h1M10 53.5h1m9 0h1m30 0h1m11 0h1m3 0h1m5 0h1m2 0h1m1 0h1m1 0h1m7 0h1m20 0h1m1 0h1m3 0h2m4 0h4m4 0h1m2 0h3m2 0h1m1 0h3m13 0h1m2 0h1m6 0h2m2 0h1m6 0h1m5 0h1m6 0h1m4 0h1m36 0h1m77 0h1m8 0h1m24 0h1m2 0h1m19 0h2m1 0h1m12 0h1m1 0h1m9 0h3m5 0h1m20 0h2m10 0h1m1 0h2m5 0h1m5 0h1m9 0h1m52 0h2m11 0h1m14 0h1m7 0h1m1 0h1m8 0h1m1 0h1m44 0h1m12 0h2m6 0h1m1 0h1m14 0h1m2 0h1m15 0h2m11 0h1m2 0h1m12 0h1m1 0h2m1 0h1m7 0h2m2 0h1m9 0h1m5 0h1m35 0h1m14 0h1m8 0h1m31 0h1m4 0h1m1 0h1m16 0h2m4 0h1m13 0h1m6 0h2m12 0h1m1 0h1m3 0h2m12 0h1m2 0h1m3 0h2m12 0h1m4 0h1m1 0h1m5 0h1m6 0h1m1 0h1m20 0h1m15 0h1m2 0h2m4 0h1m14 0h1m1 0h1m6 0h1m5 0h1m6 0h1m10 0h1m5 0h1m1 0h1m25 0h1m47 0h1M17 54.5h1m14 0h1m6 0h1m2 0h2m9 0h1m2 0h1m24 0h1m12 0h1m7 0h1m11 0h1m27 0h1m15 0h1m8 0h1m2 0h1m14 0h1m1 0h1m4 0h1m1 0h1m18 0h1m27 0h1m48 0h1m9 0h1m4 0h1m7 0h2m5 0h1m1 0h1m10 0h1m6 0h2m3 0h2m26 0h1m1 0h2m3 0h2m10 0h2m2 0h1m11 0h1m17 0h2m9 0h1m21 0h1m7 0h1m7 0h2m1 0h1m13 0h2m4 0h1m1 0h2m19 0h1m2 0h1m2 0h1m16 0h1m14 0h1m11 0h1m5 0h1m14 0h1m10 0h1m2 0h2m15 0h3m7 0h1m20 0h1m4 0h1m14 0h2m4 0h2m3 0h2m4 0h2m15 0h1m7 0h1m20 0h1m7 0h1m9 0h1m13 0h1m5 0h1m1 0h1m18 0h1m13 0h1m6 0h1m12 0h1m18 0h1m2 0h3m6 0h1m15 0h1m16 0h2m3 0h1m22 0h1m2 0h1m9 0h1m8 0h3m1 0h4m10 0h2m4 0h1m2 0h2m10 0h1m2 0h1m3 0h1m4 0h2m3 0h1m7 0h1m32 0h1m44 0h1m21 0h1m30 0h1m39 0h1M34 55.5h1m2 0h1m4 0h1m16 0h1m10 0h1m4 0h1m4 0h1m2 0h1m1 0h1m43 0h1m22 0h2m15 0h1m17 0h6m2 0h1m19 0h2m14 0h1m22 0h2m59 0h1m5 0h1m13 0h1m11 0h1m3 0h1m2 0h1m6 0h1m26 0h1m41 0h2m14 0h1m6 0h1m7 0h1m2 0h1m2 0h1m7 0h1m1 0h1m4 0h3m7 0h2m2 0h1m1 0h1m21 0h1m2 0h1m2 0h2m13 0h1m1 0h1m1 0h1m4 0h1m4 0h3m27 0h1m3 0h1m3 0h1m8 0h1m9 0h1m10 0h1m15 0h1m2 0h1m4 0h1m17 0h1m18 0h1m2 0h2m18 0h1m6 0h2m5 0h2m8 0h1m4 0h1m10 0h1m87 0h1m6 0h1m22 0h1m1 0h2m4 0h2m2 0h2m24 0h1m19 0h1m4 0h1m5 0h1m5 0h1m19 0h1m14 0h1m10 0h1m19 0h1m2 0h1m7 0h3m11 0h1m1 0h1m1 0h2m119 0h1M25 56.5h1m1 0h1m22 0h1m4 0h1m11 0h1m17 0h1m1 0h1m22 0h1m25 0h1m1 0h2m14 0h1m1 0h1m15 0h1m15 0h1m25 0h1m2 0h1m12 0h1m6 0h1m5 0h1m22 0h1m25 0h1m24 0h1m9 0h1m1 0h4m9 0h1m2 0h2m3 0h2m2 0h1m2 0h1m3 0h3m12 0h1m1 0h1m9 0h1m25 0h1m6 0h1m8 0h2m2 0h2m2 0h2m3 0h2m4 0h2m5 0h1m1 0h1m10 0h1m8 0h1m2 0h1m2 0h1m8 0h2m1 0h2m14 0h2m10 0h1m1 0h1m19 0h1m6 0h2m2 0h1m3 0h1m2 0h1m10 0h1m15 0h1m14 0h1m23 0h2m45 0h1m19 0h1m11 0h1m6 0h1m1 0h1m5 0h1m5 0h1m7 0h1m2 0h1m9 0h1m19 0h2m2 0h2m28 0h1m23 0h1m27 0h1m19 0h1m2 0h1m8 0h1m7 0h2m7 0h1m28 0h2m1 0h1m5 0h2m4 0h1m4 0h1m2 0h2m1 0h2m9 0h1m1 0h1m20 0h1m5 0h1m1 0h1m1 0h2m3 0h1m7 0h1m1 0h1m3 0h1m8 0h2m12 0h2m2 0h1m6 0h1M8 57.5h1m7 0h2m8 0h1m1 0h2m3 0h2m1 0h1m11 0h1m11 0h1m5 0h1m7 0h1m25 0h1m15 0h2m2 0h1m7 0h1m14 0h1m1 0h1m14 0h1m28 0h1m3 0h1m12 0h1m4 0h1m3 0h1m7 0h1m10 0h1m20 0h1m6 0h1m1 0h1m8 0h1m2 0h1m2 0h2m43 0h1m4 0h2m1 0h2m5 0h1m4 0h1m5 0h1m10 0h1m16 0h1m4 0h1m38 0h2m12 0h1m11 0h1m1 0h1m10 0h3m2 0h1m13 0h1m1 0h2m7 0h1m1 0h1m2 0h2m13 0h2m8 0h1m14 0h2m18 0h1m19 0h1m4 0h1m3 0h1m1 0h1m5 0h1m7 0h1m9 0h1m21 0h1m2 0h1m11 0h2m1 0h1m1 0h1m4 0h1m4 0h1m1 0h1m12 0h1m14 0h1m21 0h1m7 0h1m1 0h2m19 0h1m4 0h1m3 0h4m1 0h2m13 0h1m18 0h1m13 0h1m6 0h2m2 0h1m14 0h1m2 0h1m2 0h1m11 0h1m1 0h1m23 0h1m11 0h1m19 0h1m12 0h1m1 0h1m8 0h1m4 0h1m17 0h1m6 0h3m2 0h1m8 0h1m16 0h1m21 0h1m36 0h1"/>
<path stroke="#21918C" d="M1 0.5h2m18 0h2m48 0h1m5 0h1m17 0h1m18 0h1m27 0h1m16 0h2m8 0h1m9 0h1m54 0h1m4 0h1m5 0h1m7 0h1m46 0h2m1 0h1m2 0h2m7 0h1m37 0h1m48 0h2m21 0h1m17 0h1m9 0h1m9 0h1m1 0h1m13 0h1m19 0h2m4 0h1m5 0h1m11 0h1m5 0h1m22 0h1m38 0h1m16 0h1m10 0h1m30 0h2m23 0h2m21 0h1m3 0h1m5 0h1m1 0h1m3 0h1m4 0h1m4 0h1m5 0h1m22 0h2m18 0h1m75 0h1m10 0h1m12 0h2m27 0h1m3 0h1m23 0h1m3 0h1m8 0h1m23 0h2m38 0h1m4 0h1m18 0h1m3 0h1m1 0h1m10 0h1m6 0h1m25 0h1m12 0h1m3 0h2m1 0h1m1 0h1m3 0h2m25 0h1m4 0h1m1 0h1m9 0h1m11 0h1m13 0h1m6 0h1m10 0h2M0 1.5h1m15 0h1m1 0h1m10 0h1m21 0h1m4 0h1m6 0h1m6 0h2m6 0h1m3 0h1m7 0h1m16 0h1m2 0h2m4 0h1m1 0h1m4 0h1m18 0h1m10 0h1m17 0h1m11 0h2m6 0h1m1 0h1m3 0h1m4 0h1m87 0h2m32 0h1m2 0h2m6 0h1m11 0h1m18 0h1m7 0h1m42 0h1m2 0h2m7 0h1m24 0h1m9 0h1m55 0h1m16 0h1m5 0h1m42 0h1m18 0h1m5 0h1m8 0h1m26 0h1m11 0h1m6 0h1m42 0h1m5 0h1m18 0h1m44 0h3m50 0h1m7 0h1m31 0h1m7 0h1m29 0h1m29 0h1m19 0h1m3 0h1m2 0h1m7 0h1m17 0h1m16 0h1m26 0h1m6 0h3m15 0h1m5 0h1m11 0h1m9 0h2m6 0h1m16 0h1M1 2.5h1m12 0h1m4 0h1m1 0h1m1 0h1m9 0h1m16 0h1m17 0h1m2 0h1m6 0h1m1 0h1m9 0h1m1 0h1m7 0h1m21 0h1m8 0h1m1 0h3m5 0h1m13 0h1m6 0h2m63 0h1m3 0h1m6 0h1m41 0h1m10 0h1m29 0h1m31 0h1m50 0h1m8 0h1m6 0h1m7 0h1m3 0h2m13 0h1m20 0h2m31 0h2m12 0h2m12 0h2m1 0h1m1 0h1m3 0h1m25 0h1m9 0h1m7 0h1m3 0h1m7 0h2m6 0h1m16 0h1m7 0h1m30 0h1m9 0h2m19 0h1m19 0h1m27 0h1m15 0h1m1 0h1m9 0h1m4 0h1m67 0h1m2 0h2m41 0h2m30 0h1m6 0h1m12 0h1m20 0h1m61 0h1m39 0h2m13 0h1m10 0h1m2 0h1m5 0h1m7 0h1m36 0h1m8 0h2M17 3.5h1m1 0h1m18 0h2m10 0h1m11 0h1m66 0h1m20 0h1m46 0h1m1 0h1m3 0h1m1 0h2m18 0h2m6 0h1m4 0h1m11 0h1m24 0h1m3 0h1m2 0h1m35 0h1m35 0h1m30 0h2m5 0h1m6 0h1m9 0h1m10 0h2m7 0h1m3 0h1m23 0h1m16 0h2m12 0h1m2 0h1m46 0h1m10 0h2m15 0h2m22 0h2m30 0h1m4 0h2m8 0h1m6 0h1m5 0h1m53 0h1m25 0h1m32 0h1m14 0h1m8 0h1m1 0h1m14 0h1m16 0h2m11 0h1m12 0h2m7 0h1m2 0h2m23 0h1m9 0h1m31 0h1m11 0h2m6 0h1m1 0h2m1 0h1m13 0h1m9 0h1m23 0h1m26 0h1m2 0h3m4 0h1m23 0h1m10 0h1m11 0h1m1 0h2m35 0h1m19 0h3m4 0h1m1 0h2m25 0h3m4 0h1m3 0h1M62 4.5h1m2 0h2m11 0h2m37 0h1m42 0h1m46 0h1m16 0h2m5 0h1m38 0h1m31 0h1m21 0h1m4 0h1m9 0h1m6 0h1m14 0h1m10 0h1m25 0h1m2 0h1m20 0h1m10 0h2m17 0h1m3 0h1m5 0h1m3 0h2m1 0h1m25 0h1m16 0h1m9 0h1m20 0h2m21 0h1m1 0h1m10 0h1m12 0h1m2 0h1m11 0h1m3 0h2m10 0h1m1 0h1m2 0h2m15 0h1m11 0h1m12 0h2m49 0h1m9 0h1m3 0h1m28 0h1m17 0h1m38 0h2m1 0h1m8 0h5m8 0h1m12 0h1m21 0h1m1 0h1M1 5.5h2m22 0h1m13 0h2m6 0h1m3 0h1m5 0h1m46 0h2m2 0h1m6 0h1m2 0h1m2 0h1m28 0h1m2 0h1m8 0h1m19 0h1m1 0h1m4 0h1m24 0h1m1 0h1m6 0h1m7 0h1m21 0h1m8 0h1m2 0h2m20 0h1m69 0h1m4 0h1m8 0h1m27 0h1m2 0h3m8 0h1m29 0h1m22 0h1m23 0h1m9 0h1m28 0h3m13 0h1m2 0h1m13 0h1m38 0h1m3 0h1m9 0h2m5 0h1m1 0h1m23 0h1m7 0h1m46 0h1m26 0h1m25 0h1m20 0h1m7 0h1m11 0h1m21 0h1m1 0h1m4 0h1m14 0h1m16 0h1m33 0h1m5 0h1m11 0h1m4 0h1m25 0h1m23 0h1m14 0h2m8 0h1m20 0h1m5 0h2m10 0h1m13 0h1m1 0h1m4 0h1m2 0h1m1 0h2m21 0h1m15 0h1m25 0h1m3 0h1m2 0h2m46 0h1m2 0h2m8 0h1m3 0h1m1 0h1M25 6.5h1m10 0h1m30 0h1m3 0h1m7 0h1m6 0h1m33 0h1m27 0h1m19 0h1m49 0h1m27 0h1m7 0h1m3 0h1m2 0h1m2 0h1m11 0h1m15 0h1m13 0h1m7 0h1m8 0h1m23 0h2m16 0h1m8 0h1m6 0h3m14 0h1m26 0h1m7 0h1m5 0h1m10 0h1m24 0h1m3 0h1m15 0h1m3 0h2m19 0h1m9 0h1m3 0h1m6 0h1m26 0h1m23 0h1m1 0h1m4 0h1m4 0h1m18 0h1m10 0h1m17 0h1m31 0h1m25 0h1m15 0h1m13 0h1m12 0h1m6 0h3m2 0h1m13 0h1m4 0h1m1 0h2m2 0h1m13 0h1m4 0h4m6 0h3m11 0h1m1 0h1m6 0h1m12 0h2m46 0h2m2 0h1m35 0h1m15 0h1m20 0h2m8 0h1m19 0h1m8 0h1m22 0h1m3 0h1m9 0h1m8 0h1m7 0h2m3 0h1m2 0h1m5 0h1m29 0h1m47 0h1m27 0h1M18 7.5h1m23 0h1m7 0h1m28 0h3m20 0h1m3 0h1m13 0h1m12 0h1m22 0h1m17 0h1m19 0h1m2 0h1m11 0h2m15 0h1m22 0h1m17 0h1m3 0h1m10 0h1m56 0h1m6 0h1m23 0h1m4 0h1m24 0h1m2 0h2m17 0h1m12 0h1m20 0h2m44 0h1m7 0h1m39 0h1m20 0h1m20 0h1m16 0h1m47 0h1m4 0h2m18 0h1m12 0h1m1 0h1m29 0h1m2 0h2m6 0h1m9 0h1m7 0h2m8 0h1m7 0h1m5 0h1m1 0h1m9 0h1m16 0h1m14 0h1m10 0h1m4 0h1m3 0h1m3 0h1m4 0h2m5 0h1m34 0h1m5 0h1m6 0h1m6 0h1m9 0h1m1 0h1m30 0h1m18 0h1m9 0h2m80 0h1m32 0h1m29 0h1m9 0h1m7 0h1m22 0h1m13 0h1m7 0h1M9 8.5h1m17 0h1m15 0h1m6 0h1m2 0h2m6 0h2m18 0h1m14 0h1m18 0h2m31 0h1m1 0h1m1 0h1m45 0h1m10 0h1m5 0h1m4 0h1m12 0h1m3 0h2m2 0h1m2 0h1m9 0h1m13 0h1m6 0h1m3 0h1m3 0h1m5 0h2m4 0h1m5 0h1m50 0h1m63 0h1m21 0h1m43 0h2m19 0h1m2 0h1m9 0h2m10 0h1m4 0h2m41 0h1m5 0h1m32 0h2m6 0h1m30 0h1m3 0h1m2 0h1m43 0h1m22 0h1m1 0h2m13 0h1m21 0h1m17 0h2m25 0h1m4 0h2m1 0h1m29 0h1m16 0h1m10 0h1m6 0h2m2 0h1m16 0h2m40 0h1m53 0h2m19 0h1m60 0h3m38 0h1m19 0h1m19 0h1m6 0h1m5 0h1m6 0h1m11 0h1M40 9.5h1m37 0h1m1 0h1m3 0h1m12 0h1m7 0h2m18 0h1m43 0h1m5 0h2m37 0h1m14 0h1m25 0h1m4 0h1m4 0h1m13 0h1m2 0h1m4 0h1m1 0h2m1 0h1m6 0h1m4 0h1m7 0h1m2 0h1m84 0h1m13 0h1m20 0h1m7 0h3m16 0h2m56 0h1m19 0h2m9 0h1m38 0h1m53 0h1m4 0h1m2 0h1m1 0h1m13 0h1m13 0h1m4 0h1m10 0h2m8 0h1m6 0h1m18 0h1m22 0h1m58 0h2m4 0h1m7 0h1m11 0h1m28 0h2m14 0h1m17 0h2m46 0h1m8 0h1m34 0h1m18 0h1m5 0h1m5 0h1m22 0h1m34 0h1m2 0h1m13 0h1m10 0h1m5 0h1m11 0h1m15 0h1m22 0h1m4 0h1M4 10.5h2m1 0h3m9 0h1m12 0h2m5 0h1m22 0h1m24 0h1m12 0h2m3 0h1m1 0h1m5 0h1m22 0h1m15 0h1m21 0h2m7 0h2m6 0h1m15 0h1m13 0h2m16 0h1m22 0h1m58 0h1m2 0h1m49 0h1m60 0h1m5 0h1m48 0h1m40 0h1m4 0h1m15 0h1m6 0h1m9 0h1m7 0h2m37 0h1m22 0h1m3 0h1m9 0h1m7 0h1m2 0h1m1 0h1m8 0h1m18 0h1m17 0h1m2 0h1m10 0h1m1 0h1m10 0h1m57 0h1m21 0h1m17 0h1m33 0h1m28 0h1m4 0h1m3 0h1m8 0h1m45 0h2m5 0h1m6 0h2m11 0h1m6 0h2m20 0h1m46 0h1m30 0h1m8 0h2m4 0h1m8 0h1m7 0h1m12 0h1m5 0h1m37 0h1M61 11.5h1m14 0h2m5 0h1m8 0h1m25 0h2m2 0h1m22 0h3m23 0h1m3 0h1m91 0h1m3 0h1m34 0h1m7 0h1m15 0h1m23 0h1m12 0h3m8 0h1m65 0h2m4 0h1m12 0h1m4 0h1m26 0h2m4 0h1m4 0h1m10 0h1m4 0h1m6 0h1m48 0h1m28 0h2m5 0h1m12 0h1m16 0h1m4 0h1m3 0h1m51 0h2m2 0h1m17 0h2m32 0h1m1 0h2m7 0h1m1 0h1m45 0h1m3 0h1m11 0h1m3 0h1m16 0h2m6 0h1m12 0h1m4 0h1m5 0h1m3 0h1m6 0h1m16 0h1m4 0h2m1 0h1m15 0h2m11 0h1m20 0h1m4 0h2m3 0h1m19 0h2m6 0h1m6 0h1m3 0h2m6 0h1m4 0h2m7 0h1m15 0h1m2 0h1m2 0h2m3 0h1m15 0h1m17 0h1m22 0h1m2 0h1m16 0h3m8 0h1M24 12.5h1m3 0h1m25 0h1m10 0h1m4 0h1m16 0h3m40 0h1m13 0h1m5 0h1m1 0h1m28 0h1m14 0h1m8 0h2m5 0h1m33 0h1m18 0h1m21 0h1m3 0h1m39 0h1m69 0h1m9 0h1m5 0h1m2 0h2m42 0h1m1 0h1m8 0h1m15 0h1m4 0h2m13 0h1m5 0h1m11 0h1m5 0h1m9 0h2m3 0h2m4 0h1m7 0h1m3 0h1m25 0h1m14 0h1m21 0h1m14 0h1m15 0h1m19 0h1m4 0h1m6 0h1m68 0h1m18 0h1m135 0h1m8 0h1m2 0h2m2 0h1m3 0h1m8 0h2m11 0h1m5 0h1m2 0h1m1 0h1m1 0h1m1 0h1m2 0h1m7 0h1m5 0h1m3 0h2m2 0h1m4 0h1m3 0h2m5 0h1m4 0h1m6 0h1m23 0h1m37 0h1m99 0h1M11 13.5h2m5 0h1m3 0h1m15 0h1m19 0h2m24 0h2m1 0h1m13 0h1m9 0h1m14 0h1m8 0h1m12 0h2m21 0h1m24 0h1m55 0h2m22 0h1m21 0h1m10 0h1m38 0h2m13 0h1m25 0h1m27 0h1m30 0h1m1 0h1m1 0h1m10 0h1m12 0h1m12 0h3m25 0h1m36 0h1m4 0h1m65 0h1m6 0h1m39 0h1m4 0h1m17 0h1m95 0h1m39 0h2m91 0h1m16 0h1m47 0h1m4 0h1m17 0h1m16 0h1m3 0h1m21 0h1m6 0h1m30 0h1m49 0h1m34 0h1M7 14.5h1m3 0h1m1 0h1m20 0h2m24 0h2m24 0h1m10 0h1m10 0h2m14 0h1m30 0h1m99 0h1m31 0h2m18 0h1m27 0h2m18 0h1m34 0h1m26 0h2m74 0h1m13 0h2m1 0h1m15 0h1m28 0h1m21 0h1m1 0h1m107 0h2m1 0h1m32 0h1m58 0h1m123 0h2m4 0h2m44 0h2m11 0h1m7 0h1m6 0h1m14 0h1m5 0h1m17 0h2m4 0h1m11 0h2m20 0h1m6 0h1m62 0h1m57 0h1M3 15.5h1m12 0h2m24 0h3m4 0h2m3 0h1m13 0h1m27 0h1m1 0h1m2 0h1m7 0h1m14 0h1m18 0h2m13 0h1m7 0h1m12 0h2m61 0h1m25 0h2m3 0h1m24 0h1m2 0h1m30 0h1m16 0h1m20 0h1m16 0h1m22 0h1m4 0h1m52 0h1m2 0h3m3 0h2m9 0h1m19 0h1m26 0h1m13 0h1m9 0h1m6 0h1m1 0h2m21 0h1m3 0h1m23 0h1m15 0h1m9 0h1m9 0h1m1 0h1m1 0h1m6 0h1m6 0h1m1 0h1m14 0h1m10 0h1m41 0h1m5 0h2m1 0h1m1 0h1m2 0h1m20 0h1m26 0h1m21 0h1m16 0h1m4 0h1m30 0h3m4 0h2m1 0h2m9 0h1m8 0h1m4 0h1m19 0h1m22 0h1m16 0h1m3 0h1m6 0h1m7 0h1m2 0h1m2 0h1m5 0h3m19 0h1m16 0h1m23 0h1m12 0h1m8 0h1m4 0h1m11 0h2m4 0h1m24 0h1m3 0h1m16 0h1M1 16.5h1m47 0h2m5 0h1m61 0h2m33 0h1m95 0h1m14 0h1m13 0h1m3 0h1m28 0h1m45 0h1m9 0h1m4 0h1m7 0h1m17 0h1m21 0h1m6 0h1m38 0h1m11 0h1m51 0h1m31 0h1m26 0h1m58 0h1m42 0h1m6 0h1m18 0h1m16 0h1m57 0h1m65 0h1m46 0h1m27 0h1m44 0h1m11 0h2m17 0h1m78 0h1m34 0h1m3 0h1m5 0h1M8 17.5h1m22 0h1m3 0h1m29 0h1m49 0h1m18 0h1m7 0h1m6 0h2m22 0h2m58 0h1m30 0h1m9 0h3m5 0h1m2 0h1m149 0h2m2 0h1m24 0h1m1 0h1m98 0h1m394 0h1m27 0h2m26 0h1m153 0h1M6 18.5h1m1 0h1m8 0h1m7 0h3m19 0h1m47 0h1m2 0h1m1 0h1m68 0h1m12 0h1m63 0h1m13 0h1m4 0h1m2 0h1m7 0h1m10 0h1m30 0h3m92 0h1m6 0h1m14 0h1m3 0h1m5 0h2m9 0h1m29 0h1m4 0h1m11 0h1m1 0h1m5 0h1m30 0h1m17 0h1m17 0h1m6 0h1m24 0h1m2 0h1m6 0h1m16 0h1m26 0h2m8 0h1m17 0h1m8 0h1m27 0h1m11 0h1m12 0h1m30 0h1m9 0h1m8 0h1m38 0h1m11 0h1m51 0h1m1 0h1m23 0h1m1 0h1m15 0h1m13 0h1m19 0h1m1 0h2m18 0h1m23 0h1m33 0h1m5 0h2m9 0h1m6 0h3m9 0h1m2 0h1m5 0h1m7 0h1m1 0h1m27 0h1m10 0h1M3 19.5h1m6 0h1m8 0h1m30 0h1m4 0h1m6 0h1m4 0h1m2 0h1m3 0h2m12 0h1m7 0h1m55 0h1m6 0h1m38 0h1m13 0h1m17 0h2m2 0h1m18 0h1m23 0h1m24 0h2m37 0h3m30 0h1m28 0h1m30 0h1m8 0h1m4 0h1m6 0h1m6 0h1m9 0h3m7 0h1m7 0h1m11 0h1m21 0h1m3 0h1m13 0h1m16 0h1m25 0h1m6 0h2m1 0h1m9 0h1m11 0h2m17 0h1m2 0h1m5 0h1m36 0h2m13 0h1m4 0h1m6 0h1m3 0h1m37 0h2m4 0h1m16 0h1m1 0h1m18 0h1m16 0h1m67 0h1m5 0h2m22 0h1m6 0h2m53 0h1m6 0h1m16 0h2m34 0h1m10 0h1m54 0h1m17 0h1m9 0h1m5 0h1m20 0h1m39 0h2M48 20.5h1m2 0h1m22 0h2m6 0h2m7 0h1m1 0h1m9 0h1m7 0h1m4 0h1m5 0h1m17 0h1m8 0h1m31 0h1m1 0h1m13 0h1m5 0h1m26 0h1m10 0h1m34 0h1m4 0h2m15 0h1m9 0h1m29 0h1m7 0h1m15 0h1m11 0h1m2 0h1m6 0h1m3 0h1m14 0h1m2 0h1m9 0h1m15 0h1m7 0h1m2 0h2m15 0h1m20 0h1m48 0h2m3 0h1m17 0h1m1 0h1m77 0h1m9 0h3m45 0h2m8 0h1m14 0h1m6 0h1m18 0h1m23 0h1m15 0h1m42 0h1m9 0h1m6 0h1m29 0h1m21 0h1m10 0h1m1 0h2m10 0h1m29 0h1m37 0h1m46 0h1m8 0h1m12 0h2m24 0h1m23 0h2m17 0h1m10 0h1M12 21.5h1m13 0h1m26 0h1m13 0h1m1 0h1m9 0h1m15 0h1m7 0h1m3 0h2m2 0h1m2 0h1m10 0h1m18 0h1m7 0h1m30 0h1m7 0h1m1 0h1m18 0h1m18 0h1m4 0h1m14 0h1m26 0h1m27 0h1m23 0h1m6 0h1m19 0h1m30 0h1m10 0h2m6 0h1m8 0h1m9 0h1m6 0h1m6 0h1m22 0h1m8 0h1m4 0h1m1 0h1m67 0h1m27 0h1m28 0h2m4 0h1m5 0h1m79 0h1m11 0h1m5 0h1m5 0h1m10 0h1m15 0h3m7 0h1m15 0h1m5 0h1m10 0h1m9 0h1m3 0h1m3 0h1m12 0h1m113 0h1m9 0h1m4 0h1m45 0h1m4 0h1m2 0h1m27 0h2m12 0h2m7 0h1m16 0h1m26 0h1m3 0h1m55 0h2M8 22.5h1m8 0h1m24 0h1m5 0h1m15 0h1m24 0h1m1 0h1m43 0h2m18 0h2m19 0h1m87 0h1m5 0h1m71 0h1m5 0h1m14 0h1m28 0h1m14 0h2m3 0h1m32 0h1m9 0h1m6 0h1m71 0h1m13 0h1m8 0h1m11 0h2m4 0h1m3 0h1m3 0h1m17 0h1m28 0h2m4 0h3m7 0h1m23 0h1m16 0h1m13 0h1m21 0h1m13 0h2m3 0h1m29 0h1m5 0h1m27 0h1m28 0h2m14 0h1m34 0h1m51 0h1m44 0h2m2 0h1m24 0h1m41 0h1m3 0h1m12 0h2m31 0h1m9 0h1m10 0h1m31 0h1m6 0h1m29 0h1M36 23.5h1m2 0h1m4 0h2m7 0h2m4 0h1m5 0h1m1 0h1m8 0h2m19 0h1m6 0h2m16 0h1m7 0h2m14 0h2m2 0h1m1 0h1m31 0h1m7 0h1m16 0h1m92 0h1m21 0h1m7 0h6m12 0h1m1 0h1m6 0h1m7 0h2m26 0h1m8 0h1m7 0h1m41 0h1m5 0h1m20 0h1m1 0h1m6 0h1m8 0h1m2 0h1m23 0h2m19 0h1m2 0h1m22 0h1m23 0h1m41 0h1m10 0h1m51 0h1m10 0h1m8 0h1m1 0h2m4 0h1m30 0h1m37 0h2m38 0h1m13 0h1m10 0h3m7 0h2m12 0h1m39 0h1m4 0h1m2 0h1m6 0h1m6 0h2m69 0h2m2 0h1m6 0h2m4 0h1m4 0h1m3 0h1m2 0h1m4 0h1m2 0h1m8 0h1m35 0h2m6 0h1m3 0h1m5 0h1m46 0h1m4 0h1m10 0h2M2 24.5h1m3 0h1m4 0h1m19 0h1m36 0h1m3 0h1m1 0h1m14 0h1m29 0h1m36 0h1m16 0h1m16 0h1m6 0h1m109 0h2m20 0h2m31 0h3m46 0h1m2 0h1m38 0h1m34 0h1m9 0h1m3 0h1m2 0h1m19 0h1m2 0h1m8 0h3m3 0h1m2 0h1m4 0h2m3 0h2m16 0h2m12 0h2m8 0h1m20 0h1m20 0h1m8 0h1m35 0h1m3 0h1m2 0h1m2 0h1m36 0h1m79 0h1m15 0h1m62 0h1m12 0h1m31 0h1m5 0h1m13 0h1m31 0h1m31 0h1m27 0h1m58 0h1m1 0h1m5 0h1m1 0h1m9 0h2m3 0h1m2 0h1m14 0h2m8 0h1M4 25.5h2m3 0h1m16 0h1m15 0h1m5 0h1m86 0h2m7 0h2m2 0h1m18 0h2m6 0h1m140 0h1m9 0h1m3 0h2m20 0h1m8 0h1m11 0h1m3 0h3m25 0h1m13 0h1m1 0h1m1 0h2m5 0h1m9 0h1m33 0h1m25 0h1m25 0h1m3 0h1m16 0h1m11 0h1m29 0h1m30 0h3m7 0h1m42 0h1m11 0h1m5 0h1m46 0h1m4 0h1m2 0h1m2 0h1m40 0h1m27 0h1m15 0h3m2 0h1m16 0h2m4 0h1m27 0h2m9 0h1m9 0h1m36 0h1m15 0h1m4 0h1m6 0h1m10 0h1m8 0h1m37 0h1m14 0h1m17 0h1m13 0h1m38 0h1m6 0h1m7 0h1M1 26.5h1m5 0h2m4 0h1m13 0h1m12 0h1m1 0h1m38 0h1m23 0h1m3 0h1m4 0h1m1 0h1m21 0h1m4 0h1m2 0h1m15 0h1m144 0h1m4 0h1m3 0h1m6 0h1m9 0h1m16 0h1m4 0h1m5 0h1m1 0h2m7 0h1m13 0h2m31 0h1m17 0h1m13 0h1m7 0h1m37 0h1m48 0h1m6 0h1m9 0h1m8 0h3m10 0h1m5 0h1m8 0h1m10 0h3m13 0h1m6 0h1m3 0h1m50 0h1m7 0h2m6 0h2m22 0h1m67 0h2m1 0h1m7 0h1m23 0h1m86 0h1m12 0h1m7 0h1m36 0h2m34 0h1m21 0h1m25 0h1m3 0h1m9 0h2m9 0h1m9 0h1m16 0h2m35 0h1m10 0h1m6 0h1m4 0h1m6 0h1m8 0h1M7 27.5h1m24 0h2m23 0h1m17 0h1m12 0h1m27 0h1m21 0h1m2 0h1m15 0h1m31 0h1m1 0h1m157 0h1m2 0h1m3 0h1m12 0h1m2 0h2m28 0h1m4 0h1m8 0h2m23 0h1m4 0h1m5 0h1m15 0h1m14 0h1m19 0h1m57 0h1m23 0h1m9 0h1m68 0h1m2 0h1m46 0h1m21 0h1m17 0h1m2 0h1m1 0h1m6 0h1m4 0h2m1 0h1m14 0h1m6 0h1m18 0h1m1 0h1m3 0h2m5 0h1m8 0h1m9 0h1m4 0h1m15 0h1m1 0h1m30 0h1m43 0h1m3 0h1m14 0h1m9 0h1m24 0h2m15 0h1m16 0h1m7 0h1m2 0h1m21 0h1m9 0h2m17 0h1m14 0h1m4 0h2m7 0h1m7 0h1m9 0h1m2 0h1M12 28.5h1m5 0h3m8 0h1m51 0h1m25 0h1m3 0h1m16 0h1m18 0h1m36 0h1m1 0h1m31 0h1m48 0h1m8 0h1m36 0h1m26 0h1m11 0h1m3 0h1m6 0h1m7 0h1m11 0h2m19 0h1m9 0h1m1 0h2m9 0h1m16 0h1m14 0h1m2 0h1m7 0h1m91 0h1m113 0h1m45 0h1m23 0h1m5 0h1m26 0h1m31 0h1m2 0h1m12 0h1m18 0h3m2 0h1m19 0h2m2 0h1m13 0h1m18 0h1m15 0h2m24 0h1m2 0h1m28 0h1m20 0h1m5 0h1m7 0h1m2 0h1m25 0h1m27 0h1m33 0h1m4 0h1m6 0h2m17 0h1m23 0h1m7 0h1m3 0h1m1 0h1m2 0h3M2 29.5h1m31 0h3m1 0h1m16 0h1m2 0h1m6 0h1m8 0h1m27 0h1m9 0h1m14 0h1m25 0h1m12 0h1m6 0h1m23 0h1m39 0h1m40 0h1m46 0h1m3 0h1m19 0h1m6 0h2m13 0h1m5 0h1m2 0h2m17 0h1m3 0h3m11 0h1m11 0h2m8 0h1m9 0h1m4 0h1m21 0h1m7 0h1m28 0h2m23 0h1m50 0h1m29 0h1m6 0h1m39 0h1m16 0h1m4 0h1m8 0h1m16 0h1m1 0h1m9 0h1m13 0h2m5 0h1m12 0h1m10 0h2m39 0h2m34 0h1m2 0h1m1 0h1m32 0h3m35 0h2m29 0h1m8 0h1m12 0h1m23 0h1m15 0h1m12 0h1m9 0h1m13 0h1m6 0h1m10 0h2m11 0h3m2 0h1m50 0h1m14 0h1m12 0h1m3 0h1m15 0h1M4 30.5h1m3 0h1m1 0h3m13 0h3m3 0h3m14 0h1m11 0h2m96 0h1m1 0h1m1 0h1m9 0h3m10 0h1m126 0h1m6 0h1m12 0h4m34 0h1m23 0h1m25 0h2m1 0h1m32 0h1m66 0h1m75 0h1m20 0h1m38 0h1m51 0h1m11 0h1m2 0h1m26 0h1m25 0h1m6 0h1m12 0h2m13 0h1m1 0h1m23 0h3m1 0h1m3 0h1m12 0h1m7 0h1m12 0h1m3 0h1m15 0h1m5 0h1m5 0h1m6 0h1m6 0h2m8 0h1m34 0h1m1 0h1m6 0h1m25 0h1m8 0h1m15 0h1m14 0h1m11 0h1m13 0h1m7 0h1m6 0h1m9 0h2m1 0h2m4 0h1m4 0h2m5 0h1m6 0h1m4 0h1m22 0h1m26 0h1M5 31.5h2m4 0h1m10 0h1m5 0h1m6 0h1m26 0h1m34 0h1m35 0h1m5 0h1m1 0h1m6 0h1m6 0h1m9 0h2m23 0h1m40 0h1m74 0h1m17 0h1m21 0h1m20 0h1m5 0h1m11 0h1m13 0h2m4 0h1m13 0h3m6 0h2m10 0h1m13 0h1m28 0h1m23 0h1m40 0h1m1 0h2m15 0h1m53 0h1m17 0h2m19 0h1m28 0h1m8 0h1m3 0h1m12 0h1m2 0h1m5 0h1m35 0h2m21 0h1m9 0h1m23 0h1m16 0h1m30 0h2m26 0h1m31 0h1m2 0h1m25 0h1m1 0h1m15 0h1m11 0h1m11 0h1m10 0h1m5 0h1m2 0h1m59 0h1m16 0h1m13 0h1m5 0h1m10 0h1m4 0h1m27 0h1m31 0h1m5 0h1M1 32.5h2m6 0h1m7 0h2m3 0h3m2 0h1m13 0h1m13 0h1m14 0h1m5 0h1m2 0h2m3 0h2m2 0h1m8 0h1m15 0h1m10 0h1m11 0h1m2 0h2m6 0h2m3 0h1m7 0h2m8 0h2m6 0h1m2 0h1m2 0h1m2 0h1m3 0h1m6 0h1m22 0h2m8 0h1m13 0h1m7 0h1m8 0h3m41 0h1m11 0h1m11 0h1m5 0h1m14 0h1m2 0h1m1 0h1m5 0h1m24 0h1m6 0h2m6 0h1m2 0h1m2 0h1m15 0h1m18 0h2m6 0h1m5 0h1m7 0h1m16 0h3m6 0h1m3 0h1m17 0h1m14 0h1m1 0h1m10 0h1m13 0h1m1 0h1m5 0h1m1 0h1m2 0h1m10 0h1m5 0h1m11 0h2m15 0h1m11 0h1m1 0h1m10 0h2m11 0h1m29 0h3m13 0h1m4 0h1m3 0h1m2 0h1m1 0h2m20 0h1m2 0h1m16 0h1m18 0h1m11 0h2m13 0h1m17 0h2m6 0h1m2 0h1m8 0h1m7 0h2m8 0h2m21 0h1m10 0h1m2 0h1m5 0h1m5 0h1m79 0h2m3 0h1m10 0h1m4 0h1m2 0h1m17 0h1m3 0h1m13 0h2m12 0h1m24 0h1m7 0h1m1 0h1m3 0h1m1 0h1m5 0h1m3 0h2m7 0h4m1 0h1m20 0h1m5 0h2m3 0h3m2 0h1m8 0h2m1 0h1m12 0h1m2 0h2m2 0h1M2 33.5h1m10 0h2m12 0h1m8 0h1m2 0h1m5 0h1m18 0h1m18 0h1m4 0h1m6 0h1m4 0h1m10 0h1m3 0h2m10 0h1m5 0h1m15 0h1m4 0h1m22 0h1m1 0h1m9 0h3m1 0h1m12 0h1m2 0h1m11 0h1m5 0h2m10 0h3m18 0h1m5 0h2m7 0h1m4 0h3m2 0h1m18 0h1m22 0h1m4 0h1m10 0h2m1 0h1m7 0h1m7 0h1m13 0h1m6 0h1m5 0h2m18 0h2m2 0h1m26 0h2m1 0h1m10 0h1m1 0h1m17 0h1m7 0h1m13 0h1m7 0h1m2 0h2m17 0h1m2 0h2m11 0h1m2 0h1m14 0h1m23 0h2m53 0h1m6 0h1m2 0h1m6 0h1m13 0h1m3 0h1m6 0h1m3 0h1m7 0h1m5 0h1m7 0h1m1 0h1m14 0h1m17 0h1m10 0h1m13 0h1m1 0h1m6 0h2m10 0h1m2 0h1m1 0h1m4 0h1m4 0h1m13 0h1m2 0h2m2 0h1m6 0h1m8 0h1m9 0h2m9 0h1m4 0h1m20 0h1m2 0h2m14 0h1m1 0h2m6 0h2m1 0h1m7 0h1m3 0h1m15 0h2m8 0h1m6 0h1m2 0h2m6 0h1m3 0h1m4 0h1m17 0h1m10 0h2m15 0h1m7 0h1m4 0h1m1 0h1m2 0h3m3 0h1m4 0h1m1 0h1m10 0h1m3 0h1m3 0h1m1 0h3m6 0h1m1 0h1m21 0h1m12 0h1m10 0h1m3 0h1m4 0h1m2 0h1m28 0h1m5 0h1m5 0h1m1 0h1M0 34.5h1m7 0h1m6 0h1m8 0h1m9 0h1m13 0h2m3 0h1m6 0h1m10 0h1m10 0h1m19 0h2m10 0h1m11 0h1m4 0h1m5 0h2m2 0h1m12 0h2m4 0h1m14 0h1m5 0h1m6 0h1m16 0h1m20 0h1m6 0h1m24 0h1m7 0h1m3 0h1m1 0h1m2 0h4m4 0h1m8 0h1m1 0h1m4 0h1m20 0h1m12 0h2m2 0h1m7 0h1m4 0h1m4 0h2m1 0h3m1 0h2m9 0h3m1 0h1m5 0h2m14 0h1m13 0h1m2 0h1m10 0h1m3 0h2m3 0h1m4 0h1m2 0h1m11 0h1m8 0h1m3 0h2m9 0h3m12 0h1m6 0h3m16 0h3m5 0h2m2 0h1m5 0h1m7 0h1m1 0h1m11 0h1m8 0h1m10 0h1m8 0h1m2 0h1m10 0h1m6 0h2m20 0h1m9 0h1m9 0h1m10 0h1m1 0h1m8 0h1m15 0h1m3 0h1m19 0h1m11 0h1m40 0h2m11 0h1m5 0h1m3 0h1m2 0h2m4 0h2m62 0h1m3 0h1m8 0h3m27 0h1m23 0h1m1 0h1m10 0h2m13 0h1m1 0h1m4 0h1m1 0h2m11 0h1m42 0h1m11 0h1m2 0h1m7 0h1m3 0h1m4 0h1m14 0h2m1 0h1m4 0h1m4 0h1m3 0h1m3 0h2m3 0h1m17 0h1m9 0h1m8 0h1m19 0h1m14 0h1m5 0h1m1 0h1m4 0h2m2 0h1m3 0h2M2 35.5h4m8 0h2m38 0h1m13 0h1m10 0h1m24 0h1m24 0h1m2 0h1m5 0h1m6 0h1m11 0h1m1 0h1m9 0h1m2 0h1m13 0h2m7 0h1m1 0h1m1 0h2m5 0h1m3 0h1m6 0h1m11 0h2m7 0h1m10 0h2m18 0h1m7 0h1m1 0h2m2 0h1m6 0h1m22 0h1m1 0h1m1 0h1m6 0h1m30 0h1m11 0h1m5 0h1m2 0h1m16 0h3m7 0h3m9 0h1m17 0h1m1 0h1m3 0h2m4 0h1m17 0h1m10 0h1m7 0h1m9 0h2m21 0h1m4 0h1m7 0h1m7 0h1m2 0h1m1 0h1m4 0h1m17 0h2m7 0h1m11 0h1m2 0h1m6 0h2m2 0h2m2 0h2m9 0h1m23 0h1m5 0h1m13 0h1m6 0h1m2 0h2m11 0h1m3 0h1m5 0h1m3 0h1m36 0h1m13 0h1m24 0h1m4 0h1m12 0h1m6 0h1m1 0h1m7 0h1m1 0h2m20 0h2m15 0h1m13 0h1m3 0h1m12 0h4m13 0h1m7 0h2m4 0h1m4 0h1m13 0h1m12 0h1m5 0h1m2 0h1m11 0h1m2 0h1m11 0h1m7 0h1m20 0h1m3 0h1m8 0h1m14 0h1m5 0h3m9 0h2m9 0h1m14 0h1m3 0h1m7 0h2m1 0h1m41 0h1m9 0h1m1 0h1m2 0h2m23 0h2m4 0h1m10 0h1M18 36.5h1m4 0h1m4 0h1m5 0h4m25 0h1m9 0h1m2 0h2m11 0h1m6 0h1m8 0h2m10 0h1m1 0h1m63 0h2m5 0h1m5 0h1m9 0h1m23 0h1m13 0h1m20 0h1m3 0h1m1 0h2m1 0h1m21 0h2m4 0h2m17 0h2m28 0h1m1 0h1m12 0h1m19 0h1m17 0h1m17 0h1m7 0h1m34 0h2m20 0h1m24 0h1m2 0h1m3 0h1m18 0h1m18 0h1m12 0h1m6 0h1m5 0h1m9 0h1m12 0h1m10 0h1m4 0h2m9 0h1m25 0h1m2 0h1m7 0h1m11 0h1m11 0h1m24 0h2m6 0h1m11 0h1m3 0h1m6 0h1m36 0h1m40 0h1m10 0h1m23 0h1m23 0h1m3 0h1m30 0h1m2 0h1m7 0h1m5 0h1m2 0h1m10 0h1m28 0h1m22 0h1m24 0h1m5 0h1m45 0h1m12 0h2m7 0h2m12 0h1m29 0h1m14 0h1m10 0h2M22 37.5h1m62 0h1m75 0h1m39 0h1m91 0h1m10 0h1m73 0h2m8 0h1m29 0h3m51 0h1m5 0h1m107 0h1m94 0h1m101 0h1m9 0h2m3 0h1m54 0h1m3 0h2m8 0h1m1 0h1m2 0h2m87 0h1m22 0h1m31 0h1m24 0h1m66 0h1m3 0h1m27 0h1M39 38.5h1m6 0h1m5 0h1m21 0h1m10 0h1m4 0h1m29 0h1m42 0h1m17 0h1m49 0h1m3 0h2m59 0h1m22 0h1m3 0h1m10 0h1m21 0h1m39 0h1m52 0h1m84 0h1m25 0h1m1 0h1m6 0h1m29 0h1m4 0h1m25 0h2m12 0h1m22 0h1m8 0h2m7 0h1m2 0h1m28 0h1m19 0h1m21 0h1m9 0h1m11 0h1m9 0h1m22 0h1m10 0h1m9 0h1m23 0h1m5 0h1m8 0h1m4 0h1m8 0h3m6 0h2m8 0h1m12 0h1m57 0h1m13 0h1m16 0h1m13 0h1m8 0h1m20 0h1m6 0h1m44 0h1m26 0h1m4 0h2M6 39.5h1m1 0h1m67 0h1m11 0h1m61 0h1m41 0h2m17 0h1m5 0h1m19 0h1m11 0h1m15 0h1m6 0h1m25 0h1m2 0h1m2 0h1m26 0h1m38 0h1m5 0h1m17 0h1m9 0h1m22 0h1m14 0h2m7 0h1m9 0h1m8 0h1m4 0h1m1 0h1m34 0h1m16 0h2m6 0h1m11 0h1m6 0h1m20 0h2m1 0h2m7 0h3m5 0h2m5 0h1m10 0h1m4 0h1m14 0h1m48 0h2m14 0h2m8 0h1m215 0h1m11 0h1m26 0h3m11 0h2m7 0h1m10 0h1m6 0h1m30 0h2m7 0h1m24 0h1m46 0h1m8 0h1m17 0h1m13 0h1m37 0h1M21 40.5h2m27 0h1m2 0h2m4 0h1m4 0h1m1 0h1m11 0h1m5 0h1m14 0h1m10 0h1m20 0h2m3 0h1m11 0h1m6 0h1m10 0h1m25 0h1m12 0h2m24 0h1m3 0h1m1 0h1m2 0h1m7 0h1m19 0h1m100 0h1m13 0h2m28 0h1m4 0h1m4 0h1m3 0h1m9 0h1m28 0h1m6 0h1m1 0h1m5 0h1m38 0h1m3 0h2m63 0h1m14 0h1m18 0h1m4 0h1m59 0h1m13 0h1m19 0h4m2 0h1m2 0h1m23 0h1m13 0h1m19 0h1m8 0h1m25 0h1m15 0h1m1 0h1m13 0h1m48 0h1m1 0h1m4 0h2m16 0h1m1 0h1m16 0h1m8 0h2m50 0h1m43 0h1m11 0h1m23 0h1m1 0h1m34 0h1m18 0h1m10 0h1m1 0h1m14 0h2m1 0h1m7 0h1m2 0h1m5 0h1M10 41.5h1m35 0h3m5 0h1m35 0h1m2 0h1m12 0h1m23 0h1m13 0h3m1 0h1m3 0h1m12 0h1m27 0h1m6 0h1m1 0h1m24 0h1m7 0h1m12 0h2m9 0h1m3 0h1m88 0h1m12 0h1m3 0h1m8 0h1m124 0h1m46 0h1m13 0h1m16 0h2m21 0h1m7 0h1m35 0h1m2 0h1m5 0h2m10 0h2m1 0h1m4 0h1m25 0h1m218 0h1m1 0h2m10 0h1m24 0h1m16 0h1m19 0h1m34 0h1m41 0h1m36 0h2m2 0h1m8 0h1m8 0h1m50 0h3M1 42.5h2m1 0h1m1 0h1m5 0h1m11 0h1m25 0h1m16 0h1m21 0h1m2 0h3m5 0h1m4 0h1m18 0h1m9 0h2m26 0h2m7 0h1m5 0h1m33 0h1m24 0h1m1 0h1m1 0h2m11 0h1m7 0h2m33 0h1m34 0h1m37 0h2m6 0h1m27 0h1m7 0h1m3 0h3m76 0h2m3 0h2m12 0h2m10 0h1m5 0h2m27 0h2m6 0h1m14 0h1m26 0h2m15 0h2m1 0h2m17 0h1m7 0h2m5 0h2m6 0h2m2 0h1m24 0h1m21 0h1m2 0h2m3 0h1m1 0h1m2 0h1m2 0h1m34 0h1m23 0h1m1 0h1m75 0h1m20 0h1m14 0h1m7 0h1m52 0h1m13 0h1m3 0h1m15 0h1m1 0h1m27 0h1m16 0h1m1 0h1m2 0h1m18 0h1m8 0h2m2 0h1m4 0h1m21 0h1m37 0h2m2 0h1m15 0h1m17 0h1M2 43.5h1m17 0h2m25 0h1m3 0h4m3 0h1m11 0h2m18 0h1m10 0h1m7 0h2m3 0h1m18 0h1m1 0h1m6 0h1m5 0h1m9 0h1m23 0h1m31 0h1m7 0h1m21 0h1m26 0h1m10 0h2m3 0h1m22 0h1m1 0h2m9 0h2m23 0h1m18 0h1m7 0h1m31 0h1m85 0h1m11 0h1m21 0h1m38 0h1m62 0h1m23 0h1m14 0h1m30 0h1m5 0h1m196 0h1m151 0h1m7 0h1m2 0h1m21 0h1m8 0h2m12 0h1m3 0h1m9 0h1m9 0h1m3 0h1m12 0h3M8 44.5h2m11 0h1m4 0h1m26 0h1m8 0h2m8 0h2m5 0h1m1 0h1m1 0h1m3 0h1m6 0h2m21 0h1m22 0h2m11 0h1m14 0h1m7 0h1m2 0h1m10 0h2m12 0h1m6 0h1m5 0h1m14 0h1m4 0h1m3 0h1m15 0h1m11 0h1m4 0h2m17 0h1m9 0h1m2 0h1m21 0h1m8 0h1m10 0h1m1 0h1m12 0h1m10 0h2m14 0h1m11 0h1m48 0h1m101 0h1m25 0h1m11 0h1m73 0h1m33 0h1m1 0h1m117 0h1m23 0h1m5 0h1m16 0h1m117 0h1m5 0h1m46 0h1m1 0h1m9 0h1m13 0h1m4 0h1m1 0h2m12 0h4m2 0h1m1 0h1m14 0h1m4 0h1m2 0h1m18 0h2m4 0h1m3 0h1m8 0h1m3 0h1m19 0h1m1 0h1M2 45.5h1m15 0h1m17 0h1m27 0h1m33 0h1m1 0h1m13 0h1m33 0h1m2 0h1m1 0h1m10 0h1m6 0h1m9 0h1m1 0h1m6 0h2m2 0h2m1 0h1m17 0h1m1 0h1m38 0h1m23 0h1m30 0h1m22 0h1m1 0h1m16 0h1m21 0h1m11 0h1m1 0h2m7 0h1m23 0h2m117 0h1m140 0h1m11 0h1m190 0h1m7 0h4m40 0h1m39 0h1m5 0h1m33 0h2m6 0h1m25 0h1m12 0h1m3 0h2m8 0h1m26 0h1m38 0h1m16 0h1m3 0h3m15 0h3M8 46.5h1m6 0h1m4 0h1m11 0h1m6 0h1m6 0h2m29 0h1m23 0h1m12 0h1m14 0h1m24 0h2m6 0h1m17 0h1m2 0h1m14 0h2m48 0h1m23 0h1m17 0h1m47 0h1m15 0h1m23 0h1m18 0h1m186 0h1m48 0h1m12 0h1m6 0h2m1 0h1m35 0h1m56 0h1m40 0h1m4 0h1m65 0h1m16 0h1m9 0h1m145 0h1m36 0h1m36 0h1m10 0h1m10 0h1m2 0h1m9 0h1m2 0h1m8 0h2m1 0h1m11 0h1m4 0h1m10 0h2M32 47.5h1m17 0h1m17 0h2m15 0h2m7 0h1m19 0h1m2 0h1m14 0h2m7 0h1m15 0h1m8 0h1m13 0h1m27 0h1m13 0h1m2 0h1m50 0h1m3 0h3m7 0h1m4 0h1m15 0h2m2 0h2m34 0h1m9 0h1m13 0h1m1 0h1m8 0h1m24 0h1m19 0h1m38 0h1m151 0h1m74 0h1m18 0h1m9 0h1m3 0h1m91 0h1m87 0h1m31 0h1m87 0h1m8 0h2m10 0h1m23 0h1m10 0h1m24 0h1m13 0h1m35 0h1m28 0h1M34 48.5h1m1 0h1m6 0h1m3 0h1m28 0h1m1 0h2m14 0h1m1 0h1m17 0h1m12 0h1m4 0h1m63 0h1m1 0h3m10 0h1m40 0h1m32 0h2m17 0h1m21 0h1m8 0h1m1 0h1m30 0h1m91 0h1m36 0h1m20 0h1m12 0h1m34 0h1m50 0h1m21 0h1m14 0h1m10 0h1m1 0h2m32 0h1m88 0h1m119 0h1m19 0h1m5 0h1m19 0h1m17 0h1m85 0h2m5 0h2m5 0h2m12 0h1m10 0h1m15 0h1m2 0h1m4 0h1m15 0h1m23 0h1m2 0h2m5 0h1m2 0h2m1 0h1m17 0h1M28 49.5h1m40 0h1m19 0h1m5 0h1m62 0h1m22 0h3m4 0h1m21 0h1m43 0h1m35 0h1m11 0h1m2 0h1m13 0h1m4 0h1m43 0h1m3 0h1m148 0h1m12 0h1m10 0h1m76 0h2m144 0h1m11 0h1m2 0h1m72 0h1m80 0h1m57 0h1m28 0h1m26 0h1m6 0h1m48 0h2M22 50.5h1m5 0h1m8 0h2m1 0h1m8 0h1m27 0h2m34 0h1m12 0h1m45 0h1m8 0h2m13 0h1m7 0h1m9 0h1m16 0h1m2 0h1m8 0h1m20 0h1m17 0h1m49 0h1m3 0h1m1 0h1m32 0h1m14 0h1m51 0h1m36 0h1m4 0h1m5 0h1m29 0h1m17 0h1m17 0h1m13 0h1m24 0h1m22 0h1m4 0h1m21 0h1m10 0h1m20 0h1m19 0h1m32 0h2m2 0h2m2 0h1m25 0h1m35 0h1m27 0h1m6 0h2m44 0h1m13 0h1m19 0h2m51 0h2m39 0h1m25 0h1m21 0h1m11 0h1m2 0h1m2 0h1m2 0h1m11 0h1m1 0h1m28 0h1m4 0h1m14 0h1m21 0h1m4 0h2m5 0h1m7 0h1m5 0h1M37 51.5h1m3 0h1m24 0h1m13 0h2m47 0h1m17 0h1m9 0h1m27 0h1m30 0h1m7 0h1m17 0h1m39 0h1m9 0h1m25 0h1m10 0h1m3 0h1m36 0h1m23 0h1m41 0h1m1 0h1m8 0h1m49 0h1m5 0h1m19 0h2m5 0h1m15 0h1m1 0h2m5 0h2m64 0h1m1 0h1m9 0h1m31 0h1m13 0h1m10 0h1m3 0h1m30 0h2m39 0h1m110 0h1m75 0h2m1 0h1m10 0h1m10 0h1m7 0h1m7 0h4m3 0h1m13 0h1m1 0h1m7 0h1m4 0h1m4 0h1m15 0h1m1 0h1m35 0h2m29 0h1m7 0h1m65 0h1M1 52.5h1m4 0h1m22 0h2m10 0h1m15 0h1m33 0h1m1 0h1m16 0h1m6 0h2m27 0h1m9 0h1m2 0h1m14 0h1m38 0h1m86 0h1m11 0h1m31 0h1m12 0h1m32 0h1m3 0h1m46 0h1m5 0h1m61 0h1m9 0h1m1 0h1m10 0h1m1 0h1m12 0h1m13 0h1m20 0h1m17 0h1m13 0h1m27 0h1m7 0h1m3 0h1m2 0h1m7 0h1m29 0h2m15 0h1m94 0h1m110 0h1m5 0h2m10 0h1m7 0h1m1 0h1m6 0h1m1 0h1m1 0h1m20 0h1m6 0h1m3 0h1m3 0h1m13 0h1m5 0h1m9 0h1m1 0h1m20 0h1m73 0h1M0 53.5h1m7 0h1m4 0h1m23 0h3m12 0h1m33 0h1m2 0h2m5 0h1m6 0h1m2 0h1m12 0h1m32 0h1m44 0h1m16 0h1m32 0h2m63 0h1m19 0h1m12 0h1m69 0h1m5 0h1m6 0h2m6 0h1m4 0h1m19 0h1m14 0h1m2 0h1m2 0h2m27 0h1m12 0h1m22 0h1m17 0h5m24 0h2m6 0h1m1 0h1m3 0h1m16 0h1m5 0h1m5 0h2m4 0h1m24 0h1m14 0h1m4 0h1m25 0h2m82 0h1m2 0h1m7 0h1m5 0h1m1 0h1m54 0h1m11 0h1m37 0h1m17 0h1m4 0h1m4 0h1m2 0h2m5 0h1m3 0h3m1 0h1m1 0h1m11 0h1m1 0h1m18 0h1m8 0h1m4 0h1m1 0h1m1 0h1m4 0h1m6 0h1m15 0h3m1 0h1m1 0h1m1 0h2m56 0h1m38 0h1m40 0h1M24 54.5h1m12 0h1m7 0h1m26 0h1m3 0h1m24 0h1m13 0h4m17 0h1m16 0h1m6 0h1m7 0h2m85 0h1m60 0h1m10 0h1m66 0h1m34 0h1m14 0h1m8 0h1m2 0h1m23 0h1m53 0h1m16 0h1m10 0h3m11 0h1m49 0h1m18 0h1m12 0h1m2 0h1m45 0h1m41 0h1m10 0h2m39 0h1m24 0h1m51 0h1m13 0h1m4 0h2m3 0h1m33 0h1m27 0h1m10 0h1m2 0h1m2 0h2m18 0h1m19 0h2m4 0h1m15 0h2m11 0h1m62 0h1m25 0h1m5 0h1m8 0h1m23 0h2M24 55.5h1m6 0h2m68 0h1m26 0h1m5 0h1m14 0h1m22 0h1m12 0h1m10 0h1m113 0h1m13 0h1m8 0h1m3 0h1m14 0h1m10 0h1m5 0h1m1 0h1m24 0h1m15 0h1m45 0h2m3 0h1m10 0h1m11 0h1m20 0h1m7 0h1m1 0h1m14 0h1m7 0h1m20 0h2m1 0h1m31 0h1m12 0h1m8 0h1m3 0h1m5 0h1m25 0h1m26 0h1m26 0h1m1 0h1m17 0h2m45 0h1m70 0h1m75 0h1m4 0h1m2 0h1m4 0h1m1 0h1m8 0h2m1 0h5m1 0h1m7 0h1m3 0h2m1 0h4m6 0h2m1 0h1m8 0h1m9 0h1m7 0h1m5 0h1m34 0h1m18 0h2m56 0h1m35 0h1M5 56.5h1m4 0h1m26 0h1m15 0h1m37 0h1m17 0h1m75 0h1m16 0h1m32 0h1m8 0h3m9 0h1m41 0h1m9 0h1m5 0h1m4 0h1m29 0h1m2 0h1m36 0h1m13 0h1m4 0h1m1 0h1m14 0h2m43 0h1m43 0h1m8 0h1m3 0h1m12 0h2m13 0h1m3 0h1m18 0h1m15 0h1m4 0h1m3 0h2m17 0h1m18 0h1m19 0h1m48 0h1m1 0h1m21 0h1m5 0h1m4 0h1m35 0h1m12 0h2m7 0h2m25 0h1m53 0h1m7 0h1m8 0h2m8 0h1m15 0h1m18 0h1m1 0h1m2 0h1m4 0h2m19 0h1m3 0h1m4 0h1m2 0h1m3 0h1m14 0h2m1 0h1m1 0h1m2 0h1m4 0h1m4 0h1m8 0h1m13 0h1m11 0h1M4 57.5h1m9 0h1m26 0h2m12 0h2m20 0h1m3 0h2m11 0h2m3 0h1m34 0h1m28 0h1m8 0h1m15 0h1m6 0h2m15 0h3m4 0h1m15 0h1m6 0h1m13 0h3m10 0h1m18 0h5m1 0h1m4 0h1m35 0h2m5 0h1m3 0h1m42 0h1m20 0h1m8 0h1m6 0h1m6 0h1m11 0h1m10 0h1m7 0h1m6 0h1m55 0h1m13 0h1m3 0h1m8 0h2m6 0h1m15 0h1m20 0h1m18 0h1m10 0h4m7 0h1m2 0h2m19 0h1m3 0h1m10 0h1m5 0h1m9 0h1m7 0h2m3 0h1m15 0h1m8 0h1m10 0h1m33 0h1m6 0h1m37 0h1m12 0h1m1 0h1m26 0h1m31 0h1m6 0h1m6 0h1m39 0h1m6 0h1m8 0h1m18 0h2m12 0h1m2 0h1m2 0h2m1 0h2m16 0h1m5 0h1m1 0h1m11 0h3m1 0h1"/>
<path stroke="#28AE80" d="M5 0.5h1m4 0h1m1 0h3m10 0h1m5 0h1m19 0h1m3 0h1m16 0h4m6 0h1m1 0h1m3 0h2m12 0h1m5 0h1m7 0h2m5 0h1m2 0h1m10 0h1m53 0h1m1 0h1m3 0h1m9 0h1m8 0h1m9 0h1m1 0h1m44 0h1m18 0h2m28 0h1m14 0h1m2 0h1m3 0h1m3 0h1m12 0h1m13 0h1m4 0h2m6 0h1m29 0h1m29 0h2m43 0h1m15 0h1m16 0h2m4 0h1m3 0h1m4 0h1m30 0h1m24 0h3m6 0h1m4 0h2m26 0h1m3 0h1m23 0h1m41 0h1m1 0h1m37 0h1m9 0h1m38 0h1m21 0h2m34 0h1m4 0h1m55 0h1m42 0h3m10 0h1m43 0h1m6 0h1m3 0h2m37 0h2m8 0h2m6 0h1m24 0h1m22 0h1m6 0h1m32 0h1m15 0h1M4 1.5h1m14 0h2m5 0h1m17 0h1m2 0h1m6 0h1m6 0h1m7 0h1m13 0h2m6 0h1m3 0h1m24 0h1m3 0h1m27 0h1m2 0h1m1 0h1m6 0h2m6 0h1m3 0h1m24 0h1m6 0h1m59 0h1m5 0h2m21 0h1m17 0h1m3 0h1m6 0h1m144 0h2m2 0h1m42 0h1m14 0h2m55 0h1m2 0h1m1 0h1m44 0h1m43 0h1m22 0h1m27 0h1m54 0h1m12 0h1m5 0h1m1 0h1m44 0h1m5 0h1m15 0h1m24 0h1m14 0h1m4 0h1m28 0h1m42 0h1m6 0h1m1 0h2m9 0h1m16 0h1m55 0h1m15 0h1m12 0h1m21 0h1m38 0h1m3 0h1M8 2.5h2m12 0h1m6 0h2m3 0h3m7 0h1m6 0h1m5 0h1m30 0h1m2 0h1m4 0h1m7 0h1m4 0h1m2 0h1m4 0h1m11 0h1m2 0h1m6 0h1m14 0h1m9 0h1m7 0h1m3 0h1m21 0h1m1 0h1m8 0h1m33 0h1m6 0h1m2 0h2m14 0h1m32 0h1m9 0h1m212 0h2m17 0h1m61 0h1m64 0h2m11 0h1m5 0h1m33 0h1m24 0h1m16 0h1m38 0h1m19 0h1m14 0h1m58 0h1m4 0h1m8 0h1m26 0h1m53 0h1m19 0h1m66 0h1m23 0h1m2 0h1m11 0h1m60 0h1M60 3.5h1m61 0h1m46 0h3m48 0h1m10 0h1m35 0h1m25 0h1m3 0h1m10 0h1m8 0h1m6 0h1m3 0h1m27 0h1m20 0h1m9 0h1m20 0h1m5 0h2m30 0h1m33 0h1m2 0h1m46 0h3m11 0h1m6 0h1m2 0h1m4 0h2m7 0h1m11 0h1m21 0h1m66 0h1m10 0h1m2 0h1m1 0h1m13 0h1m45 0h1m7 0h1m32 0h1m27 0h1m58 0h1m18 0h2m5 0h1m23 0h2m10 0h1m1 0h1m5 0h1m10 0h3m16 0h1m32 0h1m7 0h3m57 0h1m40 0h1m24 0h2m3 0h1m10 0h1m8 0h1m24 0h1M11 4.5h1m12 0h2m20 0h1m24 0h1m9 0h1m5 0h1m32 0h1m29 0h1m8 0h1m21 0h1m18 0h1m20 0h1m18 0h1m11 0h1m8 0h1m16 0h1m15 0h1m3 0h1m2 0h1m17 0h1m15 0h1m9 0h1m20 0h1m81 0h1m25 0h1m16 0h2m7 0h1m6 0h1m29 0h1m10 0h1m27 0h2m8 0h1m43 0h1m17 0h1m18 0h1m6 0h2m1 0h1m13 0h1m28 0h1m6 0h1m40 0h1m7 0h1m35 0h1m41 0h1m17 0h1m7 0h1m4 0h1m8 0h1m2 0h1m61 0h1M8 5.5h2m3 0h1m2 0h2m10 0h1m23 0h1m19 0h1m1 0h3m7 0h1m2 0h1m11 0h1m6 0h1m10 0h1m2 0h1m15 0h1m5 0h1m11 0h3m37 0h1m14 0h1m12 0h1m4 0h1m11 0h2m19 0h1m32 0h1m45 0h1m34 0h1m37 0h1m62 0h1m3 0h1m63 0h1m137 0h1m6 0h1m19 0h2m2 0h1m4 0h1m44 0h1m35 0h1m32 0h1m7 0h1m64 0h1m61 0h1m19 0h1m1 0h1m55 0h1m6 0h1m37 0h1m7 0h1m6 0h1m12 0h1m4 0h1m59 0h1M3 6.5h1m29 0h1m30 0h1m12 0h1m5 0h1m18 0h2m85 0h1m11 0h2m30 0h1m31 0h1m2 0h3m60 0h1m20 0h1m22 0h1m24 0h1m1 0h1m4 0h1m6 0h1m4 0h1m11 0h1m66 0h1m4 0h2m13 0h1m28 0h1m25 0h1m6 0h1m2 0h3m22 0h1m10 0h1m9 0h1m11 0h1m36 0h2m15 0h1m3 0h1m4 0h1m2 0h1m44 0h1m1 0h1m18 0h1m7 0h1m24 0h1m22 0h1m27 0h2m1 0h1m5 0h1m48 0h1m28 0h1m5 0h1m16 0h2m19 0h1m59 0h2m34 0h3m5 0h1m9 0h1m29 0h1m30 0h1M15 7.5h1m6 0h1m26 0h1m6 0h1m2 0h1m7 0h2m7 0h1m13 0h1m1 0h1m1 0h2m4 0h1m2 0h1m11 0h1m3 0h1m12 0h1m2 0h1m2 0h2m10 0h1m21 0h1m17 0h1m10 0h1m4 0h1m6 0h2m3 0h2m16 0h2m6 0h1m5 0h1m15 0h1m16 0h2m10 0h1m14 0h1m4 0h1m4 0h1m23 0h1m4 0h3m55 0h1m4 0h1m10 0h1m27 0h1m33 0h1m8 0h1m18 0h1m63 0h1m5 0h1m14 0h1m14 0h1m4 0h1m46 0h1m45 0h1m5 0h1m4 0h1m24 0h1m17 0h1m25 0h1m11 0h1m2 0h1m50 0h2m35 0h1m22 0h1m34 0h1m16 0h1m12 0h1m33 0h1m8 0h2m4 0h1m19 0h1m15 0h1m55 0h1m6 0h1m20 0h1m12 0h1m21 0h1M0 8.5h1m2 0h1m18 0h3m4 0h1m12 0h1m23 0h1m6 0h3m4 0h1m24 0h1m16 0h1m11 0h1m19 0h1m8 0h1m37 0h1m8 0h1m14 0h3m25 0h1m11 0h2m11 0h1m6 0h1m2 0h1m55 0h1m129 0h1m62 0h1m8 0h1m2 0h1m7 0h2m29 0h1m23 0h1m56 0h1m34 0h1m24 0h1m9 0h1m9 0h1m8 0h1m16 0h1m16 0h1m1 0h1m28 0h1m7 0h1m16 0h2m7 0h1m29 0h1m6 0h1m16 0h2m32 0h1m20 0h1m10 0h1m1 0h1m59 0h2M3 9.5h3m37 0h1m14 0h1m24 0h1m34 0h1m11 0h1m9 0h3m12 0h1m17 0h2m19 0h1m2 0h1m2 0h1m7 0h1m9 0h1m8 0h2m5 0h1m5 0h1m1 0h1m19 0h1m11 0h1m9 0h2m5 0h1m27 0h1m19 0h1m69 0h1m20 0h1m2 0h1m13 0h1m16 0h1m42 0h1m63 0h1m14 0h1m8 0h1m1 0h1m47 0h1m14 0h1m32 0h1m7 0h1m17 0h1m65 0h1m27 0h1m78 0h1m49 0h2m12 0h2m3 0h1m5 0h1m30 0h1m6 0h1m23 0h1m49 0h1m4 0h2m6 0h1m44 0h1M24 10.5h1m25 0h1m1 0h1m6 0h2m5 0h2m4 0h1m30 0h1m23 0h1m28 0h1m2 0h1m40 0h1m4 0h1m18 0h2m19 0h1m11 0h1m2 0h1m30 0h1m1 0h1m1 0h1m1 0h2m162 0h1m23 0h1m38 0h1m13 0h1m2 0h2m111 0h2m17 0h1m28 0h1m37 0h1m18 0h1m12 0h1m5 0h1m71 0h1m81 0h1m22 0h1m28 0h1m38 0h1m18 0h1m27 0h1m14 0h1m39 0h1m28 0h1M7 11.5h1m17 0h2m2 0h2m2 0h1m30 0h3m3 0h1m4 0h1m4 0h1m33 0h1m19 0h1m13 0h1m4 0h1m64 0h1m32 0h1m65 0h1m29 0h1m46 0h1m8 0h1m4 0h1m13 0h2m23 0h1m10 0h1m12 0h1m4 0h1m15 0h3m50 0h1m19 0h1m51 0h1m4 0h1m2 0h1m29 0h2m12 0h2m12 0h1m6 0h1m22 0h1m34 0h4m41 0h1m8 0h3m20 0h2m16 0h1m8 0h1m17 0h1m3 0h1m13 0h1m14 0h1m69 0h1m71 0h1m15 0h1m17 0h3m13 0h1m13 0h1m9 0h1m4 0h1m6 0h1m17 0h1m8 0h1m6 0h1m31 0h1M19 12.5h1m2 0h1m22 0h1m7 0h1m7 0h1m24 0h1m13 0h1m10 0h1m24 0h1m47 0h1m9 0h1m7 0h1m17 0h2m25 0h1m29 0h1m11 0h2m1 0h1m14 0h4m2 0h1m4 0h1m6 0h1m18 0h1m1 0h2m7 0h1m11 0h1m19 0h2m64 0h1m13 0h1m46 0h1m9 0h2m87 0h1m5 0h1m6 0h1m7 0h1m29 0h1m27 0h2m16 0h1m55 0h1m79 0h1m85 0h1m18 0h2m2 0h3m3 0h1m15 0h1m1 0h2m18 0h1m1 0h2m1 0h1m25 0h1m2 0h1m4 0h1m1 0h1m9 0h1m5 0h1m20 0h1m8 0h1m4 0h1m6 0h1m43 0h2M24 13.5h1m17 0h1m3 0h1m19 0h1m2 0h1m3 0h1m3 0h1m4 0h1m10 0h1m2 0h1m9 0h1m5 0h1m12 0h1m1 0h1m24 0h1m173 0h1m16 0h1m22 0h1m119 0h1m29 0h1m33 0h2m3 0h1m9 0h1m9 0h1m65 0h1m12 0h1m6 0h1m19 0h1m7 0h1m7 0h2m12 0h1m220 0h1m1 0h1m26 0h1m28 0h1m17 0h1m8 0h1m3 0h1m6 0h1m12 0h1m6 0h1m1 0h1m14 0h1m73 0h1m16 0h1m5 0h1m17 0h2m5 0h1m3 0h1M51 14.5h1m20 0h1m17 0h2m14 0h1m11 0h1m16 0h1m2 0h1m15 0h1m24 0h1m122 0h1m3 0h1m5 0h1m2 0h2m6 0h1m2 0h1m1 0h2m9 0h3m215 0h1m3 0h1m75 0h1m17 0h1m22 0h2m35 0h1m91 0h1m125 0h1m36 0h1m3 0h2m7 0h3m36 0h1m31 0h1m32 0h1m3 0h1m1 0h1m39 0h1m42 0h1m4 0h1m1 0h1M15 15.5h1m7 0h1m9 0h1m12 0h1m12 0h1m5 0h1m60 0h4m27 0h1m46 0h1m2 0h1m26 0h1m1 0h1m1 0h1m1 0h1m7 0h1m38 0h1m22 0h1m5 0h1m7 0h1m12 0h1m28 0h1m21 0h2m11 0h1m34 0h1m44 0h1m5 0h1m5 0h1m34 0h1m1 0h1m6 0h1m12 0h1m7 0h1m31 0h1m7 0h1m37 0h1m16 0h1m7 0h1m1 0h1m14 0h1m16 0h1m12 0h1m8 0h1m43 0h1m29 0h1m61 0h1m58 0h1m21 0h1m12 0h1m19 0h1m10 0h1m40 0h1m13 0h1m14 0h3m16 0h2m6 0h2m16 0h1m64 0h1m24 0h1m5 0h1M15 16.5h1m73 0h1m30 0h1m92 0h1m75 0h2m72 0h1m2 0h1m1 0h1m4 0h1m25 0h1m10 0h1m15 0h1m37 0h1m14 0h1m24 0h1m9 0h1m58 0h1m76 0h1m368 0h2M62 17.5h1m109 0h1m70 0h1m13 0h1m29 0h2m27 0h1m156 0h1m137 0h1M1 18.5h1m79 0h2m25 0h1m6 0h2m24 0h1m19 0h1m6 0h1m76 0h1m20 0h1m12 0h1m83 0h1m48 0h1m56 0h1m11 0h1m25 0h2m7 0h2m53 0h1m9 0h1m7 0h1m1 0h1m5 0h1m6 0h1m25 0h1m2 0h1m32 0h1m6 0h1m8 0h2m1 0h1m4 0h1m8 0h1m26 0h1m30 0h1m25 0h1m4 0h1m28 0h1m5 0h1m52 0h1m20 0h1m27 0h2m64 0h1m7 0h1m4 0h1m31 0h1m66 0h1m7 0h1m3 0h1m3 0h1m15 0h1m4 0h1m16 0h1m20 0h1m14 0h4M5 19.5h1m43 0h1m8 0h1m7 0h1m2 0h1m34 0h3m37 0h1m56 0h1m61 0h1m22 0h1m11 0h2m49 0h1m52 0h1m5 0h1m48 0h1m46 0h1m76 0h1m14 0h1m1 0h1m36 0h1m2 0h1m69 0h1m23 0h1m12 0h2m18 0h1m22 0h2m11 0h1m9 0h1m22 0h1m2 0h1m4 0h2m17 0h1m17 0h1m8 0h1m106 0h1m74 0h1m6 0h1m32 0h1m32 0h1m34 0h1M5 20.5h1m39 0h1m8 0h2m7 0h1m25 0h1m86 0h1m11 0h1m51 0h1m5 0h1m24 0h1m11 0h2m10 0h1m10 0h2m14 0h1m8 0h2m3 0h1m42 0h2m5 0h1m14 0h2m26 0h1m8 0h1m3 0h1m5 0h2m3 0h1m3 0h2m2 0h1m2 0h3m6 0h1m3 0h1m85 0h1m50 0h1m71 0h1m21 0h2m22 0h1m83 0h1m9 0h1m84 0h1m2 0h1m11 0h1m20 0h1m13 0h1m52 0h1m8 0h1m11 0h1m8 0h1m26 0h3m12 0h1m21 0h1m25 0h1m24 0h3m2 0h1m30 0h1M83 21.5h1m25 0h1m16 0h1m22 0h1m26 0h1m50 0h1m12 0h1m56 0h1m9 0h1m11 0h1m11 0h1m16 0h1m55 0h1m1 0h1m10 0h1m1 0h1m1 0h1m13 0h1m5 0h1m5 0h1m4 0h1m6 0h2m10 0h1m2 0h1m8 0h2m33 0h2m39 0h1m5 0h1m3 0h1m44 0h1m29 0h1m33 0h1m18 0h1m39 0h1m4 0h1m3 0h1m13 0h1m17 0h1m4 0h1m33 0h1m23 0h1m17 0h2m5 0h1m9 0h2m12 0h1m1 0h1m2 0h1m2 0h1m2 0h1m6 0h3m4 0h1m33 0h1m23 0h1m57 0h1m58 0h1m4 0h1m16 0h1m7 0h1m43 0h2M16 22.5h1m69 0h2m36 0h1m16 0h1m66 0h1m53 0h1m65 0h2m72 0h1m1 0h1m15 0h1m22 0h1m14 0h1m62 0h1m30 0h1m66 0h1m72 0h1m20 0h2m7 0h1m5 0h1m16 0h1m4 0h1m11 0h1m2 0h1m11 0h1m1 0h1m16 0h1m10 0h3m21 0h2m1 0h1m11 0h2m4 0h1m40 0h1m9 0h1m1 0h1m8 0h1m87 0h1m8 0h1m5 0h2m5 0h1m45 0h1m8 0h1m2 0h1m7 0h1m10 0h1m32 0h1M62 23.5h3m49 0h1m57 0h1m73 0h1m19 0h2m5 0h3m47 0h1m2 0h1m4 0h1m26 0h1m31 0h1m56 0h2m2 0h1m25 0h1m8 0h1m4 0h1m3 0h1m18 0h3m4 0h2m7 0h1m1 0h3m1 0h1m9 0h1m2 0h1m3 0h1m6 0h1m3 0h1m4 0h1m34 0h1m13 0h3m16 0h2m24 0h4m11 0h1m7 0h1m22 0h1m10 0h2m10 0h1m42 0h1m65 0h1m5 0h1m13 0h1m17 0h1m32 0h1m4 0h2m66 0h1m67 0h2m59 0h1m4 0h1m17 0h1m26 0h1m11 0h1m3 0h1M20 24.5h1m27 0h1m4 0h1m15 0h1m3 0h1m11 0h2m35 0h1m37 0h2m148 0h2m8 0h3m46 0h1m21 0h1m3 0h1m22 0h1m57 0h1m7 0h1m4 0h1m11 0h1m1 0h1m30 0h2m11 0h2m12 0h1m2 0h1m7 0h1m6 0h1m1 0h1m12 0h2m3 0h1m1 0h1m9 0h2m2 0h1m8 0h1m6 0h1m38 0h1m5 0h2m9 0h1m17 0h1m58 0h1m30 0h1m94 0h1m40 0h1m191 0h1m42 0h1M31 25.5h1m8 0h1m5 0h1m23 0h1m9 0h2m60 0h1m31 0h1m17 0h1m152 0h1m4 0h1m17 0h1m49 0h1m30 0h2m4 0h1m23 0h2m8 0h1m2 0h2m1 0h1m54 0h1m22 0h1m1 0h2m1 0h1m7 0h1m5 0h1m2 0h1m16 0h1m29 0h2m1 0h1m11 0h1m18 0h1m2 0h1m19 0h2m5 0h1m23 0h1m54 0h2m1 0h2m10 0h2m26 0h1m26 0h1m5 0h1m25 0h1m143 0h1m29 0h1m6 0h1m33 0h1m33 0h2m18 0h1m6 0h1m4 0h2m16 0h1m8 0h1M14 26.5h1m36 0h1m3 0h1m14 0h1m8 0h1m54 0h1m54 0h1m6 0h1m124 0h1m13 0h1m20 0h1m9 0h2m5 0h1m76 0h1m25 0h2m7 0h2m3 0h1m19 0h2m5 0h1m13 0h1m11 0h1m20 0h1m2 0h1m15 0h2m1 0h1m3 0h1m18 0h1m4 0h1m32 0h3m5 0h1m55 0h1m12 0h1m43 0h1m59 0h1m9 0h1m157 0h1m2 0h1m44 0h1m70 0h1m9 0h1m48 0h1m13 0h1m8 0h1M37 27.5h1m1 0h1m19 0h3m1 0h1m15 0h1m9 0h1m3 0h1m1 0h2m16 0h1m4 0h1m25 0h1m8 0h1m13 0h1m6 0h2m1 0h1m126 0h1m7 0h1m11 0h1m85 0h1m1 0h2m16 0h1m7 0h3m2 0h1m4 0h1m5 0h1m18 0h1m7 0h1m20 0h1m5 0h1m35 0h1m4 0h1m36 0h1m2 0h1m23 0h1m8 0h1m2 0h1m10 0h1m31 0h1m48 0h1m47 0h1m10 0h2m5 0h1m15 0h1m4 0h1m13 0h1m48 0h1m23 0h1m3 0h1m15 0h1m1 0h1m6 0h1m8 0h1m20 0h1m5 0h3m1 0h1m40 0h1m5 0h1m9 0h1m22 0h1m10 0h1m23 0h1m10 0h1m13 0h1m11 0h2m60 0h1M4 28.5h1m17 0h1m55 0h1m3 0h1m1 0h1m30 0h1m5 0h1m1 0h1m38 0h1m40 0h2m110 0h1m33 0h1m15 0h1m1 0h1m13 0h1m9 0h1m59 0h1m14 0h1m11 0h2m14 0h2m2 0h2m7 0h1m5 0h1m7 0h1m4 0h1m5 0h1m3 0h1m27 0h1m14 0h1m100 0h1m11 0h1m20 0h1m5 0h1m6 0h2m11 0h1m15 0h1m8 0h1m10 0h2m91 0h2m34 0h1m4 0h1m20 0h1m88 0h1m31 0h2m5 0h1m27 0h1m17 0h1m6 0h1m2 0h1m11 0h1m10 0h1m16 0h1m28 0h1m7 0h1M3 29.5h1m10 0h2m7 0h2m15 0h1m47 0h1m25 0h1m10 0h1m9 0h1m45 0h1m6 0h1m7 0h1m8 0h1m51 0h1m44 0h1m11 0h1m11 0h1m16 0h1m11 0h1m27 0h2m55 0h1m20 0h1m23 0h1m4 0h3m22 0h2m23 0h1m8 0h1m10 0h1m1 0h2m8 0h1m14 0h1m2 0h2m9 0h2m7 0h1m2 0h2m31 0h1m2 0h2m5 0h2m16 0h1m59 0h1m4 0h1m15 0h1m41 0h1m8 0h2m13 0h1m13 0h1m58 0h1m18 0h1m17 0h1m16 0h1m39 0h1m21 0h1m14 0h2m12 0h1m27 0h1m30 0h1m11 0h1m16 0h1m27 0h1m38 0h1M18 30.5h1m25 0h1m21 0h3m33 0h1m6 0h1m37 0h1m17 0h1m26 0h1m4 0h1m111 0h1m54 0h1m12 0h1m5 0h1m2 0h1m3 0h1m21 0h1m19 0h1m9 0h1m12 0h1m5 0h1m17 0h1m12 0h1m6 0h1m8 0h1m14 0h1m61 0h1m37 0h1m8 0h1m4 0h1m17 0h1m7 0h1m28 0h2m3 0h2m11 0h1m6 0h1m3 0h1m11 0h1m25 0h1m48 0h1m11 0h1m13 0h1m19 0h1m25 0h1m35 0h1m6 0h1m3 0h1m6 0h1m14 0h1m8 0h1m22 0h1m12 0h1m12 0h1m37 0h1m4 0h1m2 0h1m33 0h1m6 0h1m4 0h1m70 0h1M21 31.5h1m5 0h1m4 0h1m16 0h2m1 0h1m33 0h1m74 0h1m19 0h1m11 0h1m119 0h1m21 0h1m8 0h1m5 0h1m18 0h1m45 0h1m2 0h1m38 0h1m7 0h1m2 0h1m15 0h1m11 0h1m7 0h1m1 0h1m17 0h1m32 0h1m52 0h1m2 0h2m1 0h2m19 0h2m19 0h2m4 0h2m4 0h2m9 0h2m13 0h1m3 0h1m27 0h1m27 0h1m12 0h1m15 0h1m22 0h1m51 0h2m8 0h1m11 0h1m18 0h1m8 0h1m30 0h2m2 0h1m46 0h1m5 0h1m26 0h1m21 0h1m27 0h1m28 0h1m5 0h3m8 0h2m13 0h1m15 0h1m34 0h1M3 32.5h3m1 0h1m6 0h2m29 0h1m6 0h3m4 0h1m2 0h1m2 0h1m8 0h1m3 0h1m4 0h1m8 0h1m9 0h1m11 0h1m12 0h1m13 0h1m15 0h1m4 0h1m17 0h1m5 0h1m7 0h1m1 0h1m8 0h1m3 0h1m8 0h1m4 0h1m25 0h2m14 0h1m22 0h2m10 0h1m49 0h1m16 0h1m8 0h2m3 0h1m1 0h1m14 0h1m14 0h1m2 0h2m13 0h1m2 0h1m26 0h3m15 0h1m16 0h1m3 0h1m21 0h1m3 0h1m29 0h1m2 0h2m20 0h3m18 0h1m4 0h2m26 0h1m6 0h2m26 0h2m25 0h1m16 0h1m28 0h1m18 0h1m6 0h1m18 0h1m22 0h1m10 0h1m27 0h1m11 0h1m15 0h1m2 0h1m4 0h2m1 0h1m2 0h1m7 0h1m2 0h2m6 0h1m6 0h2m23 0h2m13 0h1m14 0h1m10 0h1m4 0h1m5 0h2m2 0h1m2 0h2m37 0h3m9 0h1m14 0h1m26 0h1m3 0h1m4 0h2m29 0h1m5 0h1m30 0h1m6 0h1m12 0h1M6 33.5h1m5 0h1m4 0h1m8 0h1m4 0h1m17 0h1m3 0h1m16 0h1m4 0h1m16 0h3m11 0h1m35 0h1m8 0h1m8 0h1m10 0h1m8 0h2m10 0h1m1 0h1m2 0h1m2 0h1m9 0h1m78 0h1m1 0h1m6 0h1m2 0h1m7 0h1m7 0h2m9 0h2m6 0h1m13 0h1m18 0h1m4 0h1m13 0h1m13 0h1m4 0h2m18 0h1m1 0h1m20 0h1m9 0h1m2 0h1m4 0h1m12 0h1m51 0h1m4 0h1m1 0h1m10 0h2m23 0h1m30 0h1m1 0h1m5 0h1m12 0h2m5 0h1m17 0h3m5 0h1m1 0h1m3 0h1m22 0h1m3 0h1m2 0h1m7 0h1m40 0h1m2 0h1m4 0h1m2 0h1m8 0h1m3 0h1m16 0h1m4 0h1m3 0h1m36 0h1m19 0h1m6 0h1m3 0h1m2 0h1m20 0h1m52 0h1m24 0h1m22 0h1m4 0h1m16 0h1m12 0h2m21 0h1m7 0h1m17 0h1m23 0h1m18 0h2m15 0h1m4 0h1m10 0h1m3 0h2m3 0h1m26 0h1m5 0h1M31 34.5h1m4 0h3m6 0h1m16 0h1m1 0h1m14 0h1m1 0h1m1 0h1m15 0h1m5 0h2m11 0h1m1 0h1m1 0h1m1 0h1m7 0h1m3 0h1m53 0h1m29 0h1m10 0h1m5 0h1m1 0h1m4 0h1m36 0h1m11 0h1m9 0h1m9 0h1m1 0h5m37 0h1m18 0h1m20 0h1m2 0h1m8 0h1m2 0h1m30 0h1m2 0h1m10 0h1m6 0h1m3 0h1m28 0h1m2 0h1m5 0h1m17 0h2m6 0h1m1 0h1m2 0h1m26 0h1m8 0h1m29 0h1m6 0h1m28 0h1m8 0h1m43 0h1m1 0h1m2 0h1m10 0h1m7 0h1m3 0h1m3 0h2m2 0h2m9 0h2m13 0h1m1 0h1m16 0h1m6 0h1m2 0h1m4 0h1m17 0h1m11 0h1m14 0h1m20 0h1m1 0h1m1 0h2m10 0h2m1 0h2m6 0h1m18 0h1m2 0h2m3 0h1m3 0h1m1 0h1m5 0h1m20 0h1m12 0h2m9 0h1m19 0h1m2 0h1m11 0h3m1 0h2m2 0h1m9 0h1m11 0h1m17 0h1m3 0h1m5 0h1m1 0h1m9 0h1m30 0h1m16 0h1m11 0h1m5 0h2m5 0h1m6 0h3m2 0h1m15 0h2m5 0h1m18 0h1M13 35.5h1m8 0h1m1 0h2m16 0h1m7 0h2m9 0h2m6 0h2m16 0h1m22 0h2m6 0h1m23 0h1m3 0h1m33 0h1m38 0h2m7 0h1m8 0h1m15 0h1m2 0h1m19 0h1m26 0h2m2 0h3m2 0h1m8 0h1m23 0h1m7 0h2m3 0h1m6 0h1m13 0h1m16 0h2m3 0h1m42 0h1m12 0h1m7 0h1m2 0h1m30 0h1m21 0h2m7 0h1m16 0h2m9 0h1m3 0h2m3 0h2m32 0h1m6 0h1m9 0h1m11 0h1m18 0h1m9 0h2m5 0h1m4 0h1m10 0h1m11 0h1m14 0h1m32 0h1m12 0h1m4 0h2m6 0h1m3 0h2m8 0h1m24 0h1m2 0h1m11 0h1m17 0h2m1 0h1m5 0h1m1 0h1m36 0h1m16 0h3m8 0h1m13 0h1m3 0h1m16 0h1m5 0h2m12 0h1m11 0h1m25 0h1m5 0h1m2 0h1m8 0h1m7 0h1m18 0h1m3 0h1m29 0h1m9 0h1m2 0h1m3 0h1m1 0h2m1 0h1m2 0h3m1 0h2m1 0h1m7 0h1m15 0h1m14 0h1M78 36.5h1m3 0h1m8 0h2m27 0h1m11 0h1m23 0h1m2 0h1m86 0h2m37 0h1m26 0h1m11 0h1m14 0h1m2 0h1m18 0h1m2 0h1m12 0h1m3 0h1m1 0h1m10 0h1m10 0h1m13 0h3m6 0h1m113 0h1m1 0h2m21 0h1m16 0h1m62 0h1m53 0h2m18 0h1m6 0h1m8 0h1m7 0h1m5 0h1m8 0h1m16 0h1m5 0h1m13 0h1m3 0h1m12 0h1m1 0h1m33 0h1m16 0h1m7 0h1m8 0h1m14 0h1m3 0h1m2 0h1m6 0h1m20 0h2m15 0h1m3 0h2m1 0h1m91 0h1m7 0h1m30 0h1m3 0h2m16 0h1m46 0h1M18 37.5h1m92 0h1m1 0h1m225 0h1m50 0h1m76 0h1m147 0h1m187 0h2m24 0h1m1 0h1m17 0h2m9 0h2m3 0h2m16 0h1m11 0h1m4 0h2m13 0h1m242 0h1M21 38.5h2m138 0h1m3 0h1m8 0h1m170 0h1m6 0h1m35 0h2m19 0h1m3 0h2m15 0h2m13 0h1m6 0h1m2 0h1m12 0h1m42 0h1m6 0h2m5 0h1m53 0h1m31 0h1m8 0h1m14 0h1m7 0h1m27 0h1m28 0h2m22 0h1m9 0h1m15 0h1m3 0h2m20 0h2m11 0h2m1 0h1m4 0h1m7 0h1m12 0h2m13 0h1m2 0h1m16 0h1m39 0h1m22 0h1m38 0h1m43 0h1m7 0h1m55 0h1m8 0h1m63 0h1m5 0h1M40 39.5h1m7 0h1m28 0h4m32 0h2m17 0h1m16 0h1m36 0h2m57 0h1m40 0h1m10 0h1m11 0h1m16 0h1m9 0h1m19 0h1m5 0h1m38 0h1m16 0h1m174 0h1m25 0h1m2 0h1m1 0h1m7 0h1m9 0h1m45 0h1m23 0h1m9 0h1m7 0h2m126 0h2m24 0h1m17 0h1m7 0h1m79 0h1m14 0h1m87 0h1m40 0h1m1 0h1m34 0h1m8 0h1m8 0h1M12 40.5h1m45 0h1m16 0h1m6 0h1m8 0h1m12 0h1m36 0h1m32 0h1m11 0h1m30 0h1m34 0h1m81 0h1m4 0h1m35 0h1m6 0h1m12 0h2m25 0h1m1 0h1m3 0h1m5 0h1m1 0h1m14 0h1m5 0h2m21 0h1m17 0h1m32 0h2m1 0h1m7 0h1m68 0h1m7 0h1m65 0h1m11 0h1m2 0h1m35 0h1m1 0h1m37 0h2m49 0h1m1 0h2m5 0h1m7 0h1m15 0h1m2 0h1m15 0h1m2 0h1m20 0h1m4 0h1m6 0h1m7 0h2m41 0h1m17 0h1m22 0h1m4 0h1m26 0h1m17 0h1m16 0h1m21 0h1m47 0h1m8 0h1m2 0h1m19 0h1m3 0h1M30 41.5h1m18 0h1m1 0h2m49 0h1m23 0h1m8 0h1m24 0h1m29 0h1m67 0h1m11 0h1m55 0h1m28 0h1m39 0h1m108 0h2m5 0h1m1 0h1m5 0h3m5 0h2m43 0h1m3 0h1m25 0h1m22 0h1m18 0h1m16 0h1m45 0h1m277 0h3m11 0h1m36 0h1m29 0h1m10 0h1m3 0h1m61 0h1m4 0h1m7 0h1m10 0h1M17 42.5h1m27 0h2m4 0h1m5 0h1m14 0h2m2 0h1m19 0h1m13 0h1m5 0h1m28 0h1m2 0h1m30 0h1m4 0h1m13 0h1m22 0h1m11 0h1m3 0h1m10 0h1m3 0h1m10 0h1m1 0h1m6 0h1m10 0h1m14 0h2m2 0h2m4 0h1m8 0h1m5 0h2m5 0h1m9 0h1m8 0h1m6 0h1m9 0h1m42 0h1m19 0h1m5 0h1m2 0h1m1 0h1m5 0h1m6 0h1m3 0h2m11 0h1m3 0h1m1 0h1m2 0h1m27 0h2m1 0h1m6 0h1m17 0h1m53 0h1m8 0h1m19 0h1m30 0h1m30 0h1m6 0h1m27 0h1m27 0h1m3 0h1m8 0h1m2 0h1m9 0h1m2 0h1m14 0h2m8 0h1m5 0h1m6 0h1m2 0h2m15 0h1m3 0h1m4 0h1m4 0h3m21 0h1m27 0h2m2 0h1m1 0h1m10 0h1m5 0h1m4 0h3m2 0h1m16 0h1m69 0h1m8 0h1m18 0h1m6 0h2m51 0h1m2 0h1m40 0h1m21 0h2m25 0h1M24 43.5h1m7 0h1m16 0h1m48 0h1m18 0h1m16 0h1m11 0h2m4 0h1m20 0h1m4 0h3m10 0h1m47 0h1m13 0h1m18 0h3m19 0h1m4 0h1m3 0h1m5 0h1m7 0h1m4 0h1m9 0h1m4 0h3m29 0h1m126 0h1m10 0h1m6 0h1m8 0h1m1 0h1m36 0h1m16 0h1m43 0h1m15 0h1m54 0h1m80 0h3m76 0h1m41 0h1m3 0h2m108 0h1m32 0h2m16 0h1m18 0h1m2 0h1m2 0h1m6 0h2m7 0h1m27 0h1m24 0h1m9 0h2m2 0h1m1 0h2m10 0h3M32 44.5h1m16 0h1m16 0h1m104 0h1m28 0h3m20 0h1m38 0h1m16 0h1m24 0h1m3 0h1m24 0h1m6 0h2m5 0h1m1 0h1m17 0h1m163 0h1m15 0h1m74 0h1m108 0h2m161 0h1m27 0h1m25 0h1m36 0h1m10 0h1m5 0h1m17 0h1m7 0h1m18 0h2m10 0h2m18 0h2m15 0h1m13 0h1m9 0h1m8 0h1m6 0h1m4 0h1m3 0h1m22 0h1m4 0h1m7 0h1m2 0h1m2 0h1M27 45.5h1m3 0h1m13 0h1m13 0h2m28 0h1m12 0h1m7 0h1m9 0h1m15 0h1m12 0h1m2 0h1m5 0h1m98 0h2m32 0h1m41 0h1m14 0h1m16 0h1m31 0h1m85 0h1m37 0h1m44 0h1m104 0h1m95 0h1m160 0h1m49 0h2m5 0h1m1 0h1m4 0h2m13 0h3m5 0h1m5 0h1m34 0h1m2 0h1m77 0h1m17 0h2m22 0h1M19 46.5h1m5 0h1m7 0h1m16 0h2m3 0h1m12 0h1m17 0h2m7 0h1m25 0h1m4 0h1m22 0h1m9 0h1m4 0h1m24 0h2m20 0h2m5 0h1m7 0h1m96 0h1m27 0h1m3 0h1m6 0h1m10 0h1m26 0h1m81 0h1m54 0h1m385 0h1m12 0h1m29 0h1m6 0h1m49 0h1m39 0h1m5 0h2m4 0h1m35 0h1m1 0h1m8 0h1m1 0h1m3 0h2m4 0h1m2 0h1m1 0h2m3 0h1m23 0h1m20 0h1m1 0h1M1 47.5h1m28 0h1m65 0h1m25 0h2m28 0h1m12 0h1m21 0h1m8 0h2m2 0h1m15 0h1m12 0h1m44 0h1m2 0h1m22 0h1m13 0h1m32 0h1m74 0h1m17 0h1m3 0h1m85 0h1m14 0h1m20 0h1m18 0h1m59 0h1m16 0h2m27 0h1m88 0h1m66 0h1m92 0h1m5 0h2m24 0h2m28 0h1m5 0h2m9 0h1m47 0h1m4 0h2m25 0h1m23 0h1m40 0h2m28 0h2M4 48.5h1m13 0h1m16 0h1m20 0h2m27 0h2m16 0h1m11 0h1m7 0h1m14 0h1m2 0h2m13 0h1m17 0h1m15 0h1m46 0h1m15 0h1m18 0h1m11 0h1m5 0h1m9 0h1m276 0h1m77 0h2m126 0h1m65 0h1m22 0h1m54 0h1m14 0h1m24 0h2m2 0h3m14 0h1m30 0h1m16 0h1m1 0h1m33 0h1m20 0h5m4 0h1m3 0h1m6 0h2m30 0h2m1 0h1m4 0h3m9 0h1m12 0h1m4 0h1m12 0h1M19 49.5h1m6 0h1m8 0h1m22 0h1m56 0h1m16 0h1m8 0h1m14 0h1m30 0h1m134 0h1m31 0h2m15 0h1m10 0h1m1 0h1m36 0h1m41 0h1m52 0h1m15 0h1m5 0h1m254 0h2m73 0h2m52 0h2m9 0h1m58 0h1m1 0h1m9 0h1m148 0h1M1 50.5h1m3 0h1m23 0h1m28 0h1m9 0h1m42 0h1m32 0h2m12 0h1m47 0h1m3 0h1m13 0h1m10 0h1m11 0h2m3 0h1m36 0h1m36 0h1m6 0h1m5 0h2m6 0h1m6 0h1m10 0h1m57 0h1m31 0h1m72 0h1m12 0h1m27 0h1m22 0h1m8 0h1m5 0h1m37 0h1m7 0h1m6 0h2m5 0h1m7 0h1m3 0h1m2 0h1m23 0h2m3 0h1m51 0h1m19 0h1m65 0h1m1 0h1m61 0h1m36 0h1m9 0h2m1 0h1m21 0h1m2 0h1m2 0h1m1 0h1m19 0h2m2 0h1m5 0h2m7 0h2m53 0h1m15 0h2m11 0h1m3 0h1m18 0h1m8 0h1m4 0h2m26 0h1m4 0h1m5 0h2M5 51.5h1m16 0h1m54 0h1m57 0h1m30 0h1m29 0h1m8 0h1m41 0h1m71 0h1m17 0h2m42 0h1m52 0h1m5 0h1m10 0h1m33 0h1m7 0h1m57 0h1m14 0h1m40 0h1m12 0h1m5 0h1m17 0h1m31 0h1m11 0h1m10 0h1m9 0h1m12 0h1m1 0h1m54 0h1m117 0h1m24 0h1m8 0h1m9 0h1m7 0h1m2 0h1m2 0h1m2 0h1m2 0h2m6 0h1m10 0h2m2 0h1m13 0h2m9 0h1m22 0h1m7 0h1m16 0h1m74 0h1m53 0h1M21 52.5h1m41 0h1m45 0h1m14 0h2m69 0h1m112 0h1m16 0h2m113 0h1m63 0h3m6 0h1m25 0h1m107 0h1m35 0h1m44 0h1m35 0h1m164 0h1m4 0h1m3 0h1m9 0h1m12 0h1m13 0h1m14 0h1m1 0h1m5 0h1m9 0h1m7 0h1m19 0h1m4 0h1m11 0h2m3 0h1m18 0h1m7 0h1m29 0h1m18 0h1m38 0h1m4 0h1m9 0h3M3 53.5h1m14 0h1m5 0h1m41 0h1m280 0h1m8 0h1m44 0h1m43 0h2m12 0h1m10 0h1m19 0h1m15 0h1m12 0h1m22 0h1m10 0h1m20 0h1m6 0h1m16 0h1m10 0h1m23 0h2m6 0h1m7 0h2m30 0h1m3 0h1m1 0h1m11 0h2m26 0h1m8 0h1m69 0h1m92 0h2m6 0h1m20 0h1m6 0h1m2 0h1m13 0h1m53 0h1m4 0h1m29 0h1m1 0h1m35 0h1m1 0h1m29 0h1m20 0h1m53 0h1m7 0h1M6 54.5h1m44 0h1m51 0h2m32 0h1m23 0h1m86 0h1m125 0h1m25 0h1m6 0h1m20 0h1m50 0h1m134 0h1m5 0h1m7 0h1m7 0h5m5 0h1m29 0h1m13 0h1m8 0h1m19 0h1m23 0h1m96 0h1m87 0h1m18 0h1m9 0h1m19 0h1m9 0h1m17 0h1m3 0h1m4 0h1m19 0h3m5 0h1m2 0h2m11 0h1m7 0h2m48 0h1m45 0h1M25 55.5h1m32 0h1m3 0h1m9 0h1m38 0h1m137 0h1m52 0h1m5 0h1m5 0h1m13 0h1m28 0h1m49 0h2m19 0h2m18 0h1m39 0h1m74 0h1m40 0h1m3 0h1m21 0h2m12 0h1m17 0h1m5 0h1m5 0h2m6 0h1m2 0h1m11 0h1m4 0h1m9 0h1m49 0h1m95 0h1m70 0h1m28 0h2m1 0h2m13 0h3m5 0h1m5 0h1m23 0h1m5 0h1m6 0h1m10 0h3m2 0h3m41 0h1m8 0h1m7 0h1m78 0h1M28 56.5h1m23 0h1m5 0h1m46 0h1m8 0h1m37 0h2m69 0h2m55 0h1m19 0h1m21 0h1m129 0h1m11 0h1m44 0h1m15 0h1m18 0h1m5 0h1m34 0h1m3 0h1m19 0h1m7 0h1m21 0h1m26 0h1m4 0h1m23 0h1m36 0h1m28 0h1m17 0h1m62 0h1m33 0h1m19 0h1m66 0h1m21 0h1m12 0h1m8 0h1m15 0h1m1 0h1m13 0h1m12 0h1m1 0h1m4 0h1m3 0h2m23 0h1m9 0h1m39 0h1m5 0h1M6 57.5h1m28 0h1m53 0h1m1 0h1m20 0h1m18 0h1m6 0h1m10 0h1m11 0h2m28 0h1m30 0h1m25 0h1m28 0h1m33 0h1m64 0h2m27 0h2m13 0h1m18 0h1m11 0h1m1 0h1m35 0h1m4 0h1m5 0h1m28 0h2m28 0h3m2 0h1m90 0h1m18 0h1m5 0h1m16 0h1m1 0h1m27 0h1m76 0h1m8 0h1m11 0h1m5 0h1m17 0h1m16 0h2m4 0h2m5 0h2m25 0h1m19 0h1m4 0h2m4 0h2m1 0h2m1 0h3m4 0h1m5 0h1m2 0h1m16 0h1m21 0h1m13 0h1m9 0h1m1 0h1m3 0h1m14 0h2m1 0h1m3 0h1m16 0h1m11 0h1m98 0h1m12 0h1"/>
<path stroke="#5EC962" d="M3 0.5h1m14 0h2m3 0h2m1 0h4m3 0h4m3 0h1m6 0h1m16 0h2m14 0h1m15 0h1m2 0h1m5 0h1m6 0h1m9 0h1m27 0h1m11 0h1m3 0h1m14 0h2m23 0h1m6 0h1m3 0h1m25 0h1m129 0h1m4 0h2m15 0h1m24 0h1m23 0h3m5 0h1m4 0h1m18 0h1m36 0h1m23 0h2m1 0h1m10 0h1m4 0h1m8 0h1m13 0h1m21 0h1m23 0h1m26 0h2m19 0h2m42 0h2m6 0h1m90 0h1m20 0h1m38 0h1m12 0h1m2 0h1m4 0h2m5 0h1m5 0h2m73 0h1m5 0h2m23 0h1m23 0h1m3 0h1m9 0h1m3 0h1m45 0h1m18 0h1m11 0h1M2 1.5h1m6 0h1m1 0h1m1 0h1m11 0h1m4 0h1m11 0h1m12 0h1m1 0h1m6 0h1m2 0h1m4 0h1m4 0h1m3 0h1m18 0h1m3 0h1m16 0h1m5 0h3m17 0h1m3 0h1m4 0h1m3 0h1m5 0h1m37 0h1m5 0h1m49 0h1m242 0h2m31 0h1m28 0h1m16 0h1m6 0h1m12 0h1m96 0h2m30 0h1m7 0h1m48 0h1m71 0h2m5 0h1m2 0h1m29 0h1m52 0h1m29 0h2m12 0h1m16 0h1m66 0h1m14 0h1m12 0h1m38 0h1m6 0h1M0 2.5h1m15 0h1m1 0h1m7 0h1m10 0h1m3 0h1m6 0h1m4 0h2m1 0h1m49 0h1m1 0h1m6 0h1m7 0h1m2 0h1m1 0h1m20 0h1m10 0h1m9 0h1m3 0h2m12 0h2m36 0h1m50 0h1m59 0h1m70 0h1m204 0h1m31 0h1m235 0h1m4 0h2m22 0h2m139 0h1m118 0h2m4 0h1M25 3.5h1m18 0h1m16 0h1m5 0h1m5 0h1m44 0h1m53 0h1m5 0h1m4 0h1m82 0h1m6 0h2m3 0h1m4 0h1m28 0h1m9 0h1m22 0h1m56 0h1m14 0h2m15 0h3m7 0h1m9 0h1m50 0h1m1 0h1m54 0h1m9 0h2m31 0h1m59 0h1m6 0h1m30 0h1m67 0h1m9 0h1m42 0h1m16 0h1m7 0h1m66 0h1m35 0h1m19 0h1m12 0h1m3 0h1m33 0h2m44 0h1m2 0h1m14 0h1m4 0h2m7 0h1m5 0h1m8 0h2m37 0h1m38 0h1M7 4.5h1m19 0h3m34 0h1m35 0h2m16 0h1m12 0h2m5 0h1m4 0h1m36 0h1m14 0h1m5 0h1m1 0h2m6 0h1m14 0h2m4 0h1m2 0h1m11 0h1m6 0h1m17 0h2m5 0h1m9 0h1m15 0h1m17 0h1m1 0h1m2 0h1m19 0h2m26 0h2m4 0h1m6 0h1m15 0h1m54 0h1m23 0h1m11 0h1m8 0h1m5 0h1m2 0h1m36 0h2m32 0h1m16 0h1m10 0h1m5 0h1m30 0h1m34 0h1m32 0h2m28 0h1m7 0h1m27 0h1m29 0h2m61 0h1m11 0h1m26 0h2m2 0h1m23 0h1m68 0h1m35 0h1m56 0h1M4 5.5h2m8 0h1m5 0h5m1 0h1m3 0h2m4 0h2m11 0h2m2 0h1m4 0h1m3 0h2m5 0h1m7 0h2m7 0h1m9 0h2m3 0h1m10 0h3m8 0h1m9 0h1m10 0h1m3 0h2m7 0h2m17 0h2m2 0h1m4 0h1m6 0h1m4 0h1m2 0h1m1 0h1m15 0h1m72 0h1m64 0h1m15 0h1m42 0h3m87 0h1m59 0h1m21 0h1m5 0h1m31 0h1m88 0h1m11 0h1m2 0h1m9 0h1m21 0h1m28 0h1m70 0h1m123 0h1m1 0h1m14 0h1m12 0h1m6 0h1m2 0h1m14 0h2m40 0h1m4 0h1m17 0h1M0 6.5h1m1 0h1m8 0h2m5 0h1m9 0h1m2 0h1m14 0h1m12 0h1m3 0h1m11 0h1m18 0h1m30 0h1m17 0h1m22 0h1m7 0h1m9 0h1m5 0h1m48 0h1m4 0h2m55 0h1m15 0h1m6 0h1m13 0h1m37 0h1m20 0h1m19 0h1m2 0h1m11 0h1m5 0h1m13 0h2m28 0h1m8 0h1m20 0h1m42 0h1m32 0h1m25 0h1m16 0h1m53 0h1m5 0h2m10 0h1m21 0h1m65 0h1m26 0h1m51 0h1m17 0h1m1 0h1m3 0h1m37 0h1m12 0h1m1 0h1m12 0h1m2 0h1m34 0h1m2 0h1m21 0h1m77 0h1m5 0h2m39 0h1m34 0h1m11 0h1M1 7.5h3m7 0h2m6 0h1m4 0h1m2 0h1m35 0h1m1 0h1m35 0h1m6 0h1m9 0h1m12 0h1m4 0h1m9 0h1m1 0h1m4 0h1m14 0h1m11 0h2m199 0h1m6 0h1m55 0h1m36 0h1m50 0h1m4 0h1m5 0h1m1 0h1m14 0h1m2 0h1m11 0h1m57 0h3m13 0h1m24 0h1m25 0h1m27 0h1m15 0h1m14 0h4m175 0h1m28 0h1m12 0h1m22 0h1m31 0h1m26 0h1m2 0h1m16 0h1m1 0h1m64 0h1m40 0h1m1 0h1M76 8.5h1m95 0h1m26 0h1m2 0h1m4 0h1m27 0h1m24 0h1m25 0h1m4 0h2m262 0h1m16 0h1m127 0h1m13 0h1m36 0h1m3 0h1m41 0h1m27 0h1m146 0h1m130 0h1m14 0h1m9 0h1m4 0h1M6 9.5h1m19 0h1m40 0h1m13 0h1m123 0h1m29 0h1m14 0h1m5 0h1m4 0h1m1 0h2m15 0h1m2 0h1m12 0h2m51 0h1m104 0h1m31 0h1m75 0h1m9 0h1m1 0h1m45 0h1m19 0h1m42 0h1m5 0h1m32 0h1m104 0h1m20 0h1m54 0h2m81 0h1m46 0h1M88 10.5h1m13 0h1m19 0h2m24 0h1m4 0h2m12 0h1m66 0h1m65 0h1m47 0h1m78 0h1m87 0h1m46 0h1m89 0h1m57 0h1m40 0h1m6 0h1m84 0h1m28 0h1m70 0h1m7 0h3m26 0h1m35 0h1m5 0h1m18 0h1m23 0h1m12 0h1m4 0h1m54 0h1m14 0h1M5 11.5h1m14 0h1m10 0h1m73 0h1m17 0h1m35 0h1m2 0h1m52 0h1m5 0h1m6 0h1m48 0h1m18 0h1m46 0h2m8 0h1m3 0h1m21 0h1m26 0h1m3 0h1m41 0h1m2 0h1m22 0h1m67 0h1m13 0h2m26 0h1m7 0h1m92 0h1m18 0h1m50 0h1m7 0h1m62 0h1m3 0h1m19 0h1m6 0h1m2 0h1m4 0h1m14 0h1m14 0h1m7 0h1m12 0h1m10 0h2m15 0h1m8 0h1m3 0h1m7 0h1m16 0h1m2 0h1m24 0h2m19 0h1m69 0h1m29 0h1m3 0h1m52 0h1M6 12.5h1m2 0h1m50 0h1m5 0h1m35 0h1m10 0h2m39 0h2m4 0h1m31 0h2m59 0h1m60 0h2m6 0h1m14 0h1m5 0h1m1 0h1m148 0h1m37 0h1m27 0h2m8 0h1m76 0h1m38 0h1m10 0h1m6 0h1m218 0h1m1 0h1m10 0h1m13 0h1m2 0h1m14 0h1m19 0h1m2 0h1m26 0h2m17 0h1m1 0h1m1 0h1m1 0h1m5 0h1m4 0h1m32 0h1m21 0h1m4 0h1m30 0h1M10 13.5h1m61 0h1m16 0h2m6 0h2m9 0h2m22 0h1m58 0h1m115 0h2m4 0h2m21 0h1m8 0h1m6 0h1m15 0h1m97 0h5m27 0h1m16 0h1m14 0h1m22 0h1m27 0h1m24 0h1m1 0h1m19 0h1m16 0h1m9 0h1m3 0h1m263 0h1m45 0h1m1 0h1m42 0h1m19 0h1m17 0h1m44 0h2M0 14.5h1m16 0h1m2 0h1m8 0h1m12 0h1m7 0h1m19 0h1m42 0h1m5 0h1m52 0h2m11 0h1m119 0h1m2 0h1m18 0h1m5 0h1m3 0h1m9 0h2m133 0h1m48 0h1m27 0h1m288 0h1m112 0h1m18 0h1m22 0h1m31 0h1m5 0h1m3 0h1m10 0h1m54 0h1m43 0h1m23 0h1M64 15.5h1m2 0h1m10 0h2m20 0h1m5 0h1m14 0h1m81 0h1m18 0h1m16 0h1m51 0h2m1 0h1m38 0h1m52 0h1m65 0h1m58 0h1m28 0h1m10 0h1m23 0h2m54 0h1m7 0h1m9 0h1m71 0h1m81 0h1m47 0h1m13 0h1m2 0h1m57 0h1m71 0h1m6 0h1m28 0h1m77 0h1m35 0h2m45 0h1M134 16.5h2m233 0h1m5 0h1m19 0h1m40 0h1m30 0h1m9 0h1m120 0h1m533 0h1M40 17.5h1m10 0h1m3 0h1m33 0h1m12 0h1m14 0h1m14 0h2m45 0h2m53 0h1m32 0h1m90 0h1m42 0h1M65 18.5h1m96 0h1m64 0h1m12 0h1m16 0h1m101 0h1m42 0h1m29 0h1m43 0h1m16 0h1m107 0h1m131 0h2m25 0h1m12 0h2m24 0h1m2 0h1m47 0h1m7 0h1m35 0h1m11 0h1m9 0h1m3 0h2m16 0h1m28 0h1m2 0h1m5 0h1m3 0h1m19 0h1m10 0h1m44 0h1m42 0h1m33 0h1M4 19.5h1m111 0h2m51 0h1m9 0h1m9 0h1m30 0h1m43 0h1m45 0h1m26 0h1m20 0h1m1 0h1m5 0h1m13 0h1m25 0h1m7 0h1m25 0h2m7 0h2m3 0h1m13 0h2m8 0h1m1 0h1m82 0h1m2 0h1m21 0h1m109 0h1m68 0h1m15 0h1m12 0h2m21 0h1m57 0h1m5 0h2m7 0h1m8 0h2m32 0h1m57 0h1m7 0h1m12 0h1m6 0h1m2 0h2m42 0h1M23 20.5h1m118 0h1m5 0h1m10 0h1m9 0h1m12 0h1m39 0h1m6 0h1m27 0h1m47 0h1m7 0h1m3 0h1m15 0h1m24 0h1m45 0h2m3 0h2m2 0h2m94 0h1m28 0h1m1 0h2m17 0h2m51 0h1m74 0h1m26 0h1m5 0h1m20 0h1m75 0h1m31 0h1m1 0h1m21 0h1m19 0h1m21 0h1m39 0h2m39 0h1m45 0h1m59 0h2m20 0h1m21 0h1m8 0h1M68 21.5h1m8 0h1m49 0h2m86 0h1m21 0h1m43 0h1m32 0h1m8 0h1m26 0h1m22 0h1m3 0h1m20 0h1m3 0h1m7 0h2m13 0h1m3 0h1m2 0h1m9 0h1m3 0h1m6 0h4m7 0h1m8 0h1m6 0h1m12 0h1m13 0h1m33 0h1m13 0h1m66 0h1m87 0h1m18 0h1m26 0h1m8 0h1m1 0h1m2 0h1m20 0h1m7 0h1m3 0h1m1 0h2m5 0h1m31 0h1m27 0h1m2 0h1m15 0h1m5 0h1m172 0h1m33 0h1m40 0h1m26 0h1m3 0h1M93 22.5h1m33 0h1m54 0h1m116 0h1m55 0h1m22 0h1m26 0h1m10 0h1m8 0h1m30 0h1m7 0h1m8 0h1m1 0h2m126 0h1m60 0h1m44 0h2m1 0h1m14 0h1m2 0h1m89 0h1m1 0h1m7 0h1m2 0h1m30 0h1m5 0h1m17 0h2m7 0h1m175 0h1m39 0h1m19 0h1m42 0h2M19 23.5h1m52 0h1m9 0h1m70 0h1m8 0h1m1 0h1m6 0h1m2 0h1m137 0h1m1 0h2m12 0h1m18 0h1m7 0h1m27 0h1m1 0h1m50 0h1m21 0h2m52 0h1m7 0h1m7 0h2m1 0h1m9 0h1m6 0h1m7 0h3m9 0h1m1 0h2m2 0h1m5 0h1m13 0h3m1 0h2m5 0h2m8 0h1m5 0h1m1 0h4m2 0h1m23 0h1m3 0h3m14 0h1m12 0h2m3 0h1m53 0h1m66 0h1m40 0h1m4 0h1m27 0h1m7 0h1m45 0h1m89 0h1m19 0h1m22 0h1m47 0h1m46 0h1M14 24.5h1m22 0h1m82 0h1m22 0h1m11 0h1m14 0h1m15 0h2m128 0h1m25 0h1m25 0h1m27 0h1m30 0h1m14 0h1m18 0h1m23 0h3m4 0h1m2 0h3m16 0h2m4 0h1m6 0h1m21 0h2m9 0h1m15 0h1m20 0h1m2 0h1m22 0h1m15 0h1m23 0h2m2 0h3m24 0h1m16 0h1m71 0h2m5 0h1m17 0h1m94 0h1m53 0h1m44 0h1m19 0h1m42 0h1m40 0h1m7 0h1M3 25.5h1m6 0h1m127 0h1m2 0h1m10 0h1m6 0h1m157 0h1m1 0h1m16 0h1m10 0h1m15 0h1m45 0h1m75 0h2m3 0h1m10 0h1m5 0h1m7 0h1m19 0h1m24 0h1m16 0h1m9 0h1m2 0h1m9 0h1m16 0h1m1 0h1m6 0h2m13 0h1m4 0h1m7 0h2m9 0h1m4 0h1m7 0h1m8 0h1m5 0h1m118 0h1m91 0h1m75 0h1m5 0h1m10 0h1m79 0h1m2 0h1m8 0h1m31 0h1m8 0h1m45 0h1M37 26.5h1m3 0h1m6 0h1m66 0h1m1 0h1m22 0h1m24 0h1m26 0h2m261 0h1m7 0h1m23 0h2m2 0h1m2 0h1m14 0h1m3 0h1m2 0h1m24 0h2m8 0h1m40 0h2m51 0h1m14 0h2m5 0h1m8 0h1m15 0h1m100 0h1m102 0h1m47 0h2m6 0h1m3 0h2m6 0h1m36 0h4m9 0h2m4 0h1m24 0h1m24 0h1m12 0h1m13 0h1m23 0h1M5 27.5h1m4 0h1m4 0h1m8 0h1m62 0h1m105 0h2m1 0h1m105 0h1m4 0h1m5 0h1m6 0h1m7 0h1m13 0h1m3 0h2m12 0h1m2 0h1m19 0h2m1 0h1m27 0h1m29 0h1m10 0h1m3 0h1m1 0h1m24 0h1m22 0h1m7 0h1m7 0h3m17 0h1m23 0h1m20 0h1m1 0h1m24 0h1m40 0h1m15 0h1m12 0h2m11 0h2m17 0h1m1 0h1m6 0h1m97 0h1m28 0h1m15 0h1m24 0h1m28 0h1m20 0h1m6 0h1m5 0h1m5 0h1m1 0h1m14 0h1m9 0h1m3 0h1m14 0h1m81 0h1m2 0h1m36 0h1m29 0h1m16 0h1m8 0h1M21 28.5h1m36 0h1m6 0h1m33 0h1m22 0h1m3 0h1m2 0h1m1 0h1m1 0h1m24 0h1m5 0h1m14 0h1m10 0h1m157 0h1m6 0h1m8 0h1m27 0h1m7 0h1m7 0h1m10 0h1m6 0h1m29 0h1m8 0h1m22 0h1m17 0h1m10 0h1m4 0h1m23 0h1m9 0h1m41 0h1m1 0h2m11 0h1m8 0h1m1 0h1m7 0h2m4 0h1m2 0h1m16 0h2m5 0h1m11 0h2m7 0h2m2 0h1m10 0h1m47 0h1m6 0h1m15 0h1m56 0h1m20 0h1m11 0h1m24 0h1m43 0h3m1 0h1m32 0h2m1 0h1m9 0h1m15 0h1m6 0h1m18 0h1m24 0h2m135 0h2M12 29.5h1m38 0h1m12 0h1m34 0h2m17 0h1m45 0h1m173 0h1m28 0h1m6 0h1m31 0h1m14 0h1m5 0h1m3 0h2m64 0h1m1 0h3m8 0h1m9 0h2m2 0h2m17 0h1m2 0h2m16 0h3m6 0h1m14 0h1m5 0h1m13 0h1m25 0h1m18 0h1m8 0h1m4 0h1m27 0h2m5 0h1m26 0h1m59 0h2m1 0h2m26 0h1m5 0h1m5 0h1m21 0h1m38 0h1m52 0h1m25 0h1m10 0h2m13 0h2m60 0h1m7 0h1m24 0h1m12 0h1m32 0h1m17 0h1m16 0h1M20 30.5h1m19 0h1m19 0h1m25 0h1m5 0h1m41 0h1m43 0h2m98 0h1m69 0h1m9 0h1m19 0h1m5 0h1m2 0h1m49 0h1m11 0h2m5 0h1m33 0h1m12 0h1m3 0h1m1 0h2m2 0h1m23 0h1m10 0h2m12 0h1m9 0h1m9 0h1m6 0h1m20 0h1m40 0h1m1 0h1m4 0h1m3 0h1m23 0h1m12 0h1m51 0h1m3 0h2m39 0h1m7 0h1m80 0h1m10 0h1m27 0h1m6 0h1m23 0h1m36 0h2m2 0h1m43 0h1m30 0h1m23 0h1m33 0h1m15 0h1m2 0h1m3 0h2m15 0h1m4 0h1M18 31.5h1m18 0h1m38 0h1m33 0h1m13 0h1m5 0h1m4 0h1m7 0h1m52 0h1m144 0h1m1 0h1m5 0h1m5 0h1m88 0h1m24 0h1m4 0h1m25 0h1m37 0h1m5 0h1m10 0h1m5 0h1m6 0h1m3 0h1m3 0h1m15 0h2m2 0h1m14 0h2m11 0h1m17 0h1m18 0h1m1 0h1m3 0h1m5 0h1m5 0h1m6 0h1m6 0h1m1 0h1m7 0h1m13 0h1m9 0h1m1 0h1m7 0h3m5 0h1m63 0h1m31 0h1m13 0h1m1 0h1m37 0h1m27 0h1m47 0h1m8 0h1m20 0h2m84 0h1m4 0h1M56 32.5h2m19 0h1m9 0h1m1 0h1m30 0h1m7 0h1m13 0h1m13 0h1m11 0h1m7 0h1m8 0h1m4 0h1m4 0h1m4 0h1m15 0h1m7 0h1m2 0h1m4 0h1m61 0h1m1 0h1m6 0h2m7 0h2m5 0h2m5 0h1m8 0h1m5 0h2m5 0h1m3 0h2m10 0h2m12 0h1m17 0h2m21 0h1m19 0h3m16 0h1m30 0h1m4 0h1m6 0h2m21 0h1m41 0h1m20 0h1m2 0h1m15 0h1m34 0h1m23 0h1m6 0h2m11 0h1m10 0h1m14 0h1m7 0h1m8 0h1m6 0h1m16 0h2m3 0h2m4 0h1m6 0h1m7 0h1m8 0h1m4 0h1m5 0h1m4 0h2m20 0h1m13 0h2m17 0h1m1 0h2m9 0h1m26 0h1m2 0h1m12 0h1m11 0h1m13 0h1m19 0h1m7 0h1m7 0h1m23 0h1m12 0h2m48 0h1m25 0h1m3 0h1m15 0h1m7 0h1m21 0h1m24 0h2M16 33.5h1m4 0h1m1 0h2m3 0h2m4 0h1m32 0h1m49 0h1m25 0h1m21 0h2m8 0h1m12 0h1m44 0h2m9 0h1m13 0h1m2 0h1m15 0h1m8 0h1m1 0h1m10 0h2m13 0h1m6 0h3m56 0h1m3 0h1m6 0h1m22 0h1m4 0h1m41 0h1m33 0h1m4 0h1m47 0h1m17 0h1m5 0h1m52 0h1m4 0h1m20 0h2m22 0h1m16 0h1m20 0h2m1 0h1m1 0h2m6 0h2m2 0h1m19 0h1m1 0h1m9 0h1m21 0h1m29 0h2m12 0h1m7 0h1m4 0h1m27 0h1m5 0h1m36 0h1m12 0h1m11 0h1m7 0h1m6 0h1m2 0h1m24 0h1m5 0h1m16 0h1m37 0h1m28 0h1m17 0h1m9 0h1m3 0h2m10 0h1m6 0h1m30 0h1m3 0h1m20 0h1m6 0h1M1 34.5h1m23 0h2m5 0h1m11 0h1m1 0h1m23 0h1m6 0h1m11 0h2m10 0h1m8 0h1m18 0h1m4 0h2m3 0h1m59 0h1m1 0h1m21 0h1m11 0h1m9 0h1m14 0h2m2 0h1m6 0h1m2 0h1m5 0h1m19 0h1m1 0h1m50 0h1m35 0h1m8 0h1m46 0h1m13 0h1m14 0h1m16 0h1m4 0h1m14 0h1m8 0h1m31 0h1m2 0h1m6 0h1m2 0h1m11 0h1m4 0h1m1 0h1m47 0h1m8 0h1m7 0h2m10 0h1m15 0h2m28 0h1m5 0h1m7 0h1m19 0h1m6 0h1m8 0h1m27 0h1m11 0h1m6 0h1m6 0h1m1 0h1m5 0h2m6 0h1m2 0h1m8 0h3m4 0h2m21 0h1m6 0h1m11 0h2m4 0h1m16 0h1m11 0h1m52 0h1m35 0h1m50 0h1m16 0h2m7 0h1m6 0h1m5 0h2m5 0h1m1 0h1m20 0h1m7 0h1m55 0h1M7 35.5h1m1 0h1m9 0h1m1 0h1m11 0h2m1 0h3m13 0h1m91 0h1m28 0h1m1 0h1m1 0h1m40 0h1m29 0h1m10 0h1m21 0h2m4 0h1m12 0h1m10 0h1m14 0h1m13 0h1m25 0h1m19 0h1m74 0h1m7 0h2m26 0h1m25 0h1m2 0h1m4 0h1m2 0h1m19 0h2m1 0h1m1 0h2m19 0h1m39 0h1m11 0h2m17 0h1m28 0h1m9 0h1m1 0h1m20 0h1m2 0h2m4 0h1m2 0h1m2 0h1m7 0h1m2 0h1m1 0h1m6 0h2m6 0h1m12 0h2m7 0h1m2 0h1m2 0h2m8 0h1m20 0h1m10 0h1m7 0h1m2 0h3m2 0h1m14 0h1m2 0h1m8 0h1m21 0h1m39 0h1m4 0h1m6 0h1m15 0h1m22 0h1m1 0h1m58 0h1m13 0h1m7 0h1m6 0h1m1 0h1m4 0h2m30 0h1m9 0h1m14 0h1m2 0h1m27 0h1m20 0h2M0 36.5h1m21 0h1m10 0h1m12 0h1m17 0h1m20 0h1m25 0h2m13 0h1m14 0h1m128 0h1m22 0h1m23 0h1m13 0h2m38 0h1m44 0h1m31 0h1m1 0h1m22 0h1m42 0h1m91 0h1m18 0h1m11 0h1m23 0h2m2 0h1m5 0h1m3 0h1m20 0h1m1 0h1m10 0h1m56 0h1m21 0h1m5 0h1m3 0h1m16 0h1m25 0h2m6 0h1m21 0h1m2 0h1m2 0h1m17 0h2m22 0h1m48 0h1m4 0h1m27 0h1m43 0h1m40 0h1m73 0h1m9 0h2m2 0h1m2 0h2M521 37.5h1m108 0h2m156 0h3m6 0h1m2 0h1m1 0h1m5 0h2m2 0h2m1 0h1m9 0h1m7 0h3m2 0h1m4 0h1m10 0h1m9 0h1m9 0h2m2 0h1m15 0h1m17 0h1m1 0h1m1 0h2m3 0h1m117 0h1m96 0h1m40 0h1M40 38.5h1m9 0h2m23 0h1m41 0h1m73 0h1m27 0h1m31 0h1m19 0h1m136 0h1m12 0h1m13 0h2m22 0h1m23 0h1m11 0h1m44 0h1m3 0h2m19 0h1m4 0h1m14 0h1m78 0h1m5 0h1m25 0h1m1 0h1m103 0h1m3 0h1m9 0h2m3 0h1m1 0h2m2 0h1m10 0h1m2 0h1m2 0h1m17 0h1m6 0h1m3 0h1m6 0h2m4 0h1m26 0h3m55 0h2m110 0h4m80 0h1M51 39.5h1m39 0h1m96 0h1m10 0h1m10 0h1m49 0h2m147 0h1m4 0h1m10 0h1m12 0h1m20 0h1m2 0h1m8 0h1m86 0h1m12 0h1m20 0h1m28 0h1m6 0h1m2 0h1m19 0h1m44 0h1m6 0h1m7 0h1m27 0h3m1 0h1m4 0h1m79 0h1m11 0h1m6 0h1m38 0h1m12 0h1m3 0h1m2 0h1m74 0h1m29 0h1m4 0h1m2 0h1m49 0h1m53 0h1M14 40.5h2m31 0h1m8 0h1m87 0h1m77 0h2m22 0h1m37 0h1m78 0h1m38 0h6m2 0h1m34 0h1m28 0h1m3 0h1m28 0h1m4 0h1m61 0h1m6 0h1m44 0h2m13 0h2m69 0h2m51 0h1m16 0h2m1 0h1m2 0h1m3 0h3m1 0h1m7 0h2m1 0h2m4 0h2m2 0h2m9 0h1m2 0h1m6 0h2m8 0h1m1 0h1m1 0h1m19 0h1m1 0h1m15 0h2m8 0h1m10 0h1m238 0h1M254 41.5h2m234 0h1m2 0h1m99 0h1m46 0h1m30 0h1m25 0h2m40 0h1m206 0h1m151 0h1m70 0h1m4 0h1M69 42.5h1m21 0h1m10 0h1m39 0h1m1 0h1m16 0h1m5 0h1m13 0h1m4 0h1m23 0h1m39 0h1m40 0h1m47 0h1m13 0h1m50 0h1m16 0h1m9 0h2m6 0h1m23 0h1m4 0h1m2 0h2m5 0h1m7 0h5m3 0h1m29 0h1m1 0h1m11 0h1m29 0h2m1 0h1m18 0h1m31 0h1m25 0h1m7 0h1m43 0h1m17 0h2m4 0h1m6 0h1m19 0h1m14 0h1m6 0h1m3 0h1m1 0h1m9 0h1m4 0h2m12 0h1m10 0h3m2 0h1m16 0h1m13 0h2m10 0h1m15 0h1m7 0h1m3 0h1m2 0h1m11 0h1m28 0h1m50 0h1m114 0h2m12 0h1m56 0h1M44 43.5h1m1 0h1m3 0h1m5 0h1m93 0h2m3 0h1m27 0h1m8 0h1m30 0h1m42 0h1m8 0h1m10 0h1m1 0h1m16 0h1m5 0h1m2 0h1m5 0h2m9 0h1m21 0h1m6 0h1m1 0h1m34 0h1m13 0h1m119 0h1m71 0h1m26 0h1m46 0h2m5 0h1m82 0h1m168 0h3m25 0h1m1 0h1m11 0h2m3 0h1m8 0h1m12 0h1m16 0h1m49 0h1m1 0h2m2 0h1m28 0h3m16 0h1m6 0h1m20 0h1m1 0h1m6 0h2m22 0h1M50 44.5h1m3 0h1m33 0h1m18 0h1m16 0h1m26 0h1m3 0h1m7 0h1m54 0h2m8 0h1m1 0h2m7 0h1m11 0h1m70 0h1m19 0h1m2 0h1m8 0h1m31 0h1m252 0h2m285 0h2m11 0h1m5 0h1m46 0h1m12 0h1m3 0h1m1 0h1m6 0h1m7 0h2m4 0h1m1 0h1m1 0h1m20 0h1m7 0h1m1 0h1m15 0h1m15 0h1m8 0h1m9 0h1m11 0h1m6 0h2m12 0h2m18 0h1m8 0h1m8 0h1m2 0h1M52 45.5h1m53 0h1m15 0h2m21 0h1m32 0h1m17 0h1m40 0h1m55 0h1m14 0h1m6 0h1m30 0h1m104 0h1m216 0h1m23 0h1m135 0h1m93 0h1m6 0h1m19 0h1m17 0h1m1 0h1m2 0h2m6 0h1m10 0h1m5 0h2m1 0h1m3 0h1m40 0h1M16 46.5h1m13 0h1m57 0h1m21 0h1m36 0h1m23 0h1m4 0h1m77 0h1m15 0h2m52 0h1m131 0h1m152 0h1m252 0h1m61 0h1m34 0h1m3 0h1m11 0h1m40 0h1m10 0h2m25 0h1m12 0h1m6 0h1m3 0h1m27 0h1m2 0h2m6 0h1m18 0h1m5 0h1m36 0h1m1 0h2m11 0h1m1 0h2M7 47.5h1m3 0h1m9 0h1m5 0h1m3 0h1m6 0h1m53 0h1m25 0h1m66 0h1m55 0h2m27 0h1m26 0h1m15 0h1m28 0h1m3 0h1m7 0h1m12 0h1m4 0h1m110 0h1m330 0h1m108 0h1m8 0h1m18 0h1m3 0h2m7 0h2m15 0h1m9 0h1m3 0h1m8 0h1m2 0h1m15 0h5m1 0h1m2 0h1m1 0h1m6 0h1m16 0h1m2 0h1m4 0h1m1 0h2m7 0h1m4 0h1m12 0h1m5 0h2m7 0h1m3 0h1m2 0h2m1 0h1m38 0h2m5 0h1M6 48.5h1m3 0h1m54 0h1m27 0h1m23 0h1m31 0h2m199 0h1m234 0h1m244 0h1m65 0h2m71 0h1m5 0h2m14 0h1m18 0h1m3 0h1m19 0h2m12 0h1m7 0h1m24 0h1m7 0h1m44 0h1m35 0h1m22 0h1M44 49.5h1m20 0h1m10 0h1m20 0h1m56 0h2m7 0h2m34 0h2m3 0h1m7 0h1m4 0h1m44 0h1m33 0h1m19 0h1m19 0h1m328 0h1m228 0h1m1 0h1m30 0h1m1 0h1m11 0h1m1 0h1m10 0h1m4 0h2m8 0h1m31 0h1m3 0h1m6 0h2m5 0h1m9 0h2m1 0h1m76 0h1M53 50.5h1m6 0h2m2 0h2m27 0h2m17 0h1m2 0h1m26 0h2m35 0h1m39 0h2m19 0h1m26 0h1m34 0h1m1 0h1m2 0h1m4 0h1m6 0h1m4 0h2m16 0h1m3 0h1m2 0h3m36 0h1m3 0h1m2 0h1m15 0h1m8 0h1m195 0h1m23 0h1m100 0h1m4 0h1m30 0h1m23 0h1m10 0h2m36 0h1m1 0h1m74 0h2m1 0h1m2 0h2m18 0h1m12 0h1m5 0h1m5 0h1m1 0h1m6 0h1m1 0h1m10 0h1m5 0h1m2 0h1m15 0h1m35 0h2m3 0h1m10 0h1m1 0h1m17 0h3m6 0h1m25 0h1m12 0h1m20 0h2m9 0h2m1 0h1m1 0h1m4 0h1M25 51.5h2m128 0h2m18 0h1m73 0h1m3 0h1m6 0h1m11 0h1m16 0h1m15 0h1m47 0h1m15 0h1m17 0h1m112 0h1m26 0h1m47 0h1m124 0h1m92 0h1m55 0h1m75 0h1m6 0h2m2 0h1m5 0h1m7 0h1m13 0h1m7 0h2m29 0h1m7 0h1m6 0h2m8 0h1m7 0h1m11 0h1m24 0h1m1 0h1m54 0h1m21 0h2m7 0h1M35 52.5h1m91 0h1m20 0h1m9 0h1m244 0h3m10 0h1m21 0h1m15 0h1m30 0h1m88 0h1m29 0h1m40 0h2m12 0h1m49 0h1m217 0h1m21 0h1m1 0h2m3 0h1m5 0h1m1 0h2m2 0h1m18 0h1m34 0h1m1 0h1m14 0h1m8 0h2m28 0h2m27 0h1m8 0h1m16 0h1m18 0h1m18 0h1M23 53.5h1m18 0h1m107 0h1m209 0h2m25 0h1m37 0h2m24 0h1m28 0h1m16 0h2m57 0h1m14 0h1m41 0h2m14 0h1m17 0h1m24 0h1m3 0h1m67 0h1m44 0h1m90 0h1m51 0h1m9 0h1m4 0h2m2 0h1m6 0h2m18 0h3m24 0h1m9 0h1m14 0h1m35 0h1m52 0h1m15 0h1m5 0h1m8 0h1M5 54.5h1m23 0h1m97 0h1m26 0h1m62 0h2m145 0h2m69 0h1m94 0h2m7 0h1m6 0h1m2 0h1m19 0h1m8 0h1m108 0h1m179 0h1m58 0h1m16 0h1m17 0h1m4 0h1m30 0h1m6 0h1m13 0h1m11 0h1m8 0h2m53 0h1m10 0h1m14 0h1m29 0h1M95 55.5h1m106 0h1m39 0h1m68 0h2m47 0h1m22 0h1m21 0h1m59 0h2m20 0h1m20 0h1m19 0h1m74 0h1m2 0h1m14 0h1m15 0h1m5 0h1m5 0h1m19 0h1m93 0h1m112 0h1m89 0h1m2 0h1m12 0h1m10 0h1m13 0h2m13 0h1m1 0h1m1 0h1m5 0h1m8 0h1m5 0h2m5 0h1m9 0h1m3 0h1m17 0h1m20 0h1m1 0h1m10 0h4m21 0h1m13 0h1m18 0h2M51 56.5h1m20 0h2m39 0h1m9 0h2m34 0h1m36 0h1m112 0h1m6 0h1m55 0h1m10 0h1m9 0h1m69 0h1m7 0h1m17 0h1m57 0h1m29 0h1m36 0h1m70 0h1m5 0h1m37 0h1m95 0h1m35 0h1m10 0h1m27 0h1m28 0h1m3 0h1m44 0h3m6 0h2m2 0h2m1 0h1m4 0h1m4 0h1m14 0h1m2 0h1m13 0h1m8 0h2m6 0h1m1 0h1m19 0h1m9 0h1m8 0h1m5 0h1m48 0h2m37 0h4M2 57.5h2m35 0h1m12 0h2m26 0h1m4 0h1m12 0h1m5 0h1m80 0h1m30 0h1m3 0h1m39 0h1m21 0h1m10 0h1m10 0h1m8 0h1m9 0h1m21 0h1m13 0h1m14 0h1m4 0h1m16 0h1m4 0h1m47 0h1m23 0h1m41 0h1m16 0h1m1 0h1m4 0h1m43 0h1m54 0h2m36 0h1m9 0h1m18 0h1m8 0h1m4 0h1m11 0h1m8 0h1m94 0h1m3 0h1m3 0h2m13 0h2m33 0h1m35 0h1m38 0h1m8 0h1m6 0h1m3 0h1m5 0h1m4 0h1m1 0h2m5 0h1m2 0h1m1 0h1m6 0h2m1 0h1m15 0h1m16 0h1m4 0h1m23 0h1m52 0h2"/>
<path stroke="#ADDC30" d="M8 0.5h1m7 0h2m2 0h1m18 0h1m8 0h3m5 0h1m10 0h1m18 0h1m23 0h2m7 0h1m1 0h1m32 0h2m5 0h1m5 0h2m3 0h1m3 0h1m10 0h1m6 0h2m114 0h2m77 0h1m11 0h1m26 0h1m13 0h1m4 0h1m3 0h1m18 0h2m19 0h1m32 0h2m58 0h1m51 0h2m31 0h2m45 0h1m31 0h1m209 0h1m71 0h1m60 0h1m33 0h2m22 0h2m39 0h2m1 0h1M22 1.5h1m20 0h1m1 0h2m1 0h1m17 0h1m18 0h3m9 0h3m1 0h2m6 0h1m12 0h1m2 0h2m6 0h2m1 0h1m1 0h1m7 0h1m1 0h3m8 0h1m2 0h2m6 0h1m3 0h2m1 0h1m1 0h1m1 0h1m10 0h1m1 0h1m12 0h1m47 0h1m53 0h1m139 0h1m8 0h1m15 0h1m20 0h2m1 0h1m3 0h1m25 0h1m31 0h1m116 0h1m58 0h1m158 0h1m19 0h1m18 0h1m34 0h1m39 0h1m116 0h1m19 0h1m7 0h1M13 2.5h1m6 0h1m3 0h1m21 0h1m27 0h1m14 0h1m7 0h2m21 0h1m24 0h1m23 0h1m15 0h1m9 0h1m43 0h1m2 0h1m50 0h1m108 0h1m7 0h1m5 0h1m447 0h1m155 0h1m70 0h1m5 0h1m31 0h1m20 0h1m44 0h1M1 3.5h1m1 0h1m12 0h1m3 0h2m9 0h1m4 0h2m2 0h1m6 0h1m8 0h1m8 0h1m12 0h2m10 0h3m2 0h1m13 0h1m6 0h1m13 0h2m11 0h1m3 0h1m13 0h6m1 0h1m6 0h1m18 0h2m27 0h1m32 0h2m83 0h1m2 0h1m48 0h1m12 0h1m80 0h1m5 0h1m22 0h1m2 0h1m56 0h1m7 0h1m1 0h1m12 0h1m15 0h2m12 0h1m6 0h1m19 0h1m16 0h1m15 0h1m18 0h1m34 0h2m66 0h1m57 0h1m5 0h1m28 0h2m4 0h1m2 0h1m14 0h1m4 0h2m42 0h1m23 0h1m52 0h2m2 0h1m17 0h2m18 0h1m14 0h1m9 0h1m40 0h1m13 0h1m16 0h1M13 4.5h1m1 0h1m14 0h1m26 0h1m5 0h1m3 0h1m9 0h1m11 0h3m2 0h1m2 0h1m1 0h1m8 0h1m3 0h1m12 0h1m8 0h1m7 0h1m15 0h1m5 0h1m17 0h1m4 0h3m2 0h2m5 0h1m6 0h1m16 0h1m12 0h1m13 0h1m8 0h1m22 0h1m3 0h1m20 0h1m28 0h1m1 0h1m1 0h1m9 0h1m4 0h1m7 0h2m41 0h1m2 0h1m2 0h1m11 0h1m74 0h1m26 0h1m5 0h1m25 0h1m5 0h1m22 0h1m26 0h1m20 0h1m30 0h1m20 0h2m119 0h1m19 0h1m58 0h1m11 0h1m37 0h1m23 0h1m120 0h1m18 0h1M12 5.5h1m2 0h1m3 0h1m7 0h1m1 0h1m5 0h1m5 0h1m4 0h1m18 0h1m2 0h1m1 0h1m18 0h1m10 0h1m1 0h1m4 0h1m22 0h2m40 0h2m21 0h2m157 0h1m50 0h1m20 0h1m3 0h2m76 0h1m29 0h1m28 0h1m6 0h1m174 0h2m31 0h1m4 0h1m86 0h1m95 0h1m2 0h1m2 0h1m12 0h1m10 0h2m5 0h1m23 0h2m9 0h1m45 0h1M4 6.5h1m1 0h2m7 0h1m1 0h1m89 0h1m1 0h1m18 0h1m1 0h2m14 0h1m15 0h1m2 0h1m40 0h1m20 0h1m74 0h1m2 0h1m9 0h1m26 0h1m12 0h1m11 0h1m16 0h1m8 0h2m18 0h1m29 0h1m85 0h1m12 0h1m9 0h1m68 0h1m11 0h1m17 0h1m1 0h1m5 0h2m32 0h1m3 0h1m17 0h1m1 0h2m4 0h1m17 0h1m36 0h1m100 0h2m20 0h1m60 0h1m6 0h2m5 0h1m16 0h1m2 0h1m43 0h1m22 0h1m27 0h1m36 0h1m5 0h1m16 0h1m24 0h1M5 7.5h1m11 0h1m20 0h1m14 0h1m10 0h1m19 0h1m3 0h1m8 0h1m1 0h1m9 0h1m16 0h1m1 0h2m7 0h1m16 0h1m9 0h4m34 0h1m22 0h1m17 0h1m54 0h1m122 0h1m27 0h1m15 0h1m3 0h1m6 0h1m18 0h1m27 0h1m5 0h2m21 0h1m51 0h1m48 0h1m27 0h1m7 0h1m47 0h1m17 0h1m41 0h1m58 0h1m66 0h1m65 0h1m38 0h1m37 0h1m86 0h1M206 8.5h1m12 0h1m12 0h1m1 0h1m7 0h1m12 0h1m13 0h1m1 0h1m2 0h1m6 0h2m11 0h1m132 0h1m76 0h1m65 0h1m60 0h1m44 0h1m34 0h1m34 0h1m19 0h1m44 0h1m7 0h1m9 0h1m121 0h1m5 0h1m172 0h1m6 0h1m31 0h1M12 9.5h1m43 0h1m153 0h1m4 0h2m2 0h1m2 0h4m10 0h1m1 0h1m2 0h1m3 0h1m3 0h1m3 0h1m4 0h2m7 0h1m4 0h2m1 0h1m1 0h2m15 0h2m2 0h1m2 0h1m4 0h1m26 0h1m59 0h1m238 0h1m23 0h1m19 0h1m71 0h1m26 0h1m86 0h1m248 0h1m18 0h1m56 0h1M135 10.5h1m35 0h1m4 0h1m20 0h1m10 0h1m35 0h1m2 0h1m5 0h1m4 0h1m22 0h5m10 0h1m150 0h1m71 0h1m56 0h1m88 0h1m75 0h1m24 0h1m50 0h1m107 0h1m22 0h1m17 0h1m80 0h1m24 0h1M2 11.5h1m53 0h1m24 0h2m23 0h1m3 0h1m6 0h1m83 0h1m2 0h1m18 0h2m14 0h1m7 0h1m6 0h2m29 0h1m4 0h1m9 0h1m18 0h1m54 0h1m45 0h1m25 0h1m95 0h1m32 0h1m70 0h1m85 0h1m33 0h1m13 0h1m4 0h2m137 0h1m78 0h1m6 0h1m37 0h1m26 0h1m67 0h1m42 0h1M11 12.5h1m4 0h1m42 0h1m9 0h1m5 0h1m1 0h1m4 0h1m162 0h1m58 0h1m16 0h1m5 0h2m10 0h2m12 0h1m159 0h1m5 0h1m10 0h1m17 0h1m118 0h1m22 0h1m5 0h1m229 0h1m2 0h1m3 0h1m1 0h1m3 0h1m1 0h1m32 0h1m14 0h1m5 0h1m7 0h1m2 0h3m2 0h1m3 0h1m20 0h1m5 0h1m3 0h1m4 0h1m5 0h1m76 0h1M6 13.5h1m24 0h1m3 0h1m77 0h1m20 0h1m44 0h1m125 0h1m9 0h1m4 0h2m13 0h1m122 0h1m112 0h1m23 0h2m29 0h2m40 0h1m286 0h1m63 0h1m22 0h1m82 0h1m19 0h1M2 14.5h1m46 0h1m31 0h1m1 0h1m14 0h1m79 0h1m159 0h1m3 0h1m10 0h1m124 0h1m128 0h1m335 0h1m16 0h1m27 0h1m4 0h1m3 0h1M99 15.5h1m5 0h1m5 0h2m32 0h1m7 0h3m54 0h1m67 0h1m25 0h1m1 0h1m6 0h1m6 0h1m1 0h1m2 0h1m12 0h1m25 0h1m4 0h1m25 0h1m53 0h2m80 0h1m30 0h1m83 0h1m34 0h2m26 0h2m102 0h1m48 0h1m30 0h3m34 0h1m1 0h1m6 0h1m49 0h1m3 0h1m1 0h1m34 0h2m30 0h2m13 0h3m37 0h1m34 0h2m2 0h1m14 0h1m8 0h1M359 16.5h1m4 0h1m29 0h1m6 0h1m36 0h1m242 0h1M34 17.5h1m11 0h1m19 0h1m122 0h1m135 0h1m55 0h1m8 0h1M121 18.5h1m50 0h1m261 0h1m30 0h1m90 0h2m65 0h1m5 0h1m25 0h1m94 0h1m1 0h1m58 0h1m40 0h2m45 0h1m13 0h1m47 0h1m12 0h1m30 0h1m23 0h1m58 0h1m39 0h1m58 0h1M84 19.5h1m46 0h1m2 0h1m69 0h4m120 0h1m17 0h1m39 0h1m13 0h1m3 0h1m11 0h2m2 0h1m1 0h2m1 0h2m10 0h1m18 0h1m2 0h1m5 0h1m13 0h1m51 0h1m43 0h1m134 0h1m48 0h1m71 0h1m32 0h1m6 0h1m1 0h1m93 0h1M20 20.5h1m124 0h1m147 0h2m14 0h1m112 0h1m3 0h3m1 0h1m2 0h2m15 0h1m4 0h1m11 0h1m6 0h1m3 0h1m3 0h1m206 0h1m70 0h1m26 0h1m33 0h1m31 0h1m125 0h1m99 0h1m33 0h1m70 0h1M7 21.5h1m13 0h2m43 0h1m15 0h1m23 0h1m43 0h2m20 0h1m14 0h1m13 0h1m11 0h1m104 0h1m45 0h1m40 0h1m9 0h1m7 0h1m6 0h1m13 0h2m3 0h3m14 0h3m6 0h2m1 0h1m33 0h1m173 0h1m35 0h1m21 0h1m51 0h1m12 0h1m16 0h1m1 0h1m44 0h1m12 0h3m155 0h1m64 0h1M123 22.5h1m127 0h1m185 0h4m36 0h1m3 0h1m79 0h1m28 0h1m114 0h1m23 0h1m40 0h1m48 0h1m54 0h1m7 0h1m79 0h1m34 0h1m98 0h1M18 23.5h1m11 0h1m9 0h1m37 0h1m19 0h2m3 0h1m3 0h2m11 0h1m57 0h1m140 0h1m18 0h1m6 0h1m3 0h1m1 0h1m81 0h1m59 0h1m44 0h1m3 0h2m1 0h1m15 0h3m1 0h1m12 0h1m4 0h1m43 0h1m12 0h2m12 0h3m22 0h1m1 0h2m1 0h1m5 0h1m2 0h1m1 0h1m4 0h2m1 0h1m2 0h3m8 0h1m128 0h1m118 0h1m5 0h1m17 0h1m1 0h1m10 0h1m66 0h1m6 0h1m6 0h1M61 24.5h1m15 0h1m6 0h1m40 0h1m191 0h1m29 0h1m145 0h1m14 0h3m8 0h1m11 0h3m6 0h2m3 0h1m8 0h1m18 0h1m3 0h1m2 0h1m11 0h2m14 0h2m4 0h1m2 0h2m6 0h1m2 0h2m2 0h1m1 0h1m6 0h1m6 0h1m5 0h1m7 0h1m2 0h1m9 0h1m6 0h1m13 0h1m3 0h3m135 0h1m72 0h1m204 0h1m4 0h1M0 25.5h1m36 0h1m13 0h1m12 0h1m11 0h1m27 0h2m78 0h1m2 0h1m192 0h1m103 0h1m2 0h2m19 0h1m12 0h1m2 0h2m13 0h1m5 0h2m8 0h2m6 0h3m3 0h1m9 0h1m11 0h1m6 0h2m8 0h2m1 0h1m16 0h2m4 0h1m17 0h1m8 0h1m1 0h2m4 0h1m2 0h1m21 0h1m3 0h1m5 0h1m207 0h1m1 0h1m66 0h1m68 0h1m11 0h1m46 0h2m59 0h1M26 26.5h1m18 0h1m25 0h2m16 0h4m6 0h1m20 0h1m74 0h1m1 0h1m148 0h1m79 0h1m21 0h1m51 0h2m2 0h1m9 0h1m4 0h2m35 0h1m12 0h3m4 0h2m4 0h1m4 0h1m6 0h1m3 0h1m2 0h1m1 0h3m1 0h1m10 0h2m2 0h1m6 0h2m2 0h1m1 0h2m6 0h1m9 0h1m8 0h3m8 0h1m9 0h1m7 0h1m4 0h1m6 0h2m344 0h1m49 0h1m42 0h1M34 27.5h1m41 0h1m17 0h1m22 0h1m200 0h1m3 0h1m42 0h2m1 0h1m1 0h1m17 0h3m51 0h1m44 0h1m2 0h1m8 0h1m10 0h1m7 0h3m1 0h1m9 0h2m4 0h2m2 0h1m9 0h1m18 0h1m15 0h1m19 0h1m2 0h1m7 0h2m10 0h1m8 0h3m21 0h1m2 0h1m13 0h1m11 0h1m2 0h2m2 0h1m24 0h1m75 0h1m5 0h1m2 0h2m22 0h1m4 0h1m82 0h1m92 0h1m5 0h1m1 0h1m31 0h1m14 0h1m39 0h1m55 0h1m18 0h2M16 28.5h1m10 0h1m5 0h1m151 0h1m210 0h1m4 0h1m82 0h2m3 0h2m2 0h1m18 0h1m21 0h1m5 0h1m19 0h1m10 0h1m3 0h2m9 0h1m62 0h1m29 0h1m1 0h1m1 0h1m22 0h1m16 0h1m41 0h1m87 0h1m2 0h1m1 0h1m29 0h1m73 0h1m7 0h1m94 0h1m63 0h1m26 0h1m1 0h1m7 0h1m26 0h1M92 29.5h1m46 0h1m31 0h1m2 0h1m16 0h1m39 0h1m84 0h1m55 0h2m95 0h2m7 0h1m9 0h2m8 0h1m35 0h1m23 0h1m12 0h1m5 0h1m22 0h1m5 0h2m8 0h1m3 0h2m3 0h1m9 0h1m3 0h1m20 0h2m13 0h1m2 0h4m2 0h2m21 0h1m9 0h3m33 0h1m15 0h2m12 0h2m14 0h1m44 0h1m31 0h1m33 0h1m54 0h1m72 0h1m69 0h1m39 0h1M7 30.5h1m8 0h1m38 0h2m15 0h1m20 0h1m37 0h1m16 0h1m158 0h1m36 0h1m51 0h1m2 0h1m13 0h2m16 0h1m32 0h1m24 0h1m1 0h1m10 0h1m19 0h1m12 0h2m18 0h1m23 0h1m3 0h1m10 0h2m10 0h1m40 0h1m11 0h1m6 0h1m3 0h1m8 0h1m8 0h1m18 0h1m1 0h1m21 0h1m20 0h1m11 0h1m32 0h1m50 0h1m29 0h1m31 0h1m24 0h1m42 0h2m72 0h1m85 0h1m7 0h2m6 0h1m2 0h1m13 0h1M0 31.5h1m14 0h1m53 0h1m11 0h1m6 0h1m9 0h1m92 0h1m122 0h1m25 0h1m38 0h2m1 0h1m1 0h1m31 0h1m43 0h1m21 0h1m14 0h1m7 0h1m4 0h1m8 0h1m7 0h1m21 0h1m4 0h1m1 0h1m18 0h1m1 0h1m9 0h3m9 0h1m1 0h6m28 0h2m14 0h1m3 0h2m11 0h1m9 0h1m15 0h1m10 0h2m180 0h1m2 0h2m61 0h1m5 0h1m14 0h2m91 0h1m38 0h1m31 0h1m39 0h1m18 0h1M8 32.5h1m7 0h1m29 0h1m1 0h1m23 0h2m21 0h2m4 0h1m21 0h1m14 0h1m10 0h1m25 0h1m21 0h1m6 0h1m8 0h1m54 0h1m11 0h1m42 0h1m3 0h1m19 0h1m56 0h1m27 0h2m1 0h1m37 0h1m6 0h1m29 0h2m19 0h1m8 0h1m68 0h2m35 0h1m16 0h2m4 0h1m52 0h2m16 0h1m4 0h3m19 0h1m6 0h1m19 0h1m22 0h1m12 0h1m1 0h1m12 0h1m22 0h3m1 0h2m32 0h1m13 0h2m97 0h1m53 0h2m15 0h1m11 0h1m4 0h1m8 0h1m9 0h1m10 0h1m8 0h1m13 0h1m7 0h1m9 0h1m3 0h1M50 33.5h1m5 0h1m1 0h1m32 0h1m21 0h1m8 0h1m32 0h1m11 0h2m18 0h1m57 0h2m7 0h1m38 0h1m13 0h2m11 0h1m3 0h2m21 0h1m75 0h1m9 0h1m11 0h2m33 0h1m7 0h1m5 0h1m19 0h1m16 0h2m62 0h1m62 0h1m66 0h1m3 0h1m1 0h3m6 0h2m3 0h1m2 0h1m29 0h2m1 0h1m1 0h1m15 0h1m18 0h2m3 0h1m20 0h1m10 0h3m10 0h1m13 0h1m11 0h1m10 0h1m4 0h1m10 0h2m1 0h1m4 0h2m2 0h1m40 0h1m1 0h1m39 0h1m11 0h1m29 0h1m16 0h1m5 0h1m26 0h1m1 0h1m20 0h1m61 0h1M14 34.5h1m2 0h1m2 0h1m29 0h1m1 0h1m16 0h1m72 0h1m6 0h1m2 0h1m18 0h1m36 0h1m29 0h1m8 0h1m1 0h1m58 0h1m58 0h1m11 0h2m71 0h1m5 0h1m119 0h1m21 0h1m16 0h1m11 0h1m30 0h1m1 0h1m21 0h1m38 0h1m2 0h1m15 0h1m34 0h3m4 0h1m76 0h1m20 0h1m4 0h1m10 0h1m11 0h1m2 0h1m57 0h1m53 0h1m18 0h1m16 0h1m36 0h1m6 0h1m43 0h1m7 0h1m5 0h1m20 0h1M10 35.5h2m54 0h1m5 0h2m34 0h1m8 0h1m6 0h1m8 0h2m35 0h2m70 0h1m1 0h1m60 0h1m4 0h1m69 0h1m1 0h1m88 0h1m1 0h1m2 0h2m12 0h2m11 0h1m47 0h1m98 0h1m11 0h1m9 0h1m47 0h1m2 0h2m1 0h2m9 0h1m7 0h1m34 0h1m24 0h1m27 0h1m1 0h1m36 0h1m23 0h1m45 0h1m29 0h2m17 0h1m63 0h1m6 0h1m10 0h1m42 0h1m10 0h1m40 0h1m10 0h1M8 36.5h1m3 0h2m36 0h1m92 0h1m38 0h1m25 0h1m16 0h3m15 0h1m18 0h1m13 0h1m34 0h1m111 0h1m1 0h1m106 0h1m15 0h2m74 0h1m25 0h1m5 0h2m16 0h1m50 0h1m23 0h1m14 0h1m4 0h1m21 0h1m11 0h1m5 0h1m1 0h1m6 0h1m2 0h1m1 0h1m8 0h1m35 0h1m1 0h1m19 0h1m24 0h2m7 0h1m89 0h1m106 0h2M387 37.5h1m4 0h1m82 0h1m308 0h1m11 0h1m14 0h1m6 0h3m7 0h1m11 0h1m4 0h1m5 0h1m24 0h1m10 0h1m2 0h3m10 0h5m10 0h1m183 0h1M37 38.5h1m44 0h1m30 0h1m17 0h2m100 0h1m15 0h1m4 0h1m44 0h1m102 0h3m7 0h1m14 0h1m4 0h3m6 0h2m11 0h1m9 0h1m4 0h1m86 0h1m94 0h1m64 0h1m66 0h1m15 0h1m37 0h1m7 0h1m4 0h2m4 0h1m6 0h1m2 0h1m1 0h1m6 0h1m8 0h1m2 0h1m6 0h1m1 0h1m4 0h1m3 0h1m5 0h1m5 0h1m33 0h1m46 0h1m40 0h2m117 0h1M31 39.5h1m64 0h1m58 0h1m29 0h1m68 0h1m24 0h1m13 0h1m43 0h3m83 0h1m11 0h1m8 0h2m6 0h1m11 0h1m1 0h2m48 0h1m88 0h2m16 0h1m43 0h2m51 0h1m25 0h1m5 0h1m17 0h2m11 0h1m2 0h2m22 0h1m13 0h1m9 0h1m6 0h2m5 0h1m23 0h1m32 0h1m6 0h1m94 0h1m45 0h1m5 0h1m16 0h1m15 0h1M216 40.5h1m139 0h1m52 0h1m4 0h1m1 0h1m2 0h1m9 0h1m47 0h1m9 0h5m88 0h1m5 0h1m13 0h1m60 0h1m16 0h1m105 0h1m12 0h1m12 0h2m7 0h3m1 0h1m11 0h1m5 0h1m4 0h1m7 0h1m6 0h1m5 0h1m3 0h1m1 0h1m2 0h3m6 0h1m2 0h2m31 0h1m110 0h1m38 0h1m43 0h1m5 0h1m40 0h1m2 0h2m3 0h1m1 0h1m16 0h1M86 41.5h1m24 0h1m87 0h1m3 0h1m62 0h1m66 0h1m123 0h1m29 0h1m64 0h1m15 0h2m8 0h1m32 0h1m2 0h1m15 0h2m11 0h1m32 0h1m17 0h1m34 0h1m35 0h2m5 0h1m11 0h1m48 0h2m34 0h1m13 0h1m176 0h1m24 0h1m18 0h1m10 0h1m29 0h1m18 0h1M0 42.5h1m39 0h1m141 0h1m9 0h1m1 0h1m87 0h1m128 0h1m2 0h1m5 0h1m2 0h2m2 0h1m2 0h1m3 0h1m10 0h1m3 0h2m4 0h2m26 0h1m8 0h2m35 0h1m7 0h1m9 0h1m27 0h2m4 0h1m79 0h1m20 0h1m28 0h1m4 0h1m3 0h2m4 0h1m21 0h1m11 0h1m6 0h1m2 0h2m6 0h1m4 0h1m1 0h1m19 0h3m3 0h2m5 0h1m10 0h1m5 0h1m33 0h1m12 0h1m3 0h1m2 0h2m3 0h1m11 0h1m1 0h2m5 0h1m7 0h1m21 0h1m7 0h1m28 0h1m15 0h3m4 0h1M35 43.5h1m23 0h1m22 0h1m78 0h2m12 0h1m9 0h1m30 0h1m44 0h1m40 0h1m4 0h1m7 0h1m11 0h1m6 0h1m1 0h1m5 0h1m39 0h1m74 0h1m27 0h1m126 0h1m9 0h1m39 0h2m150 0h1m125 0h1m15 0h1m1 0h1m1 0h1m37 0h1m10 0h1m8 0h1m15 0h2m4 0h1m10 0h3m12 0h2m9 0h1m7 0h1m4 0h2m8 0h1m3 0h1m17 0h2m1 0h1m6 0h1m25 0h1m2 0h2m7 0h1m2 0h1m8 0h1m3 0h1m1 0h1M14 44.5h2m1 0h1m34 0h1m2 0h1m19 0h1m14 0h1m67 0h1m49 0h1m7 0h1m5 0h1m20 0h1m53 0h1m57 0h1m206 0h1m251 0h1m101 0h1m6 0h2m15 0h1m3 0h1m4 0h1m1 0h1m3 0h1m1 0h1m8 0h1m1 0h1m3 0h2m4 0h1m10 0h1m10 0h1m2 0h1m31 0h1m52 0h1m6 0h1m21 0h1m7 0h2m21 0h1m15 0h2m6 0h1m1 0h2m6 0h2m1 0h2m10 0h1M10 45.5h1m10 0h1m56 0h2m35 0h1m39 0h1m77 0h1m13 0h1m14 0h1m8 0h1m12 0h1m65 0h1m262 0h1m51 0h1m287 0h1m1 0h1m2 0h1m29 0h1m12 0h1m1 0h1m7 0h1m2 0h1m4 0h1m2 0h1m5 0h3m6 0h1m10 0h1m1 0h1m47 0h1M1 46.5h1m7 0h1m11 0h1m38 0h3m1 0h1m42 0h2m39 0h1m43 0h1m52 0h1m9 0h1m28 0h1m14 0h1m10 0h1m2 0h1m4 0h2m9 0h1m2 0h1m4 0h1m8 0h1m1 0h1m198 0h1m117 0h1m117 0h1m30 0h1m147 0h1m11 0h1m36 0h1m12 0h2m5 0h1m1 0h1m39 0h1m3 0h1m4 0h2m1 0h1m3 0h2m11 0h1m1 0h2m1 0h1m12 0h1m6 0h1m7 0h1m17 0h2m7 0h1m3 0h1m7 0h1m17 0h1M26 47.5h1m18 0h1m47 0h1m11 0h1m21 0h2m134 0h1m81 0h1m281 0h1m238 0h1m57 0h1m12 0h2m4 0h1m34 0h1m4 0h1m8 0h2m16 0h1m4 0h2m27 0h1m2 0h1m1 0h1m2 0h3m1 0h1m19 0h1m12 0h1m22 0h1m18 0h1m1 0h1m14 0h1m7 0h1m14 0h1m3 0h1m2 0h1m1 0h3M31 48.5h2m22 0h1m15 0h1m15 0h4m90 0h1m45 0h1m103 0h1m39 0h1m10 0h1m14 0h2m210 0h1m185 0h2m131 0h1m18 0h2m13 0h1m1 0h1m15 0h1m13 0h1m11 0h1m8 0h1m2 0h1m12 0h2m4 0h1m8 0h1m4 0h1m12 0h1m25 0h1m25 0h1m13 0h1m4 0h2m57 0h1M100 49.5h1m162 0h1m5 0h1m99 0h1m22 0h1m114 0h1m404 0h1m17 0h1m8 0h1m7 0h1m2 0h3m5 0h1m12 0h1m1 0h2m4 0h1m4 0h1m11 0h4m3 0h1m10 0h1m5 0h1m5 0h3m2 0h1m2 0h2m5 0h1m11 0h2M10 50.5h3m6 0h1m65 0h2m17 0h1m4 0h1m11 0h1m18 0h1m136 0h1m36 0h1m1 0h1m1 0h1m1 0h2m1 0h1m5 0h2m14 0h1m2 0h1m21 0h1m27 0h1m184 0h1m117 0h1m57 0h1m179 0h1m7 0h1m6 0h1m12 0h1m5 0h1m5 0h1m16 0h1m11 0h1m3 0h1m17 0h1m7 0h1m18 0h1m11 0h1m8 0h1m15 0h1m5 0h1m17 0h1m6 0h1m5 0h1m4 0h1m9 0h1m10 0h1m11 0h2m2 0h1m1 0h2m12 0h1M127 51.5h1m178 0h1m7 0h1m16 0h1m28 0h1m2 0h1m26 0h1m259 0h2m35 0h1m188 0h1m47 0h1m63 0h1m15 0h1m1 0h3m13 0h2m19 0h1m2 0h1m5 0h1m15 0h1m31 0h1m32 0h1m10 0h2m3 0h1m17 0h3m1 0h3M282 52.5h2m256 0h1m85 0h2m35 0h1m25 0h1m240 0h1m23 0h1m8 0h1m7 0h2m3 0h1m18 0h1m1 0h1m16 0h2m1 0h1m19 0h2m1 0h1m3 0h1m46 0h2m35 0h1m14 0h1m7 0h1m15 0h1m24 0h2m1 0h1M5 53.5h1m449 0h1m10 0h1m45 0h1m24 0h1m84 0h1m32 0h1m47 0h2m105 0h1m33 0h1m88 0h2m34 0h1m11 0h1m6 0h1m9 0h1m33 0h1m40 0h1m21 0h1m42 0h1m3 0h2m4 0h1m10 0h1m15 0h2m4 0h1m6 0h1M35 54.5h2m294 0h2m27 0h1m151 0h1m4 0h1m14 0h1m19 0h1m3 0h1m47 0h2m317 0h1m13 0h1m21 0h1m13 0h2m42 0h1m34 0h3m20 0h1m2 0h1m2 0h4m5 0h1m8 0h1m2 0h2m3 0h1m4 0h1m9 0h1m12 0h1m8 0h1m27 0h1m24 0h1M40 55.5h2m128 0h1m158 0h1m142 0h1m56 0h1m83 0h1m69 0h1m64 0h1m28 0h1m148 0h1m37 0h1m20 0h1m15 0h1m26 0h1m20 0h1m3 0h1m3 0h2m3 0h1m48 0h1m37 0h3m3 0h1m6 0h1m11 0h1m2 0h1m9 0h1M71 56.5h1m39 0h1m28 0h2m18 0h2m233 0h1m76 0h1m65 0h1m94 0h1m92 0h1m10 0h1m165 0h1m30 0h1m17 0h1m16 0h1m1 0h1m11 0h1m16 0h1m1 0h1m37 0h1m21 0h1m2 0h1m23 0h1m2 0h1m29 0h1m32 0h2m2 0h2m4 0h1M50 57.5h1m14 0h1m41 0h1m1 0h1m1 0h1m12 0h1m116 0h1m7 0h1m13 0h1m48 0h1m68 0h1m17 0h1m24 0h1m27 0h1m118 0h1m1 0h1m1 0h1m21 0h1m72 0h1m18 0h1m1 0h2m5 0h1m12 0h1m5 0h1m18 0h1m63 0h1m31 0h1m13 0h1m6 0h1m7 0h2m45 0h1m15 0h1m5 0h1m23 0h1m24 0h1m1 0h2m13 0h1m7 0h2m8 0h1m19 0h1m22 0h2m3 0h1m7 0h1m11 0h1m7 0h1m27 0h1m11 0h2m24 0h1m30 0h2"/>
<path stroke="#FDE725" d="M4 0.5h1m2 0h1m1 0h1m1 0h1m3 0h1m14 0h1m1 0h1m5 0h1m2 0h2m2 0h1m8 0h1m2 0h1m2 0h1m2 0h1m2 0h1m1 0h3m5 0h1m2 0h1m3 0h1m1 0h1m1 0h1m6 0h1m2 0h2m1 0h2m1 0h2m1 0h2m1 0h1m3 0h1m1 0h1m2 0h1m1 0h1m3 0h2m1 0h2m3 0h3m1 0h1m1 0h4m2 0h2m1 0h3m1 0h3m2 0h1m13 0h1m3 0h1m5 0h1m2 0h2m1 0h1m1 0h3m5 0h1m12 0h2m7 0h2m1 0h2m1 0h1m2 0h1m27 0h2m9 0h2m2 0h1m31 0h1m1 0h1m12 0h1m10 0h2m2 0h1m8 0h2m9 0h1m1 0h1m2 0h1m7 0h3m6 0h1m1 0h1m7 0h1m1 0h1m12 0h2m3 0h1m1 0h1m4 0h2m2 0h1m1 0h1m1 0h1m2 0h1m4 0h1m3 0h1m6 0h2m14 0h2m2 0h1m3 0h1m6 0h1m14 0h1m1 0h2m9 0h2m5 0h1m5 0h1m5 0h1m1 0h4m6 0h1m1 0h1m3 0h2m12 0h3m7 0h1m14 0h2m17 0h1m1 0h2m4 0h1m1 0h1m12 0h1m1 0h2m4 0h2m4 0h1m3 0h1m1 0h1m4 0h1m7 0h1m6 0h1m5 0h1m3 0h2m1 0h1m3 0h1m8 0h2m1 0h1m1 0h1m6 0h1m2 0h1m2 0h3m2 0h1m8 0h1m1 0h1m21 0h1m14 0h1m19 0h1m6 0h2m19 0h1m4 0h1m1 0h1m7 0h1m17 0h3m5 0h1m3 0h3m2 0h1m2 0h1m3 0h2m8 0h2m12 0h3m2 0h1m8 0h1m3 0h1m18 0h1m6 0h1m5 0h1m4 0h1m2 0h1m9 0h1m15 0h1m9 0h2m41 0h1m4 0h1m1 0h1m1 0h1m17 0h1m3 0h1m3 0h1m5 0h1m6 0h1m12 0h2m6 0h1m4 0h1m2 0h1m9 0h1m18 0h1m27 0h1m7 0h1m17 0h1m8 0h1m4 0h1M8 1.5h1m1 0h1m3 0h2m7 0h1m7 0h2m1 0h2m5 0h1m7 0h1m3 0h1m5 0h1m16 0h1m2 0h2m11 0h1m1 0h1m8 0h1m4 0h1m5 0h2m3 0h1m12 0h1m2 0h1m4 0h1m13 0h1m14 0h1m3 0h1m12 0h5m5 0h1m21 0h1m17 0h2m28 0h1m14 0h1m16 0h2m10 0h1m37 0h1m44 0h1m21 0h1m3 0h1m56 0h1m3 0h1m85 0h1m39 0h1m62 0h1m3 0h1m12 0h1m4 0h1m9 0h1m21 0h1m54 0h1m59 0h1m15 0h1m39 0h1m4 0h1m4 0h1m31 0h1m12 0h1m26 0h1m74 0h1m4 0h1m67 0h1m70 0h1M25 2.5h1m17 0h1m18 0h1m19 0h3m2 0h1m5 0h1m1 0h1m5 0h1m5 0h1m2 0h2m1 0h2m1 0h1m25 0h1m9 0h1m3 0h1m2 0h1m6 0h2m3 0h1m6 0h3m3 0h1m1 0h1m6 0h1m34 0h1m8 0h1m8 0h1m12 0h1m13 0h2m26 0h1m5 0h1m19 0h1m7 0h1m28 0h1m40 0h1m60 0h2m52 0h1m37 0h1m14 0h1m22 0h2m66 0h1m35 0h1m28 0h1m24 0h1m21 0h1m12 0h1m6 0h2m10 0h1m7 0h1m74 0h1m30 0h1m63 0h2m41 0h1m14 0h2m40 0h1m43 0h1m46 0h1M0 3.5h1m1 0h1m1 0h12m2 0h1m3 0h3m1 0h5m1 0h4m5 0h3m1 0h2m1 0h2m1 0h5m1 0h3m3 0h2m1 0h1m1 0h5m1 0h4m2 0h3m1 0h5m4 0h2m1 0h13m1 0h6m1 0h1m3 0h1m1 0h6m3 0h11m1 0h1m1 0h1m1 0h2m1 0h10m6 0h1m5 0h2m1 0h2m1 0h4m1 0h6m1 0h3m2 0h1m1 0h1m3 0h1m6 0h2m2 0h2m3 0h1m10 0h2m3 0h1m2 0h1m5 0h2m25 0h1m9 0h1m9 0h1m1 0h1m3 0h1m1 0h1m8 0h1m1 0h1m9 0h1m15 0h1m2 0h1m1 0h1m14 0h1m1 0h2m6 0h2m2 0h1m1 0h1m2 0h1m1 0h1m3 0h2m6 0h1m11 0h2m11 0h1m5 0h1m2 0h1m17 0h1m7 0h3m2 0h1m10 0h1m1 0h1m2 0h2m5 0h1m7 0h1m14 0h1m4 0h1m8 0h1m4 0h1m4 0h1m2 0h2m6 0h1m2 0h1m2 0h1m2 0h1m1 0h1m1 0h2m3 0h1m2 0h1m2 0h1m2 0h1m16 0h2m1 0h1m11 0h3m2 0h1m2 0h1m4 0h1m3 0h2m1 0h2m17 0h1m7 0h2m9 0h1m6 0h1m9 0h1m12 0h2m18 0h1m8 0h1m7 0h1m3 0h1m1 0h1m1 0h4m7 0h1m8 0h3m2 0h1m2 0h1m1 0h2m1 0h3m13 0h2m5 0h1m1 0h2m2 0h1m1 0h1m9 0h1m8 0h1m2 0h2m2 0h1m2 0h1m5 0h1m12 0h1m1 0h1m4 0h1m8 0h1m2 0h1m9 0h1m9 0h1m8 0h1m2 0h2m4 0h3m34 0h1m3 0h1m16 0h1m4 0h1m1 0h1m15 0h1m6 0h1m4 0h1m1 0h2m2 0h1m2 0h1m4 0h1m7 0h1m7 0h1m16 0h1m4 0h1m3 0h2m4 0h2m14 0h1m6 0h1m6 0h1m8 0h1m5 0h1m6 0h1m2 0h2m5 0h3m9 0h1m3 0h1m5 0h2m18 0h1m8 0h1m6 0h1m6 0h1m8 0h1m5 0h1M0 4.5h7m1 0h3m1 0h1m1 0h1m1 0h8m2 0h1m4 0h5m1 0h9m1 0h4m2 0h2m3 0h1m1 0h2m6 0h3m1 0h5m3 0h1m2 0h4m1 0h1m3 0h2m1 0h2m1 0h1m3 0h6m1 0h2m2 0h4m4 0h4m1 0h5m2 0h1m1 0h3m1 0h3m2 0h6m1 0h7m3 0h3m1 0h2m1 0h12m3 0h4m3 0h2m4 0h3m3 0h1m2 0h1m2 0h3m1 0h7m1 0h1m1 0h1m5 0h3m2 0h2m2 0h3m1 0h6m1 0h2m1 0h1m1 0h1m1 0h4m1 0h1m1 0h1m1 0h6m1 0h1m2 0h4m2 0h2m1 0h3m1 0h2m1 0h4m1 0h3m1 0h2m2 0h2m1 0h1m1 0h5m1 0h5m1 0h3m3 0h2m2 0h1m1 0h3m2 0h1m3 0h4m2 0h1m4 0h3m10 0h1m3 0h1m10 0h2m11 0h2m1 0h2m4 0h3m12 0h1m1 0h2m6 0h1m15 0h1m10 0h1m2 0h1m10 0h1m7 0h1m8 0h2m7 0h1m3 0h1m17 0h1m8 0h1m3 0h1m10 0h2m5 0h1m2 0h1m3 0h1m2 0h1m3 0h3m3 0h1m1 0h1m8 0h1m5 0h1m4 0h1m3 0h1m2 0h1m2 0h3m3 0h2m1 0h2m16 0h1m9 0h1m3 0h1m8 0h1m4 0h1m1 0h1m8 0h1m3 0h1m11 0h1m4 0h1m3 0h1m5 0h1m2 0h1m8 0h1m6 0h1m8 0h1m5 0h1m6 0h1m5 0h1m3 0h1m6 0h1m2 0h1m1 0h3m25 0h1m1 0h3m1 0h1m12 0h2m1 0h2m2 0h1m2 0h1m1 0h1m21 0h2m3 0h1m1 0h1m12 0h1m3 0h1m8 0h2m4 0h1m6 0h1m8 0h2m6 0h2m3 0h1m1 0h2m1 0h3m2 0h1m3 0h15m1 0h6m1 0h14m1 0h1m1 0h51m1 0h35m1 0h32m1 0h18m1 0h4m1 0h37m2 0h52M3 5.5h1m2 0h2m2 0h2m21 0h2m7 0h4m2 0h1m5 0h1m1 0h1m2 0h3m2 0h1m1 0h2m11 0h4m9 0h2m1 0h1m2 0h1m4 0h1m5 0h3m4 0h1m5 0h1m6 0h1m7 0h5m1 0h1m1 0h3m3 0h2m6 0h3m1 0h4m1 0h3m3 0h1m3 0h2m1 0h1m1 0h1m2 0h3m1 0h1m2 0h1m12 0h1m14 0h1m29 0h1m58 0h1m29 0h1m57 0h1m12 0h1m9 0h1m26 0h2m19 0h1m23 0h1m10 0h1m11 0h1m8 0h2m23 0h1m38 0h1m16 0h1m6 0h1m16 0h1m5 0h1m18 0h1m39 0h1m19 0h1m93 0h1m5 0h2m34 0h1m34 0h1m35 0h2m10 0h1m11 0h1m65 0h3m15 0h1m7 0h1m19 0h1m47 0h1m46 0h1M1 6.5h1m3 0h1m2 0h2m3 0h2m1 0h1m2 0h6m1 0h2m1 0h1m2 0h1m1 0h2m1 0h9m1 0h12m1 0h3m2 0h2m1 0h3m1 0h3m1 0h1m1 0h1m1 0h3m1 0h2m1 0h7m1 0h7m2 0h3m1 0h1m1 0h5m2 0h3m1 0h4m1 0h1m2 0h1m2 0h11m1 0h2m1 0h1m1 0h13m1 0h2m2 0h1m1 0h5m1 0h9m1 0h4m2 0h4m1 0h2m2 0h1m6 0h1m1 0h1m10 0h3m2 0h1m2 0h1m5 0h2m7 0h1m12 0h2m9 0h1m10 0h1m5 0h1m4 0h1m6 0h1m7 0h1m5 0h4m8 0h1m2 0h2m5 0h1m1 0h1m5 0h2m7 0h1m4 0h1m14 0h1m19 0h1m14 0h1m1 0h1m4 0h2m8 0h3m3 0h1m27 0h1m9 0h1m2 0h4m30 0h1m2 0h1m10 0h1m8 0h2m10 0h1m2 0h1m2 0h1m4 0h1m1 0h2m9 0h1m7 0h1m2 0h1m1 0h1m21 0h1m4 0h3m2 0h1m2 0h2m2 0h1m1 0h2m23 0h1m7 0h3m5 0h1m4 0h2m9 0h1m9 0h1m4 0h2m23 0h2m5 0h1m7 0h6m10 0h1m3 0h2m22 0h1m4 0h2m4 0h1m12 0h2m3 0h1m2 0h1m4 0h1m4 0h1m1 0h2m17 0h1m4 0h3m3 0h1m8 0h1m4 0h1m7 0h2m4 0h2m6 0h1m1 0h1m11 0h1m3 0h2m9 0h1m11 0h2m1 0h1m9 0h2m11 0h1m3 0h1m18 0h3m3 0h1m5 0h2m2 0h1m1 0h1m1 0h1m5 0h1m1 0h1m2 0h1m3 0h4m2 0h1m11 0h4m1 0h3m3 0h1m8 0h2m5 0h2m2 0h1m16 0h1m2 0h1m29 0h1m5 0h1m37 0h2M0 7.5h1m3 0h1m1 0h5m2 0h2m1 0h1m3 0h2m1 0h1m1 0h2m1 0h4m1 0h5m1 0h3m1 0h6m2 0h2m1 0h2m1 0h2m1 0h1m5 0h1m2 0h7m1 0h2m3 0h2m1 0h2m2 0h1m6 0h1m1 0h1m5 0h2m1 0h1m2 0h5m1 0h2m3 0h5m1 0h1m2 0h1m3 0h1m5 0h4m1 0h1m1 0h1m3 0h2m2 0h1m1 0h1m1 0h5m5 0h3m1 0h1m1 0h3m4 0h8m1 0h3m1 0h2m7 0h1m2 0h1m13 0h2m4 0h1m28 0h1m22 0h1m1 0h1m8 0h2m29 0h2m4 0h1m4 0h1m5 0h1m9 0h1m5 0h1m5 0h2m12 0h1m21 0h1m9 0h1m2 0h1m3 0h1m1 0h1m3 0h1m7 0h1m2 0h2m34 0h1m17 0h1m14 0h1m1 0h1m2 0h1m7 0h1m1 0h3m1 0h3m1 0h1m2 0h3m5 0h2m1 0h1m2 0h1m4 0h1m2 0h3m5 0h1m1 0h1m3 0h1m10 0h2m4 0h1m7 0h1m1 0h1m2 0h1m1 0h4m3 0h1m1 0h2m2 0h1m1 0h1m15 0h3m3 0h1m5 0h1m5 0h2m3 0h2m7 0h1m22 0h1m8 0h1m1 0h1m10 0h1m4 0h5m1 0h2m11 0h2m13 0h1m2 0h1m6 0h1m1 0h2m16 0h1m8 0h1m1 0h1m4 0h1m3 0h1m7 0h1m9 0h1m6 0h2m6 0h1m17 0h1m26 0h1m7 0h2m1 0h2m4 0h1m2 0h1m2 0h1m7 0h1m4 0h2m3 0h2m2 0h1m8 0h1m1 0h1m1 0h1m3 0h2m17 0h1m10 0h2m45 0h1m21 0h2m3 0h1m9 0h2m3 0h2m1 0h2m3 0h2m21 0h2m5 0h2m2 0h2m2 0h2m12 0h2m1 0h3m9 0h3m1 0h1m4 0h1m2 0h1m2 0h1m3 0h1m4 0h1m14 0h1m5 0h2m4 0h1m5 0h3M46 8.5h2m7 0h1m50 0h1m46 0h1m31 0h1m2 0h1m3 0h2m14 0h1m2 0h2m1 0h1m3 0h1m3 0h2m4 0h4m4 0h1m2 0h2m5 0h5m10 0h1m1 0h1m3 0h1m5 0h1m2 0h2m15 0h1m2 0h2m2 0h1m222 0h1m12 0h1m41 0h1m35 0h1m13 0h2m44 0h1m24 0h1m9 0h2m42 0h2m4 0h2m21 0h1m4 0h1m17 0h1m36 0h1m22 0h2m6 0h1m29 0h1m1 0h1m7 0h1m7 0h1m6 0h1m11 0h1m6 0h1m8 0h1m65 0h1m22 0h1m35 0h1m69 0h1m1 0h2M23 9.5h2m10 0h1m6 0h1m10 0h1m1 0h1m56 0h1m1 0h1m22 0h1m15 0h1m18 0h1m4 0h1m9 0h1m5 0h1m9 0h2m2 0h1m3 0h3m3 0h1m3 0h1m4 0h1m3 0h2m5 0h1m1 0h1m3 0h2m1 0h3m2 0h2m1 0h1m2 0h1m8 0h1m2 0h2m10 0h1m11 0h1m6 0h1m100 0h1m4 0h2m19 0h1m68 0h1m6 0h1m32 0h2m1 0h1m30 0h1m43 0h1m1 0h1m34 0h1m3 0h1m53 0h1m10 0h1m14 0h1m10 0h1m53 0h1m24 0h1m24 0h1m4 0h1m102 0h1m112 0h2m2 0h1m1 0h1m112 0h1M21 10.5h1m9 0h1m3 0h1m13 0h1m5 0h1m33 0h2m15 0h1m5 0h1m1 0h1m1 0h1m1 0h1m10 0h1m2 0h1m1 0h1m16 0h1m16 0h1m10 0h1m12 0h1m5 0h2m1 0h4m1 0h1m2 0h12m2 0h1m2 0h5m1 0h2m1 0h4m1 0h4m2 0h1m1 0h5m1 0h3m2 0h1m1 0h1m1 0h8m1 0h7m1 0h1m5 0h5m1 0h1m1 0h1m4 0h1m1 0h1m9 0h1m118 0h3m23 0h2m22 0h1m14 0h1m69 0h1m6 0h1m48 0h1m60 0h1m13 0h2m175 0h1m10 0h1m49 0h1m4 0h1m16 0h1m20 0h1m25 0h1m5 0h2m6 0h2m11 0h1m14 0h1m131 0h1M16 11.5h1m18 0h2m1 0h1m14 0h1m1 0h1m6 0h2m20 0h1m11 0h1m18 0h1m11 0h1m5 0h1m40 0h1m16 0h2m5 0h3m1 0h2m1 0h10m1 0h2m1 0h2m1 0h1m2 0h3m1 0h10m1 0h7m1 0h3m1 0h2m2 0h11m1 0h3m2 0h4m1 0h7m1 0h1m1 0h2m1 0h5m1 0h3m1 0h1m8 0h1m17 0h1m23 0h1m3 0h1m3 0h1m3 0h2m6 0h1m8 0h1m2 0h2m6 0h1m3 0h2m18 0h1m10 0h1m2 0h1m4 0h1m1 0h1m31 0h1m2 0h1m1 0h1m7 0h1m5 0h1m13 0h2m15 0h1m6 0h1m3 0h1m7 0h2m11 0h2m9 0h2m8 0h1m1 0h1m2 0h1m31 0h1m16 0h1m2 0h3m2 0h1m5 0h3m8 0h2m1 0h1m20 0h1m1 0h1m1 0h1m27 0h1m7 0h1m3 0h1m3 0h1m1 0h2m3 0h1m5 0h1m19 0h1m1 0h1m6 0h1m12 0h1m11 0h1m1 0h1m1 0h1m3 0h1m17 0h2m5 0h1m8 0h1m2 0h1m1 0h1m9 0h1m1 0h3m3 0h1m4 0h1m1 0h2m9 0h1m1 0h1m15 0h1m5 0h1m48 0h2m3 0h2m3 0h1m1 0h2m4 0h1m1 0h1m1 0h1m7 0h2m5 0h1m7 0h1m3 0h1m20 0h4m13 0h1m5 0h1m9 0h1m3 0h1m12 0h1m4 0h1m2 0h1m2 0h2m4 0h1m1 0h1m2 0h1m9 0h1m4 0h1m7 0h1m1 0h1m1 0h1m1 0h2m4 0h1m8 0h1m11 0h2m2 0h1m5 0h1m20 0h1m1 0h1m6 0h1m3 0h1m1 0h1M0 12.5h1m11 0h2m13 0h1m1 0h1m1 0h1m3 0h1m2 0h2m7 0h1m4 0h1m3 0h1m11 0h1m7 0h1m4 0h1m8 0h1m2 0h1m1 0h1m2 0h1m4 0h1m3 0h2m8 0h1m2 0h1m4 0h1m6 0h1m7 0h1m1 0h1m10 0h1m5 0h1m4 0h2m1 0h1m7 0h2m1 0h2m3 0h1m1 0h1m1 0h1m10 0h1m8 0h1m10 0h1m3 0h1m7 0h1m9 0h2m13 0h1m15 0h1m30 0h2m1 0h2m4 0h2m3 0h2m1 0h2m2 0h2m8 0h4m1 0h1m2 0h2m5 0h5m1 0h1m37 0h1m83 0h1m10 0h1m4 0h2m1 0h1m3 0h3m5 0h1m1 0h2m11 0h1m3 0h1m1 0h1m2 0h1m2 0h1m6 0h1m1 0h1m10 0h1m3 0h1m10 0h1m2 0h1m4 0h1m15 0h1m5 0h1m3 0h3m4 0h1m6 0h1m7 0h1m13 0h1m1 0h1m2 0h1m6 0h2m2 0h1m3 0h1m5 0h1m2 0h1m4 0h2m14 0h1m8 0h1m6 0h1m101 0h3m118 0h1m16 0h1m3 0h1m8 0h2m3 0h3m4 0h1m5 0h1m10 0h1m5 0h2m3 0h1m13 0h2m8 0h1m3 0h2m1 0h1m2 0h1m1 0h2m12 0h1m6 0h1m5 0h1m6 0h1m16 0h1m20 0h1m5 0h1m4 0h2m6 0h2m21 0h1m37 0h1m1 0h1M1 13.5h1m11 0h1m3 0h1m5 0h1m3 0h1m12 0h1m4 0h1m1 0h1m26 0h1m5 0h2m4 0h1m5 0h1m2 0h1m4 0h1m1 0h1m7 0h1m9 0h1m1 0h1m7 0h1m10 0h2m1 0h3m8 0h1m3 0h1m2 0h1m6 0h2m5 0h3m6 0h3m5 0h1m109 0h2m5 0h3m3 0h4m2 0h4m1 0h8m2 0h6m1 0h1m1 0h2m2 0h2m1 0h3m62 0h1m62 0h1m15 0h1m3 0h2m6 0h1m9 0h1m4 0h1m1 0h1m10 0h1m5 0h2m11 0h1m11 0h1m7 0h1m7 0h1m20 0h1m50 0h1m1 0h1m14 0h1m31 0h1m219 0h1m2 0h2m12 0h2m5 0h1m1 0h2m6 0h2m14 0h3m13 0h3m7 0h2m2 0h1m4 0h1m4 0h1m8 0h1m5 0h1m7 0h1m4 0h1m7 0h1m2 0h1m29 0h1m35 0h1m63 0h1M8 14.5h1m12 0h1m2 0h1m2 0h1m3 0h1m5 0h1m10 0h1m7 0h1m1 0h1m3 0h2m14 0h1m3 0h1m2 0h1m2 0h1m13 0h1m8 0h1m4 0h2m2 0h1m19 0h1m1 0h1m20 0h1m1 0h1m10 0h1m126 0h2m9 0h1m2 0h4m3 0h1m5 0h3m1 0h1m8 0h1m2 0h1m2 0h2m199 0h1m101 0h1m270 0h1m2 0h1m4 0h1m15 0h2m2 0h1m5 0h1m34 0h1m5 0h1m3 0h1m2 0h2m5 0h1m11 0h1m7 0h1M12 15.5h1m11 0h1m2 0h1m13 0h1m14 0h1m5 0h1m13 0h2m3 0h2m2 0h1m3 0h2m11 0h1m10 0h1m4 0h1m3 0h1m2 0h1m9 0h1m6 0h1m3 0h1m1 0h1m7 0h1m2 0h1m5 0h1m8 0h1m10 0h2m13 0h1m8 0h1m1 0h1m5 0h2m1 0h1m6 0h2m16 0h3m1 0h2m3 0h1m3 0h1m15 0h1m22 0h1m5 0h1m1 0h1m2 0h1m5 0h1m2 0h3m3 0h1m2 0h3m1 0h2m2 0h3m2 0h10m1 0h6m46 0h1m10 0h1m8 0h1m62 0h2m10 0h1m2 0h1m16 0h1m1 0h1m2 0h1m2 0h3m4 0h1m10 0h1m26 0h1m17 0h2m13 0h1m6 0h1m6 0h2m6 0h1m61 0h3m47 0h1m7 0h1m12 0h1m10 0h1m2 0h1m20 0h1m15 0h1m7 0h1m4 0h1m1 0h1m30 0h1m20 0h1m41 0h1m6 0h1m2 0h1m2 0h1m10 0h2m7 0h1m3 0h1m5 0h1m2 0h2m2 0h1m2 0h3m2 0h2m6 0h1m14 0h1m1 0h1m12 0h3m19 0h1m5 0h1m8 0h1m5 0h2m5 0h1m21 0h1m18 0h1m1 0h1m32 0h1m9 0h2m13 0h1m8 0h1m1 0h1m7 0h1M356 16.5h1m13 0h2m5 0h2m2 0h3m12 0h1m42 0h1m23 0h1m9 0h1m235 0h1m27 0h1m273 0h1m25 0h1m47 0h1M83 17.5h1m34 0h1m50 0h2m61 0h1m33 0h1m89 0h2m1 0h22m1 0h8m1 0h10M55 18.5h1m1 0h1m28 0h1m15 0h2m18 0h2m14 0h1m4 0h1m64 0h1m43 0h1m20 0h1m14 0h1m3 0h2m62 0h3m1 0h3m1 0h38m42 0h1m26 0h3m1 0h1m13 0h1m9 0h4m17 0h1m1 0h1m16 0h1m8 0h1m24 0h1m2 0h1m21 0h1m4 0h1m5 0h1m7 0h1m8 0h1m12 0h1m22 0h1m13 0h1m21 0h1m23 0h1m15 0h1m4 0h1m3 0h1m41 0h1m2 0h1m23 0h1m27 0h1m6 0h1m14 0h1m7 0h1m6 0h1m16 0h1m4 0h1m13 0h1m16 0h1m1 0h2m18 0h1m52 0h1m6 0h1m1 0h1m18 0h1m14 0h1m8 0h1m1 0h1m30 0h1m27 0h1m16 0h1m10 0h1m11 0h1m2 0h1m24 0h1M24 19.5h1m51 0h1m47 0h1m15 0h2m120 0h1m49 0h1m25 0h1m39 0h1m2 0h1m25 0h1m1 0h5m1 0h1m2 0h2m1 0h1m2 0h1m2 0h3m1 0h3m1 0h2m2 0h1m2 0h1m1 0h4m3 0h3m4 0h1m1 0h2m1 0h2m2 0h1m9 0h1m3 0h1m3 0h1m71 0h1m117 0h1m36 0h1m3 0h4m2 0h1m4 0h1m13 0h2m18 0h1m1 0h1m4 0h1m4 0h1m4 0h1m5 0h3m7 0h1m3 0h1m3 0h1m2 0h1m11 0h2m4 0h2m10 0h1m2 0h2m1 0h1m4 0h3m2 0h2m1 0h2m10 0h1m3 0h1m4 0h2m13 0h2m1 0h1m1 0h1m7 0h3m1 0h2m4 0h1m6 0h1m41 0h1m85 0h1m10 0h2m125 0h1M29 20.5h1m23 0h1m2 0h1m5 0h1m51 0h1m8 0h1m23 0h1m2 0h1m26 0h1m12 0h1m10 0h1m6 0h1m7 0h1m2 0h1m13 0h3m11 0h2m15 0h2m112 0h1m19 0h1m8 0h2m2 0h2m2 0h1m1 0h5m1 0h3m9 0h2m2 0h1m1 0h1m3 0h1m5 0h2m1 0h1m1 0h1m2 0h1m2 0h1m5 0h2m1 0h2m2 0h1m4 0h1m55 0h1m94 0h1m40 0h1m39 0h1m13 0h2m6 0h1m1 0h1m20 0h1m1 0h1m8 0h1m15 0h1m1 0h1m1 0h1m5 0h4m1 0h1m2 0h1m2 0h1m8 0h1m3 0h1m12 0h1m1 0h1m3 0h1m2 0h2m12 0h2m1 0h1m1 0h1m3 0h1m4 0h2m5 0h1m7 0h1m8 0h1m3 0h1m13 0h1m9 0h2m75 0h1m3 0h1m4 0h1m83 0h1m27 0h1M18 21.5h1m4 0h1m5 0h1m4 0h2m6 0h3m17 0h1m11 0h1m10 0h1m1 0h1m2 0h5m3 0h1m11 0h1m5 0h2m6 0h1m15 0h1m16 0h2m2 0h3m13 0h1m30 0h1m10 0h1m13 0h1m1 0h1m6 0h1m17 0h2m1 0h1m2 0h1m6 0h2m7 0h1m3 0h1m34 0h1m36 0h1m4 0h1m1 0h1m9 0h2m1 0h2m23 0h1m4 0h2m2 0h1m1 0h1m3 0h1m1 0h1m1 0h1m1 0h1m2 0h2m2 0h1m2 0h1m1 0h4m3 0h1m4 0h1m8 0h2m2 0h1m7 0h1m12 0h1m59 0h1m29 0h1m13 0h1m16 0h1m85 0h1m15 0h2m9 0h3m8 0h2m7 0h1m2 0h2m9 0h1m10 0h2m5 0h1m5 0h1m9 0h1m2 0h1m1 0h1m20 0h1m7 0h2m3 0h1m15 0h2m2 0h1m2 0h5m10 0h3m16 0h1m2 0h2m17 0h1m1 0h4m3 0h1m6 0h2m7 0h2m80 0h2m48 0h1m2 0h1m19 0h2m4 0h1m12 0h2m2 0h1m18 0h3m9 0h1m16 0h2m41 0h1M0 22.5h2m126 0h1m30 0h1m37 0h1m33 0h2m2 0h1m46 0h1m64 0h1m55 0h1m2 0h1m2 0h3m1 0h3m1 0h3m1 0h4m1 0h11m4 0h2m1 0h1m1 0h9m2 0h1m1 0h3m1 0h1m1 0h8m1 0h1m3 0h3m1 0h2m27 0h1m11 0h1m29 0h1m4 0h1m5 0h1m39 0h1m111 0h1m23 0h1m6 0h1m4 0h1m3 0h2m29 0h1m3 0h1m10 0h1m15 0h1m18 0h1m5 0h1m4 0h1m5 0h1m4 0h1m11 0h1m8 0h2m1 0h1m3 0h1m2 0h3m1 0h1m9 0h1m1 0h1m8 0h3m78 0h1m65 0h1m14 0h1m5 0h1m10 0h1m3 0h1m3 0h1m43 0h1m24 0h1m10 0h1m1 0h1m2 0h1M1 23.5h2m2 0h3m2 0h1m2 0h2m5 0h1m1 0h1m24 0h2m20 0h3m2 0h1m5 0h1m4 0h3m2 0h2m10 0h1m6 0h4m19 0h1m7 0h1m2 0h1m5 0h1m10 0h1m2 0h1m3 0h2m10 0h1m7 0h1m8 0h2m17 0h2m99 0h2m21 0h2m12 0h2m5 0h1m8 0h1m5 0h1m1 0h1m9 0h1m3 0h1m4 0h1m1 0h1m3 0h1m2 0h2m2 0h1m14 0h1m6 0h1m10 0h1m6 0h2m2 0h1m3 0h1m6 0h1m1 0h1m1 0h1m7 0h1m5 0h1m4 0h1m1 0h1m2 0h1m1 0h1m3 0h1m1 0h2m3 0h1m1 0h4m2 0h1m3 0h3m4 0h1m14 0h2m3 0h1m7 0h1m1 0h1m12 0h1m7 0h1m1 0h1m4 0h1m1 0h2m1 0h3m2 0h2m8 0h1m4 0h2m1 0h1m1 0h2m2 0h2m10 0h1m1 0h4m1 0h1m8 0h5m2 0h2m7 0h3m4 0h7m3 0h1m2 0h1m4 0h1m3 0h1m1 0h1m2 0h1m4 0h1m5 0h1m4 0h2m4 0h1m37 0h2m27 0h1m18 0h1m13 0h1m8 0h1m12 0h1m1 0h1m3 0h2m30 0h1m1 0h1m4 0h1m19 0h1m6 0h1m10 0h1m4 0h2m16 0h2m7 0h1m6 0h1m17 0h1m14 0h1m21 0h1m23 0h1m47 0h1m77 0h1M1 24.5h1m2 0h1m14 0h1m2 0h1m44 0h1m19 0h2m1 0h1m2 0h1m9 0h1m5 0h1m6 0h1m4 0h1m5 0h1m31 0h1m12 0h1m129 0h1m10 0h1m19 0h1m75 0h1m3 0h1m8 0h2m40 0h1m14 0h1m2 0h1m7 0h2m2 0h1m4 0h1m6 0h2m4 0h2m3 0h2m4 0h1m2 0h1m2 0h1m6 0h1m7 0h1m10 0h1m2 0h2m2 0h1m2 0h7m6 0h1m3 0h2m1 0h3m3 0h1m4 0h1m6 0h4m3 0h1m5 0h1m3 0h3m4 0h1m8 0h1m1 0h1m3 0h6m2 0h4m1 0h6m11 0h2m4 0h4m1 0h2m3 0h1m4 0h1m3 0h3m3 0h2m2 0h4m44 0h3m35 0h2m282 0h1m55 0h1m18 0h1m3 0h1M22 25.5h1m18 0h1m5 0h1m4 0h2m7 0h2m8 0h2m14 0h1m2 0h1m2 0h1m15 0h3m5 0h1m1 0h1m7 0h1m4 0h1m10 0h1m7 0h1m4 0h1m164 0h1m5 0h1m12 0h1m5 0h1m6 0h2m19 0h1m12 0h1m5 0h1m2 0h1m1 0h1m4 0h1m3 0h2m20 0h1m2 0h1m3 0h2m6 0h1m19 0h2m5 0h1m19 0h1m2 0h1m1 0h4m2 0h5m2 0h1m1 0h3m2 0h5m1 0h2m4 0h2m1 0h4m3 0h1m1 0h3m5 0h2m1 0h2m1 0h1m3 0h1m2 0h2m3 0h3m1 0h2m2 0h1m5 0h6m2 0h1m4 0h2m1 0h2m3 0h6m6 0h4m1 0h1m4 0h3m5 0h3m1 0h6m3 0h1m2 0h5m1 0h1m2 0h1m1 0h3m5 0h3m5 0h2m1 0h1m2 0h4m4 0h3m4 0h3m3 0h3m1 0h1m1 0h5m35 0h1m8 0h1m16 0h2m95 0h1m15 0h1m105 0h1m1 0h2m36 0h1m26 0h1m30 0h1m63 0h2M6 26.5h1m2 0h3m10 0h1m24 0h1m4 0h1m16 0h1m16 0h3m9 0h1m11 0h1m7 0h1m5 0h1m35 0h1m10 0h3m1 0h1m15 0h1m118 0h1m6 0h1m4 0h1m28 0h1m1 0h1m21 0h1m20 0h1m34 0h2m34 0h1m10 0h1m5 0h1m4 0h1m2 0h2m1 0h2m1 0h2m2 0h2m1 0h4m3 0h1m2 0h1m2 0h1m2 0h3m1 0h4m1 0h1m1 0h2m1 0h1m1 0h4m3 0h1m2 0h1m1 0h2m1 0h1m1 0h2m1 0h6m2 0h2m1 0h1m6 0h1m2 0h2m1 0h1m6 0h2m5 0h3m1 0h1m2 0h1m3 0h1m1 0h1m1 0h1m4 0h3m2 0h2m2 0h3m4 0h2m4 0h1m1 0h4m1 0h1m1 0h1m3 0h3m1 0h1m1 0h4m5 0h2m2 0h1m1 0h2m1 0h2m2 0h2m1 0h2m4 0h2m1 0h1m4 0h1m11 0h2m1 0h1m24 0h2m15 0h1m39 0h1m174 0h1m16 0h1m2 0h1m22 0h3m4 0h1m5 0h1m7 0h1m23 0h1m7 0h1m5 0h1m9 0h1m7 0h1m14 0h2m18 0h1m4 0h1m5 0h1m13 0h1m12 0h1M2 27.5h1m6 0h1m9 0h3m5 0h1m8 0h1m8 0h1m1 0h1m4 0h1m13 0h4m11 0h1m8 0h1m1 0h1m13 0h4m1 0h1m9 0h4m2 0h1m4 0h4m7 0h1m5 0h1m4 0h1m5 0h2m1 0h2m7 0h2m9 0h1m4 0h1m3 0h1m110 0h1m4 0h1m8 0h1m9 0h1m23 0h1m1 0h2m2 0h2m8 0h1m7 0h1m11 0h1m3 0h1m1 0h1m1 0h2m1 0h2m3 0h1m7 0h1m6 0h1m1 0h1m3 0h1m6 0h2m4 0h1m9 0h1m2 0h2m5 0h1m2 0h1m3 0h1m12 0h1m4 0h1m1 0h2m2 0h2m1 0h5m2 0h1m1 0h2m2 0h2m1 0h1m3 0h6m4 0h1m1 0h2m3 0h4m2 0h4m2 0h2m1 0h1m2 0h3m1 0h2m1 0h1m2 0h5m1 0h6m2 0h1m2 0h12m6 0h1m4 0h11m1 0h2m1 0h2m1 0h3m4 0h1m1 0h2m1 0h4m1 0h5m1 0h2m3 0h12m1 0h3m1 0h4m2 0h1m3 0h5m1 0h5m1 0h6m2 0h3m1 0h2m2 0h2m3 0h10m4 0h1m3 0h1m8 0h3m5 0h2m3 0h1m2 0h1m1 0h1m10 0h1m4 0h2m19 0h1m5 0h1m2 0h3m11 0h2m2 0h1m8 0h1m10 0h1m2 0h1m8 0h1m10 0h1m1 0h1m12 0h1m17 0h1m5 0h1m9 0h1m5 0h1m2 0h1m1 0h2m22 0h1m39 0h1m2 0h1m15 0h2m3 0h2m11 0h1m5 0h1m9 0h2m5 0h1m6 0h1m1 0h1m1 0h1m6 0h1m3 0h1m1 0h4m2 0h1m11 0h1m2 0h1m5 0h1m12 0h1m18 0h1m1 0h1m6 0h1m5 0h1m10 0h1m2 0h3m1 0h1m3 0h1m1 0h1m15 0h1m5 0h2m3 0h1m3 0h1m1 0h2M2 28.5h1m3 0h1m3 0h1m44 0h1m1 0h1m1 0h1m1 0h1m5 0h4m1 0h1m2 0h3m5 0h1m2 0h1m1 0h1m1 0h3m1 0h2m2 0h1m1 0h1m2 0h1m12 0h2m9 0h1m2 0h1m1 0h1m1 0h2m3 0h1m4 0h2m5 0h1m3 0h1m5 0h1m5 0h1m3 0h2m14 0h3m2 0h1m1 0h1m108 0h1m4 0h1m8 0h1m17 0h3m1 0h1m2 0h1m8 0h1m1 0h1m5 0h4m5 0h2m4 0h1m30 0h1m3 0h2m7 0h1m3 0h2m5 0h1m3 0h1m2 0h2m2 0h2m5 0h1m2 0h1m9 0h2m2 0h1m6 0h1m10 0h2m2 0h2m3 0h2m3 0h2m2 0h6m2 0h4m2 0h3m1 0h3m2 0h3m1 0h2m1 0h2m1 0h1m1 0h1m1 0h3m1 0h5m2 0h8m1 0h3m1 0h1m1 0h1m1 0h6m1 0h3m2 0h2m1 0h6m2 0h10m1 0h1m2 0h1m1 0h8m2 0h3m1 0h4m1 0h1m1 0h7m2 0h4m2 0h1m1 0h6m2 0h8m2 0h5m1 0h10m6 0h1m1 0h2m2 0h2m1 0h1m1 0h5m1 0h2m1 0h4m1 0h5m20 0h1m1 0h1m19 0h1m5 0h1m2 0h1m13 0h1m14 0h2m2 0h1m3 0h1m8 0h1m3 0h1m11 0h1m2 0h1m12 0h1m15 0h1m3 0h1m14 0h1m1 0h3m4 0h1m4 0h4m9 0h1m12 0h1m11 0h1m7 0h1m6 0h1m2 0h1m4 0h1m3 0h3m2 0h1m6 0h1m10 0h1m4 0h2m2 0h1m10 0h1m2 0h2m10 0h1m1 0h1m10 0h1m4 0h5m24 0h1m3 0h1m3 0h2m7 0h1m5 0h1m3 0h1m2 0h1m3 0h1m1 0h2m4 0h1m24 0h1m2 0h2m1 0h1m2 0h1m3 0h1m1 0h1m3 0h2m3 0h1m1 0h1m3 0h1m1 0h2m1 0h1m5 0h1m27 0h1M5 29.5h1m3 0h2m2 0h1m5 0h1m7 0h1m4 0h1m4 0h1m7 0h3m4 0h1m4 0h1m1 0h3m6 0h1m3 0h1m11 0h1m2 0h1m15 0h1m5 0h3m9 0h2m1 0h1m5 0h1m1 0h3m7 0h2m4 0h2m6 0h1m3 0h1m4 0h1m28 0h2m107 0h1m13 0h1m1 0h1m3 0h1m3 0h1m18 0h1m6 0h2m10 0h1m2 0h1m18 0h1m8 0h1m13 0h4m9 0h1m14 0h1m11 0h1m1 0h1m2 0h2m3 0h1m4 0h1m6 0h1m9 0h1m3 0h2m5 0h4m5 0h8m1 0h2m6 0h1m2 0h2m2 0h6m1 0h1m1 0h3m3 0h2m1 0h2m2 0h1m2 0h5m1 0h1m1 0h1m1 0h1m5 0h4m3 0h3m1 0h9m5 0h2m1 0h5m3 0h3m5 0h2m2 0h1m1 0h2m3 0h3m2 0h7m2 0h3m1 0h6m1 0h2m2 0h2m2 0h1m2 0h1m4 0h1m1 0h1m2 0h6m2 0h2m4 0h1m3 0h2m1 0h4m1 0h1m3 0h4m1 0h3m2 0h4m8 0h1m10 0h2m4 0h1m4 0h1m3 0h1m7 0h1m8 0h1m16 0h1m19 0h1m15 0h1m7 0h2m2 0h2m25 0h1m1 0h1m1 0h1m1 0h1m22 0h1m4 0h2m5 0h2m1 0h1m1 0h1m1 0h2m15 0h2m10 0h1m1 0h1m32 0h1m21 0h1m2 0h1m9 0h3m15 0h4m11 0h1m19 0h2m6 0h1m12 0h2m6 0h1m3 0h1m6 0h1m3 0h1m2 0h1m8 0h1m1 0h2m4 0h1m3 0h2m3 0h1m7 0h1m1 0h1m1 0h1m10 0h2m11 0h3m3 0h3m11 0h1m2 0h1M0 30.5h1m5 0h1m39 0h1m5 0h1m11 0h1m4 0h1m1 0h1m4 0h1m4 0h1m2 0h1m2 0h3m13 0h2m15 0h2m4 0h1m3 0h1m9 0h1m2 0h2m4 0h1m10 0h1m3 0h1m5 0h1m5 0h1m13 0h1m3 0h1m108 0h1m2 0h1m10 0h1m13 0h1m7 0h2m5 0h1m2 0h1m10 0h1m1 0h1m2 0h1m4 0h1m1 0h1m1 0h2m16 0h2m4 0h1m2 0h1m7 0h1m1 0h1m11 0h1m2 0h1m3 0h1m4 0h1m8 0h1m2 0h2m4 0h1m4 0h3m21 0h7m4 0h6m1 0h2m2 0h3m4 0h2m1 0h8m3 0h8m1 0h1m3 0h9m3 0h3m1 0h1m1 0h6m1 0h5m1 0h3m1 0h3m2 0h1m1 0h2m2 0h1m1 0h1m1 0h1m1 0h4m2 0h4m1 0h5m1 0h3m1 0h10m1 0h1m1 0h8m1 0h4m2 0h8m1 0h3m1 0h1m1 0h1m1 0h2m3 0h1m2 0h2m1 0h3m1 0h8m1 0h6m1 0h1m1 0h3m2 0h3m3 0h7m1 0h1m2 0h1m17 0h1m7 0h1m31 0h1m13 0h1m23 0h1m1 0h1m1 0h1m4 0h1m21 0h1m17 0h1m2 0h1m1 0h1m5 0h1m1 0h1m6 0h1m4 0h1m2 0h1m1 0h1m4 0h1m9 0h1m3 0h1m5 0h2m6 0h2m11 0h1m7 0h1m2 0h1m2 0h2m2 0h1m2 0h1m13 0h1m14 0h1m6 0h2m7 0h1m16 0h2m3 0h1m2 0h1m7 0h1m3 0h1m19 0h1m8 0h1m2 0h1m1 0h1m12 0h1m3 0h1m1 0h1m19 0h1m8 0h3m3 0h1m7 0h2m2 0h2m3 0h1m8 0h3m35 0h2M2 31.5h1m1 0h1m4 0h1m26 0h1m3 0h1m4 0h1m14 0h2m6 0h1m8 0h1m2 0h1m3 0h1m2 0h1m2 0h1m12 0h2m6 0h1m15 0h3m39 0h1m2 0h1m15 0h1m114 0h1m3 0h1m1 0h1m12 0h1m8 0h2m6 0h1m5 0h1m5 0h1m1 0h1m2 0h2m2 0h1m4 0h1m2 0h1m6 0h2m6 0h1m17 0h1m12 0h1m2 0h1m13 0h1m1 0h1m3 0h2m2 0h2m6 0h3m4 0h1m1 0h1m3 0h1m1 0h1m2 0h1m10 0h1m6 0h2m2 0h7m2 0h2m1 0h3m4 0h2m1 0h3m1 0h4m1 0h4m1 0h2m1 0h10m1 0h2m1 0h2m1 0h2m5 0h2m4 0h1m1 0h1m1 0h5m2 0h3m1 0h2m3 0h9m3 0h1m3 0h2m1 0h2m1 0h1m6 0h3m5 0h1m2 0h3m1 0h2m1 0h4m1 0h5m6 0h1m1 0h8m1 0h3m2 0h1m8 0h1m2 0h1m2 0h1m1 0h3m3 0h1m2 0h3m1 0h2m1 0h3m6 0h1m1 0h1m2 0h1m2 0h2m2 0h1m18 0h1m12 0h1m11 0h1m2 0h1m25 0h1m35 0h1m19 0h1m5 0h1m49 0h1m6 0h1m1 0h1m29 0h1m11 0h3m31 0h1m15 0h1m29 0h1m3 0h1m20 0h1m1 0h1m5 0h1m29 0h1m42 0h1m13 0h4m3 0h1M33 32.5h2m7 0h1m1 0h1m4 0h2m12 0h1m67 0h1m3 0h1m14 0h1m28 0h1m35 0h1m12 0h1m1 0h1m10 0h1m16 0h1m18 0h3m12 0h1m24 0h1m62 0h1m8 0h1m9 0h1m3 0h1m60 0h1m87 0h1m35 0h1m126 0h4m5 0h4m1 0h5m2 0h1m2 0h1m1 0h2m5 0h3m8 0h1m1 0h1m2 0h1m1 0h1m1 0h1m2 0h2m2 0h3m1 0h4m18 0h1m8 0h1m9 0h2m1 0h2m9 0h1m6 0h2m53 0h2m19 0h1m90 0h1m49 0h1m1 0h1m5 0h1m5 0h1m2 0h1m9 0h1m29 0h1m9 0h1m1 0h1m2 0h2m12 0h1m29 0h2m7 0h1m4 0h1M42 33.5h1m95 0h1m9 0h1m25 0h1m20 0h2m16 0h1m15 0h1m23 0h1m20 0h1m1 0h1m36 0h1m31 0h1m49 0h2m29 0h1m17 0h1m6 0h1m14 0h1m26 0h1m55 0h1m73 0h1m2 0h2m9 0h1m22 0h1m28 0h1m11 0h1m10 0h1m4 0h1m2 0h3m5 0h1m5 0h5m5 0h1m2 0h1m3 0h1m3 0h2m2 0h1m1 0h1m3 0h1m2 0h1m3 0h1m1 0h2m4 0h1m1 0h1m11 0h2m5 0h2m23 0h1m10 0h3m2 0h1m3 0h2m28 0h1m6 0h1m11 0h4m3 0h2m14 0h1m51 0h1m91 0h1m3 0h1m2 0h1m34 0h1m1 0h2m1 0h1m3 0h1m8 0h3m46 0h1m3 0h1m21 0h1M19 34.5h1m45 0h1m55 0h1m8 0h1m13 0h1m28 0h1m50 0h1m9 0h1m16 0h1m21 0h1m49 0h1m83 0h1m9 0h1m30 0h1m64 0h1m43 0h1m50 0h2m12 0h1m28 0h2m17 0h1m1 0h1m1 0h1m37 0h1m1 0h1m2 0h3m2 0h1m7 0h9m4 0h5m1 0h5m1 0h1m2 0h6m2 0h2m2 0h3m1 0h1m17 0h2m13 0h1m4 0h1m70 0h1m8 0h1m16 0h1m52 0h1m21 0h1m97 0h1m34 0h1m29 0h1m16 0h2m13 0h1M1 35.5h1m46 0h1m15 0h1m25 0h1m16 0h1m5 0h1m5 0h2m1 0h1m59 0h1m6 0h1m37 0h1m36 0h2m8 0h1m16 0h1m6 0h1m33 0h1m18 0h2m25 0h1m55 0h1m243 0h1m19 0h1m13 0h1m2 0h1m5 0h1m7 0h3m1 0h1m1 0h1m2 0h1m4 0h2m2 0h1m3 0h4m2 0h3m2 0h6m9 0h1m1 0h1m31 0h2m76 0h1m12 0h1m32 0h1m9 0h2m22 0h1m54 0h2m21 0h1m27 0h1m20 0h1m3 0h1m24 0h1m8 0h1m3 0h1m1 0h2m7 0h1m10 0h1m8 0h3m5 0h1m17 0h3M5 36.5h1m43 0h1m6 0h1m13 0h1m9 0h2m12 0h1m3 0h1m14 0h1m8 0h1m11 0h1m2 0h1m4 0h1m10 0h1m1 0h1m4 0h3m2 0h1m10 0h1m9 0h2m14 0h1m9 0h1m15 0h2m22 0h1m39 0h1m11 0h1m47 0h1m10 0h1m3 0h1m1 0h1m3 0h4m5 0h1m9 0h1m8 0h1m10 0h1m40 0h1m26 0h1m14 0h1m6 0h1m22 0h1m1 0h4m8 0h1m12 0h1m16 0h1m11 0h2m6 0h1m2 0h1m4 0h1m2 0h2m9 0h1m2 0h2m9 0h2m2 0h2m5 0h3m5 0h1m1 0h1m14 0h1m4 0h1m20 0h1m34 0h3m1 0h1m19 0h2m8 0h1m5 0h1m3 0h1m14 0h2m1 0h3m1 0h2m2 0h4m2 0h2m4 0h1m5 0h1m2 0h1m1 0h1m3 0h2m3 0h4m1 0h3m2 0h5m1 0h3m2 0h1m1 0h3m3 0h7m1 0h2m1 0h2m3 0h1m1 0h2m1 0h1m3 0h1m1 0h1m1 0h1m2 0h2m1 0h1m3 0h5m3 0h3m1 0h2m1 0h6m1 0h1m2 0h4m5 0h1m18 0h1m96 0h1m135 0h1m3 0h1M403 37.5h1m381 0h2m12 0h1m5 0h1m15 0h4m1 0h2m2 0h1m13 0h1m1 0h2m11 0h1m3 0h1m6 0h2m5 0h1m3 0h1m2 0h3m6 0h1m2 0h1m2 0h1m2 0h1m16 0h2M53 38.5h1m10 0h1m4 0h1m35 0h1m36 0h1m12 0h1m19 0h1m23 0h1m86 0h1m21 0h1m7 0h1m88 0h3m2 0h2m3 0h6m1 0h5m1 0h2m7 0h4m2 0h2m1 0h3m2 0h1m1 0h1m4 0h1m1 0h4m1 0h2m3 0h12m11 0h1m12 0h1m13 0h2m6 0h1m134 0h1m27 0h1m43 0h1m5 0h1m37 0h1m4 0h3m1 0h1m5 0h1m1 0h1m3 0h2m5 0h4m1 0h1m2 0h1m4 0h1m1 0h1m3 0h1m2 0h4m1 0h1m4 0h2m2 0h1m2 0h1m2 0h1m2 0h1m1 0h2m1 0h2m1 0h2m2 0h1m2 0h1m2 0h2m4 0h1m5 0h2m7 0h2m9 0h3m1 0h1m2 0h1m2 0h1m5 0h2m1 0h1m89 0h3m20 0h1m21 0h1m118 0h1m16 0h1M105 39.5h1m88 0h1m23 0h1m31 0h1m15 0h1m29 0h1m23 0h1m3 0h1m63 0h1m13 0h2m1 0h4m1 0h4m1 0h3m1 0h4m1 0h1m3 0h5m1 0h1m4 0h3m4 0h2m2 0h1m2 0h2m1 0h3m4 0h1m1 0h1m2 0h2m2 0h3m1 0h1m1 0h6m1 0h1m9 0h2m10 0h1m20 0h1m3 0h2m2 0h1m1 0h2m14 0h1m2 0h1m3 0h1m2 0h1m7 0h2m1 0h1m34 0h2m2 0h1m1 0h2m12 0h1m12 0h1m4 0h1m14 0h2m7 0h1m16 0h2m22 0h7m3 0h7m2 0h1m2 0h4m3 0h1m1 0h2m1 0h1m1 0h3m1 0h17m2 0h11m1 0h2m2 0h22m1 0h13m1 0h3m1 0h5m1 0h5m3 0h4m2 0h9m2 0h12m1 0h3m1 0h5m1 0h1m1 0h1m1 0h12m2 0h1m2 0h1m2 0h3m1 0h1m1 0h10m80 0h1m26 0h1m8 0h1m34 0h1m13 0h2M76 40.5h1m25 0h1m17 0h1m8 0h2m103 0h1m15 0h1m125 0h1m15 0h1m19 0h1m7 0h1m9 0h1m1 0h2m1 0h1m13 0h1m18 0h1m52 0h1m5 0h1m16 0h1m7 0h4m8 0h1m27 0h1m3 0h1m8 0h1m27 0h1m9 0h1m3 0h1m11 0h1m10 0h1m47 0h1m26 0h1m8 0h1m7 0h2m17 0h1m5 0h1m11 0h3m1 0h1m2 0h1m2 0h1m2 0h1m2 0h1m9 0h2m5 0h3m2 0h1m5 0h1m1 0h1m1 0h1m1 0h1m1 0h1m1 0h1m1 0h1m2 0h1m3 0h1m1 0h3m1 0h1m6 0h1m7 0h1m2 0h1m5 0h3m3 0h1m2 0h1m2 0h1m1 0h1m2 0h2m3 0h1m1 0h4m41 0h1m113 0h1m6 0h2m14 0h2m3 0h2m11 0h1m1 0h3m12 0h1m5 0h1m18 0h1m9 0h1m14 0h1m6 0h1M22 41.5h2m2 0h1m48 0h1m8 0h1m24 0h1m10 0h1m86 0h1m1 0h1m57 0h1m29 0h1m43 0h2m59 0h55m1 0h26m8 0h1m1 0h2m11 0h1m7 0h1m13 0h2m1 0h1m4 0h1m1 0h1m5 0h1m2 0h1m18 0h1m2 0h1m9 0h1m4 0h3m4 0h1m3 0h1m4 0h1m13 0h2m3 0h1m1 0h1m15 0h1m20 0h1m2 0h3m17 0h1m30 0h16m1 0h9m1 0h25m2 0h5m1 0h11m1 0h48m2 0h34m1 0h13m1 0h38m112 0h1m7 0h1m29 0h2m5 0h2m15 0h1m8 0h1m17 0h1m26 0h2m10 0h2m4 0h1m13 0h1m6 0h1m2 0h1M16 42.5h1m2 0h1m5 0h1m5 0h1m5 0h1m10 0h2m6 0h1m4 0h1m2 0h1m9 0h1m10 0h2m1 0h1m17 0h4m3 0h2m3 0h1m18 0h1m5 0h1m9 0h1m1 0h1m4 0h1m14 0h1m13 0h1m3 0h1m21 0h1m2 0h1m3 0h1m22 0h1m8 0h1m40 0h1m8 0h1m45 0h1m37 0h2m2 0h2m8 0h2m2 0h3m1 0h1m1 0h1m2 0h2m5 0h1m2 0h2m1 0h1m4 0h1m2 0h2m3 0h4m2 0h2m3 0h1m1 0h1m4 0h3m2 0h4m1 0h1m3 0h1m1 0h1m1 0h1m2 0h3m12 0h1m2 0h1m4 0h1m16 0h2m6 0h1m3 0h1m6 0h2m3 0h1m9 0h1m9 0h2m1 0h1m14 0h1m3 0h1m5 0h1m2 0h2m5 0h1m16 0h2m5 0h1m28 0h1m8 0h1m11 0h1m7 0h2m8 0h1m7 0h1m7 0h1m2 0h2m2 0h1m4 0h2m3 0h1m2 0h1m1 0h1m1 0h1m1 0h2m1 0h2m1 0h1m2 0h2m3 0h1m3 0h2m2 0h1m2 0h2m1 0h2m2 0h1m5 0h2m4 0h1m1 0h1m1 0h1m1 0h1m3 0h3m3 0h1m2 0h1m1 0h1m2 0h1m4 0h1m5 0h3m4 0h2m1 0h4m2 0h3m2 0h3m1 0h1m1 0h2m3 0h7m3 0h10m3 0h4m1 0h3m1 0h3m2 0h2m1 0h2m3 0h1m8 0h1m1 0h3m1 0h1m3 0h2m3 0h3m1 0h1m15 0h1m12 0h1m13 0h1m10 0h1m39 0h1m27 0h1m23 0h1m15 0h2m10 0h1m5 0h1m31 0h1m11 0h2m18 0h1m17 0h1M7 43.5h2m2 0h4m2 0h1m7 0h1m1 0h1m2 0h1m3 0h1m2 0h1m2 0h2m3 0h1m2 0h1m6 0h1m7 0h2m2 0h3m6 0h1m6 0h1m2 0h1m4 0h4m2 0h1m5 0h1m3 0h1m19 0h1m3 0h2m5 0h1m2 0h1m17 0h1m3 0h1m5 0h1m4 0h1m2 0h1m3 0h1m5 0h1m1 0h1m5 0h5m6 0h2m3 0h2m23 0h1m32 0h2m10 0h1m8 0h1m1 0h1m11 0h1m3 0h1m7 0h1m1 0h2m5 0h1m2 0h3m2 0h1m1 0h1m4 0h1m2 0h3m1 0h1m1 0h4m1 0h1m8 0h4m7 0h1m6 0h1m10 0h1m216 0h1m72 0h1m239 0h14m3 0h1m1 0h15m1 0h1m3 0h3m1 0h1m1 0h11m2 0h3m1 0h8m1 0h5m1 0h6m1 0h3m2 0h7m1 0h3m1 0h11m2 0h4m1 0h2m2 0h6m4 0h6m2 0h1m5 0h2m5 0h1m2 0h1m2 0h1m5 0h2m2 0h1m2 0h1m2 0h2m1 0h1m1 0h1m1 0h2m4 0h3m1 0h1m1 0h4m6 0h2m6 0h2m2 0h3m3 0h5m17 0h1m6 0h7m9 0h1m3 0h3M4 44.5h1m8 0h1m11 0h1m1 0h1m1 0h1m5 0h2m3 0h1m19 0h1m4 0h1m1 0h1m8 0h1m1 0h1m18 0h2m30 0h1m2 0h7m25 0h1m4 0h1m19 0h1m4 0h1m11 0h1m13 0h1m33 0h1m15 0h1m13 0h1m5 0h1m1 0h1m6 0h1m7 0h1m1 0h5m3 0h1m3 0h1m2 0h4m1 0h2m1 0h1m2 0h2m1 0h2m3 0h2m1 0h1m45 0h2m90 0h1m426 0h1m13 0h1m3 0h10m2 0h3m3 0h1m2 0h1m1 0h3m1 0h1m1 0h8m1 0h1m1 0h3m2 0h4m1 0h5m2 0h3m4 0h3m1 0h3m1 0h1m2 0h1m1 0h3m1 0h1m1 0h6m3 0h1m1 0h3m3 0h3m1 0h1m4 0h1m1 0h7m3 0h6m2 0h1m7 0h1m5 0h3m2 0h2m2 0h2m11 0h1m3 0h1m2 0h1m1 0h4m4 0h1m1 0h2m1 0h1m2 0h1m2 0h1m8 0h3m8 0h1m6 0h1m5 0h2m2 0h5m14 0h1m12 0h1m1 0h4M4 45.5h1m11 0h1m23 0h1m3 0h1m10 0h1m15 0h2m3 0h1m9 0h1m34 0h1m3 0h2m4 0h1m1 0h1m3 0h2m2 0h1m4 0h1m15 0h1m13 0h2m1 0h1m4 0h1m1 0h1m1 0h2m15 0h1m7 0h1m2 0h1m2 0h1m2 0h1m4 0h1m33 0h1m10 0h1m13 0h1m12 0h1m5 0h1m1 0h1m5 0h2m4 0h3m2 0h1m1 0h1m1 0h1m6 0h1m1 0h3m15 0h1m18 0h1m17 0h1m13 0h1m23 0h1m481 0h1m10 0h2m1 0h2m2 0h1m1 0h5m1 0h11m1 0h3m1 0h1m2 0h1m1 0h8m1 0h1m1 0h2m2 0h3m4 0h2m1 0h1m1 0h1m2 0h2m3 0h3m2 0h1m5 0h2m3 0h1m1 0h2m2 0h1m3 0h1m2 0h2m1 0h2m3 0h6m2 0h2m2 0h1m2 0h2m1 0h1m3 0h3m1 0h2m8 0h1m41 0h1m32 0h1M3 46.5h1m13 0h2m3 0h1m12 0h1m22 0h1m6 0h1m1 0h1m1 0h1m1 0h1m4 0h1m15 0h2m2 0h1m25 0h1m12 0h1m4 0h1m4 0h1m4 0h2m17 0h1m2 0h1m9 0h1m69 0h1m10 0h1m11 0h1m22 0h1m6 0h1m1 0h1m20 0h1m6 0h1m4 0h1m8 0h2m23 0h1m17 0h1m35 0h1m198 0h1m294 0h1m2 0h11m1 0h22m1 0h2m2 0h2m1 0h6m3 0h35m1 0h4m1 0h6m3 0h1m2 0h2m1 0h1m2 0h19m1 0h2m1 0h1m3 0h1m9 0h1m8 0h1m4 0h1m1 0h1m3 0h2m1 0h1m1 0h4m2 0h1m11 0h2m6 0h1m1 0h1m19 0h1m5 0h1m5 0h1m1 0h3m1 0h3m1 0h1m1 0h1m1 0h3m2 0h1m1 0h1m1 0h1m2 0h3m7 0h1M16 47.5h4m5 0h1m9 0h1m4 0h1m7 0h1m6 0h1m3 0h1m5 0h1m1 0h1m2 0h2m11 0h1m4 0h2m1 0h1m3 0h1m3 0h1m24 0h2m5 0h1m3 0h1m2 0h1m1 0h1m28 0h1m5 0h2m14 0h1m13 0h1m92 0h1m3 0h1m1 0h1m4 0h1m7 0h1m5 0h2m3 0h1m19 0h2m181 0h1m218 0h1m127 0h1m43 0h1m2 0h7m1 0h4m2 0h1m1 0h1m2 0h2m2 0h3m1 0h1m4 0h6m3 0h6m3 0h3m1 0h2m3 0h1m1 0h5m3 0h1m2 0h5m1 0h1m1 0h2m4 0h4m2 0h2m1 0h2m6 0h1m2 0h1m1 0h1m1 0h4m3 0h2m1 0h2m1 0h1m6 0h1m1 0h1m1 0h2m1 0h3m5 0h2m6 0h1m2 0h1m1 0h3m1 0h2m1 0h5m1 0h3m1 0h1m2 0h7m3 0h1m1 0h2m2 0h1m1 0h2m1 0h1m1 0h5m1 0h1m1 0h14m3 0h5m1 0h2m4 0h1m3 0h3m2 0h3m4 0h1m3 0h7m1 0h3m2 0h2M2 48.5h1m14 0h1m30 0h2m9 0h1m7 0h1m14 0h1m8 0h1m8 0h1m1 0h1m6 0h1m11 0h1m11 0h1m19 0h1m6 0h1m8 0h1m2 0h1m2 0h1m4 0h1m10 0h1m24 0h1m14 0h1m37 0h1m35 0h1m4 0h1m2 0h2m2 0h2m5 0h1m3 0h2m6 0h1m10 0h1m7 0h1m39 0h1m188 0h1m164 0h1m172 0h2m1 0h2m2 0h1m1 0h5m1 0h4m2 0h4m2 0h7m1 0h5m1 0h1m1 0h2m3 0h1m8 0h1m1 0h1m2 0h4m1 0h2m2 0h1m1 0h11m1 0h3m1 0h3m2 0h2m2 0h11m8 0h7m1 0h1m2 0h1m1 0h4m1 0h2m68 0h3m34 0h1m16 0h1M1 49.5h1m31 0h1m4 0h1m1 0h2m3 0h1m13 0h1m8 0h1m14 0h2m24 0h1m1 0h1m6 0h1m3 0h1m14 0h1m48 0h1m18 0h1m25 0h1m8 0h1m11 0h1m2 0h2m18 0h1m52 0h1m57 0h1m310 0h1m226 0h3m1 0h1m2 0h2m1 0h3m1 0h1m1 0h1m1 0h1m1 0h3m1 0h2m3 0h1m1 0h3m4 0h7m1 0h1m1 0h1m2 0h4m1 0h4m1 0h7m1 0h1m6 0h1m1 0h1m3 0h6m3 0h4m2 0h3m1 0h1m7 0h1m3 0h4m1 0h9m1 0h1m2 0h3M6 50.5h1m10 0h1m8 0h2m4 0h3m8 0h1m11 0h2m12 0h1m1 0h1m9 0h1m6 0h1m3 0h1m3 0h2m3 0h1m8 0h1m3 0h1m2 0h3m13 0h1m1 0h1m14 0h1m4 0h1m6 0h1m6 0h1m5 0h2m3 0h1m5 0h4m4 0h1m21 0h1m22 0h1m1 0h2m11 0h1m6 0h1m6 0h1m2 0h2m1 0h2m2 0h1m11 0h1m5 0h1m8 0h1m2 0h4m1 0h1m1 0h1m6 0h1m4 0h1m3 0h1m5 0h1m3 0h1m1 0h2m7 0h1m2 0h1m18 0h2m45 0h2m216 0h1m59 0h1m50 0h1m40 0h1m83 0h1m9 0h1m36 0h5m2 0h1m1 0h2m2 0h4m1 0h7m1 0h2m1 0h2m2 0h1m1 0h3m2 0h1m5 0h4m3 0h3m3 0h4m1 0h1m3 0h1m1 0h1m1 0h2m1 0h3m1 0h4m2 0h1m2 0h2m3 0h2m1 0h5m3 0h1m1 0h2m4 0h3m2 0h1m1 0h8m1 0h3m1 0h3m1 0h1m1 0h1m2 0h2m10 0h2m3 0h1m4 0h1m6 0h2m8 0h1m2 0h1m1 0h3m1 0h2m1 0h1m4 0h1m1 0h1m1 0h1m2 0h1m6 0h3m19 0h2m3 0h1m2 0h1m4 0h1m19 0h1m6 0h2M21 51.5h1m53 0h2m25 0h1m3 0h1m32 0h1m67 0h1m47 0h1m15 0h1m18 0h2m8 0h1m56 0h1m25 0h1m16 0h2m5 0h2m23 0h1m26 0h1m14 0h2m22 0h1m5 0h1m48 0h1m15 0h2m5 0h1m36 0h1m27 0h1m12 0h1m1 0h1m6 0h2m4 0h1m1 0h2m18 0h1m3 0h2m1 0h1m44 0h1m81 0h1m104 0h1m12 0h1m2 0h3m2 0h1m5 0h1m5 0h1m6 0h2m5 0h1m7 0h1m14 0h1m9 0h1m2 0h1m7 0h1m11 0h1m3 0h2m3 0h1m1 0h1m5 0h1m3 0h1m1 0h1m1 0h10m1 0h4m1 0h1m1 0h13m2 0h9m1 0h6m1 0h12m1 0h7m1 0h1m1 0h1m2 0h10m2 0h3m1 0h2m2 0h7m1 0h5m3 0h1m3 0h12m1 0h7m1 0h3M25 52.5h1m19 0h1m29 0h1m255 0h1m20 0h1m32 0h1m34 0h1m67 0h2m30 0h1m118 0h1m20 0h1m270 0h2m14 0h1m18 0h1m2 0h2m9 0h1m2 0h1m2 0h1m1 0h1m7 0h1m2 0h2m3 0h1m14 0h2m5 0h2m1 0h1m1 0h1m1 0h1m23 0h1m1 0h11m1 0h6m3 0h5m1 0h5m2 0h14m1 0h7m2 0h1m1 0h1m1 0h7m1 0h4m2 0h8m1 0h7m2 0h14m1 0h3m1 0h1m1 0h4m1 0h9m3 0h1m2 0h1m1 0h2M55 53.5h1m42 0h2m216 0h1m20 0h1m11 0h1m7 0h1m5 0h1m17 0h1m7 0h1m14 0h1m5 0h1m1 0h1m5 0h2m2 0h1m7 0h1m1 0h2m6 0h1m21 0h1m1 0h2m6 0h1m1 0h2m2 0h1m22 0h1m5 0h1m12 0h1m4 0h1m18 0h1m12 0h3m13 0h1m15 0h2m61 0h1m3 0h1m2 0h1m1 0h1m9 0h1m3 0h1m25 0h1m14 0h1m26 0h1m132 0h2m48 0h2m15 0h1m17 0h1m9 0h2m4 0h1m12 0h1m4 0h1m1 0h1m3 0h1m2 0h1m9 0h1m22 0h1m1 0h1m4 0h1m7 0h1m6 0h7m1 0h6m2 0h4m1 0h1m1 0h13m1 0h15m1 0h3m1 0h3m1 0h2m1 0h9m1 0h2m1 0h2m1 0h2m3 0h4m1 0h1m1 0h3m1 0h4m1 0h15m2 0h4m1 0h4m1 0h1m1 0h5m2 0h2M25 54.5h1m73 0h1m5 0h1m33 0h2m108 0h1m92 0h1m5 0h1m22 0h2m10 0h1m120 0h2m61 0h1m28 0h1m54 0h1m4 0h1m43 0h1m9 0h1m14 0h1m6 0h2m13 0h1m31 0h1m129 0h1m19 0h1m1 0h4m3 0h1m3 0h1m10 0h1m4 0h1m1 0h1m6 0h1m1 0h2m18 0h1m8 0h1m11 0h1m1 0h1m6 0h2m7 0h1m9 0h1m8 0h4m8 0h7m2 0h7m1 0h2m1 0h2m4 0h1m1 0h3m1 0h3m1 0h4m1 0h2m2 0h1m1 0h1m2 0h3m1 0h3m1 0h2m2 0h1m1 0h12m1 0h3m1 0h4m2 0h4m2 0h8m1 0h1m1 0h9m1 0h6m1 0h4m2 0h7m1 0h3M5 55.5h1m45 0h1m57 0h1m17 0h1m17 0h1m185 0h1m62 0h2m101 0h1m14 0h3m9 0h1m13 0h1m19 0h1m6 0h1m3 0h1m1 0h1m1 0h1m6 0h1m18 0h3m9 0h1m5 0h1m20 0h1m2 0h1m17 0h1m30 0h1m7 0h1m2 0h1m1 0h1m28 0h1m5 0h1m186 0h1m22 0h1m39 0h1m5 0h3m2 0h1m4 0h2m31 0h1m4 0h1m7 0h1m8 0h3m1 0h1m1 0h3m1 0h1m2 0h14m2 0h8m1 0h7m1 0h2m1 0h1m1 0h1m1 0h1m1 0h6m4 0h4m1 0h16m1 0h3m3 0h3m2 0h2m1 0h2m1 0h1m1 0h9m1 0h2m3 0h3m1 0h3m1 0h8m1 0h1M0 56.5h1m81 0h2m67 0h1m43 0h1m53 0h1m40 0h1m96 0h1m2 0h1m41 0h1m65 0h1m12 0h1m30 0h1m31 0h1m4 0h1m76 0h1m11 0h1m1 0h1m9 0h2m8 0h1m1 0h1m1 0h1m7 0h1m39 0h1m4 0h1m91 0h1m14 0h1m33 0h1m35 0h3m10 0h1m4 0h2m10 0h1m13 0h1m1 0h1m2 0h1m1 0h1m6 0h1m29 0h1m1 0h1m12 0h1m10 0h1m21 0h1m5 0h9m1 0h9m1 0h2m2 0h2m1 0h1m1 0h3m1 0h1m1 0h21m1 0h15m1 0h5m1 0h4m2 0h4m2 0h2m2 0h4m1 0h22m4 0h6M5 57.5h1m6 0h1m8 0h2m2 0h1m14 0h1m2 0h1m17 0h1m8 0h3m17 0h1m24 0h1m2 0h1m10 0h2m6 0h1m13 0h1m1 0h1m21 0h1m5 0h2m1 0h1m7 0h1m4 0h1m26 0h1m22 0h1m20 0h1m3 0h1m8 0h1m15 0h2m21 0h1m10 0h1m6 0h1m2 0h1m10 0h1m4 0h1m2 0h1m2 0h1m4 0h1m1 0h1m2 0h1m14 0h1m8 0h1m4 0h1m1 0h1m20 0h1m3 0h1m4 0h1m5 0h2m4 0h1m7 0h2m2 0h3m11 0h1m15 0h1m9 0h1m6 0h1m3 0h2m13 0h2m7 0h1m18 0h2m12 0h3m10 0h1m4 0h1m4 0h1m4 0h1m5 0h1m8 0h1m7 0h1m4 0h1m14 0h1m7 0h3m8 0h1m3 0h2m4 0h1m8 0h1m7 0h2m5 0h1m31 0h1m9 0h1m4 0h2m4 0h1m35 0h1m15 0h1m21 0h1m3 0h1m54 0h1m15 0h1m49 0h1m3 0h1m13 0h1m14 0h1m7 0h1m8 0h1m22 0h1m10 0h1m10 0h2m13 0h2m5 0h2m2 0h4m1 0h2m1 0h8m1 0h2m1 0h2m1 0h4m1 0h27m1 0h11m2 0h6m2 0h1m1 0h14m1 0h21m1 0h8m2 0h2m1 0h6"/>
</g></g>
<rect x="300" y="195.6" width="1438.2" height="604.77" fill="none" stroke="#000" stroke-width="2.5"/>
<g fill="none" stroke="#fff" stroke-width="8.3" stroke-linejoin="round"><rect x="300" y="195.6" width="237.9" height="83.42"/><rect x="537.9" y="279.02" width="124.9" height="41.71"/><rect x="662.8" y="320.72" width="64.2" height="41.71"/><rect x="727" y="362.43" width="56.1" height="31.28"/><rect x="783.1" y="393.71" width="97.9" height="41.71"/><rect x="881" y="435.42" width="274" height="93.84"/><rect x="1155" y="529.26" width="84.8" height="41.71"/><rect x="1239.8" y="570.97" width="167.2" height="72.99"/><rect x="1407" y="643.96" width="164.7" height="83.42"/><rect x="1571.7" y="727.38" width="166.5" height="72.99"/></g>
<text transform="translate(385.7 849.7) translate(-2.47 0) scale(1.0018 1)" font-size="30.09">Ecotype</text>
<rect x="344.9" y="871" width="29.6" height="27.9" fill="#D73A31"/>
<text transform="translate(387.8 893) translate(-1.41 0) scale(1.0300 1)" font-size="27.33">CE1</text>
<rect x="344.9" y="902.1" width="29.6" height="27.9" fill="#F7E04C"/>
<text transform="translate(387.8 924) translate(-1.41 0) scale(1.0300 1)" font-size="27.33">CE2</text>
<rect x="344.9" y="933.2" width="29.6" height="27.9" fill="#72B55F"/>
<text transform="translate(387.8 954.9) translate(-1.41 0) scale(1.0300 1)" font-size="27.33">CE3</text>
<rect x="458.2" y="871" width="29.6" height="27.9" fill="#E591BE"/>
<text transform="translate(497.6 893) translate(-1.41 0) scale(1.0300 1)" font-size="27.33">CE4</text>
<rect x="458.2" y="902.1" width="29.6" height="27.9" fill="#9960A7"/>
<text transform="translate(497.6 924) translate(-1.41 0) scale(1.0300 1)" font-size="27.33">CE5</text>
<rect x="458.2" y="933.2" width="29.6" height="27.9" fill="#A5A5A5"/>
<text transform="translate(497.6 954.9) translate(-1.41 0) scale(1.0300 1)" font-size="27.33">CE6</text>
<rect x="571.3" y="871" width="29.6" height="27.9" fill="#B8D5E8"/>
<text transform="translate(607.7 893) translate(-1.41 0) scale(1.0300 1)" font-size="27.33">CE7</text>
<rect x="571.3" y="902.1" width="29.6" height="27.9" fill="#E8D9C3"/>
<text transform="translate(607.7 924) translate(-1.41 0) scale(1.0300 1)" font-size="27.33">CE8</text>
<rect x="571.3" y="933.2" width="29.6" height="27.9" fill="#F29236"/>
<text transform="translate(607.7 954.9) translate(-1.41 0) scale(1.0300 1)" font-size="27.33">CE9</text>
<rect x="684.1" y="871" width="29.6" height="27.9" fill="#5088BD"/>
<text transform="translate(717.6 893) translate(-1.41 0) scale(1.0300 1)" font-size="27.33">CE10</text>
<text transform="translate(1278.7 853.3) translate(-1.45 0) scale(0.9392 1)" font-size="30.96">CellType</text>
<rect x="829.9" y="871" width="29.6" height="27.9" fill="#E6AB22"/>
<text transform="translate(868.1 894) translate(-2.31 0) scale(1.0300 1)" font-size="27.33">B.cells</text>
<rect x="829.9" y="902.1" width="29.6" height="27.9" fill="#E7298A"/>
<text transform="translate(868.1 925) translate(-1.41 0) scale(1.0300 1)" font-size="27.33">CD4.T.cells</text>
<rect x="829.9" y="933.2" width="29.6" height="27.9" fill="#7570B3"/>
<text transform="translate(868.1 955.9) translate(-1.41 0) scale(1.0300 1)" font-size="27.33">CD8.T.cells</text>
<rect x="1032.7" y="871" width="29.6" height="27.9" fill="#D96228"/>
<text transform="translate(1074.7 893) translate(-2.31 0) scale(1.0300 1)" font-size="27.33">Dendritic.cells</text>
<rect x="1032.7" y="902.1" width="29.6" height="27.9" fill="#179F79"/>
<text transform="translate(1074.7 924) translate(-2.31 0) scale(1.0300 1)" font-size="27.33">Endothelial.cells</text>
<rect x="1032.7" y="933.2" width="29.6" height="27.9" fill="#CAB2D6"/>
<text transform="translate(1074.7 954.9) translate(-2.31 0) scale(1.0300 1)" font-size="27.33">Epithelial.cells</text>
<rect x="1298" y="871" width="29.6" height="27.9" fill="#FDBF6F"/>
<text transform="translate(1338.2 893) translate(-2.31 0) scale(1.0300 1)" font-size="27.33">Fibroblasts</text>
<rect x="1298" y="902.1" width="29.6" height="27.9" fill="#F79D9C"/>
<text transform="translate(1338.2 924) translate(-2.31 0) scale(1.0300 1)" font-size="27.33">Mast.cells</text>
<rect x="1298" y="933.2" width="29.6" height="27.9" fill="#B3D98C"/>
<text transform="translate(1338.2 954.9) translate(-2.31 0) scale(1.0300 1)" font-size="27.33">Monocytes/Macrophages</text>
<text transform="translate(462.1 1015.3) translate(-1.27 0) scale(0.9147 1)" font-size="30.96">State</text>
<rect x="344.9" y="1032.2" width="29.6" height="27.9" fill="#E61C70"/>
<text transform="translate(385.1 1053.8) translate(-1.27 0) scale(1.0300 1)" font-size="27.33">S01</text>
<rect x="344.9" y="1063.3" width="29.6" height="27.9" fill="#379EBA"/>
<text transform="translate(385.1 1084.9) translate(-1.27 0) scale(1.0300 1)" font-size="27.33">S02</text>
<rect x="344.9" y="1094.4" width="29.6" height="27.9" fill="#60B04A"/>
<text transform="translate(385.1 1116) translate(-1.27 0) scale(1.0300 1)" font-size="27.33">S03</text>
<rect x="453.2" y="1032.2" width="29.6" height="27.9" fill="#7E51A0"/>
<text transform="translate(494.1 1053.8) translate(-1.27 0) scale(1.0300 1)" font-size="27.33">S04</text>
<rect x="453.2" y="1063.3" width="29.6" height="27.9" fill="#F47920"/>
<text transform="translate(494.1 1084.9) translate(-1.27 0) scale(1.0300 1)" font-size="27.33">S05</text>
<rect x="453.2" y="1094.4" width="29.6" height="27.9" fill="#FFCB05"/>
<text transform="translate(494.1 1116) translate(-1.27 0) scale(1.0300 1)" font-size="27.33">S06</text>
<rect x="561.6" y="1032.2" width="29.6" height="27.9" fill="#A65628"/>
<text transform="translate(602.1 1053.8) translate(-1.27 0) scale(1.0300 1)" font-size="27.33">S07</text>
<rect x="561.6" y="1063.3" width="29.6" height="27.9" fill="#D589BB"/>
<text transform="translate(602.1 1084.9) translate(-1.27 0) scale(1.0300 1)" font-size="27.33">S08</text>
<rect x="561.6" y="1094.4" width="29.6" height="27.9" fill="#999999"/>
<text transform="translate(602.1 1116) translate(-1.27 0) scale(1.0300 1)" font-size="27.33">S09</text>
<rect x="831.4" y="1001.1" width="29.6" height="27.9" fill="#A6CEE3"/>
<text transform="translate(869.3 1031.3) translate(-2.31 0) scale(1.0300 1)" font-size="27.33">NK.cells</text>
<rect x="831.4" y="1032.2" width="29.6" height="27.9" fill="#999999"/>
<text transform="translate(869.3 1062.2) translate(-2.31 0) scale(1.0300 1)" font-size="27.33">PCs</text>
<rect x="831.4" y="1063.3" width="29.6" height="27.9" fill="#F084B4"/>
<text transform="translate(869.3 1093) translate(-2.31 0) scale(1.0300 1)" font-size="27.33">PMNs</text>
<text transform="translate(1345.6 1025.4) translate(-1.34 0) scale(0.9826 1)" font-size="30.23">State abundance</text>
<rect x="1308" y="1040.5" width="315.9" height="33.4" fill="url(#vir)"/>
<path d="M1315.1 1040.5v7M1315.1 1066.9v7" stroke="#fff" stroke-width="2.4"/>
<path d="M1414.9 1040.5v7M1414.9 1066.9v7" stroke="#fff" stroke-width="2.4"/>
<path d="M1514.7 1040.5v7M1514.7 1066.9v7" stroke="#fff" stroke-width="2.4"/>
<path d="M1614.4 1040.5v7M1614.4 1066.9v7" stroke="#fff" stroke-width="2.4"/>
<text transform="translate(1308 1098.8) translate(-1.14 0) scale(1.1425 1)" font-size="25.58">0</text>
<text transform="translate(1395.6 1098.8) translate(-1.07 0) scale(1.0680 1)" font-size="25.58">0.1</text>
<text transform="translate(1495.7 1098.8) translate(-1.15 0) scale(1.1568 1)" font-size="25.58">0.2</text>
<text transform="translate(1595.8 1098.8) translate(-1.14 0) scale(1.1416 1)" font-size="25.58">0.3</text>
<path d="M215.9 1462.6L215.9 1296.6A166 166 0 0 0 56.97 1414.68Z" fill="#D73A31"/>
<path d="M215.9 1462.6L56.97 1414.68A166 166 0 0 0 49.96 1467.02Z" fill="#F7E04C"/>
<path d="M215.9 1462.6L49.96 1467.02A166 166 0 0 0 54.64 1502Z" fill="#72B55F"/>
<path d="M215.9 1462.6L54.64 1502A166 166 0 0 0 59.74 1518.91Z" fill="#E591BE"/>
<path d="M215.9 1462.6L59.74 1518.91A166 166 0 0 0 75.18 1550.65Z" fill="#9960A7"/>
<path d="M215.9 1462.6L75.18 1550.65A166 166 0 0 0 163.76 1620.2Z" fill="#A5A5A5"/>
<path d="M215.9 1462.6L163.76 1620.2A166 166 0 0 0 307.66 1600.93Z" fill="#B8D5E8"/>
<path d="M215.9 1462.6L307.66 1600.93A166 166 0 0 0 368.84 1527.14Z" fill="#E8D9C3"/>
<path d="M215.9 1462.6L368.84 1527.14A166 166 0 0 0 340.83 1353.29Z" fill="#F29236"/>
<path d="M215.9 1462.6L340.83 1353.29A166 166 0 0 0 215.9 1296.6Z" fill="#5088BD"/>
<path d="M215.9 1462.6L215.9 1294.6M215.9 1462.6L55.05 1414.1M215.9 1462.6L47.96 1467.07M215.9 1462.6L52.7 1502.47M215.9 1462.6L57.86 1519.59M215.9 1462.6L73.48 1551.71M215.9 1462.6L163.14 1622.1M215.9 1462.6L308.77 1602.6M215.9 1462.6L370.68 1527.92M215.9 1462.6L342.33 1351.97" stroke="#fff" stroke-width="4.4" fill="none"/>
<text transform="translate(226.3 1365.3) translate(-0.6 0) scale(0.9372 1)" font-size="15.7" font-weight="bold">CE10 n=18)</text>
<text transform="translate(120.6 1399.3) translate(-0.6 0) scale(0.9370 1)" font-size="15.7" font-weight="bold">CE1( n=24)</text>
<text transform="translate(272.8 1453.5) translate(-0.6 0) scale(0.9307 1)" font-size="15.7" font-weight="bold">CE9( n=21)</text>
<text transform="translate(66.7 1453.5) translate(-0.6 0) scale(0.9395 1)" font-size="15.7" font-weight="bold">CE2( n=6)</text>
<text transform="translate(42.8 1489.3) translate(-0.6 0) scale(0.9325 1)" font-size="15.7" font-weight="bold">CE3( n=4)</text>
<text transform="translate(0.7 1515.2) translate(-0.6 0) scale(0.9367 1)" font-size="15.7" font-weight="bold">CE4( n=2)</text>
<text transform="translate(42.8 1535.4) translate(-0.6 0) scale(0.9325 1)" font-size="15.7" font-weight="bold">CE5( n=4)</text>
<text transform="translate(102.7 1561.5) translate(-0.6 0) scale(0.9345 1)" font-size="15.7" font-weight="bold">CE6( n=13)</text>
<text transform="translate(278.5 1546) translate(-0.6 0) scale(0.9367 1)" font-size="15.7" font-weight="bold">CE8( n=11</text>
<text transform="translate(197.7 1599.5) translate(-0.6 0) scale(0.9370 1)" font-size="15.7" font-weight="bold">CE7( n=17)</text>
<text transform="translate(107.4 1674.9) translate(-2.16 0) scale(0.8872 1)" font-size="36.92" font-weight="bold" fill="#231F20">Melanoma (n=118)</text>
<path d="M591.4 1463.5L591.4 1297.5A166 166 0 0 0 433.52 1412.2Z" fill="#D73A31"/>
<path d="M591.4 1463.5L433.52 1412.2A166 166 0 0 0 433.52 1514.8Z" fill="#F7E04C"/>
<path d="M591.4 1463.5L433.52 1514.8A166 166 0 0 0 442.93 1537.75Z" fill="#72B55F"/>
<path d="M591.4 1463.5L442.93 1537.75A166 166 0 0 0 537.75 1620.59Z" fill="#E591BE"/>
<path d="M591.4 1463.5L537.75 1620.59A166 166 0 0 0 611.22 1628.31Z" fill="#9960A7"/>
<path d="M591.4 1463.5L611.22 1628.31A166 166 0 0 0 654.35 1617.1Z" fill="#A5A5A5"/>
<path d="M591.4 1463.5L654.35 1617.1A166 166 0 0 0 680.77 1603.39Z" fill="#B8D5E8"/>
<path d="M591.4 1463.5L680.77 1603.39A166 166 0 0 0 757.38 1465.98Z" fill="#E8D9C3"/>
<path d="M591.4 1463.5L757.38 1465.98A166 166 0 0 0 732.61 1376.24Z" fill="#F29236"/>
<path d="M591.4 1463.5L732.61 1376.24A166 166 0 0 0 591.4 1297.5Z" fill="#5088BD"/>
<path d="M591.4 1463.5L591.4 1295.5M591.4 1463.5L431.62 1411.59M591.4 1463.5L431.62 1515.41M591.4 1463.5L441.14 1538.65M591.4 1463.5L537.1 1622.48M591.4 1463.5L611.46 1630.3M591.4 1463.5L655.11 1618.95M591.4 1463.5L681.84 1605.08M591.4 1463.5L759.38 1466.01M591.4 1463.5L734.31 1375.19" stroke="#fff" stroke-width="4.4" fill="none"/>
<text transform="translate(491.5 1384.9) translate(-0.56 0) scale(0.8746 1)" font-size="15.7" font-weight="bold">CE1( n=42)</text>
<text transform="translate(612.6 1384.9) translate(-0.56 0) scale(0.8665 1)" font-size="15.7" font-weight="bold">CE10 ( n=34)</text>
<text transform="translate(662.8 1435.9) translate(-0.56 0) scale(0.8696 1)" font-size="15.7" font-weight="bold">CE9( n=19)</text>
<text transform="translate(438.5 1467.2) translate(-0.56 0) scale(0.8744 1)" font-size="15.7" font-weight="bold">CE2 ( n=21)</text>
<text transform="translate(668.5 1507) translate(-0.56 0) scale(0.8696 1)" font-size="15.7" font-weight="bold">CE8( n=33)</text>
<text transform="translate(407.4 1527.9) translate(-0.57 0) scale(0.8807 1)" font-size="15.7" font-weight="bold">CE3( n=5)</text>
<text transform="translate(606.9 1538.6) translate(-0.56 0) scale(0.8737 1)" font-size="15.7" font-weight="bold">CE7( n=6)</text>
<text transform="translate(461.6 1559.7) translate(-0.56 0) scale(0.8696 1)" font-size="15.7" font-weight="bold">CE4( n=26)</text>
<text transform="translate(542.4 1591.6) translate(-0.56 0) scale(0.8696 1)" font-size="15.7" font-weight="bold">CE5( n=15)</text>
<text transform="translate(606.9 1613.7) translate(-0.56 0) scale(0.8737 1)" font-size="15.7" font-weight="bold">CE6( n=9)</text>
<text transform="translate(505.6 1682.8) translate(-2.13 0) scale(0.8742 1)" font-size="36.92" font-weight="bold" fill="#231F20">HNC (n=210)</text>
<path d="M971.9 1466.5L971.9 1301A165.5 165.5 0 0 0 820.54 1399.55Z" fill="#D73A31"/>
<path d="M971.9 1466.5L820.54 1399.55A165.5 165.5 0 0 0 806.76 1477.37Z" fill="#F7E04C"/>
<path d="M971.9 1466.5L806.76 1477.37A165.5 165.5 0 0 0 814.5 1517.64Z" fill="#72B55F"/>
<path d="M971.9 1466.5L814.5 1517.64A165.5 165.5 0 0 0 819.58 1531.23Z" fill="#E591BE"/>
<path d="M971.9 1466.5L819.58 1531.23A165.5 165.5 0 0 0 852.76 1581.37Z" fill="#9960A7"/>
<path d="M971.9 1466.5L852.76 1581.37A165.5 165.5 0 0 0 1035.51 1619.29Z" fill="#A5A5A5"/>
<path d="M971.9 1466.5L1035.51 1619.29A165.5 165.5 0 0 0 1097.55 1574.21Z" fill="#B8D5E8"/>
<path d="M971.9 1466.5L1097.55 1574.21A165.5 165.5 0 0 0 1136.87 1453.21Z" fill="#E8D9C3"/>
<path d="M971.9 1466.5L1136.87 1453.21A165.5 165.5 0 0 0 1078.69 1340.07Z" fill="#F29236"/>
<path d="M971.9 1466.5L1078.69 1340.07A165.5 165.5 0 0 0 971.9 1301Z" fill="#5088BD"/>
<path d="M971.9 1466.5L971.9 1299M971.9 1466.5L818.72 1398.74M971.9 1466.5L804.76 1477.51M971.9 1466.5L812.6 1518.26M971.9 1466.5L817.74 1532.01M971.9 1466.5L851.32 1582.76M971.9 1466.5L1036.28 1621.13M971.9 1466.5L1099.07 1575.52M971.9 1466.5L1138.86 1453.05M971.9 1466.5L1079.98 1338.54" stroke="#fff" stroke-width="4.4" fill="none"/>
<text transform="translate(972.7 1360) translate(-0.59 0) scale(0.9204 1)" font-size="15.7" font-weight="bold">CE10(n=28)</text>
<text transform="translate(876.4 1388.1) translate(-0.6 0) scale(0.9263 1)" font-size="15.7" font-weight="bold">CE1(n=37)</text>
<text transform="translate(1026.7 1435.9) translate(-0.6 0) scale(0.9342 1)" font-size="15.7" font-weight="bold">CE9(n=26)</text>
<text transform="translate(840.6 1457) translate(-0.59 0) scale(0.9159 1)" font-size="15.7" font-weight="bold">CE2(n=18</text>
<text transform="translate(804.3 1496.3) translate(-0.6 0) scale(0.9275 1)" font-size="15.7" font-weight="bold">CE3(n=9)</text>
<text transform="translate(1041.6 1504.3) translate(-0.6 0) scale(0.9355 1)" font-size="15.7" font-weight="bold">CE8(n=25)</text>
<text transform="translate(787.4 1520.7) translate(-0.6 0) scale(0.9275 1)" font-size="15.7" font-weight="bold">CE4(n=2)</text>
<text transform="translate(813.5 1549) translate(-0.6 0) scale(0.9355 1)" font-size="15.7" font-weight="bold">CE5(n=14)</text>
<text transform="translate(1008.7 1562.7) translate(-0.59 0) scale(0.9197 1)" font-size="15.7" font-weight="bold">CE7(n=15)</text>
<text transform="translate(905.5 1577.1) translate(-0.59 0) scale(0.9223 1)" font-size="15.7" font-weight="bold">CE6(n=41)</text>
<text transform="translate(877.4 1682.8) translate(-2.16 0) scale(0.8854 1)" font-size="36.92" font-weight="bold" fill="#231F20">NSCLC (n=215)</text>
<path d="M1346.5 1459.5L1346.5 1294A165.5 165.5 0 0 0 1185.85 1419.74Z" fill="#D73A31"/>
<path d="M1346.5 1459.5L1185.85 1419.74A165.5 165.5 0 0 0 1182.63 1436.33Z" fill="#F7E04C"/>
<path d="M1346.5 1459.5L1182.63 1436.33A165.5 165.5 0 0 0 1182.63 1482.67Z" fill="#72B55F"/>
<path d="M1346.5 1459.5L1182.63 1482.67A165.5 165.5 0 0 0 1189.36 1511.45Z" fill="#E591BE"/>
<path d="M1346.5 1459.5L1189.36 1511.45A165.5 165.5 0 0 0 1212.36 1556.44Z" fill="#9960A7"/>
<path d="M1346.5 1459.5L1212.36 1556.44A165.5 165.5 0 0 0 1404.43 1614.53Z" fill="#A5A5A5"/>
<path d="M1346.5 1459.5L1404.43 1614.53A165.5 165.5 0 0 0 1461.26 1578.75Z" fill="#B8D5E8"/>
<path d="M1346.5 1459.5L1461.26 1578.75A165.5 165.5 0 0 0 1510.37 1482.67Z" fill="#E8D9C3"/>
<path d="M1346.5 1459.5L1510.37 1482.67A165.5 165.5 0 0 0 1448.5 1329.17Z" fill="#F29236"/>
<path d="M1346.5 1459.5L1448.5 1329.17A165.5 165.5 0 0 0 1346.5 1294Z" fill="#5088BD"/>
<path d="M1346.5 1459.5L1346.5 1292M1346.5 1459.5L1183.91 1419.25M1346.5 1459.5L1180.65 1436.05M1346.5 1459.5L1180.65 1482.95M1346.5 1459.5L1187.46 1512.07M1346.5 1459.5L1210.74 1557.61M1346.5 1459.5L1405.13 1616.41M1346.5 1459.5L1462.65 1580.19M1346.5 1459.5L1512.35 1482.95M1346.5 1459.5L1449.74 1327.6" stroke="#fff" stroke-width="4.4" fill="none"/>
<text transform="translate(1352.7 1365) translate(-0.62 0) scale(0.9563 1)" font-size="15.7" font-weight="bold">CE10(26)</text>
<text transform="translate(1263.7 1378.2) translate(-0.61 0) scale(0.9414 1)" font-size="15.7" font-weight="bold">CE1(52)</text>
<text transform="translate(1419.8 1431.2) translate(-0.62 0) scale(0.9589 1)" font-size="15.7" font-weight="bold">CE9(41)</text>
<text transform="translate(1189.8 1439.1) translate(-0.6 0) scale(0.9272 1)" font-size="15.7" font-weight="bold">CE2(4)</text>
<text transform="translate(1188.5 1469) translate(-0.62 0) scale(0.9614 1)" font-size="15.7" font-weight="bold">CE3(11)</text>
<text transform="translate(1187.3 1500) translate(-0.61 0) scale(0.9520 1)" font-size="15.7" font-weight="bold">CE4(7)</text>
<text transform="translate(1435.5 1518) translate(-0.61 0) scale(0.9466 1)" font-size="15.7" font-weight="bold">CE8(26)</text>
<text transform="translate(1199.7 1531.1) translate(-0.6 0) scale(0.9379 1)" font-size="15.7" font-weight="bold">CE5(12)</text>
<text transform="translate(1386.8 1561) translate(-0.61 0) scale(0.9414 1)" font-size="15.7" font-weight="bold">CE7(16)</text>
<text transform="translate(1290.5 1567.9) translate(-0.61 0) scale(0.9466 1)" font-size="15.7" font-weight="bold">CE6(51)</text>
<text transform="translate(1201 1682.8) translate(-2.16 0) scale(0.8862 1)" font-size="36.92" font-weight="bold" fill="#231F20">Kidney Cancer (n=246)</text>
<path d="M1720.9 1459.4L1720.9 1293.4A166 166 0 0 0 1558.78 1423.71Z" fill="#D73A31"/>
<path d="M1720.9 1459.4L1558.78 1423.71A166 166 0 0 0 1558.78 1495.09Z" fill="#F7E04C"/>
<path d="M1720.9 1459.4L1558.78 1495.09A166 166 0 0 0 1566.69 1520.84Z" fill="#72B55F"/>
<path d="M1720.9 1459.4L1566.69 1520.84A166 166 0 0 0 1613.43 1585.92Z" fill="#9960A7"/>
<path d="M1720.9 1459.4L1613.43 1585.92A166 166 0 0 0 1835.06 1579.92Z" fill="#A5A5A5"/>
<path d="M1720.9 1459.4L1835.06 1579.92A166 166 0 0 0 1867.56 1537.16Z" fill="#B8D5E8"/>
<path d="M1720.9 1459.4L1867.56 1537.16A166 166 0 0 0 1884.71 1432.54Z" fill="#E8D9C3"/>
<path d="M1720.9 1459.4L1884.71 1432.54A166 166 0 0 0 1814.06 1322Z" fill="#F29236"/>
<path d="M1720.9 1459.4L1814.06 1322A166 166 0 0 0 1720.9 1293.4Z" fill="#5088BD"/>
<path d="M1720.9 1459.4L1720.9 1291.4M1720.9 1459.4L1556.83 1423.28M1720.9 1459.4L1556.83 1495.52M1720.9 1459.4L1564.83 1521.58M1720.9 1459.4L1612.14 1587.44M1720.9 1459.4L1836.43 1581.37M1720.9 1459.4L1869.33 1538.09M1720.9 1459.4L1886.69 1432.22M1720.9 1459.4L1815.18 1320.35" stroke="#fff" stroke-width="4.4" fill="none"/>
<text transform="translate(1724.8 1358.8) translate(-0.61 0) scale(0.9505 1)" font-size="15.7" font-weight="bold">CE10(11)</text>
<text transform="translate(1627.8 1381.9) translate(-0.61 0) scale(0.9414 1)" font-size="15.7" font-weight="bold">CE1(25)</text>
<text transform="translate(1776.5 1406.8) translate(-0.61 0) scale(0.9466 1)" font-size="15.7" font-weight="bold">CE9(15)</text>
<text transform="translate(1597.5 1462) translate(-0.6 0) scale(0.9355 1)" font-size="15.7" font-weight="bold">CE2(8)</text>
<text transform="translate(1800.7 1473.2) translate(-0.61 0) scale(0.9414 1)" font-size="15.7" font-weight="bold">CE8(12)</text>
<text transform="translate(1573.3 1503) translate(-0.6 0) scale(0.9375 1)" font-size="15.7" font-weight="bold">CE3(3)</text>
<text transform="translate(1597.5 1534.9) translate(-0.61 0) scale(0.9520 1)" font-size="15.7" font-weight="bold">CE5(9)</text>
<text transform="translate(1804.6 1546.1) translate(-0.61 0) scale(0.9479 1)" font-size="15.7" font-weight="bold">CE7(6)</text>
<text transform="translate(1703.7 1549) translate(-0.61 0) scale(0.9414 1)" font-size="15.7" font-weight="bold">CE6(27)</text>
<text transform="translate(1603.7 1682.8) translate(-2.15 0) scale(0.8841 1)" font-size="36.92" font-weight="bold" fill="#231F20">Bladder Cancer (n=116)</text>
<text transform="translate(105.6 1228.6) translate(-2.77 0) scale(1.0444 1)" font-size="40.12" font-weight="bold" fill="#231F20">B</text>
<text transform="translate(490.4 1228.6) translate(-2.36 0) scale(0.8905 1)" font-size="40.12" font-weight="bold" fill="#231F20">Ecotype assignment (RNAseq) across major cancer types</text>
<text transform="translate(104.4 1837) translate(-1.67 0) scale(1.0139 1)" font-size="40.12" font-weight="bold" fill="#231F20">C</text>
<text transform="translate(584.6 1837) translate(-2.36 0) scale(0.8922 1)" font-size="40.12" font-weight="bold" fill="#231F20">Relationship with cellular composition (melanoma)</text>
<text transform="translate(386.5 1921.6) translate(-1.06 0) scale(0.8388 1)" font-size="30.96" font-weight="bold" fill="#231F20">CIBERSORT</text>
<text transform="translate(1268.5 1932.4) translate(-1.07 0) scale(0.8328 1)" font-size="31.25" font-weight="bold" fill="#231F20">CIBERSORTx (Signature matrix: Tirosh)</text>
<g shape-rendering="crispEdges">
<rect x="240.05" y="2010.1" width="41.8" height="10.96" fill="#1F77B4"/>
<rect x="240.05" y="2021.06" width="41.8" height="21.91" fill="#AEC7E8"/>
<rect x="240.05" y="2042.97" width="41.8" height="18.95" fill="#C49C94"/>
<rect x="240.05" y="2061.92" width="41.8" height="36.52" fill="#F7999A"/>
<rect x="240.05" y="2098.45" width="41.8" height="9.32" fill="#8C6D31"/>
<rect x="240.05" y="2107.77" width="41.8" height="19.98" fill="#E7BA52"/>
<rect x="240.05" y="2127.75" width="41.8" height="28.15" fill="#BD9E39"/>
<rect x="240.05" y="2155.9" width="41.8" height="13.32" fill="#9467AC"/>
<rect x="240.05" y="2169.22" width="41.8" height="1.46" fill="#8E8898"/>
<rect x="240.05" y="2170.68" width="41.8" height="2.23" fill="#7B4173"/>
<rect x="240.05" y="2172.91" width="41.8" height="78.94" fill="#5254A3"/>
<rect x="240.05" y="2251.85" width="41.8" height="14.05" fill="#6B6BB0"/>
<rect x="240.05" y="2265.9" width="41.8" height="101.37" fill="#9E9CCE"/>
<rect x="240.05" y="2367.27" width="41.8" height="2.66" fill="#BCBD34"/>
<rect x="240.05" y="2369.93" width="41.8" height="5.93" fill="#DBDB8D"/>
<rect x="240.05" y="2375.86" width="41.8" height="4.73" fill="#7F7F7F"/>
<rect x="240.05" y="2380.59" width="41.8" height="5.5" fill="#2CA24C"/>
<rect x="240.05" y="2386.09" width="41.8" height="8.12" fill="#9ED08A"/>
<rect x="240.05" y="2394.21" width="41.8" height="5.63" fill="#F58020"/>
<rect x="240.05" y="2399.84" width="41.8" height="34.76" fill="#FBB97A"/>
<rect x="240.05" y="2434.6" width="41.8" height="1.5" fill="#D62728"/>
<rect x="240.05" y="2436.1" width="41.8" height="3.7" fill="#637939"/>
<rect x="286.08" y="2010.1" width="41.8" height="16.89" fill="#1F77B4"/>
<rect x="286.08" y="2026.99" width="41.8" height="14.05" fill="#AEC7E8"/>
<rect x="286.08" y="2041.04" width="41.8" height="11.99" fill="#C49C94"/>
<rect x="286.08" y="2053.03" width="41.8" height="20.88" fill="#F7999A"/>
<rect x="286.08" y="2073.91" width="41.8" height="10.91" fill="#8C6D31"/>
<rect x="286.08" y="2084.82" width="41.8" height="25.01" fill="#E7BA52"/>
<rect x="286.08" y="2109.83" width="41.8" height="34.08" fill="#BD9E39"/>
<rect x="286.08" y="2143.91" width="41.8" height="24.84" fill="#9467AC"/>
<rect x="286.08" y="2168.75" width="41.8" height="1.5" fill="#8E8898"/>
<rect x="286.08" y="2170.25" width="41.8" height="1.46" fill="#7B4173"/>
<rect x="286.08" y="2171.71" width="41.8" height="41.21" fill="#5254A3"/>
<rect x="286.08" y="2212.92" width="41.8" height="21.14" fill="#6B6BB0"/>
<rect x="286.08" y="2234.06" width="41.8" height="75.2" fill="#9E9CCE"/>
<rect x="286.08" y="2309.26" width="41.8" height="3.7" fill="#BCBD34"/>
<rect x="286.08" y="2312.95" width="41.8" height="3.27" fill="#DBDB8D"/>
<rect x="286.08" y="2316.22" width="41.8" height="11.86" fill="#7F7F7F"/>
<rect x="286.08" y="2328.08" width="41.8" height="9.88" fill="#2CA24C"/>
<rect x="286.08" y="2337.96" width="41.8" height="10.83" fill="#9ED08A"/>
<rect x="286.08" y="2348.79" width="41.8" height="5.16" fill="#F58020"/>
<rect x="286.08" y="2353.95" width="41.8" height="69.27" fill="#FBB97A"/>
<rect x="286.08" y="2423.21" width="41.8" height="16.59" fill="#637939"/>
<rect x="332.11" y="2010.1" width="41.8" height="16.89" fill="#1F77B4"/>
<rect x="332.11" y="2026.99" width="41.8" height="3.7" fill="#AEC7E8"/>
<rect x="332.11" y="2030.68" width="41.8" height="10.36" fill="#C49C94"/>
<rect x="332.11" y="2041.04" width="41.8" height="25.91" fill="#F7999A"/>
<rect x="332.11" y="2066.95" width="41.8" height="4.13" fill="#8C6D31"/>
<rect x="332.11" y="2071.07" width="41.8" height="20.88" fill="#E7BA52"/>
<rect x="332.11" y="2091.96" width="41.8" height="22.95" fill="#BD9E39"/>
<rect x="332.11" y="2114.9" width="41.8" height="6.92" fill="#9467AC"/>
<rect x="332.11" y="2121.82" width="41.8" height="1.93" fill="#7B4173"/>
<rect x="332.11" y="2123.76" width="41.8" height="79.37" fill="#5254A3"/>
<rect x="332.11" y="2203.12" width="41.8" height="26.81" fill="#6B6BB0"/>
<rect x="332.11" y="2229.93" width="41.8" height="55.65" fill="#9E9CCE"/>
<rect x="332.11" y="2285.58" width="41.8" height="5.46" fill="#DBDB8D"/>
<rect x="332.11" y="2291.04" width="41.8" height="1.5" fill="#7F7F7F"/>
<rect x="332.11" y="2292.54" width="41.8" height="2.66" fill="#9ED08A"/>
<rect x="332.11" y="2295.21" width="41.8" height="113.83" fill="#FBB97A"/>
<rect x="332.11" y="2409.03" width="41.8" height="1.16" fill="#D62728"/>
<rect x="332.11" y="2410.19" width="41.8" height="29.61" fill="#637939"/>
<rect x="378.14" y="2010.1" width="41.8" height="9.93" fill="#1F77B4"/>
<rect x="378.14" y="2020.03" width="41.8" height="2.19" fill="#AEC7E8"/>
<rect x="378.14" y="2022.22" width="41.8" height="21.79" fill="#F7999A"/>
<rect x="378.14" y="2044" width="41.8" height="3.82" fill="#E7BA52"/>
<rect x="378.14" y="2047.83" width="41.8" height="31.67" fill="#BD9E39"/>
<rect x="378.14" y="2079.5" width="41.8" height="8.59" fill="#9467AC"/>
<rect x="378.14" y="2088.09" width="41.8" height="0.86" fill="#8E8898"/>
<rect x="378.14" y="2088.95" width="41.8" height="0.9" fill="#7B4173"/>
<rect x="378.14" y="2089.85" width="41.8" height="174.11" fill="#5254A3"/>
<rect x="378.14" y="2263.97" width="41.8" height="19.98" fill="#6B6BB0"/>
<rect x="378.14" y="2283.95" width="41.8" height="85.98" fill="#9E9CCE"/>
<rect x="378.14" y="2369.93" width="41.8" height="16.16" fill="#BCBD34"/>
<rect x="378.14" y="2386.09" width="41.8" height="18.95" fill="#FBB97A"/>
<rect x="378.14" y="2405.04" width="41.8" height="34.76" fill="#637939"/>
<rect x="424.17" y="2010.1" width="41.8" height="4" fill="#1F77B4"/>
<rect x="424.17" y="2014.1" width="41.8" height="69.7" fill="#AEC7E8"/>
<rect x="424.17" y="2083.79" width="41.8" height="6.53" fill="#C49C94"/>
<rect x="424.17" y="2090.32" width="41.8" height="26.94" fill="#F7999A"/>
<rect x="424.17" y="2117.27" width="41.8" height="26.64" fill="#8C6D31"/>
<rect x="424.17" y="2143.91" width="41.8" height="24.84" fill="#E7BA52"/>
<rect x="424.17" y="2168.75" width="41.8" height="24.45" fill="#BD9E39"/>
<rect x="424.17" y="2193.2" width="41.8" height="1.76" fill="#9467AC"/>
<rect x="424.17" y="2194.96" width="41.8" height="30.25" fill="#7B4173"/>
<rect x="424.17" y="2225.21" width="41.8" height="44.82" fill="#5254A3"/>
<rect x="424.17" y="2270.03" width="41.8" height="7.99" fill="#6B6BB0"/>
<rect x="424.17" y="2278.02" width="41.8" height="49.76" fill="#9E9CCE"/>
<rect x="424.17" y="2327.78" width="41.8" height="12.12" fill="#BCBD34"/>
<rect x="424.17" y="2339.89" width="41.8" height="8.12" fill="#DBDB8D"/>
<rect x="424.17" y="2348.02" width="41.8" height="6.4" fill="#7F7F7F"/>
<rect x="424.17" y="2354.42" width="41.8" height="7.39" fill="#2CA24C"/>
<rect x="424.17" y="2361.81" width="41.8" height="2.49" fill="#9ED08A"/>
<rect x="424.17" y="2364.3" width="41.8" height="55.09" fill="#FBB97A"/>
<rect x="424.17" y="2419.39" width="41.8" height="17.02" fill="#D62728"/>
<rect x="424.17" y="2436.41" width="41.8" height="3.39" fill="#637939"/>
<rect x="470.2" y="2010.1" width="41.8" height="10.96" fill="#1F77B4"/>
<rect x="470.2" y="2021.06" width="41.8" height="21.01" fill="#AEC7E8"/>
<rect x="470.2" y="2042.07" width="41.8" height="17.02" fill="#C49C94"/>
<rect x="470.2" y="2059.09" width="41.8" height="39.83" fill="#F7999A"/>
<rect x="470.2" y="2098.92" width="41.8" height="4.86" fill="#8C6D31"/>
<rect x="470.2" y="2103.77" width="41.8" height="35.36" fill="#E7BA52"/>
<rect x="470.2" y="2139.14" width="41.8" height="13.79" fill="#BD9E39"/>
<rect x="470.2" y="2152.93" width="41.8" height="15.51" fill="#9467AC"/>
<rect x="470.2" y="2168.44" width="41.8" height="1.8" fill="#7B4173"/>
<rect x="470.2" y="2170.25" width="41.8" height="37.73" fill="#5254A3"/>
<rect x="470.2" y="2207.98" width="41.8" height="12.89" fill="#6B6BB0"/>
<rect x="470.2" y="2220.87" width="41.8" height="110.13" fill="#9E9CCE"/>
<rect x="470.2" y="2331" width="41.8" height="1.93" fill="#BCBD34"/>
<rect x="470.2" y="2332.93" width="41.8" height="15.56" fill="#DBDB8D"/>
<rect x="470.2" y="2348.49" width="41.8" height="8.12" fill="#7F7F7F"/>
<rect x="470.2" y="2356.61" width="41.8" height="4.3" fill="#2CA24C"/>
<rect x="470.2" y="2360.91" width="41.8" height="5.93" fill="#9ED08A"/>
<rect x="470.2" y="2366.84" width="41.8" height="44.09" fill="#F58020"/>
<rect x="470.2" y="2410.92" width="41.8" height="22.22" fill="#FBB97A"/>
<rect x="470.2" y="2433.14" width="41.8" height="1.76" fill="#D62728"/>
<rect x="470.2" y="2434.9" width="41.8" height="4.9" fill="#637939"/>
<rect x="516.23" y="2010.1" width="41.8" height="14.78" fill="#1F77B4"/>
<rect x="516.23" y="2024.88" width="41.8" height="23.55" fill="#AEC7E8"/>
<rect x="516.23" y="2048.43" width="41.8" height="23.38" fill="#C49C94"/>
<rect x="516.23" y="2071.8" width="41.8" height="31.11" fill="#F7999A"/>
<rect x="516.23" y="2102.92" width="41.8" height="8.12" fill="#8C6D31"/>
<rect x="516.23" y="2111.04" width="41.8" height="15.86" fill="#E7BA52"/>
<rect x="516.23" y="2126.89" width="41.8" height="34.16" fill="#BD9E39"/>
<rect x="516.23" y="2161.05" width="41.8" height="19.85" fill="#9467AC"/>
<rect x="516.23" y="2180.91" width="41.8" height="1.93" fill="#8E8898"/>
<rect x="516.23" y="2182.84" width="41.8" height="6.06" fill="#7B4173"/>
<rect x="516.23" y="2188.9" width="41.8" height="58.18" fill="#5254A3"/>
<rect x="516.23" y="2247.08" width="41.8" height="21.79" fill="#6B6BB0"/>
<rect x="516.23" y="2268.87" width="41.8" height="90.71" fill="#9E9CCE"/>
<rect x="516.23" y="2359.58" width="41.8" height="2.54" fill="#BCBD34"/>
<rect x="516.23" y="2362.11" width="41.8" height="5.89" fill="#DBDB8D"/>
<rect x="516.23" y="2368" width="41.8" height="6.66" fill="#7F7F7F"/>
<rect x="516.23" y="2374.66" width="41.8" height="11.43" fill="#2CA24C"/>
<rect x="516.23" y="2386.09" width="41.8" height="4.43" fill="#9ED08A"/>
<rect x="516.23" y="2390.51" width="41.8" height="3.7" fill="#F58020"/>
<rect x="516.23" y="2394.21" width="41.8" height="37.17" fill="#FBB97A"/>
<rect x="516.23" y="2431.38" width="41.8" height="2.79" fill="#D62728"/>
<rect x="516.23" y="2434.17" width="41.8" height="5.63" fill="#637939"/>
<rect x="562.26" y="2010.1" width="41.8" height="21.01" fill="#1F77B4"/>
<rect x="562.26" y="2031.11" width="41.8" height="31.37" fill="#AEC7E8"/>
<rect x="562.26" y="2062.48" width="41.8" height="32.57" fill="#C49C94"/>
<rect x="562.26" y="2095.05" width="41.8" height="37" fill="#F7999A"/>
<rect x="562.26" y="2132.05" width="41.8" height="10.05" fill="#8C6D31"/>
<rect x="562.26" y="2142.1" width="41.8" height="19.68" fill="#E7BA52"/>
<rect x="562.26" y="2161.78" width="41.8" height="42.5" fill="#BD9E39"/>
<rect x="562.26" y="2204.28" width="41.8" height="29.35" fill="#9467AC"/>
<rect x="562.26" y="2233.63" width="41.8" height="4.13" fill="#7B4173"/>
<rect x="562.26" y="2237.76" width="41.8" height="40.43" fill="#5254A3"/>
<rect x="562.26" y="2278.19" width="41.8" height="9.63" fill="#6B6BB0"/>
<rect x="562.26" y="2287.82" width="41.8" height="83.45" fill="#9E9CCE"/>
<rect x="562.26" y="2371.26" width="41.8" height="3.7" fill="#BCBD34"/>
<rect x="562.26" y="2374.96" width="41.8" height="14.09" fill="#DBDB8D"/>
<rect x="562.26" y="2389.05" width="41.8" height="2.36" fill="#7F7F7F"/>
<rect x="562.26" y="2391.42" width="41.8" height="3.7" fill="#2CA24C"/>
<rect x="562.26" y="2395.11" width="41.8" height="6.19" fill="#9ED08A"/>
<rect x="562.26" y="2401.3" width="41.8" height="3.74" fill="#F58020"/>
<rect x="562.26" y="2405.04" width="41.8" height="31.07" fill="#FBB97A"/>
<rect x="562.26" y="2436.1" width="41.8" height="1.93" fill="#D62728"/>
<rect x="562.26" y="2438.04" width="41.8" height="1.76" fill="#637939"/>
<rect x="608.29" y="2010.1" width="41.8" height="23.68" fill="#1F77B4"/>
<rect x="608.29" y="2033.78" width="41.8" height="10.53" fill="#AEC7E8"/>
<rect x="608.29" y="2044.3" width="41.8" height="17.62" fill="#C49C94"/>
<rect x="608.29" y="2061.92" width="41.8" height="81.08" fill="#F7999A"/>
<rect x="608.29" y="2143.01" width="41.8" height="2.06" fill="#8C6D31"/>
<rect x="608.29" y="2145.07" width="41.8" height="11.86" fill="#E7BA52"/>
<rect x="608.29" y="2156.93" width="41.8" height="60.67" fill="#BD9E39"/>
<rect x="608.29" y="2217.6" width="41.8" height="15.3" fill="#9467AC"/>
<rect x="608.29" y="2232.9" width="41.8" height="1.16" fill="#8E8898"/>
<rect x="608.29" y="2234.06" width="41.8" height="5.2" fill="#7B4173"/>
<rect x="608.29" y="2239.26" width="41.8" height="42.93" fill="#5254A3"/>
<rect x="608.29" y="2282.19" width="41.8" height="47.78" fill="#6B6BB0"/>
<rect x="608.29" y="2329.97" width="41.8" height="58.01" fill="#9E9CCE"/>
<rect x="608.29" y="2387.98" width="41.8" height="1.07" fill="#BCBD34"/>
<rect x="608.29" y="2389.05" width="41.8" height="16.24" fill="#DBDB8D"/>
<rect x="608.29" y="2405.3" width="41.8" height="5.93" fill="#7F7F7F"/>
<rect x="608.29" y="2411.22" width="41.8" height="7.86" fill="#2CA24C"/>
<rect x="608.29" y="2419.09" width="41.8" height="15.51" fill="#FBB97A"/>
<rect x="608.29" y="2434.6" width="41.8" height="3.44" fill="#D62728"/>
<rect x="608.29" y="2438.04" width="41.8" height="1.76" fill="#637939"/>
<rect x="654.32" y="2010.1" width="41.8" height="71.63" fill="#1F77B4"/>
<rect x="654.32" y="2081.73" width="41.8" height="63.81" fill="#AEC7E8"/>
<rect x="654.32" y="2145.54" width="41.8" height="18.18" fill="#C49C94"/>
<rect x="654.32" y="2163.72" width="41.8" height="37.17" fill="#F7999A"/>
<rect x="654.32" y="2200.89" width="41.8" height="36.14" fill="#8C6D31"/>
<rect x="654.32" y="2237.02" width="41.8" height="38.8" fill="#E7BA52"/>
<rect x="654.32" y="2275.83" width="41.8" height="35.19" fill="#BD9E39"/>
<rect x="654.32" y="2311.02" width="41.8" height="17.02" fill="#9467AC"/>
<rect x="654.32" y="2328.04" width="41.8" height="1.8" fill="#8E8898"/>
<rect x="654.32" y="2329.84" width="41.8" height="3.09" fill="#7B4173"/>
<rect x="654.32" y="2332.93" width="41.8" height="25.01" fill="#5254A3"/>
<rect x="654.32" y="2357.94" width="41.8" height="15.98" fill="#6B6BB0"/>
<rect x="654.32" y="2373.93" width="41.8" height="33" fill="#9E9CCE"/>
<rect x="654.32" y="2406.93" width="41.8" height="3.14" fill="#BCBD34"/>
<rect x="654.32" y="2410.06" width="41.8" height="3.82" fill="#DBDB8D"/>
<rect x="654.32" y="2413.89" width="41.8" height="3.27" fill="#7F7F7F"/>
<rect x="654.32" y="2417.15" width="41.8" height="3.7" fill="#2CA24C"/>
<rect x="654.32" y="2420.85" width="41.8" height="3.09" fill="#9ED08A"/>
<rect x="654.32" y="2423.94" width="41.8" height="4.9" fill="#F58020"/>
<rect x="654.32" y="2428.84" width="41.8" height="9.2" fill="#FBB97A"/>
<rect x="654.32" y="2438.04" width="41.8" height="1.03" fill="#D62728"/>
<rect x="654.32" y="2439.07" width="41.8" height="0.73" fill="#637939"/>
</g>
<path d="M233.4 1988.5V2461.2H701.8" fill="none" stroke="#000" stroke-width="5" stroke-linecap="butt" stroke-linejoin="miter"/>
<path d="M224.2 2440.1H230.9M224.2 2332.68H230.9M224.2 2225.25H230.9M224.2 2117.83H230.9M224.2 2010.4H230.9M260.95 2463.7V2470.2M306.98 2463.7V2470.2M353.01 2463.7V2470.2M399.04 2463.7V2470.2M445.07 2463.7V2470.2M491.1 2463.7V2470.2M537.13 2463.7V2470.2M583.16 2463.7V2470.2M629.19 2463.7V2470.2M675.22 2463.7V2470.2" stroke="#333" stroke-width="4.6" fill="none"/>
<text transform="translate(214.8 2448.6) translate(-50.23 0) scale(1.0469 1)" font-size="25.15" fill="#4D4D4D">0.00</text>
<text transform="translate(214.8 2341.18) translate(-50.23 0) scale(1.0486 1)" font-size="25.15" fill="#4D4D4D">0.25</text>
<text transform="translate(214.8 2233.75) translate(-50.23 0) scale(1.0469 1)" font-size="25.15" fill="#4D4D4D">0.50</text>
<text transform="translate(214.8 2126.33) translate(-50.23 0) scale(1.0486 1)" font-size="25.15" fill="#4D4D4D">0.75</text>
<text transform="translate(214.8 2018.9) translate(-48.74 0) scale(1.0159 1)" font-size="25.15" fill="#4D4D4D">1.00</text>
<text transform="translate(268.95 2488.7) rotate(-46) translate(-47.7 0) scale(0.9300 1)" font-size="27.03" fill="#4D4D4D">CE1</text>
<text transform="translate(314.98 2488.7) rotate(-46) translate(-47.64 0) scale(0.9300 1)" font-size="27.03" fill="#4D4D4D">CE2</text>
<text transform="translate(361.01 2488.7) rotate(-46) translate(-47.82 0) scale(0.9300 1)" font-size="27.03" fill="#4D4D4D">CE3</text>
<text transform="translate(407.04 2488.7) rotate(-46) translate(-48.17 0) scale(0.9300 1)" font-size="27.03" fill="#4D4D4D">CE4</text>
<text transform="translate(453.07 2488.7) rotate(-46) translate(-47.87 0) scale(0.9300 1)" font-size="27.03" fill="#4D4D4D">CE5</text>
<text transform="translate(499.1 2488.7) rotate(-46) translate(-47.82 0) scale(0.9300 1)" font-size="27.03" fill="#4D4D4D">CE6</text>
<text transform="translate(545.13 2488.7) rotate(-46) translate(-47.64 0) scale(0.9300 1)" font-size="27.03" fill="#4D4D4D">CE7</text>
<text transform="translate(591.16 2488.7) rotate(-46) translate(-47.82 0) scale(0.9300 1)" font-size="27.03" fill="#4D4D4D">CE8</text>
<text transform="translate(637.19 2488.7) rotate(-46) translate(-47.72 0) scale(0.9300 1)" font-size="27.03" fill="#4D4D4D">CE9</text>
<text transform="translate(683.22 2488.7) rotate(-46) translate(-61.93 0) scale(0.9300 1)" font-size="27.03" fill="#4D4D4D">CE10</text>
<text transform="translate(149.5 2383.8) rotate(-90) translate(-2.62 0) scale(0.8946 1)" font-size="35.76">Relative Abundance</text>
<g shape-rendering="crispEdges">
<rect x="1300" y="2017.1" width="41.5" height="0.73" fill="#1F77B4"/>
<rect x="1300" y="2017.83" width="41.5" height="1.07" fill="#F7999A"/>
<rect x="1300" y="2018.9" width="41.5" height="25.32" fill="#8C6D31"/>
<rect x="1300" y="2044.22" width="41.5" height="48.76" fill="#5254A3"/>
<rect x="1300" y="2092.99" width="41.5" height="2.23" fill="#BCBD34"/>
<rect x="1300" y="2095.22" width="41.5" height="3.69" fill="#AEC7E8"/>
<rect x="1300" y="2098.9" width="41.5" height="189.01" fill="#F08E35"/>
<rect x="1300" y="2287.91" width="41.5" height="157.69" fill="#F8DC4E"/>
<rect x="1345.92" y="2017.1" width="41.5" height="0.43" fill="#1F77B4"/>
<rect x="1345.92" y="2017.53" width="41.5" height="14.4" fill="#8C6D31"/>
<rect x="1345.92" y="2031.93" width="41.5" height="28.15" fill="#5254A3"/>
<rect x="1345.92" y="2060.08" width="41.5" height="1.93" fill="#BCBD34"/>
<rect x="1345.92" y="2062.01" width="41.5" height="2.06" fill="#AEC7E8"/>
<rect x="1345.92" y="2064.06" width="41.5" height="119.17" fill="#F08E35"/>
<rect x="1345.92" y="2183.23" width="41.5" height="262.37" fill="#F8DC4E"/>
<rect x="1391.84" y="2017.1" width="41.5" height="0.43" fill="#1F77B4"/>
<rect x="1391.84" y="2017.53" width="41.5" height="25.8" fill="#8C6D31"/>
<rect x="1391.84" y="2043.32" width="41.5" height="60.46" fill="#5254A3"/>
<rect x="1391.84" y="2103.79" width="41.5" height="3.26" fill="#BCBD34"/>
<rect x="1391.84" y="2107.04" width="41.5" height="1.93" fill="#AEC7E8"/>
<rect x="1391.84" y="2108.97" width="41.5" height="102.24" fill="#F08E35"/>
<rect x="1391.84" y="2211.21" width="41.5" height="234.39" fill="#F8DC4E"/>
<rect x="1437.76" y="2017.1" width="41.5" height="21.77" fill="#8C6D31"/>
<rect x="1437.76" y="2038.87" width="41.5" height="34.54" fill="#5254A3"/>
<rect x="1437.76" y="2073.4" width="41.5" height="2.66" fill="#BCBD34"/>
<rect x="1437.76" y="2076.06" width="41.5" height="6.68" fill="#AEC7E8"/>
<rect x="1437.76" y="2082.75" width="41.5" height="317.99" fill="#F08E35"/>
<rect x="1437.76" y="2400.74" width="41.5" height="44.86" fill="#F8DC4E"/>
<rect x="1483.68" y="2017.1" width="41.5" height="1.93" fill="#1F77B4"/>
<rect x="1483.68" y="2019.03" width="41.5" height="3.56" fill="#F7999A"/>
<rect x="1483.68" y="2022.58" width="41.5" height="80.77" fill="#8C6D31"/>
<rect x="1483.68" y="2103.36" width="41.5" height="69.33" fill="#5254A3"/>
<rect x="1483.68" y="2172.69" width="41.5" height="1.2" fill="#AEC7E8"/>
<rect x="1483.68" y="2173.89" width="41.5" height="64.45" fill="#F08E35"/>
<rect x="1483.68" y="2238.33" width="41.5" height="207.27" fill="#F8DC4E"/>
<rect x="1529.6" y="2017.1" width="41.5" height="1.03" fill="#F7999A"/>
<rect x="1529.6" y="2018.13" width="41.5" height="28.58" fill="#8C6D31"/>
<rect x="1529.6" y="2046.71" width="41.5" height="72.55" fill="#5254A3"/>
<rect x="1529.6" y="2119.25" width="41.5" height="2.53" fill="#BCBD34"/>
<rect x="1529.6" y="2121.78" width="41.5" height="5.18" fill="#AEC7E8"/>
<rect x="1529.6" y="2126.97" width="41.5" height="188.8" fill="#F08E35"/>
<rect x="1529.6" y="2315.76" width="41.5" height="129.84" fill="#F8DC4E"/>
<rect x="1575.52" y="2017.1" width="41.5" height="1.03" fill="#1F77B4"/>
<rect x="1575.52" y="2018.13" width="41.5" height="13.5" fill="#8C6D31"/>
<rect x="1575.52" y="2031.63" width="41.5" height="28.11" fill="#5254A3"/>
<rect x="1575.52" y="2059.74" width="41.5" height="1.03" fill="#BCBD34"/>
<rect x="1575.52" y="2060.76" width="41.5" height="35.27" fill="#F08E35"/>
<rect x="1575.52" y="2096.03" width="41.5" height="349.57" fill="#F8DC4E"/>
<rect x="1621.44" y="2017.1" width="41.5" height="0.64" fill="#1F77B4"/>
<rect x="1621.44" y="2017.74" width="41.5" height="1.16" fill="#F7999A"/>
<rect x="1621.44" y="2018.9" width="41.5" height="17.74" fill="#8C6D31"/>
<rect x="1621.44" y="2036.64" width="41.5" height="38.35" fill="#5254A3"/>
<rect x="1621.44" y="2074.99" width="41.5" height="1.76" fill="#BCBD34"/>
<rect x="1621.44" y="2076.75" width="41.5" height="66.33" fill="#F08E35"/>
<rect x="1621.44" y="2143.08" width="41.5" height="302.52" fill="#F8DC4E"/>
<rect x="1667.36" y="2017.1" width="41.5" height="2.96" fill="#1F77B4"/>
<rect x="1667.36" y="2020.06" width="41.5" height="17.01" fill="#F7999A"/>
<rect x="1667.36" y="2037.07" width="41.5" height="32.61" fill="#8C6D31"/>
<rect x="1667.36" y="2069.68" width="41.5" height="114.71" fill="#5254A3"/>
<rect x="1667.36" y="2184.39" width="41.5" height="1.11" fill="#BCBD34"/>
<rect x="1667.36" y="2185.5" width="41.5" height="2.14" fill="#AEC7E8"/>
<rect x="1667.36" y="2187.64" width="41.5" height="53.22" fill="#F08E35"/>
<rect x="1667.36" y="2240.86" width="41.5" height="204.74" fill="#F8DC4E"/>
<rect x="1713.28" y="2017.1" width="41.5" height="13.63" fill="#1F77B4"/>
<rect x="1713.28" y="2030.73" width="41.5" height="1.93" fill="#F7999A"/>
<rect x="1713.28" y="2032.65" width="41.5" height="109.1" fill="#8C6D31"/>
<rect x="1713.28" y="2141.75" width="41.5" height="54.81" fill="#5254A3"/>
<rect x="1713.28" y="2196.56" width="41.5" height="0.94" fill="#BCBD34"/>
<rect x="1713.28" y="2197.5" width="41.5" height="14.57" fill="#AEC7E8"/>
<rect x="1713.28" y="2212.07" width="41.5" height="72.89" fill="#F08E35"/>
<rect x="1713.28" y="2284.96" width="41.5" height="160.64" fill="#F8DC4E"/>
</g>
<path d="M1293.3 1995.9V2466.6H1761.2" fill="none" stroke="#000" stroke-width="5" stroke-linecap="butt" stroke-linejoin="miter"/>
<path d="M1284.1 2445.9H1290.8M1284.1 2338.78H1290.8M1284.1 2231.65H1290.8M1284.1 2124.53H1290.8M1284.1 2017.4H1290.8M1320.75 2469.1V2475.6M1366.67 2469.1V2475.6M1412.59 2469.1V2475.6M1458.51 2469.1V2475.6M1504.43 2469.1V2475.6M1550.35 2469.1V2475.6M1596.27 2469.1V2475.6M1642.19 2469.1V2475.6M1688.11 2469.1V2475.6M1734.03 2469.1V2475.6" stroke="#333" stroke-width="4.6" fill="none"/>
<text transform="translate(1274.7 2454.4) translate(-50.23 0) scale(1.0469 1)" font-size="25.15" fill="#4D4D4D">0.00</text>
<text transform="translate(1274.7 2347.28) translate(-50.23 0) scale(1.0486 1)" font-size="25.15" fill="#4D4D4D">0.25</text>
<text transform="translate(1274.7 2240.15) translate(-50.23 0) scale(1.0469 1)" font-size="25.15" fill="#4D4D4D">0.50</text>
<text transform="translate(1274.7 2133.03) translate(-50.23 0) scale(1.0486 1)" font-size="25.15" fill="#4D4D4D">0.75</text>
<text transform="translate(1274.7 2025.9) translate(-48.74 0) scale(1.0159 1)" font-size="25.15" fill="#4D4D4D">1.00</text>
<text transform="translate(1328.75 2494.1) rotate(-46) translate(-47.7 0) scale(0.9300 1)" font-size="27.03" fill="#4D4D4D">CE1</text>
<text transform="translate(1374.67 2494.1) rotate(-46) translate(-47.64 0) scale(0.9300 1)" font-size="27.03" fill="#4D4D4D">CE2</text>
<text transform="translate(1420.59 2494.1) rotate(-46) translate(-47.82 0) scale(0.9300 1)" font-size="27.03" fill="#4D4D4D">CE3</text>
<text transform="translate(1466.51 2494.1) rotate(-46) translate(-48.17 0) scale(0.9300 1)" font-size="27.03" fill="#4D4D4D">CE4</text>
<text transform="translate(1512.43 2494.1) rotate(-46) translate(-47.87 0) scale(0.9300 1)" font-size="27.03" fill="#4D4D4D">CE5</text>
<text transform="translate(1558.35 2494.1) rotate(-46) translate(-47.82 0) scale(0.9300 1)" font-size="27.03" fill="#4D4D4D">CE6</text>
<text transform="translate(1604.27 2494.1) rotate(-46) translate(-47.64 0) scale(0.9300 1)" font-size="27.03" fill="#4D4D4D">CE7</text>
<text transform="translate(1650.19 2494.1) rotate(-46) translate(-47.82 0) scale(0.9300 1)" font-size="27.03" fill="#4D4D4D">CE8</text>
<text transform="translate(1696.11 2494.1) rotate(-46) translate(-47.72 0) scale(0.9300 1)" font-size="27.03" fill="#4D4D4D">CE9</text>
<text transform="translate(1742.03 2494.1) rotate(-46) translate(-61.93 0) scale(0.9300 1)" font-size="27.03" fill="#4D4D4D">CE10</text>
<text transform="translate(1211.5 2382.2) rotate(-90) translate(-2.63 0) scale(0.8978 1)" font-size="35.76">Relative Abundance</text>
<rect x="758.4" y="1991.9" width="24.2" height="23.1" fill="#1F77B4"/>
<text transform="translate(794.6 2009) translate(-1.17 0) scale(1.0250 1)" font-size="17.3">naive B cells</text>
<rect x="758.4" y="2016.84" width="24.2" height="23.1" fill="#AEC7E8"/>
<text transform="translate(794.6 2033.94) translate(-1.17 0) scale(1.0250 1)" font-size="17.3">memory B cells</text>
<rect x="758.4" y="2041.78" width="24.2" height="23.1" fill="#C49C94"/>
<text transform="translate(794.6 2058.88) translate(-1.45 0) scale(1.0250 1)" font-size="17.3">Plasma cells</text>
<rect x="758.4" y="2066.72" width="24.2" height="23.1" fill="#F7999A"/>
<text transform="translate(794.6 2083.82) translate(-0.89 0) scale(1.0250 1)" font-size="17.3">CD8 T cells</text>
<rect x="758.4" y="2091.66" width="24.2" height="23.1" fill="#8C6D31"/>
<text transform="translate(794.6 2108.76) translate(-1.17 0) scale(1.0250 1)" font-size="17.3">naive CD4 T cells</text>
<rect x="758.4" y="2116.6" width="24.2" height="23.1" fill="#E7BA52"/>
<text transform="translate(794.6 2133.7) translate(-1.17 0) scale(1.0250 1)" font-size="17.3">resting memory CD4 T cells</text>
<rect x="758.4" y="2141.54" width="24.2" height="23.1" fill="#BD9E39"/>
<text transform="translate(794.6 2158.64) translate(-0.74 0) scale(1.0250 1)" font-size="17.3">activated memory CD4 T cells</text>
<rect x="758.4" y="2166.48" width="24.2" height="23.1" fill="#9467AC"/>
<text transform="translate(794.6 2183.58) translate(-0.25 0) scale(1.0250 1)" font-size="17.3">follicular helper T cells</text>
<rect x="758.4" y="2191.42" width="24.2" height="23.1" fill="#C5B0D5"/>
<text transform="translate(794.6 2208.52) translate(-0.39 0) scale(1.0250 1)" font-size="17.3">Tregs</text>
<rect x="758.4" y="2216.36" width="24.2" height="23.1" fill="#7B4173"/>
<text transform="translate(794.6 2233.46) translate(-0.74 0) scale(1.0250 1)" font-size="17.3">gamma delta T cells</text>
<rect x="758.4" y="2241.3" width="24.2" height="23.1" fill="#5254A3"/>
<text transform="translate(794.6 2258.4) translate(-1.45 0) scale(1.0250 1)" font-size="17.3">Macrophages M0</text>
<rect x="758.4" y="2266.24" width="24.2" height="23.1" fill="#6B6BB0"/>
<text transform="translate(794.6 2283.34) translate(-1.45 0) scale(1.0250 1)" font-size="17.3">Macrophages M1</text>
<rect x="758.4" y="2291.18" width="24.2" height="23.1" fill="#9E9CCE"/>
<text transform="translate(794.6 2308.28) translate(-1.45 0) scale(1.0250 1)" font-size="17.3">Macrophages M2</text>
<rect x="758.4" y="2316.12" width="24.2" height="23.1" fill="#BCBD34"/>
<text transform="translate(794.6 2333.22) translate(-1.17 0) scale(1.0250 1)" font-size="17.3">resting NK cells</text>
<rect x="758.4" y="2341.06" width="24.2" height="23.1" fill="#DBDB8D"/>
<text transform="translate(794.6 2358.16) translate(-0.74 0) scale(1.0250 1)" font-size="17.3">activated NK cells</text>
<rect x="758.4" y="2366" width="24.2" height="23.1" fill="#7F7F7F"/>
<text transform="translate(794.6 2383.1) translate(-1.45 0) scale(1.0250 1)" font-size="17.3">Monocytes</text>
<rect x="758.4" y="2390.94" width="24.2" height="23.1" fill="#2CA24C"/>
<text transform="translate(794.6 2408.04) translate(-1.17 0) scale(1.0250 1)" font-size="17.3">resting Dendritic cells</text>
<rect x="758.4" y="2415.88" width="24.2" height="23.1" fill="#9ED08A"/>
<text transform="translate(794.6 2432.98) translate(-0.74 0) scale(1.0250 1)" font-size="17.3">activated Dendritic cells</text>
<rect x="758.4" y="2440.82" width="24.2" height="23.1" fill="#F58020"/>
<text transform="translate(794.6 2457.92) translate(-1.17 0) scale(1.0250 1)" font-size="17.3">resting Mast cells</text>
<rect x="758.4" y="2465.76" width="24.2" height="23.1" fill="#FBB97A"/>
<text transform="translate(794.6 2482.86) translate(-0.74 0) scale(1.0250 1)" font-size="17.3">activated Mast cells</text>
<rect x="758.4" y="2490.7" width="24.2" height="23.1" fill="#D62728"/>
<text transform="translate(794.6 2507.8) translate(-1.45 0) scale(1.0250 1)" font-size="17.3">Eosinophils</text>
<rect x="758.4" y="2515.64" width="24.2" height="23.1" fill="#637939"/>
<text transform="translate(794.6 2532.74) translate(-1.45 0) scale(1.0250 1)" font-size="17.3">Neutrophils</text>
<rect x="1784.3" y="2129.8" width="23.4" height="24.6" fill="#1F77B4"/>
<text transform="translate(1818.6 2148) translate(-1.31 0) scale(0.9050 1)" font-size="17.59">B cells</text>
<rect x="1784.3" y="2156.6" width="23.4" height="24.6" fill="#F7999A"/>
<text transform="translate(1818.6 2174.8) translate(-0.8 0) scale(0.9050 1)" font-size="17.59">CD8 T cells</text>
<rect x="1784.3" y="2183.4" width="23.4" height="24.6" fill="#8C6D31"/>
<text transform="translate(1818.6 2201.6) translate(-0.8 0) scale(0.9050 1)" font-size="17.59">CD4 T cells</text>
<rect x="1784.3" y="2210.2" width="23.4" height="24.6" fill="#5254A3"/>
<text transform="translate(1818.6 2228.4) translate(-1.31 0) scale(0.9050 1)" font-size="17.59">Macrophages</text>
<rect x="1784.3" y="2237" width="23.4" height="24.6" fill="#BCBD34"/>
<text transform="translate(1818.6 2255.2) translate(-1.31 0) scale(0.9050 1)" font-size="17.59">NK cells</text>
<rect x="1784.3" y="2263.8" width="23.4" height="24.6" fill="#AEC7E8"/>
<text transform="translate(1818.6 2282) translate(-1.31 0) scale(0.9050 1)" font-size="17.59">Endothelial cells</text>
<rect x="1784.3" y="2290.6" width="23.4" height="24.6" fill="#F08E35"/>
<text transform="translate(1818.6 2308.8) translate(-0.8 0) scale(0.9050 1)" font-size="17.59">CAF</text>
<rect x="1784.3" y="2317.4" width="23.4" height="24.6" fill="#F8DC4E"/>
<text transform="translate(1818.6 2335.6) translate(-1.31 0) scale(0.9050 1)" font-size="17.59">Malignant</text>
</svg></body></html>
